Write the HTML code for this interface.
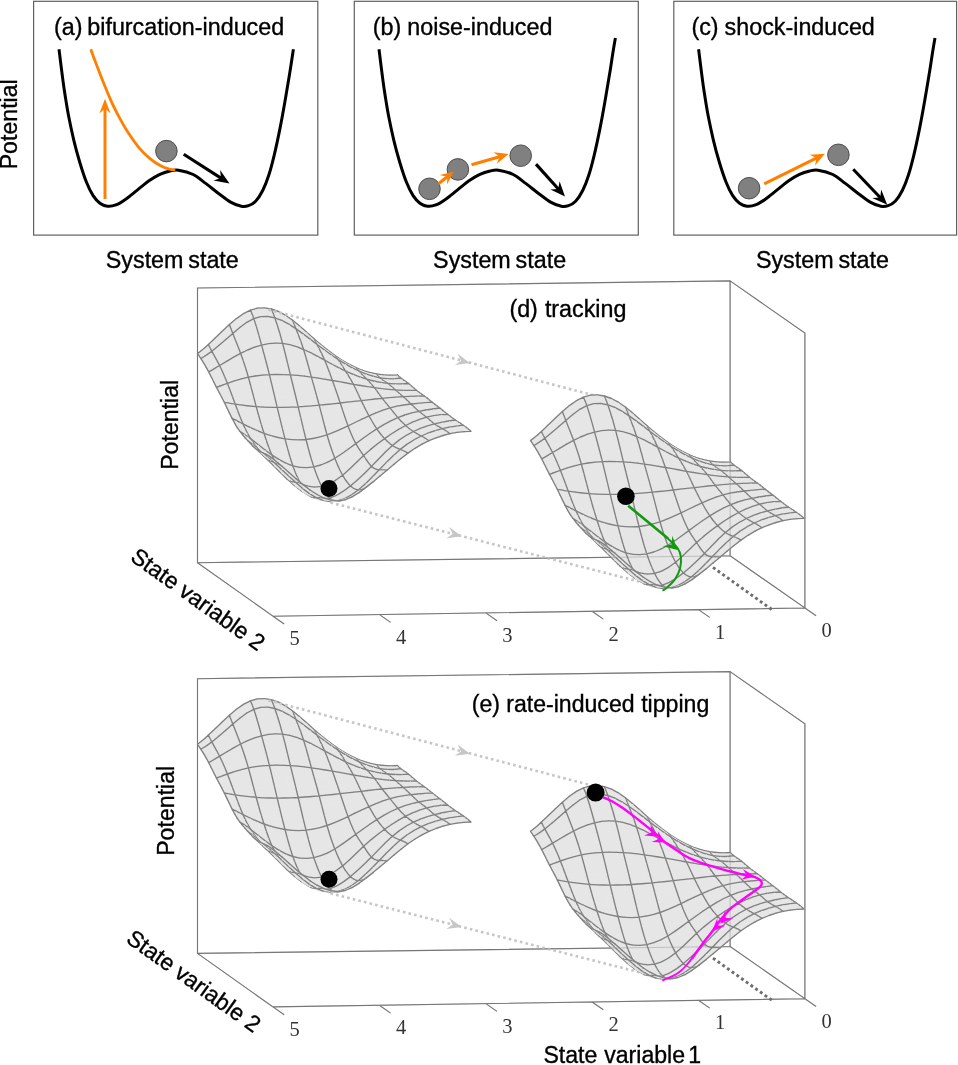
<!DOCTYPE html><html><head><meta charset="utf-8"><title>Tipping mechanisms</title>
<style>html,body{margin:0;padding:0;background:#fff}svg{display:block}text{font-family:"Liberation Sans", sans-serif;fill:#000;stroke:#000;stroke-width:.35}.s{font-family:"Liberation Serif", serif;fill:#333;stroke:none}g.sf path{fill:#e6e6e6;stroke:#e6e6e6;stroke-width:.6;stroke-linejoin:round}g.sf path.l{fill:none;stroke:#808080;stroke-width:1.35;stroke-linecap:round}</style></head><body>
<svg width="958" height="1065" viewBox="0 0 958 1065">
<rect width="958" height="1065" fill="#fff"/>
<rect x="33.6" y="1.3" width="284.2" height="233.8" fill="#fff" stroke="#606060" stroke-width="1.2"/>
<rect x="354.3" y="1.3" width="284" height="233.8" fill="#fff" stroke="#606060" stroke-width="1.2"/>
<rect x="673.8" y="1.3" width="282.8" height="233.8" fill="#fff" stroke="#606060" stroke-width="1.2"/>
<path d="M59 49.3C59.3 52 60.1 58.5 61 65.4C61.9 72.3 63.1 82.2 64.4 90.7C65.7 99.2 67.1 107.9 68.6 116.1C70.2 124.3 71.9 132.2 73.7 139.8C75.5 147.4 77.5 154.7 79.6 161.7C81.7 168.7 84.1 176.3 86.4 182C88.6 187.7 90.9 192.1 93.1 195.6C95.4 199.1 97.5 201.4 99.9 203.2C102.3 205 104.8 205.9 107.5 206.2C110.2 206.5 112.8 206.1 115.9 204.9C119 203.7 122.4 201.5 126.1 198.9C129.8 196.3 133.9 192.7 137.9 189.6C141.8 186.5 146.1 182.8 149.8 180.3C153.5 177.8 156.5 176 159.9 174.4C163.3 172.8 167 171.7 170.1 171C173.2 170.3 174.7 169.6 178.5 170.2C182.3 170.8 188.7 172.3 193.2 174.5C197.7 176.7 201.5 180.3 205.7 183.4C209.9 186.5 214.1 190.1 218.2 193.2C222.4 196.3 226.8 199.9 230.6 202.1C234.5 204.3 238.3 205.6 241.3 206.2C244.3 206.8 246.1 206.5 248.5 205.7C250.9 204.9 253.2 203.7 255.6 201.2C258 198.7 260.5 194.9 262.7 190.5C264.9 186.1 267.1 180.4 269 174.5C270.9 168.6 272.5 162.2 274.3 154.8C276.1 147.4 277.9 138.8 279.7 129.9C281.5 121 283.4 110.5 285 101.3C286.6 92.1 288.1 83.3 289.5 74.6C290.9 65.9 292.8 53.5 293.4 49.3" fill="none" stroke="#000" stroke-width="3.0" stroke-linejoin="round"/>
<path d="M90.8 49.2C91.8 52.1 94.8 60.4 97.1 66.3C99.3 72.2 101.9 78.8 104.3 84.7C106.7 90.6 109 96.3 111.5 101.8C114 107.3 116.6 112.3 119.4 117.6C122.2 122.8 125.3 128.3 128.6 133.3C131.9 138.3 135.6 143.6 139.1 147.8C142.6 152 146.2 155.4 149.7 158.3C153.2 161.2 156.9 163.7 160.2 165.5C163.5 167.3 166.9 168.4 169.4 169.1C171.9 169.8 174.3 169.8 175.3 169.9" fill="none" stroke="#ff8000" stroke-width="2.8"/>
<path d="M105 199L105 107.6" stroke="#ff8000" stroke-width="3.0" fill="none"/>
<polygon fill="#ff8000" points="105,98.8 110.6,113.4 105,108.6 99.4,113.4"/>
<circle cx="166.4" cy="151.1" r="10.8" fill="#808080" stroke="#454545" stroke-width="0.9"/>
<path d="M183.7 154.3L221.8 178.6" stroke="#000" stroke-width="3.1" fill="none"/>
<polygon fill="#000" points="229.5,183.4 213.5,180.6 221,178 220.1,170.1"/>
<text y="35" font-size="23.3"><tspan x="54.1">(a) </tspan><tspan x="87.3">bifurcation-induced</tspan></text>
<text transform="translate(17.1 169.3) rotate(-90)" font-size="23" textLength="90" lengthAdjust="spacingAndGlyphs">Potential</text>
<text y="267.7" font-size="23.3"><tspan x="105.8">System </tspan><tspan x="188.3">state</tspan></text>
<text y="267.7" font-size="23.3"><tspan x="433.1">System </tspan><tspan x="515.6">state</tspan></text>
<text y="267.7" font-size="23.3"><tspan x="755.9">System </tspan><tspan x="838.4">state</tspan></text>
<text y="35" font-size="23.3"><tspan x="372.7">(b) </tspan><tspan x="407.3">noise-induced</tspan></text>
<text y="35" font-size="23.3"><tspan x="691.4">(c) </tspan><tspan x="724.6">shock-induced</tspan></text>
<path d="M379 49.3C379.3 52 380.1 58.5 381 65.4C381.9 72.3 383.1 82.2 384.4 90.7C385.7 99.2 387.1 107.9 388.6 116.1C390.2 124.3 391.9 132.2 393.7 139.8C395.5 147.4 397.5 154.7 399.6 161.7C401.7 168.7 404.1 176.3 406.4 182C408.6 187.7 410.9 192.1 413.1 195.6C415.4 199.1 417.5 201.4 419.9 203.2C422.3 205 424.8 205.9 427.5 206.2C430.2 206.5 432.8 206.1 435.9 204.9C439 203.7 442.4 201.5 446.1 198.9C449.8 196.3 453.9 192.7 457.9 189.6C461.8 186.5 466.1 182.8 469.8 180.3C473.5 177.8 476.5 176 479.9 174.4C483.3 172.8 487 171.7 490.1 171C493.2 170.3 494.6 169.6 498.5 170.2C502.4 170.8 508.7 172.3 513.2 174.5C517.7 176.7 521.5 180.3 525.7 183.4C529.9 186.5 534.1 190.1 538.2 193.2C542.4 196.3 546.8 199.9 550.6 202.1C554.5 204.3 558.3 205.6 561.3 206.2C564.3 206.8 566.1 206.5 568.5 205.7C570.9 204.9 573.2 203.7 575.6 201.2C578 198.7 580.5 194.9 582.7 190.5C584.9 186.1 587.1 180.4 589 174.5C590.9 168.6 592.5 162.2 594.3 154.8C596.1 147.4 597.9 138.8 599.7 129.9C601.5 121 603.4 110.5 605 101.3C606.6 92.1 608.1 82.9 609.5 74.6C610.9 66.3 612.1 57.5 613.1 51.4C614.1 45.3 615 40.2 615.4 38" fill="none" stroke="#000" stroke-width="3.0" stroke-linejoin="round"/>
<circle cx="429.5" cy="188.8" r="10.8" fill="#808080" stroke="#454545" stroke-width="0.9"/>
<circle cx="457.9" cy="169.4" r="10.8" fill="#808080" stroke="#454545" stroke-width="0.9"/>
<circle cx="520.7" cy="155.7" r="10.8" fill="#808080" stroke="#454545" stroke-width="0.9"/>
<path d="M438.5 183.7L447.9 176.2" stroke="#ff8000" stroke-width="3.2" fill="none"/>
<polygon fill="#ff8000" points="453.5,171.7 447.1,184.5 447.2,176.7 439.6,175.1"/>
<path d="M471.5 164.8L500.5 156.4" stroke="#ff8000" stroke-width="3.1" fill="none"/>
<polygon fill="#ff8000" points="508.6,154.1 496.8,163.7 499.6,156.7 493.5,152.2"/>
<path d="M536 164.1L559 189.8" stroke="#000" stroke-width="3.1" fill="none"/>
<polygon fill="#000" points="565,196.5 550.4,189.5 558.3,189 559.6,181.2"/>
<path d="M698.6 49.3C698.9 52 699.7 58.5 700.6 65.4C701.5 72.3 702.7 82.2 704 90.7C705.3 99.2 706.7 107.9 708.2 116.1C709.8 124.3 711.5 132.2 713.3 139.8C715.1 147.4 717.1 154.7 719.2 161.7C721.3 168.7 723.8 176.3 726 182C728.2 187.7 730.5 192.1 732.7 195.6C735 199.1 737.1 201.4 739.5 203.2C741.9 205 744.4 205.9 747.1 206.2C749.8 206.5 752.4 206.1 755.5 204.9C758.6 203.7 762 201.5 765.7 198.9C769.4 196.3 773.5 192.7 777.5 189.6C781.5 186.5 785.7 182.8 789.4 180.3C793.1 177.8 796.1 176 799.5 174.4C802.9 172.8 806.6 171.7 809.7 171C812.8 170.3 814.2 169.6 818.1 170.2C822 170.8 828.3 172.3 832.8 174.5C837.3 176.7 841.1 180.3 845.3 183.4C849.5 186.5 853.7 190.1 857.8 193.2C862 196.3 866.4 199.9 870.2 202.1C874.1 204.3 877.9 205.6 880.9 206.2C883.9 206.8 885.7 206.5 888.1 205.7C890.5 204.9 892.8 203.7 895.2 201.2C897.6 198.7 900.1 194.9 902.3 190.5C904.5 186.1 906.7 180.4 908.6 174.5C910.5 168.6 912.1 162.2 913.9 154.8C915.7 147.4 917.5 138.8 919.3 129.9C921.1 121 923 110.5 924.6 101.3C926.2 92.1 927.8 82.9 929.1 74.6C930.5 66.3 931.7 57.5 932.7 51.4C933.7 45.3 934.6 40.2 935 38" fill="none" stroke="#000" stroke-width="3.0" stroke-linejoin="round"/>
<circle cx="749.1" cy="188.2" r="10.8" fill="#808080" stroke="#454545" stroke-width="0.9"/>
<circle cx="838.4" cy="154.8" r="10.8" fill="#808080" stroke="#454545" stroke-width="0.9"/>
<path d="M764.2 183.8L817.3 157.6" stroke="#ff8000" stroke-width="3.1" fill="none"/>
<polygon fill="#ff8000" points="824.9,153.8 815,165.4 816.5,158 809.7,154.7"/>
<path d="M853.2 169.3L880.9 198.2" stroke="#000" stroke-width="3.1" fill="none"/>
<polygon fill="#000" points="887.2,204.7 872.3,198.1 880.2,197.4 881.2,189.6"/>
<g transform="translate(0 0)">
<path d="M197.5 562.7L197.5 288L730.1 280.9L730.1 555.8ZM730.1 280.9L804.9 333.1L804.9 608L730.1 555.8M197.5 562.7L273 616.2L804.9 608M804.9 608l11.2 7.8M698.5 609.6l11.2 7.8M592.1 611.3l11.2 7.8M485.8 612.9l11.2 7.8M379.4 614.6l11.2 7.8M273 616.2l11.2 7.8" fill="none" stroke="#777" stroke-width="1.15"/>
<text class="s" x="826.5" y="637.2" font-size="20.5" text-anchor="middle">0</text>
<text class="s" x="720.1" y="638.8" font-size="20.5" text-anchor="middle">1</text>
<text class="s" x="613.7" y="640.5" font-size="20.5" text-anchor="middle">2</text>
<text class="s" x="507.4" y="642.1" font-size="20.5" text-anchor="middle">3</text>
<text class="s" x="401" y="643.8" font-size="20.5" text-anchor="middle">4</text>
<text class="s" x="294.6" y="645.4" font-size="20.5" text-anchor="middle">5</text>
<g class="sf"><path d="M390.4 375.1l7-.3 1.1 1.2-7 .6z"/>
<path class="l" d="M397.4 374.8l1.1 1.2M390.4 375.1l7-.3"/>
<path d="M383.4 374.8l7 .3 1.1 1.5-7-.2z"/>
<path class="l" d="M383.4 374.8l7 .3"/>
<path d="M376.4 373.9l7 .9 1.1 1.6-7-1z"/>
<path class="l" d="M376.4 373.9l7 .9"/>
<path d="M369.4 372.4l7 1.5 1.1 1.5-7-1.6z"/>
<path class="l" d="M376.4 373.9l1.1 1.5M369.4 372.4l7 1.5"/>
<path d="M362.4 370.3l7 2.1 1.1 1.4-7-2.2z"/>
<path class="l" d="M362.4 370.3l7 2.1"/>
<path d="M355.4 367.4l7 2.9 1.1 1.3-7-3z"/>
<path class="l" d="M355.4 367.4l7 2.9"/>
<path d="M348.4 363.9l7 3.5 1.1 1.2-7-3.5z"/>
<path class="l" d="M355.4 367.4l1.1 1.2M348.4 363.9l7 3.5"/>
<path d="M341.4 359.8l7 4.1 1.1 1.2-7-4.1z"/>
<path class="l" d="M341.4 359.8l7 4.1"/>
<path d="M391.5 376.6l7-.6 1.2 1.1-7 .7z"/>
<path class="l" d="M398.5 376l1.2 1.1"/>
<path d="M334.4 355.1l7 4.7 1.1 1.2-7-4.6z"/>
<path class="l" d="M334.4 355.1l7 4.7"/>
<path d="M384.5 376.4l7 .2 1.2 1.2-7-.1zM377.5 375.4l7 1 1.2 1.3-7-1zM327.4 349.9l7 5.2 1.1 1.3-7-5z"/>
<path class="l" d="M334.4 355.1l1.1 1.3M327.4 349.9l7 5.2"/>
<path d="M370.5 373.8l7 1.6 1.2 1.3-7-1.6z"/>
<path class="l" d="M377.5 375.4l1.2 1.3"/>
<path d="M320.4 344.3l7 5.6 1.1 1.5-7-5.4z"/>
<path class="l" d="M320.4 344.3l7 5.6"/>
<path d="M363.5 371.6l7 2.2 1.2 1.3-7-2.3zM313.4 338.3l7 6 1.1 1.7-7-5.8z"/>
<path class="l" d="M313.4 338.3l7 6"/>
<path d="M356.5 368.6l7 3 1.2 1.2-7-3zM306.4 331.9l7 6.4 1.1 1.9-7-5.9z"/>
<path class="l" d="M313.4 338.3l1.1 1.9M306.4 331.9l7 6.4"/>
<path d="M349.5 365.1l7 3.5 1.2 1.2-7-3.5z"/>
<path class="l" d="M356.5 368.6l1.2 1.2"/>
<path d="M342.5 361l7 4.1 1.2 1.2-7-4zM299.4 325.7l7 6.2 1.1 2.4-7-5.9z"/>
<path class="l" d="M299.4 325.7l7 6.2"/>
<path d="M392.7 377.8l7-.7 1.1 .9-7 .8z"/>
<path class="l" d="M399.7 377.1l1.1 .9"/>
<path d="M335.5 356.4l7 4.6 1.2 1.3-7-4.5zM292.4 320l7 5.7 1.1 2.7-7-5.5z"/>
<path class="l" d="M292.4 320l7 5.7"/>
<path d="M385.7 377.7l7 .1 1.1 1-7-.1zM378.7 376.7l7 1 1.1 1-7-.8zM328.5 351.4l7 5 1.2 1.4-7-4.9z"/>
<path class="l" d="M335.5 356.4l1.2 1.4"/>
<path d="M285.4 315.2l7 4.8 1.1 2.9-7-4.7z"/>
<path class="l" d="M292.4 320l1.1 2.9M285.4 315.2l7 4.8"/>
<path d="M371.7 375.1l7 1.6 1.1 1.2-7-1.7z"/>
<path class="l" d="M378.7 376.7l1.1 1.2"/>
<path d="M321.5 346l7 5.4 1.2 1.5-7-5.2zM278.4 311.5l7 3.7 1.1 3-7-3.8z"/>
<path class="l" d="M278.4 311.5l7 3.7"/>
<path d="M364.7 372.8l7 2.3 1.1 1.1-7-2.3zM314.5 340.2l7 5.8 1.2 1.7-7-5.5zM271.4 309l7 2.5 1.1 2.9-7-2.6z"/>
<path class="l" d="M271.4 309l7 2.5"/>
<path d="M357.7 369.8l7 3 1.1 1.1-7-2.9zM264.4 307.9l7 1.1 1.1 2.8-7-1.3z"/>
<path class="l" d="M271.4 309l1.1 2.8M264.4 307.9l7 1.1"/>
<path d="M307.5 334.3l7 5.9 1.2 2-7-5.6z"/>
<path class="l" d="M314.5 340.2l1.2 2"/>
<path d="M350.7 366.3l7 3.5 1.1 1.2-7-3.4z"/>
<path class="l" d="M357.7 369.8l1.1 1.2"/>
<path d="M257.4 308.2l7-.3 1.1 2.6-7 .2z"/>
<path class="l" d="M257.4 308.2l7-.3"/>
<path d="M250.4 310.1l7-1.9 1.1 2.5-7 1.9z"/>
<path class="l" d="M250.4 310.1l7-1.9"/>
<path d="M343.7 362.3l7 4 1.1 1.3-7-4zM300.5 328.4l7 5.9 1.2 2.3-7-5.6zM243.4 313.7l7-3.6 1.1 2.5-7 3.7z"/>
<path class="l" d="M250.4 310.1l1.1 2.5M243.4 313.7l7-3.6"/>
<path d="M236.4 318.6l7-4.9 1.1 2.6-7 5.2z"/>
<path class="l" d="M236.4 318.6l7-4.9"/>
<path d="M336.7 357.8l7 4.5 1.1 1.3-7-4.3zM229.4 324.5l7-5.9 1.1 2.9-7 6z"/>
<path class="l" d="M229.4 324.5l7-5.9"/>
<path d="M293.5 322.9l7 5.5 1.2 2.6-7-5.3zM222.4 331l7-6.5 1.1 3-7 6.5z"/>
<path class="l" d="M229.4 324.5l1.1 3M222.4 331l7-6.5"/>
<path d="M215.4 337.8l7-6.8 1.1 3-7 6.5z"/>
<path class="l" d="M215.4 337.8l7-6.8"/>
<path d="M208.4 344.4l7-6.6 1.1 2.7-7 6.3z"/>
<path class="l" d="M208.4 344.4l7-6.6"/>
<path d="M204.8 347.7l3.6-3.3 1.1 2.4-3.6 3z"/>
<path class="l" d="M208.4 344.4l1.1 2.4M204.8 347.7l3.6-3.3"/>
<path d="M201.1 350.8l3.7-3.1 1.1 2.1-3.6 2.8z"/>
<path class="l" d="M201.1 350.8l3.7-3.1"/>
<path d="M329.7 352.9l7 4.9 1.1 1.5-7-4.8z"/>
<path class="l" d="M336.7 357.8l1.1 1.5"/>
<path d="M197.5 353.6l3.6-2.8 1.2 1.8-3.7 2.6z"/>
<path class="l" d="M197.5 353.6l1.1 1.6M197.5 353.6l3.6-2.8"/>
<path d="M286.5 318.2l7 4.7 1.2 2.8-7-4.6z"/>
<path class="l" d="M293.5 322.9l1.2 2.8"/>
<path d="M322.7 347.7l7 5.2 1.1 1.6-7-5zM279.5 314.4l7 3.8 1.2 2.9-7-3.7zM272.5 311.8l7 2.6 1.2 3-7-2.7zM315.7 342.2l7 5.5 1.1 1.8-7-5.2zM393.8 378.8l7-.8 2.6 1.9-7 .8z"/>
<path class="l" d="M400.8 378l2.6 1.9M393.8 378.8l7-.8"/>
<path d="M265.5 310.5l7 1.3 1.2 2.9-7-1.3z"/>
<path class="l" d="M272.5 311.8l1.2 2.9"/>
<path d="M308.7 336.6l7 5.6 1.1 2.1-7-5.4z"/>
<path class="l" d="M315.7 342.2l1.1 2.1"/>
<path d="M386.8 378.7l7 .1 2.6 1.9-7 0z"/>
<path class="l" d="M386.8 378.7l7 .1"/>
<path d="M258.5 310.7l7-.2 1.2 2.9-7 .1zM379.8 377.9l7 .8 2.6 2-7-.8z"/>
<path class="l" d="M379.8 377.9l7 .8"/>
<path d="M251.5 312.6l7-1.9 1.2 2.8-7 1.9zM301.7 331l7 5.6 1.1 2.3-7-5.3zM244.5 316.3l7-3.7 1.2 2.8-7 3.8z"/>
<path class="l" d="M251.5 312.6l1.2 2.8"/>
<path d="M372.8 376.2l7 1.7 2.6 2-7-1.4z"/>
<path class="l" d="M379.8 377.9l2.6 2M372.8 376.2l7 1.7"/>
<path d="M237.5 321.5l7-5.2 1.2 2.9-7 5.2zM230.5 327.5l7-6 1.2 2.9-7 6.1zM294.7 325.7l7 5.3 1.1 2.6-7-5zM223.5 334l7-6.5 1.2 3-7 6.3z"/>
<path class="l" d="M230.5 327.5l1.2 3"/>
<path d="M365.8 373.9l7 2.3 2.6 2.3-7-2.1z"/>
<path class="l" d="M365.8 373.9l7 2.3"/>
<path d="M216.5 340.5l7-6.5 1.2 2.8-7 6.3zM209.5 346.8l7-6.3 1.2 2.6-7 5.9zM205.9 349.8l3.6-3 1.2 2.2-3.7 2.9z"/>
<path class="l" d="M209.5 346.8l1.2 2.2"/>
<path d="M202.3 352.6l3.6-2.8 1.1 2.1-3.6 2.6zM287.7 321.1l7 4.6 1.1 2.9-7-4.5z"/>
<path class="l" d="M294.7 325.7l1.1 2.9"/>
<path d="M198.6 355.2l3.7-2.6 1.1 1.9-3.6 2.4z"/>
<path class="l" d="M198.6 355.2l1.2 1.7"/>
<path d="M358.8 371l7 2.9 2.6 2.5-7-2.6z"/>
<path class="l" d="M358.8 371l7 2.9"/>
<path d="M280.7 317.4l7 3.7 1.1 3-7-3.7zM351.8 367.6l7 3.4 2.6 2.8-7-3.2z"/>
<path class="l" d="M358.8 371l2.6 2.8M351.8 367.6l7 3.4"/>
<path d="M273.7 314.7l7 2.7 1.1 3-7-2.6zM344.8 363.6l7 4 2.6 3-7-3.6z"/>
<path class="l" d="M344.8 363.6l7 4"/>
<path d="M266.7 313.4l7 1.3 1.1 3.1-7-1.3z"/>
<path class="l" d="M273.7 314.7l1.1 3.1"/>
<path d="M337.8 359.3l7 4.3 2.6 3.4-7-4z"/>
<path class="l" d="M337.8 359.3l7 4.3"/>
<path d="M259.7 313.5l7-.1 1.1 3.1-7 .2zM330.8 354.5l7 4.8 2.6 3.7-7-4.4z"/>
<path class="l" d="M337.8 359.3l2.6 3.7M330.8 354.5l7 4.8"/>
<path d="M252.7 315.4l7-1.9 1.1 3.2-7 1.9zM245.7 319.2l7-3.8 1.1 3.2-7 3.7z"/>
<path class="l" d="M252.7 315.4l1.1 3.2"/>
<path d="M238.7 324.4l7-5.2 1.1 3.1-7 5.2zM323.8 349.5l7 5 2.6 4.1-7-4.6z"/>
<path class="l" d="M323.8 349.5l7 5"/>
<path d="M231.7 330.5l7-6.1 1.1 3.1-7 5.9zM224.7 336.8l7-6.3 1.1 2.9-7 6.1z"/>
<path class="l" d="M231.7 330.5l1.1 2.9"/>
<path d="M217.7 343.1l7-6.3 1.1 2.7-7 6zM210.7 349l7-5.9 1.1 2.4-7 5.7zM316.8 344.3l7 5.2 2.6 4.5-7-4.9z"/>
<path class="l" d="M316.8 344.3l7 5.2"/>
<path d="M207 351.9l3.7-2.9 1.1 2.2-3.6 2.7z"/>
<path class="l" d="M210.7 349l1.1 2.2"/>
<path d="M203.4 354.5l3.6-2.6 1.2 2-3.6 2.4zM199.8 356.9l3.6-2.4 1.2 1.8-3.7 2.3z"/>
<path class="l" d="M199.8 356.9l1.1 1.7"/>
<path d="M309.8 338.9l7 5.4 2.6 4.8-7-4.9z"/>
<path class="l" d="M316.8 344.3l2.6 4.8M309.8 338.9l7 5.4"/>
<path d="M302.8 333.6l7 5.3 2.6 5.3-7-4.7z"/>
<path class="l" d="M302.8 333.6l7 5.3"/>
<path d="M295.8 328.6l7 5 2.6 5.9-7-4.5z"/>
<path class="l" d="M295.8 328.6l7 5"/>
<path d="M288.8 324.1l7 4.5 2.6 6.4-7-4z"/>
<path class="l" d="M295.8 328.6l2.6 6.4M288.8 324.1l7 4.5"/>
<path d="M396.4 380.7l7-.8 2.6 1.7-7 .6z"/>
<path class="l" d="M403.4 379.9l2.6 1.7"/>
<path d="M281.8 320.4l7 3.7 2.6 6.9-7-3.2z"/>
<path class="l" d="M281.8 320.4l7 3.7"/>
<path d="M389.4 380.7l7 0 2.6 1.5-7 0zM274.8 317.8l7 2.6 2.6 7.4-7-2.3z"/>
<path class="l" d="M274.8 317.8l7 2.6"/>
<path d="M382.4 379.9l7 .8 2.6 1.5-7-.6zM267.8 316.5l7 1.3 2.6 7.7-7-1z"/>
<path class="l" d="M274.8 317.8l2.6 7.7M267.8 316.5l7 1.3"/>
<path d="M375.4 378.5l7 1.4 2.6 1.7-7-1.2z"/>
<path class="l" d="M382.4 379.9l2.6 1.7"/>
<path d="M260.8 316.7l7-.2 2.6 8-7 .3z"/>
<path class="l" d="M260.8 316.7l7-.2"/>
<path d="M368.4 376.4l7 2.1 2.6 1.9-7-1.7zM253.8 318.6l7-1.9 2.6 8.1-7 1.8z"/>
<path class="l" d="M253.8 318.6l7-1.9"/>
<path d="M361.4 373.8l7 2.6 2.6 2.3-7-2.2zM246.8 322.3l7-3.7 2.6 8-7 3.5z"/>
<path class="l" d="M253.8 318.6l2.6 8M246.8 322.3l7-3.7"/>
<path d="M239.8 327.5l7-5.2 2.6 7.8-7 4.6z"/>
<path class="l" d="M239.8 327.5l7-5.2"/>
<path d="M232.8 333.4l7-5.9 2.6 7.2-7 5.2z"/>
<path class="l" d="M232.8 333.4l7-5.9"/>
<path d="M354.4 370.6l7 3.2 2.6 2.7-7-2.8z"/>
<path class="l" d="M361.4 373.8l2.6 2.7"/>
<path d="M225.8 339.5l7-6.1 2.6 6.5-7 5.5z"/>
<path class="l" d="M232.8 333.4l2.6 6.5M225.8 339.5l7-6.1"/>
<path d="M218.8 345.5l7-6 2.6 5.9-7 5.4z"/>
<path class="l" d="M218.8 345.5l7-6"/>
<path d="M211.8 351.2l7-5.7 2.6 5.3-7 5.1z"/>
<path class="l" d="M211.8 351.2l7-5.7"/>
<path d="M208.2 353.9l3.6-2.7 2.6 4.7-3.6 2.4z"/>
<path class="l" d="M211.8 351.2l2.6 4.7M208.2 353.9l3.6-2.7"/>
<path d="M347.4 367l7 3.6 2.6 3.1-7-3.1zM204.6 356.3l3.6-2.4 2.6 4.4-3.6 2.3z"/>
<path class="l" d="M204.6 356.3l3.6-2.4"/>
<path d="M200.9 358.6l3.7-2.3 2.6 4.3-3.7 2.1z"/>
<path class="l" d="M200.9 358.6l2.6 4.1M200.9 358.6l3.7-2.3"/>
<path d="M340.4 363l7 4 2.6 3.6-7-3.6zM333.4 358.6l7 4.4 2.6 4-7-4z"/>
<path class="l" d="M340.4 363l2.6 4"/>
<path d="M326.4 354l7 4.6 2.6 4.4-7-4.2zM319.4 349.1l7 4.9 2.6 4.8-7-4.4zM312.4 344.2l7 4.9 2.6 5.3-7-4.4z"/>
<path class="l" d="M319.4 349.1l2.6 5.3"/>
<path d="M305.4 339.5l7 4.7 2.6 5.8-7-4.3zM298.4 335l7 4.5 2.6 6.2-7-3.9zM291.4 331l7 4 2.6 6.8-7-3.4z"/>
<path class="l" d="M298.4 335l2.6 6.8"/>
<path d="M284.4 327.8l7 3.2 2.6 7.4-7-2.6zM399 382.2l7-.6 2.6 1.9-7 .4z"/>
<path class="l" d="M406 381.6l2.6 1.9"/>
<path d="M392 382.2l7 0 2.6 1.7-7-.1zM277.4 325.5l7 2.3 2.6 8-7-1.8zM385 381.6l7 .6 2.6 1.6-7-.5zM270.4 324.5l7 1 2.6 8.5-7-.6z"/>
<path class="l" d="M277.4 325.5l2.6 8.5"/>
<path d="M378 380.4l7 1.2 2.6 1.7-7-.9z"/>
<path class="l" d="M385 381.6l2.6 1.7"/>
<path d="M263.4 324.8l7-.3 2.6 8.9-7 .5zM256.4 326.6l7-1.8 2.6 9.1-7 1.7zM371 378.7l7 1.7 2.6 2-7-1.4zM249.4 330.1l7-3.5 2.6 9-7 2.9z"/>
<path class="l" d="M256.4 326.6l2.6 9"/>
<path d="M364 376.5l7 2.2 2.6 2.3-7-1.9zM242.4 334.7l7-4.6 2.6 8.4-7 3.7zM235.4 339.9l7-5.2 2.6 7.5-7 4.3zM228.4 345.4l7-5.5 2.6 6.6-7 4.6z"/>
<path class="l" d="M235.4 339.9l2.6 6.6"/>
<path d="M357 373.7l7 2.8 2.6 2.6-7-2.2z"/>
<path class="l" d="M364 376.5l2.6 2.6"/>
<path d="M221.4 350.8l7-5.4 2.6 5.7-7 4.8zM214.4 355.9l7-5.1 2.6 5.1-7 4.7zM210.8 358.3l3.6-2.4 2.6 4.7-3.6 2.3z"/>
<path class="l" d="M214.4 355.9l2.6 4.7"/>
<path d="M350 370.6l7 3.1 2.6 3.2-7-2.7zM207.2 360.6l3.6-2.3 2.6 4.6-3.6 2.2zM203.5 362.7l3.7-2.1 2.6 4.5-3.7 2z"/>
<path class="l" d="M203.5 362.7l2.6 4.4"/>
<path d="M343 367l7 3.6 2.6 3.6-7-3.1zM336 363l7 4 2.6 4.1-7-3.4z"/>
<path class="l" d="M343 367l2.6 4.1"/>
<path d="M329 358.8l7 4.2 2.6 4.7-7-3.7zM322 354.4l7 4.4 2.6 5.2-7-3.9zM315 350l7 4.4 2.6 5.7-7-3.8z"/>
<path class="l" d="M322 354.4l2.6 5.7"/>
<path d="M308 345.7l7 4.3 2.6 6.3-7-3.6zM301 341.8l7 3.9 2.6 7-7-3.2zM294 338.4l7 3.4 2.6 7.7-7-2.8z"/>
<path class="l" d="M301 341.8l2.6 7.7"/>
<path d="M287 335.8l7 2.6 2.6 8.3-7-2.1zM401.6 383.9l7-.4 2.6 2.2-7 .2z"/>
<path class="l" d="M408.6 383.5l2.6 2.2M401.6 383.9l7-.4"/>
<path d="M280 334l7 1.8 2.6 8.8-7-1.2zM394.6 383.8l7 .1 2.6 2-7-.1z"/>
<path class="l" d="M394.6 383.8l7 .1"/>
<path d="M273 333.4l7 .6 2.6 9.4-7-.3z"/>
<path class="l" d="M280 334l2.6 9.4"/>
<path d="M387.6 383.3l7 .5 2.6 2-7-.4z"/>
<path class="l" d="M387.6 383.3l7 .5"/>
<path d="M266 333.9l7-.5 2.6 9.7-7 .6zM380.6 382.4l7 .9 2.6 2.1-7-.9z"/>
<path class="l" d="M387.6 383.3l2.6 2.1M380.6 382.4l7 .9"/>
<path d="M259 335.6l7-1.7 2.6 9.8-7 1.4zM252 338.5l7-2.9 2.6 9.5-7 2.1z"/>
<path class="l" d="M259 335.6l2.6 9.5"/>
<path d="M373.6 381l7 1.4 2.6 2.1-7-1.2z"/>
<path class="l" d="M373.6 381l7 1.4"/>
<path d="M245 342.2l7-3.7 2.6 8.7-7 2.8zM366.6 379.1l7 1.9 2.6 2.3-7-1.5z"/>
<path class="l" d="M366.6 379.1l7 1.9"/>
<path d="M238 346.5l7-4.3 2.6 7.8-7 3.3zM231 351.1l7-4.6 2.6 6.8-7 3.8z"/>
<path class="l" d="M238 346.5l2.6 6.8"/>
<path d="M224 355.9l7-4.8 2.6 6-7 4.2zM359.6 376.9l7 2.2 2.6 2.7-7-1.9z"/>
<path class="l" d="M366.6 379.1l2.6 2.7M359.6 376.9l7 2.2"/>
<path d="M217 360.6l7-4.7 2.6 5.4-7 4.2zM213.4 362.9l3.6-2.3 2.6 4.9-3.6 2.2z"/>
<path class="l" d="M217 360.6l2.6 4.9"/>
<path d="M209.8 365.1l3.6-2.2 2.6 4.8-3.6 2.1zM352.6 374.2l7 2.7 2.6 3-7-2.1z"/>
<path class="l" d="M352.6 374.2l7 2.7"/>
<path d="M206.1 367.1l3.7-2 2.6 4.7-3.7 2.1z"/>
<path class="l" d="M206.1 367.1l2.6 4.8"/>
<path d="M345.6 371.1l7 3.1 2.6 3.6-7-2.5z"/>
<path class="l" d="M345.6 371.1l7 3.1"/>
<path d="M338.6 367.7l7 3.4 2.6 4.2-7-2.8z"/>
<path class="l" d="M345.6 371.1l2.6 4.2M338.6 367.7l7 3.4"/>
<path d="M331.6 364l7 3.7 2.6 4.8-7-3z"/>
<path class="l" d="M331.6 364l7 3.7"/>
<path d="M324.6 360.1l7 3.9 2.6 5.5-7-3z"/>
<path class="l" d="M324.6 360.1l7 3.9"/>
<path d="M317.6 356.3l7 3.8 2.6 6.4-7-3z"/>
<path class="l" d="M324.6 360.1l2.6 6.4M317.6 356.3l7 3.8"/>
<path d="M310.6 352.7l7 3.6 2.6 7.2-7-2.8z"/>
<path class="l" d="M310.6 352.7l7 3.6"/>
<path d="M303.6 349.5l7 3.2 2.6 8-7-2.5z"/>
<path class="l" d="M303.6 349.5l7 3.2"/>
<path d="M296.6 346.7l7 2.8 2.6 8.7-7-2.1z"/>
<path class="l" d="M303.6 349.5l2.6 8.7M296.6 346.7l7 2.8"/>
<path d="M289.6 344.6l7 2.1 2.6 9.4-7-1.6z"/>
<path class="l" d="M289.6 344.6l7 2.1"/>
<path d="M282.6 343.4l7 1.2 2.6 9.9-7-1z"/>
<path class="l" d="M282.6 343.4l7 1.2"/>
<path d="M404.2 385.9l7-.2 2.6 2.3-7 .2z"/>
<path class="l" d="M411.2 385.7l2.6 2.3"/>
<path d="M275.6 343.1l7 .3 2.6 10.1-7-.2z"/>
<path class="l" d="M282.6 343.4l2.6 10.1M275.6 343.1l7 .3"/>
<path d="M397.2 385.8l7 .1 2.6 2.3-7-.1zM268.6 343.7l7-.6 2.6 10.2-7 .4z"/>
<path class="l" d="M268.6 343.7l7-.6"/>
<path d="M390.2 385.4l7 .4 2.6 2.3-7-.5zM261.6 345.1l7-1.4 2.6 10-7 1z"/>
<path class="l" d="M261.6 345.1l7-1.4"/>
<path d="M383.2 384.5l7 .9 2.6 2.2-7-.7z"/>
<path class="l" d="M390.2 385.4l2.6 2.2"/>
<path d="M254.6 347.2l7-2.1 2.6 9.6-7 1.4z"/>
<path class="l" d="M261.6 345.1l2.6 9.6M254.6 347.2l7-2.1"/>
<path d="M247.6 350l7-2.8 2.6 8.9-7 2z"/>
<path class="l" d="M247.6 350l7-2.8"/>
<path d="M376.2 383.3l7 1.2 2.6 2.4-7-1zM240.6 353.3l7-3.3 2.6 8.1-7 2.5z"/>
<path class="l" d="M240.6 353.3l7-3.3"/>
<path d="M369.2 381.8l7 1.5 2.6 2.6-7-1.3zM233.6 357.1l7-3.8 2.6 7.3-7 3.1z"/>
<path class="l" d="M240.6 353.3l2.6 7.3M233.6 357.1l7-3.8"/>
<path d="M226.6 361.3l7-4.2 2.6 6.6-7 3.5z"/>
<path class="l" d="M226.6 361.3l7-4.2"/>
<path d="M362.2 379.9l7 1.9 2.6 2.8-7-1.5z"/>
<path class="l" d="M369.2 381.8l2.6 2.8"/>
<path d="M219.6 365.5l7-4.2 2.6 5.9-7 3.8z"/>
<path class="l" d="M219.6 365.5l7-4.2"/>
<path d="M216 367.7l3.6-2.2 2.6 5.5-3.6 2z"/>
<path class="l" d="M219.6 365.5l2.6 5.5M216 367.7l3.6-2.2"/>
<path d="M212.4 369.8l3.6-2.1 2.6 5.3-3.6 2z"/>
<path class="l" d="M212.4 369.8l3.6-2.1"/>
<path d="M355.2 377.8l7 2.1 2.6 3.2-7-1.7zM208.7 371.9l3.7-2.1 2.6 5.2-3.7 2z"/>
<path class="l" d="M208.7 371.9l2.6 5.1M208.7 371.9l3.7-2.1"/>
<path d="M348.2 375.3l7 2.5 2.6 3.6-7-1.8zM341.2 372.5l7 2.8 2.6 4.3-7-2.1z"/>
<path class="l" d="M348.2 375.3l2.6 4.3"/>
<path d="M334.2 369.5l7 3 2.6 5-7-2.1zM327.2 366.5l7 3 2.6 5.9-7-2.1zM320.2 363.5l7 3 2.6 6.8-7-2.1z"/>
<path class="l" d="M327.2 366.5l2.6 6.8"/>
<path d="M313.2 360.7l7 2.8 2.6 7.7-7-1.9zM306.2 358.2l7 2.5 2.6 8.6-7-1.8zM299.2 356.1l7 2.1 2.6 9.3-7-1.4z"/>
<path class="l" d="M306.2 358.2l2.6 9.3"/>
<path d="M292.2 354.5l7 1.6 2.6 10-7-1.2zM285.2 353.5l7 1 2.6 10.4-7-.7zM278.2 353.3l7 .2 2.6 10.7-7-.4z"/>
<path class="l" d="M285.2 353.5l2.6 10.7"/>
<path d="M406.8 388.2l7-.2 2.6 2.3-7 .1z"/>
<path class="l" d="M413.8 388l2.6 2.3"/>
<path d="M271.2 353.7l7-.4 2.6 10.5-7 .2zM399.8 388.1l7 .1 2.6 2.2-7-.1zM264.2 354.7l7-1 2.6 10.3-7 .5zM392.8 387.6l7 .5 2.6 2.2-7-.4zM257.2 356.1l7-1.4 2.6 9.8-7 .9z"/>
<path class="l" d="M264.2 354.7l2.6 9.8"/>
<path d="M385.8 386.9l7 .7 2.6 2.3-7-.5z"/>
<path class="l" d="M392.8 387.6l2.6 2.3"/>
<path d="M250.2 358.1l7-2 2.6 9.3-7 1.3zM378.8 385.9l7 1 2.6 2.5-7-.8zM243.2 360.6l7-2.5 2.6 8.6-7 1.8zM236.2 363.7l7-3.1 2.6 7.9-7 2.4z"/>
<path class="l" d="M243.2 360.6l2.6 7.9"/>
<path d="M371.8 384.6l7 1.3 2.6 2.7-7-.9zM229.2 367.2l7-3.5 2.6 7.2-7 2.8zM222.2 371l7-3.8 2.6 6.5-7 3.2zM364.8 383.1l7 1.5 2.6 3.1-7-1.1z"/>
<path class="l" d="M371.8 384.6l2.6 3.1"/>
<path d="M218.6 373l3.6-2 2.6 5.9-3.6 1.8z"/>
<path class="l" d="M222.2 371l2.6 5.9"/>
<path d="M215 375l3.6-2 2.6 5.7-3.6 1.7zM211.3 377l3.7-2 2.6 5.4-3.7 1.9z"/>
<path class="l" d="M211.3 377l2.6 5.3"/>
<path d="M357.8 381.4l7 1.7 2.6 3.5-7-1.1zM350.8 379.6l7 1.8 2.6 4.1-7-1.2zM343.8 377.5l7 2.1 2.6 4.7-7-1.3z"/>
<path class="l" d="M350.8 379.6l2.6 4.7"/>
<path d="M336.8 375.4l7 2.1 2.6 5.5-7-1.3zM329.8 373.3l7 2.1 2.6 6.3-7-1.2zM322.8 371.2l7 2.1 2.6 7.2-7-1.2z"/>
<path class="l" d="M329.8 373.3l2.6 7.2"/>
<path d="M315.8 369.3l7 1.9 2.6 8.1-7-1.2zM308.8 367.5l7 1.8 2.6 8.8-7-1zM301.8 366.1l7 1.4 2.6 9.6-7-.9z"/>
<path class="l" d="M308.8 367.5l2.6 9.6"/>
<path d="M294.8 364.9l7 1.2 2.6 10.1-7-.8zM287.8 364.2l7 .7 2.6 10.5-7-.5zM280.8 363.8l7 .4 2.6 10.7-7-.3z"/>
<path class="l" d="M287.8 364.2l2.6 10.7"/>
<path d="M273.8 364l7-.2 2.6 10.8-7-.1zM409.4 390.4l7-.1 2.6 2-7 .1z"/>
<path class="l" d="M416.4 390.3l2.6 2M409.4 390.4l7-.1"/>
<path d="M266.8 364.5l7-.5 2.6 10.5-7 .2zM402.4 390.3l7 .1 2.6 2-7-.1z"/>
<path class="l" d="M402.4 390.3l7 .1"/>
<path d="M259.8 365.4l7-.9 2.6 10.2-7 .4z"/>
<path class="l" d="M266.8 364.5l2.6 10.2"/>
<path d="M395.4 389.9l7 .4 2.6 2-7-.1z"/>
<path class="l" d="M395.4 389.9l7 .4"/>
<path d="M252.8 366.7l7-1.3 2.6 9.7-7 .9zM388.4 389.4l7 .5 2.6 2.3-7-.3z"/>
<path class="l" d="M395.4 389.9l2.6 2.3M388.4 389.4l7 .5"/>
<path d="M245.8 368.5l7-1.8 2.6 9.3-7 1.2zM381.4 388.6l7 .8 2.6 2.5-7-.3z"/>
<path class="l" d="M381.4 388.6l7 .8"/>
<path d="M238.8 370.9l7-2.4 2.6 8.7-7 1.7z"/>
<path class="l" d="M245.8 368.5l2.6 8.7"/>
<path d="M231.8 373.7l7-2.8 2.6 8-7 2zM374.4 387.7l7 .9 2.6 3-7-.5z"/>
<path class="l" d="M374.4 387.7l7 .9"/>
<path d="M224.8 376.9l7-3.2 2.6 7.2-7 2.4zM367.4 386.6l7 1.1 2.6 3.4-7-.5z"/>
<path class="l" d="M374.4 387.7l2.6 3.4M367.4 386.6l7 1.1"/>
<path d="M221.2 378.7l3.6-1.8 2.6 6.4-3.6 1.3z"/>
<path class="l" d="M224.8 376.9l2.6 6.4"/>
<path d="M217.6 380.4l3.6-1.7 2.6 5.9-3.6 1.4zM213.9 382.3l3.7-1.9 2.6 5.6-3.7 1.4z"/>
<path class="l" d="M213.9 382.3l2.6 5.1"/>
<path d="M360.4 385.5l7 1.1 2.6 4-7-.5z"/>
<path class="l" d="M360.4 385.5l7 1.1"/>
<path d="M353.4 384.3l7 1.2 2.6 4.6-7-.6z"/>
<path class="l" d="M353.4 384.3l7 1.2"/>
<path d="M346.4 383l7 1.3 2.6 5.2-7-.6z"/>
<path class="l" d="M353.4 384.3l2.6 5.2M346.4 383l7 1.3"/>
<path d="M339.4 381.7l7 1.3 2.6 5.9-7-.6z"/>
<path class="l" d="M339.4 381.7l7 1.3"/>
<path d="M332.4 380.5l7 1.2 2.6 6.6-7-.5z"/>
<path class="l" d="M332.4 380.5l7 1.2"/>
<path d="M325.4 379.3l7 1.2 2.6 7.3-7-.5z"/>
<path class="l" d="M332.4 380.5l2.6 7.3M325.4 379.3l7 1.2"/>
<path d="M318.4 378.1l7 1.2 2.6 8-7-.5z"/>
<path class="l" d="M318.4 378.1l7 1.2"/>
<path d="M311.4 377.1l7 1 2.6 8.7-7-.4z"/>
<path class="l" d="M311.4 377.1l7 1"/>
<path d="M304.4 376.2l7 .9 2.6 9.3-7-.4z"/>
<path class="l" d="M311.4 377.1l2.6 9.3M304.4 376.2l7 .9"/>
<path d="M297.4 375.4l7 .8 2.6 9.8-7-.3z"/>
<path class="l" d="M297.4 375.4l7 .8"/>
<path d="M290.4 374.9l7 .5 2.6 10.3-7-.2z"/>
<path class="l" d="M290.4 374.9l7 .5"/>
<path d="M283.4 374.6l7 .3 2.6 10.6-7-.2z"/>
<path class="l" d="M290.4 374.9l2.6 10.6M283.4 374.6l7 .3"/>
<path d="M276.4 374.5l7 .1 2.6 10.7-7 0z"/>
<path class="l" d="M276.4 374.5l7 .1"/>
<path d="M269.4 374.7l7-.2 2.6 10.8-7 .1z"/>
<path class="l" d="M269.4 374.7l7-.2"/>
<path d="M412 392.4l7-.1 2.6 1.8-7 .1z"/>
<path class="l" d="M419 392.3l2.6 1.8"/>
<path d="M262.4 375.1l7-.4 2.6 10.7-7 .2z"/>
<path class="l" d="M269.4 374.7l2.6 10.7M262.4 375.1l7-.4"/>
<path d="M405 392.3l7 .1 2.6 1.8-7 .1zM255.4 376l7-.9 2.6 10.5-7 .5z"/>
<path class="l" d="M255.4 376l7-.9"/>
<path d="M398 392.2l7 .1 2.6 2-7 .1zM248.4 377.2l7-1.2 2.6 10.1-7 .7z"/>
<path class="l" d="M248.4 377.2l7-1.2"/>
<path d="M391 391.9l7 .3 2.6 2.2-7 .1z"/>
<path class="l" d="M398 392.2l2.6 2.2"/>
<path d="M241.4 378.9l7-1.7 2.6 9.6-7 .9z"/>
<path class="l" d="M248.4 377.2l2.6 9.6M241.4 378.9l7-1.7"/>
<path d="M384 391.6l7 .3 2.6 2.6-7 .2zM234.4 380.9l7-2 2.6 8.8-7 1.1z"/>
<path class="l" d="M234.4 380.9l7-2"/>
<path d="M377 391.1l7 .5 2.6 3.1-7 .1zM227.4 383.3l7-2.4 2.6 7.9-7 1.3z"/>
<path class="l" d="M227.4 383.3l7-2.4"/>
<path d="M223.8 384.6l3.6-1.3 2.6 6.8-3.6 .7z"/>
<path class="l" d="M227.4 383.3l2.6 6.8M223.8 384.6l3.6-1.3"/>
<path d="M370 390.6l7 .5 2.6 3.7-7 .1z"/>
<path class="l" d="M377 391.1l2.6 3.7"/>
<path d="M220.2 386l3.6-1.4 2.6 6.2-3.6 .8z"/>
<path class="l" d="M220.2 386l3.6-1.4"/>
<path d="M216.5 387.4l3.7-1.4 2.6 5.6-3.7 .7z"/>
<path class="l" d="M216.5 387.4l2.6 4.9M216.5 387.4l3.7-1.4"/>
<path d="M363 390.1l7 .5 2.6 4.3-7 0zM356 389.5l7 .6 2.6 4.8-7 .1zM349 388.9l7 .6 2.6 5.5-7 .1z"/>
<path class="l" d="M356 389.5l2.6 5.5"/>
<path d="M342 388.3l7 .6 2.6 6.2-7 .1zM335 387.8l7 .5 2.6 6.9-7 .1zM328 387.3l7 .5 2.6 7.5-7 .1z"/>
<path class="l" d="M335 387.8l2.6 7.5"/>
<path d="M321 386.8l7 .5 2.6 8.1-7 .1zM314 386.4l7 .4 2.6 8.7-7 .1zM307 386l7 .4 2.6 9.2-7 .2z"/>
<path class="l" d="M314 386.4l2.6 9.2"/>
<path d="M300 385.7l7 .3 2.6 9.8-7 .1zM293 385.5l7 .2 2.6 10.2-7 .1zM286 385.3l7 .2 2.6 10.5-7 .2z"/>
<path class="l" d="M293 385.5l2.6 10.5"/>
<path d="M279 385.3l7 0 2.6 10.9-7 .1zM272 385.4l7-.1 2.6 11-7 .1zM265 385.6l7-.2 2.6 11-7 .1z"/>
<path class="l" d="M272 385.4l2.6 11"/>
<path d="M414.6 394.2l7-.1 2.6 1.9-7 .1z"/>
<path class="l" d="M421.6 394.1l2.6 1.9"/>
<path d="M258 386.1l7-.5 2.6 10.9-7 .1zM407.6 394.3l7-.1 2.6 1.9-7 .2zM251 386.8l7-.7 2.6 10.5-7 .1zM400.6 394.4l7-.1 2.6 2-7 .4zM244 387.7l7-.9 2.6 9.9-7 .2z"/>
<path class="l" d="M251 386.8l2.6 9.9"/>
<path d="M393.6 394.5l7-.1 2.6 2.3-7 .4z"/>
<path class="l" d="M400.6 394.4l2.6 2.3"/>
<path d="M237 388.8l7-1.1 2.6 9.2-7 .1zM386.6 394.7l7-.2 2.6 2.6-7 .6zM230 390.1l7-1.3 2.6 8.2-7 .1zM379.6 394.8l7-.1 2.6 3-7 .6zM226.4 390.8l3.6-.7 2.6 7-3.6 0z"/>
<path class="l" d="M230 390.1l2.6 7"/>
<path d="M372.6 394.9l7-.1 2.6 3.5-7 .7z"/>
<path class="l" d="M379.6 394.8l2.6 3.5"/>
<path d="M222.8 391.6l3.6-.8 2.6 6.3-3.6 .1zM219.1 392.3l3.7-.7 2.6 5.6-3.7 0z"/>
<path class="l" d="M219.1 392.3l2.6 4.9"/>
<path d="M365.6 394.9l7 0 2.6 4.1-7 .8zM358.6 395l7-.1 2.6 4.9-7 .8zM351.6 395.1l7-.1 2.6 5.6-7 .8z"/>
<path class="l" d="M358.6 395l2.6 5.6"/>
<path d="M344.6 395.2l7-.1 2.6 6.3-7 .8zM337.6 395.3l7-.1 2.6 7-7 .8zM330.6 395.4l7-.1 2.6 7.7-7 .8z"/>
<path class="l" d="M337.6 395.3l2.6 7.7"/>
<path d="M323.6 395.5l7-.1 2.6 8.4-7 .7zM316.6 395.6l7-.1 2.6 9-7 .7zM309.6 395.8l7-.2 2.6 9.6-7 .6z"/>
<path class="l" d="M316.6 395.6l2.6 9.6"/>
<path d="M302.6 395.9l7-.1 2.6 10-7 .5zM295.6 396l7-.1 2.6 10.4-7 .5zM288.6 396.2l7-.2 2.6 10.8-7 .3z"/>
<path class="l" d="M295.6 396l2.6 10.8"/>
<path d="M281.6 396.3l7-.1 2.6 10.9-7 .2zM274.6 396.4l7-.1 2.6 11-7 .1zM267.6 396.5l7-.1 2.6 11-7-.1z"/>
<path class="l" d="M274.6 396.4l2.6 11"/>
<path d="M260.6 396.6l7-.1 2.6 10.8-7-.2zM417.2 396.1l7-.1 2.6 1.9-7 .3z"/>
<path class="l" d="M424.2 396l2.6 1.9M417.2 396.1l7-.1"/>
<path d="M253.6 396.7l7-.1 2.6 10.5-7-.5zM410.2 396.3l7-.2 2.6 2.1-7 .3z"/>
<path class="l" d="M410.2 396.3l7-.2"/>
<path d="M403.2 396.7l7-.4 2.6 2.2-7 .5z"/>
<path class="l" d="M403.2 396.7l7-.4"/>
<path d="M246.6 396.9l7-.2 2.6 9.9-7-.6z"/>
<path class="l" d="M253.6 396.7l2.6 9.9"/>
<path d="M396.2 397.1l7-.4 2.6 2.3-7 .7z"/>
<path class="l" d="M403.2 396.7l2.6 2.3M396.2 397.1l7-.4"/>
<path d="M239.6 397l7-.1 2.6 9.1-7-.8zM389.2 397.7l7-.6 2.6 2.6-7 .9z"/>
<path class="l" d="M389.2 397.7l7-.6"/>
<path d="M232.6 397.1l7-.1 2.6 8.2-7-1.1zM382.2 398.3l7-.6 2.6 2.9-7 1z"/>
<path class="l" d="M382.2 398.3l7-.6"/>
<path d="M229 397.1l3.6 0 2.6 7-3.6-.5z"/>
<path class="l" d="M232.6 397.1l2.6 7"/>
<path d="M225.4 397.2l3.6-.1 2.6 6.5-3.6-.7zM375.2 399l7-.7 2.6 3.3-7 1.3z"/>
<path class="l" d="M382.2 398.3l2.6 3.3M375.2 399l7-.7"/>
<path d="M221.7 397.2l3.7 0 2.6 5.7-3.7-.6z"/>
<path class="l" d="M221.7 397.2l2.6 5.1"/>
<path d="M368.2 399.8l7-.8 2.6 3.9-7 1.5z"/>
<path class="l" d="M368.2 399.8l7-.8"/>
<path d="M361.2 400.6l7-.8 2.6 4.6-7 1.5z"/>
<path class="l" d="M361.2 400.6l7-.8"/>
<path d="M354.2 401.4l7-.8 2.6 5.3-7 1.6z"/>
<path class="l" d="M361.2 400.6l2.6 5.3M354.2 401.4l7-.8"/>
<path d="M347.2 402.2l7-.8 2.6 6.1-7 1.7z"/>
<path class="l" d="M347.2 402.2l7-.8"/>
<path d="M340.2 403l7-.8 2.6 7-7 1.6z"/>
<path class="l" d="M340.2 403l7-.8"/>
<path d="M333.2 403.8l7-.8 2.6 7.8-7 1.6z"/>
<path class="l" d="M340.2 403l2.6 7.8M333.2 403.8l7-.8"/>
<path d="M326.2 404.5l7-.7 2.6 8.6-7 1.4z"/>
<path class="l" d="M326.2 404.5l7-.7"/>
<path d="M319.2 405.2l7-.7 2.6 9.3-7 1.4z"/>
<path class="l" d="M319.2 405.2l7-.7"/>
<path d="M312.2 405.8l7-.6 2.6 10-7 1.1z"/>
<path class="l" d="M319.2 405.2l2.6 10M312.2 405.8l7-.6"/>
<path d="M305.2 406.3l7-.5 2.6 10.5-7 .9z"/>
<path class="l" d="M305.2 406.3l7-.5"/>
<path d="M298.2 406.8l7-.5 2.6 10.9-7 .6z"/>
<path class="l" d="M298.2 406.8l7-.5"/>
<path d="M291.2 407.1l7-.3 2.6 11-7 .4z"/>
<path class="l" d="M298.2 406.8l2.6 11M291.2 407.1l7-.3"/>
<path d="M284.2 407.3l7-.2 2.6 11.1-7 .1z"/>
<path class="l" d="M284.2 407.3l7-.2"/>
<path d="M277.2 407.4l7-.1 2.6 11-7-.1z"/>
<path class="l" d="M277.2 407.4l7-.1"/>
<path d="M270.2 407.3l7 .1 2.6 10.8-7-.4z"/>
<path class="l" d="M277.2 407.4l2.6 10.8M270.2 407.3l7 .1"/>
<path d="M263.2 407.1l7 .2 2.6 10.5-7-.7z"/>
<path class="l" d="M263.2 407.1l7 .2"/>
<path d="M419.8 398.2l7-.3 2.6 2.1-7 .4z"/>
<path class="l" d="M426.8 397.9l2.6 2.1"/>
<path d="M256.2 406.6l7 .5 2.6 10-7-1.1z"/>
<path class="l" d="M256.2 406.6l7 .5"/>
<path d="M412.8 398.5l7-.3 2.6 2.2-7 .5zM249.2 406l7 .6 2.6 9.4-7-1.3z"/>
<path class="l" d="M256.2 406.6l2.6 9.4M249.2 406l7 .6"/>
<path d="M405.8 399l7-.5 2.6 2.4-7 .6zM242.2 405.2l7 .8 2.6 8.7-7-1.7z"/>
<path class="l" d="M242.2 405.2l7 .8"/>
<path d="M398.8 399.7l7-.7 2.6 2.5-7 .8z"/>
<path class="l" d="M405.8 399l2.6 2.5"/>
<path d="M235.2 404.1l7 1.1 2.6 7.8-7-1.9z"/>
<path class="l" d="M235.2 404.1l7 1.1"/>
<path d="M391.8 400.6l7-.9 2.6 2.6-7 1.1zM231.6 403.6l3.6 .5 2.6 7-3.6-1.1z"/>
<path class="l" d="M235.2 404.1l2.6 7M231.6 403.6l3.6 .5"/>
<path d="M384.8 401.6l7-1 2.6 2.8-7 1.4zM228 402.9l3.6 .7 2.6 6.4-3.6-1.2z"/>
<path class="l" d="M228 402.9l3.6 .7"/>
<path d="M377.8 402.9l7-1.3 2.6 3.2-7 1.8z"/>
<path class="l" d="M384.8 401.6l2.6 3.2"/>
<path d="M224.3 402.3l3.7 .6 2.6 5.9-3.7-1.1z"/>
<path class="l" d="M224.3 402.3l2.6 5.4M224.3 402.3l3.7 .6"/>
<path d="M370.8 404.4l7-1.5 2.6 3.7-7 2.1zM363.8 405.9l7-1.5 2.6 4.3-7 2.3zM356.8 407.5l7-1.6 2.6 5.1-7 2.5z"/>
<path class="l" d="M363.8 405.9l2.6 5.1"/>
<path d="M349.8 409.2l7-1.7 2.6 6-7 2.5zM342.8 410.8l7-1.6 2.6 6.8-7 2.5zM335.8 412.4l7-1.6 2.6 7.7-7 2.5z"/>
<path class="l" d="M342.8 410.8l2.6 7.7"/>
<path d="M328.8 413.8l7-1.4 2.6 8.6-7 2.2zM321.8 415.2l7-1.4 2.6 9.4-7 2zM314.8 416.3l7-1.1 2.6 10-7 1.6z"/>
<path class="l" d="M321.8 415.2l2.6 10"/>
<path d="M307.8 417.2l7-.9 2.6 10.5-7 1.3zM300.8 417.8l7-.6 2.6 10.9-7 .8zM293.8 418.2l7-.4 2.6 11.1-7 .3z"/>
<path class="l" d="M300.8 417.8l2.6 11.1"/>
<path d="M286.8 418.3l7-.1 2.6 11-7-.1zM279.8 418.2l7 .1 2.6 10.8-7-.5zM272.8 417.8l7 .4 2.6 10.4-7-.8z"/>
<path class="l" d="M279.8 418.2l2.6 10.4"/>
<path d="M265.8 417.1l7 .7 2.6 10-7-1.3zM258.8 416l7 1.1 2.6 9.4-7-1.6zM422.4 400.4l7-.4 2.6 2.1-7 .6z"/>
<path class="l" d="M429.4 400l2.6 2.1"/>
<path d="M251.8 414.7l7 1.3 2.6 8.9-7-2.1z"/>
<path class="l" d="M258.8 416l2.6 8.9"/>
<path d="M415.4 400.9l7-.5 2.6 2.3-7 .6zM244.8 413l7 1.7 2.6 8.1-7-2.4zM408.4 401.5l7-.6 2.6 2.4-7 .7zM401.4 402.3l7-.8 2.6 2.5-7 1z"/>
<path class="l" d="M408.4 401.5l2.6 2.5"/>
<path d="M237.8 411.1l7 1.9 2.6 7.4-7-2.7zM394.4 403.4l7-1.1 2.6 2.7-7 1.2zM234.2 410l3.6 1.1 2.6 6.6-3.6-1.5z"/>
<path class="l" d="M237.8 411.1l2.6 6.6"/>
<path d="M387.4 404.8l7-1.4 2.6 2.8-7 1.7zM230.6 408.8l3.6 1.2 2.6 6.2-3.6-1.5zM226.9 407.7l3.7 1.1 2.6 5.9-3.7-1.6z"/>
<path class="l" d="M226.9 407.7l2.6 5.4"/>
<path d="M380.4 406.6l7-1.8 2.6 3.1-7 2.3z"/>
<path class="l" d="M387.4 404.8l2.6 3.1"/>
<path d="M373.4 408.7l7-2.1 2.6 3.6-7 2.7zM366.4 411l7-2.3 2.6 4.2-7 3zM359.4 413.5l7-2.5 2.6 4.9-7 3.2z"/>
<path class="l" d="M366.4 411l2.6 4.9"/>
<path d="M352.4 416l7-2.5 2.6 5.6-7 3.4zM345.4 418.5l7-2.5 2.6 6.5-7 3.4zM338.4 421l7-2.5 2.6 7.4-7 3.2z"/>
<path class="l" d="M345.4 418.5l2.6 7.4"/>
<path d="M331.4 423.2l7-2.2 2.6 8.1-7 3zM324.4 425.2l7-2 2.6 8.9-7 2.7zM317.4 426.8l7-1.6 2.6 9.6-7 2.1z"/>
<path class="l" d="M324.4 425.2l2.6 9.6"/>
<path d="M310.4 428.1l7-1.3 2.6 10.1-7 1.6zM303.4 428.9l7-.8 2.6 10.4-7 1zM296.4 429.2l7-.3 2.6 10.6-7 .4z"/>
<path class="l" d="M303.4 428.9l2.6 10.6"/>
<path d="M289.4 429.1l7 .1 2.6 10.7-7-.3zM282.4 428.6l7 .5 2.6 10.5-7-.8zM275.4 427.8l7 .8 2.6 10.2-7-1.3z"/>
<path class="l" d="M282.4 428.6l2.6 10.2"/>
<path d="M268.4 426.5l7 1.3 2.6 9.7-7-1.9zM261.4 424.9l7 1.6 2.6 9.1-7-2.3zM254.4 422.8l7 2.1 2.6 8.4-7-2.8z"/>
<path class="l" d="M261.4 424.9l2.6 8.4"/>
<path d="M425 402.7l7-.6 2.6 2-7 .8z"/>
<path class="l" d="M432 402.1l2.6 2M425 402.7l7-.6"/>
<path d="M418 403.3l7-.6 2.6 2.2-7 .8z"/>
<path class="l" d="M418 403.3l7-.6"/>
<path d="M247.4 420.4l7 2.4 2.6 7.7-7-3.2zM411 404l7-.7 2.6 2.4-7 .9z"/>
<path class="l" d="M411 404l7-.7"/>
<path d="M240.4 417.7l7 2.7 2.6 6.9-7-3.4zM404 405l7-1 2.6 2.6-7 1.1z"/>
<path class="l" d="M411 404l2.6 2.6M404 405l7-1"/>
<path d="M236.8 416.2l3.6 1.5 2.6 6.2-3.6-1.8z"/>
<path class="l" d="M240.4 417.7l2.6 6.2"/>
<path d="M397 406.2l7-1.2 2.6 2.7-7 1.5z"/>
<path class="l" d="M397 406.2l7-1.2"/>
<path d="M233.2 414.7l3.6 1.5 2.6 5.9-3.6-1.9zM390 407.9l7-1.7 2.6 3-7 2z"/>
<path class="l" d="M390 407.9l7-1.7"/>
<path d="M229.5 413.1l3.7 1.6 2.6 5.5-3.7-1.8z"/>
<path class="l" d="M229.5 413.1l2.6 5.3"/>
<path d="M383 410.2l7-2.3 2.6 3.3-7 2.6z"/>
<path class="l" d="M390 407.9l2.6 3.3M383 410.2l7-2.3"/>
<path d="M376 412.9l7-2.7 2.6 3.6-7 3.1z"/>
<path class="l" d="M376 412.9l7-2.7"/>
<path d="M369 415.9l7-3 2.6 4-7 3.6z"/>
<path class="l" d="M369 415.9l7-3"/>
<path d="M362 419.1l7-3.2 2.6 4.6-7 3.9z"/>
<path class="l" d="M369 415.9l2.6 4.6M362 419.1l7-3.2"/>
<path d="M355 422.5l7-3.4 2.6 5.3-7 4.1z"/>
<path class="l" d="M355 422.5l7-3.4"/>
<path d="M348 425.9l7-3.4 2.6 6-7 4z"/>
<path class="l" d="M348 425.9l7-3.4"/>
<path d="M341 429.1l7-3.2 2.6 6.6-7 4z"/>
<path class="l" d="M348 425.9l2.6 6.6M341 429.1l7-3.2"/>
<path d="M334 432.1l7-3 2.6 7.4-7 3.7z"/>
<path class="l" d="M334 432.1l7-3"/>
<path d="M327 434.8l7-2.7 2.6 8.1-7 3.3z"/>
<path class="l" d="M327 434.8l7-2.7"/>
<path d="M320 436.9l7-2.1 2.6 8.7-7 2.7z"/>
<path class="l" d="M327 434.8l2.6 8.7M320 436.9l7-2.1"/>
<path d="M313 438.5l7-1.6 2.6 9.3-7 2z"/>
<path class="l" d="M313 438.5l7-1.6"/>
<path d="M306 439.5l7-1 2.6 9.7-7 1.3z"/>
<path class="l" d="M306 439.5l7-1"/>
<path d="M299 439.9l7-.4 2.6 10-7 .5z"/>
<path class="l" d="M306 439.5l2.6 10M299 439.9l7-.4"/>
<path d="M292 439.6l7 .3 2.6 10.1-7-.3z"/>
<path class="l" d="M292 439.6l7 .3"/>
<path d="M285 438.8l7 .8 2.6 10.1-7-1.1z"/>
<path class="l" d="M285 438.8l7 .8"/>
<path d="M278 437.5l7 1.3 2.6 9.8-7-1.8z"/>
<path class="l" d="M285 438.8l2.6 9.8M278 437.5l7 1.3"/>
<path d="M271 435.6l7 1.9 2.6 9.3-7-2.5z"/>
<path class="l" d="M271 435.6l7 1.9"/>
<path d="M264 433.3l7 2.3 2.6 8.7-7-3z"/>
<path class="l" d="M264 433.3l7 2.3"/>
<path d="M257 430.5l7 2.8 2.6 8-7-3.7z"/>
<path class="l" d="M264 433.3l2.6 8M257 430.5l7 2.8"/>
<path d="M427.6 404.9l7-.8 2.6 2-7 .9z"/>
<path class="l" d="M434.6 404.1l2.6 2"/>
<path d="M250 427.3l7 3.2 2.6 7.1-7-4z"/>
<path class="l" d="M250 427.3l7 3.2"/>
<path d="M420.6 405.7l7-.8 2.6 2.1-7 1zM413.6 406.6l7-.9 2.6 2.3-7 1.1zM243 423.9l7 3.4 2.6 6.3-7-4.1z"/>
<path class="l" d="M243 423.9l7 3.4"/>
<path d="M406.6 407.7l7-1.1 2.6 2.5-7 1.3z"/>
<path class="l" d="M413.6 406.6l2.6 2.5"/>
<path d="M239.4 422.1l3.6 1.8 2.6 5.6-3.6-2.2z"/>
<path class="l" d="M243 423.9l2.6 5.6M239.4 422.1l3.6 1.8"/>
<path d="M399.6 409.2l7-1.5 2.6 2.7-7 1.7zM235.8 420.2l3.6 1.9 2.6 5.2-3.6-2z"/>
<path class="l" d="M235.8 420.2l3.6 1.9"/>
<path d="M392.6 411.2l7-2 2.6 2.9-7 2.3zM232.1 418.4l3.7 1.8 2.6 5.1-3.7-2z"/>
<path class="l" d="M232.1 418.4l2.6 4.9M232.1 418.4l3.7 1.8"/>
<path d="M385.6 413.8l7-2.6 2.6 3.2-7 3z"/>
<path class="l" d="M392.6 411.2l2.6 3.2"/>
<path d="M378.6 416.9l7-3.1 2.6 3.6-7 3.5zM371.6 420.5l7-3.6 2.6 4-7 4zM364.6 424.4l7-3.9 2.6 4.4-7 4.3z"/>
<path class="l" d="M371.6 420.5l2.6 4.4"/>
<path d="M357.6 428.5l7-4.1 2.6 4.8-7 4.6zM350.6 432.5l7-4 2.6 5.3-7 4.7zM343.6 436.5l7-4 2.6 6-7 4.5z"/>
<path class="l" d="M350.6 432.5l2.6 6"/>
<path d="M336.6 440.2l7-3.7 2.6 6.5-7 4.4zM329.6 443.5l7-3.3 2.6 7.2-7 3.9zM322.6 446.2l7-2.7 2.6 7.8-7 3.2z"/>
<path class="l" d="M329.6 443.5l2.6 7.8"/>
<path d="M315.6 448.2l7-2 2.6 8.3-7 2.5zM308.6 449.5l7-1.3 2.6 8.8-7 1.7zM301.6 450l7-.5 2.6 9.2-7 .6z"/>
<path class="l" d="M308.6 449.5l2.6 9.2"/>
<path d="M294.6 449.7l7 .3 2.6 9.3-7-.3zM287.6 448.6l7 1.1 2.6 9.3-7-1.3zM280.6 446.8l7 1.8 2.6 9.1-7-2.2z"/>
<path class="l" d="M287.6 448.6l2.6 9.1"/>
<path d="M273.6 444.3l7 2.5 2.6 8.7-7-3.1zM266.6 441.3l7 3 2.6 8.1-7-3.8zM259.6 437.6l7 3.7 2.6 7.3-7-4.5z"/>
<path class="l" d="M266.6 441.3l2.6 7.3"/>
<path d="M430.2 407l7-.9 2.6 1.9-7 1z"/>
<path class="l" d="M437.2 406.1l2.6 1.9"/>
<path d="M252.6 433.6l7 4 2.6 6.5-7-4.8zM423.2 408l7-1 2.6 2-7 1zM245.6 429.5l7 4.1 2.6 5.7-7-4.8zM416.2 409.1l7-1.1 2.6 2-7 1.3zM409.2 410.4l7-1.3 2.6 2.2-7 1.6z"/>
<path class="l" d="M416.2 409.1l2.6 2.2"/>
<path d="M242 427.3l3.6 2.2 2.6 5-3.6-2.4z"/>
<path class="l" d="M245.6 429.5l2.6 5"/>
<path d="M402.2 412.1l7-1.7 2.6 2.5-7 2.1zM238.4 425.3l3.6 2 2.6 4.8-3.6-2.4zM395.2 414.4l7-2.3 2.6 2.9-7 2.6zM234.7 423.3l3.7 2 2.6 4.4-3.7-2.1z"/>
<path class="l" d="M234.7 423.3l2.6 4.3"/>
<path d="M388.2 417.4l7-3 2.6 3.2-7 3.2z"/>
<path class="l" d="M395.2 414.4l2.6 3.2"/>
<path d="M381.2 420.9l7-3.5 2.6 3.4-7 3.8zM374.2 424.9l7-4 2.6 3.7-7 4.3zM367.2 429.2l7-4.3 2.6 4-7 4.6z"/>
<path class="l" d="M374.2 424.9l2.6 4"/>
<path d="M360.2 433.8l7-4.6 2.6 4.3-7 5zM353.2 438.5l7-4.7 2.6 4.7-7 5.1zM346.2 443l7-4.5 2.6 5.1-7 5.1z"/>
<path class="l" d="M353.2 438.5l2.6 5.1"/>
<path d="M339.2 447.4l7-4.4 2.6 5.7-7 5zM332.2 451.3l7-3.9 2.6 6.3-7 4.6zM325.2 454.5l7-3.2 2.6 7-7 3.8z"/>
<path class="l" d="M332.2 451.3l2.6 7"/>
<path d="M318.2 457l7-2.5 2.6 7.6-7 2.9zM311.2 458.7l7-1.7 2.6 8-7 1.9zM304.2 459.3l7-.6 2.6 8.2-7 .8z"/>
<path class="l" d="M311.2 458.7l2.6 8.2"/>
<path d="M297.2 459l7 .3 2.6 8.4-7-.3zM290.2 457.7l7 1.3 2.6 8.4-7-1.6zM283.2 455.5l7 2.2 2.6 8.1-7-2.7z"/>
<path class="l" d="M290.2 457.7l2.6 8.1"/>
<path d="M276.2 452.4l7 3.1 2.6 7.6-7-3.7zM269.2 448.6l7 3.8 2.6 7-7-4.5zM262.2 444.1l7 4.5 2.6 6.3-7-5.1z"/>
<path class="l" d="M269.2 448.6l2.6 6.3"/>
<path d="M255.2 439.3l7 4.8 2.6 5.7-7-5.5zM432.8 409l7-1 2.6 2.1-7 .7z"/>
<path class="l" d="M439.8 408l2.6 2.1M432.8 409l7-1"/>
<path d="M425.8 410l7-1 2.6 1.8-7 1.1z"/>
<path class="l" d="M425.8 410l7-1"/>
<path d="M248.2 434.5l7 4.8 2.6 5-7-5.4zM418.8 411.3l7-1.3 2.6 1.9-7 1.4z"/>
<path class="l" d="M418.8 411.3l7-1.3"/>
<path d="M244.6 432.1l3.6 2.4 2.6 4.4-3.6-2.7z"/>
<path class="l" d="M248.2 434.5l2.6 4.4"/>
<path d="M411.8 412.9l7-1.6 2.6 2-7 1.9z"/>
<path class="l" d="M418.8 411.3l2.6 2M411.8 412.9l7-1.6"/>
<path d="M241 429.7l3.6 2.4 2.6 4.1-3.6-2.5zM404.8 415l7-2.1 2.6 2.3-7 2.3z"/>
<path class="l" d="M404.8 415l7-2.1"/>
<path d="M237.3 427.6l3.7 2.1 2.6 4-3.7-2.3z"/>
<path class="l" d="M237.3 427.6l2.6 3.8"/>
<path d="M397.8 417.6l7-2.6 2.6 2.5-7 3z"/>
<path class="l" d="M397.8 417.6l7-2.6"/>
<path d="M390.8 420.8l7-3.2 2.6 2.9-7 3.5z"/>
<path class="l" d="M397.8 417.6l2.6 2.9M390.8 420.8l7-3.2"/>
<path d="M383.8 424.6l7-3.8 2.6 3.2-7 4z"/>
<path class="l" d="M383.8 424.6l7-3.8"/>
<path d="M376.8 428.9l7-4.3 2.6 3.4-7 4.5z"/>
<path class="l" d="M376.8 428.9l7-4.3"/>
<path d="M369.8 433.5l7-4.6 2.6 3.6-7 4.8z"/>
<path class="l" d="M376.8 428.9l2.6 3.6M369.8 433.5l7-4.6"/>
<path d="M362.8 438.5l7-5 2.6 3.8-7 5.1z"/>
<path class="l" d="M362.8 438.5l7-5"/>
<path d="M355.8 443.6l7-5.1 2.6 3.9-7 5.5z"/>
<path class="l" d="M355.8 443.6l7-5.1"/>
<path d="M348.8 448.7l7-5.1 2.6 4.3-7 5.8z"/>
<path class="l" d="M355.8 443.6l2.6 4.3M348.8 448.7l7-5.1"/>
<path d="M341.8 453.7l7-5 2.6 5-7 5.7z"/>
<path class="l" d="M341.8 453.7l7-5"/>
<path d="M334.8 458.3l7-4.6 2.6 5.7-7 5.2z"/>
<path class="l" d="M334.8 458.3l7-4.6"/>
<path d="M327.8 462.1l7-3.8 2.6 6.3-7 4.3z"/>
<path class="l" d="M334.8 458.3l2.6 6.3M327.8 462.1l7-3.8"/>
<path d="M320.8 465l7-2.9 2.6 6.8-7 3.3z"/>
<path class="l" d="M320.8 465l7-2.9"/>
<path d="M313.8 466.9l7-1.9 2.6 7.2-7 2.1z"/>
<path class="l" d="M313.8 466.9l7-1.9"/>
<path d="M306.8 467.7l7-.8 2.6 7.4-7 .8z"/>
<path class="l" d="M313.8 466.9l2.6 7.4M306.8 467.7l7-.8"/>
<path d="M299.8 467.4l7 .3 2.6 7.4-7-.6z"/>
<path class="l" d="M299.8 467.4l7 .3"/>
<path d="M292.8 465.8l7 1.6 2.6 7.1-7-1.8z"/>
<path class="l" d="M292.8 465.8l7 1.6"/>
<path d="M285.8 463.1l7 2.7 2.6 6.9-7-3.2z"/>
<path class="l" d="M292.8 465.8l2.6 6.9M285.8 463.1l7 2.7"/>
<path d="M278.8 459.4l7 3.7 2.6 6.4-7-4.2z"/>
<path class="l" d="M278.8 459.4l7 3.7"/>
<path d="M271.8 454.9l7 4.5 2.6 5.9-7-5.1z"/>
<path class="l" d="M271.8 454.9l7 4.5"/>
<path d="M264.8 449.8l7 5.1 2.6 5.3-7-5.6z"/>
<path class="l" d="M271.8 454.9l2.6 5.3M264.8 449.8l7 5.1"/>
<path d="M257.8 444.3l7 5.5 2.6 4.8-7-5.9z"/>
<path class="l" d="M257.8 444.3l7 5.5"/>
<path d="M435.4 410.8l7-.7 2.6 2.1-7 .5z"/>
<path class="l" d="M442.4 410.1l2.6 2.1"/>
<path d="M428.4 411.9l7-1.1 2.6 1.9-7 1zM250.8 438.9l7 5.4 2.6 4.4-7-5.9z"/>
<path class="l" d="M250.8 438.9l7 5.4"/>
<path d="M421.4 413.3l7-1.4 2.6 1.8-7 1.5zM247.2 436.2l3.6 2.7 2.6 3.9-3.6-2.9z"/>
<path class="l" d="M250.8 438.9l2.6 3.9M247.2 436.2l3.6 2.7"/>
<path d="M414.4 415.2l7-1.9 2.6 1.9-7 2.1z"/>
<path class="l" d="M421.4 413.3l2.6 1.9"/>
<path d="M243.6 433.7l3.6 2.5 2.6 3.7-3.6-2.7z"/>
<path class="l" d="M243.6 433.7l3.6 2.5"/>
<path d="M407.4 417.5l7-2.3 2.6 2.1-7 2.6zM239.9 431.4l3.7 2.3 2.6 3.5-3.7-2.5z"/>
<path class="l" d="M239.9 431.4l2.6 3.3M239.9 431.4l3.7 2.3"/>
<path d="M400.4 420.5l7-3 2.6 2.4-7 3.2zM393.4 424l7-3.5 2.6 2.6-7 3.8z"/>
<path class="l" d="M400.4 420.5l2.6 2.6"/>
<path d="M386.4 428l7-4 2.6 2.9-7 4.2zM379.4 432.5l7-4.5 2.6 3.1-7 4.6zM372.4 437.3l7-4.8 2.6 3.2-7 4.9z"/>
<path class="l" d="M379.4 432.5l2.6 3.2"/>
<path d="M365.4 442.4l7-5.1 2.6 3.3-7 5.3zM358.4 447.9l7-5.5 2.6 3.5-7 5.9zM351.4 453.7l7-5.8 2.6 3.9-7 6.3z"/>
<path class="l" d="M358.4 447.9l2.6 3.9"/>
<path d="M344.4 459.4l7-5.7 2.6 4.4-7 6.3zM337.4 464.6l7-5.2 2.6 5-7 5.8zM330.4 468.9l7-4.3 2.6 5.6-7 4.8z"/>
<path class="l" d="M337.4 464.6l2.6 5.6"/>
<path d="M323.4 472.2l7-3.3 2.6 6.1-7 3.6zM316.4 474.3l7-2.1 2.6 6.4-7 2.2zM309.4 475.1l7-.8 2.6 6.5-7 .7z"/>
<path class="l" d="M316.4 474.3l2.6 6.5"/>
<path d="M302.4 474.5l7 .6 2.6 6.4-7-.8zM295.4 472.7l7 1.8 2.6 6.2-7-2.2zM288.4 469.5l7 3.2 2.6 5.8-7-3.6z"/>
<path class="l" d="M295.4 472.7l2.6 5.8"/>
<path d="M281.4 465.3l7 4.2 2.6 5.4-7-4.7zM274.4 460.2l7 5.1 2.6 4.9-7-5.5zM267.4 454.6l7 5.6 2.6 4.5-7-6z"/>
<path class="l" d="M274.4 460.2l2.6 4.5"/>
<path d="M260.4 448.7l7 5.9 2.6 4.1-7-6.2zM438 412.7l7-.5 2.6 2.1-7 .3z"/>
<path class="l" d="M445 412.2l2.6 2.1"/>
<path d="M253.4 442.8l7 5.9 2.6 3.8-7-6.1zM431 413.7l7-1 2.6 1.9-7 1zM424 415.2l7-1.5 2.6 1.9-7 1.6zM249.8 439.9l3.6 2.9 2.6 3.6-3.6-3.1z"/>
<path class="l" d="M253.4 442.8l2.6 3.6"/>
<path d="M417 417.3l7-2.1 2.6 2-7 2.2z"/>
<path class="l" d="M424 415.2l2.6 2"/>
<path d="M246.2 437.2l3.6 2.7 2.6 3.4-3.6-2.9zM410 419.9l7-2.6 2.6 2.1-7 2.8zM242.5 434.7l3.7 2.5 2.6 3.2-3.7-2.7z"/>
<path class="l" d="M242.5 434.7l2.6 3"/>
<path d="M403 423.1l7-3.2 2.6 2.3-7 3.3zM396 426.9l7-3.8 2.6 2.4-7 3.9z"/>
<path class="l" d="M403 423.1l2.6 2.4"/>
<path d="M389 431.1l7-4.2 2.6 2.5-7 4.4zM382 435.7l7-4.6 2.6 2.7-7 4.8zM375 440.6l7-4.9 2.6 2.9-7 5.2z"/>
<path class="l" d="M382 435.7l2.6 2.9"/>
<path d="M368 445.9l7-5.3 2.6 3.2-7 5.6zM361 451.8l7-5.9 2.6 3.5-7 6.1zM354 458.1l7-6.3 2.6 3.7-7 6.7z"/>
<path class="l" d="M361 451.8l2.6 3.7"/>
<path d="M347 464.4l7-6.3 2.6 4.1-7 6.8zM340 470.2l7-5.8 2.6 4.6-7 6.2zM333 475l7-4.8 2.6 5-7 5.1z"/>
<path class="l" d="M340 470.2l2.6 5"/>
<path d="M326 478.6l7-3.6 2.6 5.3-7 3.8zM319 480.8l7-2.2 2.6 5.5-7 2.3zM312 481.5l7-.7 2.6 5.6-7 .7z"/>
<path class="l" d="M319 480.8l2.6 5.6"/>
<path d="M305 480.7l7 .8 2.6 5.6-7-1zM298 478.5l7 2.2 2.6 5.4-7-2.5zM291 474.9l7 3.6 2.6 5.1-7-3.9z"/>
<path class="l" d="M298 478.5l2.6 5.1"/>
<path d="M284 470.2l7 4.7 2.6 4.8-7-5zM277 464.7l7 5.5 2.6 4.5-7-5.8zM270 458.7l7 6 2.6 4.2-7-6.3z"/>
<path class="l" d="M277 464.7l2.6 4.2"/>
<path d="M263 452.5l7 6.2 2.6 3.9-7-6.5zM440.6 414.6l7-.3 2.6 2-7 .4z"/>
<path class="l" d="M447.6 414.3l2.6 2M440.6 414.6l7-.3"/>
<path d="M256 446.4l7 6.1 2.6 3.6-7-6.4zM433.6 415.6l7-1 2.6 2.1-7 1.1z"/>
<path class="l" d="M433.6 415.6l7-1"/>
<path d="M426.6 417.2l7-1.6 2.6 2.2-7 1.6z"/>
<path class="l" d="M426.6 417.2l7-1.6"/>
<path d="M252.4 443.3l3.6 3.1 2.6 3.3-3.6-3.2z"/>
<path class="l" d="M256 446.4l2.6 3.3"/>
<path d="M419.6 419.4l7-2.2 2.6 2.2-7 2.2z"/>
<path class="l" d="M426.6 417.2l2.6 2.2M419.6 419.4l7-2.2"/>
<path d="M248.8 440.4l3.6 2.9 2.6 3.2-3.6-3zM412.6 422.2l7-2.8 2.6 2.2-7 2.8z"/>
<path class="l" d="M412.6 422.2l7-2.8"/>
<path d="M245.1 437.7l3.7 2.7 2.6 3.1-3.7-2.9z"/>
<path class="l" d="M245.1 437.7l2.6 2.9"/>
<path d="M405.6 425.5l7-3.3 2.6 2.2-7 3.3z"/>
<path class="l" d="M405.6 425.5l7-3.3"/>
<path d="M398.6 429.4l7-3.9 2.6 2.2-7 4z"/>
<path class="l" d="M405.6 425.5l2.6 2.2M398.6 429.4l7-3.9"/>
<path d="M391.6 433.8l7-4.4 2.6 2.3-7 4.5z"/>
<path class="l" d="M391.6 433.8l7-4.4"/>
<path d="M384.6 438.6l7-4.8 2.6 2.4-7 5z"/>
<path class="l" d="M384.6 438.6l7-4.8"/>
<path d="M377.6 443.8l7-5.2 2.6 2.6-7 5.7z"/>
<path class="l" d="M384.6 438.6l2.6 2.6M377.6 443.8l7-5.2"/>
<path d="M370.6 449.4l7-5.6 2.6 3.1-7 6.1z"/>
<path class="l" d="M370.6 449.4l7-5.6"/>
<path d="M363.6 455.5l7-6.1 2.6 3.6-7 6.5z"/>
<path class="l" d="M363.6 455.5l7-6.1"/>
<path d="M356.6 462.2l7-6.7 2.6 4-7 6.9z"/>
<path class="l" d="M363.6 455.5l2.6 4M356.6 462.2l7-6.7"/>
<path d="M349.6 469l7-6.8 2.6 4.2-7 6.8z"/>
<path class="l" d="M349.6 469l7-6.8"/>
<path d="M342.6 475.2l7-6.2 2.6 4.2-7 6.3z"/>
<path class="l" d="M342.6 475.2l7-6.2"/>
<path d="M335.6 480.3l7-5.1 2.6 4.3-7 5.3z"/>
<path class="l" d="M342.6 475.2l2.6 4.3M335.6 480.3l7-5.1"/>
<path d="M328.6 484.1l7-3.8 2.6 4.5-7 4z"/>
<path class="l" d="M328.6 484.1l7-3.8"/>
<path d="M321.6 486.4l7-2.3 2.6 4.7-7 2.5z"/>
<path class="l" d="M321.6 486.4l7-2.3"/>
<path d="M314.6 487.1l7-.7 2.6 4.9-7 .7z"/>
<path class="l" d="M321.6 486.4l2.6 4.9M314.6 487.1l7-.7"/>
<path d="M307.6 486.1l7 1 2.6 4.9-7-1.1z"/>
<path class="l" d="M307.6 486.1l7 1"/>
<path d="M300.6 483.6l7 2.5 2.6 4.8-7-2.6z"/>
<path class="l" d="M300.6 483.6l7 2.5"/>
<path d="M293.6 479.7l7 3.9 2.6 4.7-7-4.1z"/>
<path class="l" d="M300.6 483.6l2.6 4.7M293.6 479.7l7 3.9"/>
<path d="M286.6 474.7l7 5 2.6 4.5-7-5.3z"/>
<path class="l" d="M286.6 474.7l7 5"/>
<path d="M279.6 468.9l7 5.8 2.6 4.2-7-6z"/>
<path class="l" d="M279.6 468.9l7 5.8"/>
<path d="M272.6 462.6l7 6.3 2.6 4-7-6.6z"/>
<path class="l" d="M279.6 468.9l2.6 4M272.6 462.6l7 6.3"/>
<path d="M265.6 456.1l7 6.5 2.6 3.7-7-6.7z"/>
<path class="l" d="M265.6 456.1l7 6.5"/>
<path d="M443.2 416.7l7-.4 2.6 1.9-7 .7z"/>
<path class="l" d="M450.2 416.3l2.6 1.9"/>
<path d="M258.6 449.7l7 6.4 2.6 3.5-7-6.6z"/>
<path class="l" d="M258.6 449.7l7 6.4"/>
<path d="M436.2 417.8l7-1.1 2.6 2.2-7 1.2zM429.2 419.4l7-1.6 2.6 2.3-7 1.6zM255 446.5l3.6 3.2 2.6 3.3-3.6-3.3z"/>
<path class="l" d="M258.6 449.7l2.6 3.3M255 446.5l3.6 3.2"/>
<path d="M422.2 421.6l7-2.2 2.6 2.3-7 2.1z"/>
<path class="l" d="M429.2 419.4l2.6 2.3"/>
<path d="M251.4 443.5l3.6 3 2.6 3.2-3.6-3.2z"/>
<path class="l" d="M251.4 443.5l3.6 3"/>
<path d="M415.2 424.4l7-2.8 2.6 2.2-7 2.7zM247.7 440.6l3.7 2.9 2.6 3-3.7-3.1z"/>
<path class="l" d="M247.7 440.6l2.6 2.8M247.7 440.6l3.7 2.9"/>
<path d="M408.2 427.7l7-3.3 2.6 2.1-7 3.2zM401.2 431.7l7-4 2.6 2-7 3.9z"/>
<path class="l" d="M408.2 427.7l2.6 2"/>
<path d="M394.2 436.2l7-4.5 2.6 1.9-7 4.6zM387.2 441.2l7-5 2.6 2-7 5.4zM380.2 446.9l7-5.7 2.6 2.4-7 6.1z"/>
<path class="l" d="M387.2 441.2l2.6 2.4"/>
<path d="M373.2 453l7-6.1 2.6 2.8-7 6.7zM366.2 459.5l7-6.5 2.6 3.4-7 6.9zM359.2 466.4l7-6.9 2.6 3.8-7 7z"/>
<path class="l" d="M366.2 459.5l2.6 3.8"/>
<path d="M352.2 473.2l7-6.8 2.6 3.9-7 6.6zM345.2 479.5l7-6.3 2.6 3.7-7 6.1zM338.2 484.8l7-5.3 2.6 3.5-7 5.4z"/>
<path class="l" d="M345.2 479.5l2.6 3.5"/>
<path d="M331.2 488.8l7-4 2.6 3.6-7 4.2zM324.2 491.3l7-2.5 2.6 3.8-7 2.6zM317.2 492l7-.7 2.6 3.9-7 .8z"/>
<path class="l" d="M324.2 491.3l2.6 3.9"/>
<path d="M310.2 490.9l7 1.1 2.6 4-7-1.1zM303.2 488.3l7 2.6 2.6 4-7-2.7zM296.2 484.2l7 4.1 2.6 3.9-7-4.2z"/>
<path class="l" d="M303.2 488.3l2.6 3.9"/>
<path d="M289.2 478.9l7 5.3 2.6 3.8-7-5.3zM282.2 472.9l7 6 2.6 3.8-7-6.2zM275.2 466.3l7 6.6 2.6 3.6-7-6.7z"/>
<path class="l" d="M282.2 472.9l2.6 3.6"/>
<path d="M268.2 459.6l7 6.7 2.6 3.5-7-7zM445.8 418.9l7-.7 2.6 1.8-7 1z"/>
<path class="l" d="M452.8 418.2l2.6 1.8"/>
<path d="M261.2 453l7 6.6 2.6 3.2-7-6.8zM438.8 420.1l7-1.2 2.6 2.1-7 1.3zM257.6 449.7l3.6 3.3 2.6 3-3.6-3.4z"/>
<path class="l" d="M261.2 453l2.6 3"/>
<path d="M431.8 421.7l7-1.6 2.6 2.2-7 1.6zM254 446.5l3.6 3.2 2.6 2.9-3.6-3.3zM424.8 423.8l7-2.1 2.6 2.2-7 2z"/>
<path class="l" d="M431.8 421.7l2.6 2.2"/>
<path d="M417.8 426.5l7-2.7 2.6 2.1-7 2.5zM250.3 443.4l3.7 3.1 2.6 2.8-3.7-3.1z"/>
<path class="l" d="M250.3 443.4l2.6 2.8"/>
<path d="M410.8 429.7l7-3.2 2.6 1.9-7 3.1zM403.8 433.6l7-3.9 2.6 1.8-7 3.8z"/>
<path class="l" d="M410.8 429.7l2.6 1.8"/>
<path d="M396.8 438.2l7-4.6 2.6 1.7-7 4.6zM389.8 443.6l7-5.4 2.6 1.7-7 5.6zM382.8 449.7l7-6.1 2.6 1.9-7 6.5z"/>
<path class="l" d="M389.8 443.6l2.6 1.9"/>
<path d="M375.8 456.4l7-6.7 2.6 2.3-7 7.2zM368.8 463.3l7-6.9 2.6 2.8-7 7.2zM361.8 470.3l7-7 2.6 3.1-7 7z"/>
<path class="l" d="M368.8 463.3l2.6 3.1"/>
<path d="M354.8 476.9l7-6.6 2.6 3.1-7 6.5zM347.8 483l7-6.1 2.6 3-7 6zM340.8 488.4l7-5.4 2.6 2.9-7 5.3z"/>
<path class="l" d="M347.8 483l2.6 2.9"/>
<path d="M333.8 492.6l7-4.2 2.6 2.8-7 4.2zM326.8 495.2l7-2.6 2.6 2.8-7 2.7zM319.8 496l7-.8 2.6 2.9-7 .8z"/>
<path class="l" d="M326.8 495.2l2.6 2.9"/>
<path d="M312.8 494.9l7 1.1 2.6 2.9-7-1zM305.8 492.2l7 2.7 2.6 3-7-2.8zM298.8 488l7 4.2 2.6 2.9-7-4.2z"/>
<path class="l" d="M305.8 492.2l2.6 2.9"/>
<path d="M291.8 482.7l7 5.3 2.6 2.9-7-5.4zM284.8 476.5l7 6.2 2.6 2.8-7-6.3zM277.8 469.8l7 6.7 2.6 2.7-7-6.8z"/>
<path class="l" d="M284.8 476.5l2.6 2.7"/>
<path d="M270.8 462.8l7 7 2.6 2.6-7-7zM448.4 421l7-1 2.6 1.7-7 1.1z"/>
<path class="l" d="M455.4 420l2.6 1.7M448.4 421l7-1"/>
<path d="M263.8 456l7 6.8 2.6 2.6-7-6.9zM441.4 422.3l7-1.3 2.6 1.8-7 1.3z"/>
<path class="l" d="M441.4 422.3l7-1.3"/>
<path d="M260.2 452.6l3.6 3.4 2.6 2.5-3.6-3.5z"/>
<path class="l" d="M263.8 456l2.6 2.5"/>
<path d="M434.4 423.9l7-1.6 2.6 1.8-7 1.6z"/>
<path class="l" d="M434.4 423.9l7-1.6"/>
<path d="M256.6 449.3l3.6 3.3 2.6 2.4-3.6-3.3zM427.4 425.9l7-2 2.6 1.8-7 1.9z"/>
<path class="l" d="M434.4 423.9l2.6 1.8M427.4 425.9l7-2"/>
<path d="M420.4 428.4l7-2.5 2.6 1.7-7 2.5z"/>
<path class="l" d="M420.4 428.4l7-2.5"/>
<path d="M252.9 446.2l3.7 3.1 2.6 2.4-3.7-3.2z"/>
<path class="l" d="M252.9 446.2l2.6 2.3"/>
<path d="M413.4 431.5l7-3.1 2.6 1.7-7 3z"/>
<path class="l" d="M413.4 431.5l7-3.1"/>
<path d="M406.4 435.3l7-3.8 2.6 1.6-7 3.8z"/>
<path class="l" d="M413.4 431.5l2.6 1.6M406.4 435.3l7-3.8"/>
<path d="M399.4 439.9l7-4.6 2.6 1.6-7 4.5z"/>
<path class="l" d="M399.4 439.9l7-4.6"/>
<path d="M392.4 445.5l7-5.6 2.6 1.5-7 5.7z"/>
<path class="l" d="M392.4 445.5l7-5.6"/>
<path d="M385.4 452l7-6.5 2.6 1.6-7 6.6z"/>
<path class="l" d="M392.4 445.5l2.6 1.6M385.4 452l7-6.5"/>
<path d="M378.4 459.2l7-7.2 2.6 1.7-7 7.3z"/>
<path class="l" d="M378.4 459.2l7-7.2"/>
<path d="M371.4 466.4l7-7.2 2.6 1.8-7 7.4z"/>
<path class="l" d="M371.4 466.4l7-7.2"/>
<path d="M364.4 473.4l7-7 2.6 2-7 7z"/>
<path class="l" d="M371.4 466.4l2.6 2M364.4 473.4l7-7"/>
<path d="M357.4 479.9l7-6.5 2.6 2-7 6.6z"/>
<path class="l" d="M357.4 479.9l7-6.5"/>
<path d="M350.4 485.9l7-6 2.6 2.1-7 6z"/>
<path class="l" d="M350.4 485.9l7-6"/>
<path d="M343.4 491.2l7-5.3 2.6 2.1-7 5.2z"/>
<path class="l" d="M350.4 485.9l2.6 2.1M343.4 491.2l7-5.3"/>
<path d="M336.4 495.4l7-4.2 2.6 2-7 4.2z"/>
<path class="l" d="M336.4 495.4l7-4.2"/>
<path d="M329.4 498.1l7-2.7 2.6 2-7 2.5z"/>
<path class="l" d="M329.4 498.1l7-2.7"/>
<path d="M322.4 498.9l7-.8 2.6 1.8-7 .8z"/>
<path class="l" d="M329.4 498.1l2.6 1.8M322.4 498.9l7-.8"/>
<path d="M315.4 497.9l7 1 2.6 1.8-7-1.1z"/>
<path class="l" d="M315.4 497.9l7 1"/>
<path d="M308.4 495.1l7 2.8 2.6 1.7-7-2.8z"/>
<path class="l" d="M308.4 495.1l7 2.8"/>
<path d="M301.4 490.9l7 4.2 2.6 1.7-7-4.2z"/>
<path class="l" d="M308.4 495.1l2.6 1.7M301.4 490.9l7 4.2"/>
<path d="M294.4 485.5l7 5.4 2.6 1.7-7-5.4z"/>
<path class="l" d="M294.4 485.5l7 5.4"/>
<path d="M287.4 479.2l7 6.3 2.6 1.7-7-6.3z"/>
<path class="l" d="M287.4 479.2l7 6.3"/>
<path d="M280.4 472.4l7 6.8 2.6 1.7-7-6.8z"/>
<path class="l" d="M287.4 479.2l2.6 1.7M280.4 472.4l7 6.8"/>
<path d="M273.4 465.4l7 7 2.6 1.7-7-7z"/>
<path class="l" d="M273.4 465.4l7 7"/>
<path d="M451 422.8l7-1.1 2.6 1.7-7 1.1z"/>
<path class="l" d="M458 421.7l2.6 1.7"/>
<path d="M266.4 458.5l7 6.9 2.6 1.7-7-6.9z"/>
<path class="l" d="M266.4 458.5l7 6.9"/>
<path d="M444 424.1l7-1.3 2.6 1.7-7 1.2zM262.8 455l3.6 3.5 2.6 1.7-3.6-3.4z"/>
<path class="l" d="M266.4 458.5l2.6 1.7M262.8 455l3.6 3.5"/>
<path d="M437 425.7l7-1.6 2.6 1.6-7 1.5zM259.2 451.7l3.6 3.3 2.6 1.8-3.6-3.3z"/>
<path class="l" d="M259.2 451.7l3.6 3.3"/>
<path d="M430 427.6l7-1.9 2.6 1.5-7 2z"/>
<path class="l" d="M437 425.7l2.6 1.5"/>
<path d="M255.5 448.5l3.7 3.2 2.6 1.8-3.7-3.2z"/>
<path class="l" d="M255.5 448.5l2.6 1.8M255.5 448.5l3.7 3.2"/>
<path d="M423 430.1l7-2.5 2.6 1.6-7 2.4zM416 433.1l7-3 2.6 1.5-7 3zM409 436.9l7-3.8 2.6 1.5-7 3.7z"/>
<path class="l" d="M416 433.1l2.6 1.5"/>
<path d="M402 441.4l7-4.5 2.6 1.4-7 4.5zM395 447.1l7-5.7 2.6 1.4-7 5.5zM388 453.7l7-6.6 2.6 1.2-7 6.5z"/>
<path class="l" d="M395 447.1l2.6 1.2"/>
<path d="M381 461l7-7.3 2.6 1.1-7 7.2zM374 468.4l7-7.4 2.6 1-7 7.4zM367 475.4l7-7 2.6 1-7 7.2z"/>
<path class="l" d="M374 468.4l2.6 1"/>
<path d="M360 482l7-6.6 2.6 1.2-7 6.7zM353 488l7-6 2.6 1.3-7 6.1zM346 493.2l7-5.2 2.6 1.4-7 5.1z"/>
<path class="l" d="M353 488l2.6 1.4"/>
<path d="M339 497.4l7-4.2 2.6 1.3-7 3.9zM332 499.9l7-2.5 2.6 1-7 2.4zM325 500.7l7-.8 2.6 .9-7 .6z"/>
<path class="l" d="M332 499.9l2.6 .9"/>
<path d="M318 499.6l7 1.1 2.6 .7-7-1.1zM311 496.8l7 2.8 2.6 .7-7-2.8zM304 492.6l7 4.2 2.6 .7-7-4.2z"/>
<path class="l" d="M311 496.8l2.6 .7"/>
<path d="M297 487.2l7 5.4 2.6 .7-7-5.4zM290 480.9l7 6.3 2.6 .7-7-6.2zM283 474.1l7 6.8 2.6 .8-7-6.7z"/>
<path class="l" d="M290 480.9l2.6 .8"/>
<path d="M276 467.1l7 7 2.6 .9-7-6.8zM453.6 424.5l7-1.1 2.6 1.8-7 .9z"/>
<path class="l" d="M460.6 423.4l2.6 1.8"/>
<path d="M269 460.2l7 6.9 2.6 1.1-7-6.8zM446.6 425.7l7-1.2 2.6 1.6-7 1.1zM265.4 456.8l3.6 3.4 2.6 1.2-3.6-3.3z"/>
<path class="l" d="M269 460.2l2.6 1.2"/>
<path d="M439.6 427.2l7-1.5 2.6 1.5-7 1.5zM261.8 453.5l3.6 3.3 2.6 1.3-3.6-3.3zM432.6 429.2l7-2 2.6 1.5-7 1.9z"/>
<path class="l" d="M439.6 427.2l2.6 1.5"/>
<path d="M258.1 450.3l3.7 3.2 2.6 1.3-3.7-3z"/>
<path class="l" d="M258.1 450.3l2.6 1.5"/>
<path d="M425.6 431.6l7-2.4 2.6 1.4-7 2.4zM418.6 434.6l7-3 2.6 1.4-7 3zM411.6 438.3l7-3.7 2.6 1.4-7 3.7z"/>
<path class="l" d="M418.6 434.6l2.6 1.4"/>
<path d="M404.6 442.8l7-4.5 2.6 1.4-7 4.4zM397.6 448.3l7-5.5 2.6 1.3-7 5.3zM390.6 454.8l7-6.5 2.6 1.1-7 6.3z"/>
<path class="l" d="M397.6 448.3l2.6 1.1"/>
<path d="M383.6 462l7-7.2 2.6 .9-7 6.9zM376.6 469.4l7-7.4 2.6 .6-7 7.2zM369.6 476.6l7-7.2 2.6 .4-7 7.2z"/>
<path class="l" d="M376.6 469.4l2.6 .4"/>
<path d="M362.6 483.3l7-6.7 2.6 .4-7 6.9zM355.6 489.4l7-6.1 2.6 .6-7 6.1zM348.6 494.5l7-5.1 2.6 .6-7 5.1z"/>
<path class="l" d="M355.6 489.4l2.6 .6"/>
<path d="M341.6 498.4l7-3.9 2.6 .6-7 3.7zM334.6 500.8l7-2.4 2.6 .4-7 2.2zM327.6 501.4l7-.6 2.6 .2-7 .5z"/>
<path class="l" d="M334.6 500.8l2.6 .2"/>
<path d="M320.6 500.3l7 1.1 2.6 .1-7-1.2zM313.6 497.5l7 2.8 2.6 0-7-2.7zM306.6 493.3l7 4.2 2.6 .1-7-4.2z"/>
<path class="l" d="M313.6 497.5l2.6 .1"/>
<path d="M299.6 487.9l7 5.4 2.6 .1-7-5.3zM292.6 481.7l7 6.2 2.6 .2-7-6.1zM285.6 475l7 6.7 2.6 .3-7-6.4z"/>
<path class="l" d="M292.6 481.7l2.6 .3"/>
<path d="M278.6 468.2l7 6.8 2.6 .6-7-6.7zM456.2 426.1l7-.9 2.6 1.8-7 .7z"/>
<path class="l" d="M463.2 425.2l2.6 1.8M456.2 426.1l7-.9"/>
<path d="M271.6 461.4l7 6.8 2.6 .7-7-6.5zM449.2 427.2l7-1.1 2.6 1.6-7 1z"/>
<path class="l" d="M449.2 427.2l7-1.1"/>
<path d="M268 458.1l3.6 3.3 2.6 1-3.6-3.3z"/>
<path class="l" d="M271.6 461.4l2.6 1"/>
<path d="M442.2 428.7l7-1.5 2.6 1.5-7 1.4z"/>
<path class="l" d="M442.2 428.7l7-1.5"/>
<path d="M264.4 454.8l3.6 3.3 2.6 1-3.6-3.1zM435.2 430.6l7-1.9 2.6 1.4-7 1.9z"/>
<path class="l" d="M442.2 428.7l2.6 1.4M435.2 430.6l7-1.9"/>
<path d="M260.7 451.8l3.7 3 2.6 1.2-3.7-3z"/>
<path class="l" d="M260.7 451.8l2.6 1.2"/>
<path d="M428.2 433l7-2.4 2.6 1.4-7 2.4z"/>
<path class="l" d="M428.2 433l7-2.4"/>
<path d="M421.2 436l7-3 2.6 1.4-7 3z"/>
<path class="l" d="M421.2 436l7-3"/>
<path d="M414.2 439.7l7-3.7 2.6 1.4-7 3.7z"/>
<path class="l" d="M421.2 436l2.6 1.4M414.2 439.7l7-3.7"/>
<path d="M407.2 444.1l7-4.4 2.6 1.4-7 4.3z"/>
<path class="l" d="M407.2 444.1l7-4.4"/>
<path d="M400.2 449.4l7-5.3 2.6 1.3-7 5.1z"/>
<path class="l" d="M400.2 449.4l7-5.3"/>
<path d="M393.2 455.7l7-6.3 2.6 1.1-7 5.9z"/>
<path class="l" d="M400.2 449.4l2.6 1.1M393.2 455.7l7-6.3"/>
<path d="M386.2 462.6l7-6.9 2.6 .7-7 6.5z"/>
<path class="l" d="M386.2 462.6l7-6.9"/>
<path d="M379.2 469.8l7-7.2 2.6 .3-7 6.9z"/>
<path class="l" d="M379.2 469.8l7-7.2"/>
<path d="M372.2 477l7-7.2 2.6 0-7 7.1z"/>
<path class="l" d="M379.2 469.8l2.6 0M372.2 477l7-7.2"/>
<path d="M365.2 483.9l7-6.9 2.6-.1-7 6.9z"/>
<path class="l" d="M365.2 483.9l7-6.9"/>
<path d="M358.2 490l7-6.1 2.6-.1-7 6.1z"/>
<path class="l" d="M358.2 490l7-6.1"/>
<path d="M351.2 495.1l7-5.1 2.6-.1-7 5z"/>
<path class="l" d="M358.2 490l2.6-.1M351.2 495.1l7-5.1"/>
<path d="M344.2 498.8l7-3.7 2.6-.2-7 3.7z"/>
<path class="l" d="M344.2 498.8l7-3.7"/>
<path d="M337.2 501l7-2.2 2.6-.2-7 2.2z"/>
<path class="l" d="M337.2 501l7-2.2"/>
<path d="M330.2 501.5l7-.5 2.6-.2-7 .4z"/>
<path class="l" d="M337.2 501l2.6-.2M330.2 501.5l7-.5"/>
<path d="M323.2 500.3l7 1.2 2.6-.3-7-1.1z"/>
<path class="l" d="M323.2 500.3l7 1.2"/>
<path d="M316.2 497.6l7 2.7 2.6-.2-7-2.6z"/>
<path class="l" d="M316.2 497.6l7 2.7"/>
<path d="M309.2 493.4l7 4.2 2.6-.1-7-4.1z"/>
<path class="l" d="M316.2 497.6l2.6-.1M309.2 493.4l7 4.2"/>
<path d="M302.2 488.1l7 5.3 2.6 0-7-5.1z"/>
<path class="l" d="M302.2 488.1l7 5.3"/>
<path d="M295.2 482l7 6.1 2.6 .2-7-5.9z"/>
<path class="l" d="M295.2 482l7 6.1"/>
<path d="M288.2 475.6l7 6.4 2.6 .4-7-6.3z"/>
<path class="l" d="M295.2 482l2.6 .4M288.2 475.6l7 6.4"/>
<path d="M281.2 468.9l7 6.7 2.6 .5-7-6.4z"/>
<path class="l" d="M281.2 468.9l7 6.7"/>
<path d="M458.8 427.7l7-.7 2.6 2.1-7 .4z"/>
<path class="l" d="M465.8 427l2.6 2.1"/>
<path d="M274.2 462.4l7 6.5 2.6 .8-7-6.4z"/>
<path class="l" d="M274.2 462.4l7 6.5"/>
<path d="M451.8 428.7l7-1 2.6 1.8-7 .9zM270.6 459.1l3.6 3.3 2.6 .9-3.6-3.2z"/>
<path class="l" d="M274.2 462.4l2.6 .9M270.6 459.1l3.6 3.3"/>
<path d="M444.8 430.1l7-1.4 2.6 1.7-7 1.4zM267 456l3.6 3.1 2.6 1-3.6-3z"/>
<path class="l" d="M267 456l3.6 3.1"/>
<path d="M437.8 432l7-1.9 2.6 1.7-7 1.8z"/>
<path class="l" d="M444.8 430.1l2.6 1.7"/>
<path d="M430.8 434.4l7-2.4 2.6 1.6-7 2.4zM263.3 453l3.7 3 2.6 1.1-3.7-2.9z"/>
<path class="l" d="M263.3 453l2.6 1.2M263.3 453l3.7 3"/>
<path d="M423.8 437.4l7-3 2.6 1.6-7 3zM416.8 441.1l7-3.7 2.6 1.6-7 3.6z"/>
<path class="l" d="M423.8 437.4l2.6 1.6"/>
<path d="M409.8 445.4l7-4.3 2.6 1.5-7 4.2zM402.8 450.5l7-5.1 2.6 1.4-7 4.9zM395.8 456.4l7-5.9 2.6 1.2-7 5.6z"/>
<path class="l" d="M402.8 450.5l2.6 1.2"/>
<path d="M388.8 462.9l7-6.5 2.6 .9-7 6.1zM381.8 469.8l7-6.9 2.6 .5-7 6.5zM374.8 476.9l7-7.1 2.6 .1-7 6.6z"/>
<path class="l" d="M381.8 469.8l2.6 .1"/>
<path d="M367.8 483.8l7-6.9 2.6-.4-7 6.6zM360.8 489.9l7-6.1 2.6-.7-7 5.9zM353.8 494.9l7-5 2.6-.9-7 5.1z"/>
<path class="l" d="M360.8 489.9l2.6-.9"/>
<path d="M346.8 498.6l7-3.7 2.6-.8-7 3.8zM339.8 500.8l7-2.2 2.6-.7-7 2.4zM332.8 501.2l7-.4 2.6-.5-7 .6z"/>
<path class="l" d="M339.8 500.8l2.6-.5"/>
<path d="M325.8 500.1l7 1.1 2.6-.3-7-1zM318.8 497.5l7 2.6 2.6-.2-7-2.4zM311.8 493.4l7 4.1 2.6 0-7-3.9z"/>
<path class="l" d="M318.8 497.5l2.6 0"/>
<path d="M304.8 488.3l7 5.1 2.6 .2-7-4.8zM297.8 482.4l7 5.9 2.6 .5-7-5.7zM290.8 476.1l7 6.3 2.6 .7-7-6.1z"/>
<path class="l" d="M297.8 482.4l2.6 .7"/>
<path d="M283.8 469.7l7 6.4 2.6 .9-7-6.3zM461.4 429.5l7-.4 2.6 2.2-7 .4z"/>
<path class="l" d="M468.4 429.1l2.6 2.2M464 431.7l7-.4"/>
<path d="M276.8 463.3l7 6.4 2.6 1-7-6.2zM454.4 430.4l7-.9 2.6 2.2-7 .7z"/>
<path class="l" d="M457 432.4l7-.7"/>
<path d="M273.2 460.1l3.6 3.2 2.6 1.2-3.6-3.1z"/>
<path class="l" d="M276.8 463.3l2.6 1.2"/>
<path d="M447.4 431.8l7-1.4 2.6 2-7 1.3z"/>
<path class="l" d="M450 433.7l7-1.3"/>
<path d="M269.6 457.1l3.6 3 2.6 1.3-3.6-3zM440.4 433.6l7-1.8 2.6 1.9-7 1.8z"/>
<path class="l" d="M447.4 431.8l2.6 1.9M443 435.5l7-1.8"/>
<path d="M433.4 436l7-2.4 2.6 1.9-7 2.3z"/>
<path class="l" d="M436 437.8l7-2.3"/>
<path d="M265.9 454.2l3.7 2.9 2.6 1.3-3.7-2.8z"/>
<path class="l" d="M265.9 454.2l2.6 1.4"/>
<path d="M426.4 439l7-3 2.6 1.8-7 2.9z"/>
<path class="l" d="M429 440.7l7-2.9"/>
<path d="M419.4 442.6l7-3.6 2.6 1.7-7 3.5z"/>
<path class="l" d="M426.4 439l2.6 1.7M422 444.2l7-3.5"/>
<path d="M412.4 446.8l7-4.2 2.6 1.6-7 4.1z"/>
<path class="l" d="M415 448.3l7-4.1"/>
<path d="M405.4 451.7l7-4.9 2.6 1.5-7 4.8z"/>
<path class="l" d="M408 453.1l7-4.8"/>
<path d="M398.4 457.3l7-5.6 2.6 1.4-7 5.4z"/>
<path class="l" d="M405.4 451.7l2.6 1.4M401 458.5l7-5.4"/>
<path d="M391.4 463.4l7-6.1 2.6 1.2-7 5.8z"/>
<path class="l" d="M394 464.3l7-5.8"/>
<path d="M384.4 469.9l7-6.5 2.6 .9-7 5.9z"/>
<path class="l" d="M387 470.2l7-5.9"/>
<path d="M377.4 476.5l7-6.6 2.6 .3-7 5.9z"/>
<path class="l" d="M384.4 469.9l2.6 .3M380 476.1l7-5.9"/>
<path d="M370.4 483.1l7-6.6 2.6-.4-7 5.8z"/>
<path class="l" d="M373 481.9l7-5.8"/>
<path d="M363.4 489l7-5.9 2.6-1.2-7 5.5z"/>
<path class="l" d="M366 487.4l7-5.5"/>
<path d="M356.4 494.1l7-5.1 2.6-1.6-7 5.2z"/>
<path class="l" d="M363.4 489l2.6-1.6M359 492.6l7-5.2"/>
<path d="M349.4 497.9l7-3.8 2.6-1.5-7 4.3z"/>
<path class="l" d="M352 496.9l7-4.3"/>
<path d="M342.4 500.3l7-2.4 2.6-1-7 2.9z"/>
<path class="l" d="M345 499.8l7-2.9"/>
<path d="M335.4 500.9l7-.6 2.6-.5-7 1.1z"/>
<path class="l" d="M342.4 500.3l2.6-.5M338 500.9l7-1.1"/>
<path d="M328.4 499.9l7 1 2.6 0-7-.7z"/>
<path class="l" d="M331 500.2l7 .7"/>
<path d="M321.4 497.5l7 2.4 2.6 .3-7-2.2z"/>
<path class="l" d="M324 498l7 2.2"/>
<path d="M314.4 493.6l7 3.9 2.6 .5-7-3.5z"/>
<path class="l" d="M321.4 497.5l2.6 .5M317 494.5l7 3.5"/>
<path d="M307.4 488.8l7 4.8 2.6 .9-7-4.5z"/>
<path class="l" d="M310 490l7 4.5"/>
<path d="M300.4 483.1l7 5.7 2.6 1.2-7-5.4z"/>
<path class="l" d="M303 484.6l7 5.4"/>
<path d="M293.4 477l7 6.1 2.6 1.5-7-5.9z"/>
<path class="l" d="M300.4 483.1l2.6 1.5M296 478.7l7 5.9"/>
<path d="M286.4 470.7l7 6.3 2.6 1.7-7-6.2z"/>
<path class="l" d="M289 472.5l7 6.2"/>
<path d="M279.4 464.5l7 6.2 2.6 1.8-7-6.2z"/>
<path class="l" d="M282 466.3l7 6.2"/>
<path d="M275.8 461.4l3.6 3.1 2.6 1.8-3.6-3.1z"/>
<path class="l" d="M279.4 464.5l2.6 1.8M278.4 463.2l3.6 3.1"/>
<path d="M272.2 458.4l3.6 3 2.6 1.8-3.6-3z"/>
<path class="l" d="M274.8 460.2l3.6 3"/>
<path d="M268.5 455.6l3.7 2.8 2.6 1.8-3.7-2.8z"/>
<path class="l" d="M268.5 455.6l2.6 1.8M271.1 457.4l3.7 2.8"/></g>
<path d="M268.5 309.7L601 397.2M330.5 502.6L663 587.6" stroke="#c6c6c6" stroke-width="2.6" stroke-dasharray="2.6 3.15" fill="none"/>
<polygon fill="#c6c6c6" points="469.8,363 454.8,365.1 461.1,360.7 457.7,353.8"/>
<polygon fill="#c6c6c6" points="461.6,536.2 446.3,538.3 452.7,533.9 449.2,527"/>
<g class="sf" transform="translate(333 87)"><path d="M390.4 375.1l7-.3 1.1 1.2-7 .6z"/>
<path class="l" d="M397.4 374.8l1.1 1.2M390.4 375.1l7-.3"/>
<path d="M383.4 374.8l7 .3 1.1 1.5-7-.2z"/>
<path class="l" d="M383.4 374.8l7 .3"/>
<path d="M376.4 373.9l7 .9 1.1 1.6-7-1z"/>
<path class="l" d="M376.4 373.9l7 .9"/>
<path d="M369.4 372.4l7 1.5 1.1 1.5-7-1.6z"/>
<path class="l" d="M376.4 373.9l1.1 1.5M369.4 372.4l7 1.5"/>
<path d="M362.4 370.3l7 2.1 1.1 1.4-7-2.2z"/>
<path class="l" d="M362.4 370.3l7 2.1"/>
<path d="M355.4 367.4l7 2.9 1.1 1.3-7-3z"/>
<path class="l" d="M355.4 367.4l7 2.9"/>
<path d="M348.4 363.9l7 3.5 1.1 1.2-7-3.5z"/>
<path class="l" d="M355.4 367.4l1.1 1.2M348.4 363.9l7 3.5"/>
<path d="M341.4 359.8l7 4.1 1.1 1.2-7-4.1z"/>
<path class="l" d="M341.4 359.8l7 4.1"/>
<path d="M391.5 376.6l7-.6 1.2 1.1-7 .7z"/>
<path class="l" d="M398.5 376l1.2 1.1"/>
<path d="M334.4 355.1l7 4.7 1.1 1.2-7-4.6z"/>
<path class="l" d="M334.4 355.1l7 4.7"/>
<path d="M384.5 376.4l7 .2 1.2 1.2-7-.1zM377.5 375.4l7 1 1.2 1.3-7-1zM327.4 349.9l7 5.2 1.1 1.3-7-5z"/>
<path class="l" d="M334.4 355.1l1.1 1.3M327.4 349.9l7 5.2"/>
<path d="M370.5 373.8l7 1.6 1.2 1.3-7-1.6z"/>
<path class="l" d="M377.5 375.4l1.2 1.3"/>
<path d="M320.4 344.3l7 5.6 1.1 1.5-7-5.4z"/>
<path class="l" d="M320.4 344.3l7 5.6"/>
<path d="M363.5 371.6l7 2.2 1.2 1.3-7-2.3zM313.4 338.3l7 6 1.1 1.7-7-5.8z"/>
<path class="l" d="M313.4 338.3l7 6"/>
<path d="M356.5 368.6l7 3 1.2 1.2-7-3zM306.4 331.9l7 6.4 1.1 1.9-7-5.9z"/>
<path class="l" d="M313.4 338.3l1.1 1.9M306.4 331.9l7 6.4"/>
<path d="M349.5 365.1l7 3.5 1.2 1.2-7-3.5z"/>
<path class="l" d="M356.5 368.6l1.2 1.2"/>
<path d="M342.5 361l7 4.1 1.2 1.2-7-4zM299.4 325.7l7 6.2 1.1 2.4-7-5.9z"/>
<path class="l" d="M299.4 325.7l7 6.2"/>
<path d="M392.7 377.8l7-.7 1.1 .9-7 .8z"/>
<path class="l" d="M399.7 377.1l1.1 .9"/>
<path d="M335.5 356.4l7 4.6 1.2 1.3-7-4.5zM292.4 320l7 5.7 1.1 2.7-7-5.5z"/>
<path class="l" d="M292.4 320l7 5.7"/>
<path d="M385.7 377.7l7 .1 1.1 1-7-.1zM378.7 376.7l7 1 1.1 1-7-.8zM328.5 351.4l7 5 1.2 1.4-7-4.9z"/>
<path class="l" d="M335.5 356.4l1.2 1.4"/>
<path d="M285.4 315.2l7 4.8 1.1 2.9-7-4.7z"/>
<path class="l" d="M292.4 320l1.1 2.9M285.4 315.2l7 4.8"/>
<path d="M371.7 375.1l7 1.6 1.1 1.2-7-1.7z"/>
<path class="l" d="M378.7 376.7l1.1 1.2"/>
<path d="M321.5 346l7 5.4 1.2 1.5-7-5.2zM278.4 311.5l7 3.7 1.1 3-7-3.8z"/>
<path class="l" d="M278.4 311.5l7 3.7"/>
<path d="M364.7 372.8l7 2.3 1.1 1.1-7-2.3zM314.5 340.2l7 5.8 1.2 1.7-7-5.5zM271.4 309l7 2.5 1.1 2.9-7-2.6z"/>
<path class="l" d="M271.4 309l7 2.5"/>
<path d="M357.7 369.8l7 3 1.1 1.1-7-2.9zM264.4 307.9l7 1.1 1.1 2.8-7-1.3z"/>
<path class="l" d="M271.4 309l1.1 2.8M264.4 307.9l7 1.1"/>
<path d="M307.5 334.3l7 5.9 1.2 2-7-5.6z"/>
<path class="l" d="M314.5 340.2l1.2 2"/>
<path d="M350.7 366.3l7 3.5 1.1 1.2-7-3.4z"/>
<path class="l" d="M357.7 369.8l1.1 1.2"/>
<path d="M257.4 308.2l7-.3 1.1 2.6-7 .2z"/>
<path class="l" d="M257.4 308.2l7-.3"/>
<path d="M250.4 310.1l7-1.9 1.1 2.5-7 1.9z"/>
<path class="l" d="M250.4 310.1l7-1.9"/>
<path d="M343.7 362.3l7 4 1.1 1.3-7-4zM300.5 328.4l7 5.9 1.2 2.3-7-5.6zM243.4 313.7l7-3.6 1.1 2.5-7 3.7z"/>
<path class="l" d="M250.4 310.1l1.1 2.5M243.4 313.7l7-3.6"/>
<path d="M236.4 318.6l7-4.9 1.1 2.6-7 5.2z"/>
<path class="l" d="M236.4 318.6l7-4.9"/>
<path d="M336.7 357.8l7 4.5 1.1 1.3-7-4.3zM229.4 324.5l7-5.9 1.1 2.9-7 6z"/>
<path class="l" d="M229.4 324.5l7-5.9"/>
<path d="M293.5 322.9l7 5.5 1.2 2.6-7-5.3zM222.4 331l7-6.5 1.1 3-7 6.5z"/>
<path class="l" d="M229.4 324.5l1.1 3M222.4 331l7-6.5"/>
<path d="M215.4 337.8l7-6.8 1.1 3-7 6.5z"/>
<path class="l" d="M215.4 337.8l7-6.8"/>
<path d="M208.4 344.4l7-6.6 1.1 2.7-7 6.3z"/>
<path class="l" d="M208.4 344.4l7-6.6"/>
<path d="M204.8 347.7l3.6-3.3 1.1 2.4-3.6 3z"/>
<path class="l" d="M208.4 344.4l1.1 2.4M204.8 347.7l3.6-3.3"/>
<path d="M201.1 350.8l3.7-3.1 1.1 2.1-3.6 2.8z"/>
<path class="l" d="M201.1 350.8l3.7-3.1"/>
<path d="M329.7 352.9l7 4.9 1.1 1.5-7-4.8z"/>
<path class="l" d="M336.7 357.8l1.1 1.5"/>
<path d="M197.5 353.6l3.6-2.8 1.2 1.8-3.7 2.6z"/>
<path class="l" d="M197.5 353.6l1.1 1.6M197.5 353.6l3.6-2.8"/>
<path d="M286.5 318.2l7 4.7 1.2 2.8-7-4.6z"/>
<path class="l" d="M293.5 322.9l1.2 2.8"/>
<path d="M322.7 347.7l7 5.2 1.1 1.6-7-5zM279.5 314.4l7 3.8 1.2 2.9-7-3.7zM272.5 311.8l7 2.6 1.2 3-7-2.7zM315.7 342.2l7 5.5 1.1 1.8-7-5.2zM393.8 378.8l7-.8 2.6 1.9-7 .8z"/>
<path class="l" d="M400.8 378l2.6 1.9M393.8 378.8l7-.8"/>
<path d="M265.5 310.5l7 1.3 1.2 2.9-7-1.3z"/>
<path class="l" d="M272.5 311.8l1.2 2.9"/>
<path d="M308.7 336.6l7 5.6 1.1 2.1-7-5.4z"/>
<path class="l" d="M315.7 342.2l1.1 2.1"/>
<path d="M386.8 378.7l7 .1 2.6 1.9-7 0z"/>
<path class="l" d="M386.8 378.7l7 .1"/>
<path d="M258.5 310.7l7-.2 1.2 2.9-7 .1zM379.8 377.9l7 .8 2.6 2-7-.8z"/>
<path class="l" d="M379.8 377.9l7 .8"/>
<path d="M251.5 312.6l7-1.9 1.2 2.8-7 1.9zM301.7 331l7 5.6 1.1 2.3-7-5.3zM244.5 316.3l7-3.7 1.2 2.8-7 3.8z"/>
<path class="l" d="M251.5 312.6l1.2 2.8"/>
<path d="M372.8 376.2l7 1.7 2.6 2-7-1.4z"/>
<path class="l" d="M379.8 377.9l2.6 2M372.8 376.2l7 1.7"/>
<path d="M237.5 321.5l7-5.2 1.2 2.9-7 5.2zM230.5 327.5l7-6 1.2 2.9-7 6.1zM294.7 325.7l7 5.3 1.1 2.6-7-5zM223.5 334l7-6.5 1.2 3-7 6.3z"/>
<path class="l" d="M230.5 327.5l1.2 3"/>
<path d="M365.8 373.9l7 2.3 2.6 2.3-7-2.1z"/>
<path class="l" d="M365.8 373.9l7 2.3"/>
<path d="M216.5 340.5l7-6.5 1.2 2.8-7 6.3zM209.5 346.8l7-6.3 1.2 2.6-7 5.9zM205.9 349.8l3.6-3 1.2 2.2-3.7 2.9z"/>
<path class="l" d="M209.5 346.8l1.2 2.2"/>
<path d="M202.3 352.6l3.6-2.8 1.1 2.1-3.6 2.6zM287.7 321.1l7 4.6 1.1 2.9-7-4.5z"/>
<path class="l" d="M294.7 325.7l1.1 2.9"/>
<path d="M198.6 355.2l3.7-2.6 1.1 1.9-3.6 2.4z"/>
<path class="l" d="M198.6 355.2l1.2 1.7"/>
<path d="M358.8 371l7 2.9 2.6 2.5-7-2.6z"/>
<path class="l" d="M358.8 371l7 2.9"/>
<path d="M280.7 317.4l7 3.7 1.1 3-7-3.7zM351.8 367.6l7 3.4 2.6 2.8-7-3.2z"/>
<path class="l" d="M358.8 371l2.6 2.8M351.8 367.6l7 3.4"/>
<path d="M273.7 314.7l7 2.7 1.1 3-7-2.6zM344.8 363.6l7 4 2.6 3-7-3.6z"/>
<path class="l" d="M344.8 363.6l7 4"/>
<path d="M266.7 313.4l7 1.3 1.1 3.1-7-1.3z"/>
<path class="l" d="M273.7 314.7l1.1 3.1"/>
<path d="M337.8 359.3l7 4.3 2.6 3.4-7-4z"/>
<path class="l" d="M337.8 359.3l7 4.3"/>
<path d="M259.7 313.5l7-.1 1.1 3.1-7 .2zM330.8 354.5l7 4.8 2.6 3.7-7-4.4z"/>
<path class="l" d="M337.8 359.3l2.6 3.7M330.8 354.5l7 4.8"/>
<path d="M252.7 315.4l7-1.9 1.1 3.2-7 1.9zM245.7 319.2l7-3.8 1.1 3.2-7 3.7z"/>
<path class="l" d="M252.7 315.4l1.1 3.2"/>
<path d="M238.7 324.4l7-5.2 1.1 3.1-7 5.2zM323.8 349.5l7 5 2.6 4.1-7-4.6z"/>
<path class="l" d="M323.8 349.5l7 5"/>
<path d="M231.7 330.5l7-6.1 1.1 3.1-7 5.9zM224.7 336.8l7-6.3 1.1 2.9-7 6.1z"/>
<path class="l" d="M231.7 330.5l1.1 2.9"/>
<path d="M217.7 343.1l7-6.3 1.1 2.7-7 6zM210.7 349l7-5.9 1.1 2.4-7 5.7zM316.8 344.3l7 5.2 2.6 4.5-7-4.9z"/>
<path class="l" d="M316.8 344.3l7 5.2"/>
<path d="M207 351.9l3.7-2.9 1.1 2.2-3.6 2.7z"/>
<path class="l" d="M210.7 349l1.1 2.2"/>
<path d="M203.4 354.5l3.6-2.6 1.2 2-3.6 2.4zM199.8 356.9l3.6-2.4 1.2 1.8-3.7 2.3z"/>
<path class="l" d="M199.8 356.9l1.1 1.7"/>
<path d="M309.8 338.9l7 5.4 2.6 4.8-7-4.9z"/>
<path class="l" d="M316.8 344.3l2.6 4.8M309.8 338.9l7 5.4"/>
<path d="M302.8 333.6l7 5.3 2.6 5.3-7-4.7z"/>
<path class="l" d="M302.8 333.6l7 5.3"/>
<path d="M295.8 328.6l7 5 2.6 5.9-7-4.5z"/>
<path class="l" d="M295.8 328.6l7 5"/>
<path d="M288.8 324.1l7 4.5 2.6 6.4-7-4z"/>
<path class="l" d="M295.8 328.6l2.6 6.4M288.8 324.1l7 4.5"/>
<path d="M396.4 380.7l7-.8 2.6 1.7-7 .6z"/>
<path class="l" d="M403.4 379.9l2.6 1.7"/>
<path d="M281.8 320.4l7 3.7 2.6 6.9-7-3.2z"/>
<path class="l" d="M281.8 320.4l7 3.7"/>
<path d="M389.4 380.7l7 0 2.6 1.5-7 0zM274.8 317.8l7 2.6 2.6 7.4-7-2.3z"/>
<path class="l" d="M274.8 317.8l7 2.6"/>
<path d="M382.4 379.9l7 .8 2.6 1.5-7-.6zM267.8 316.5l7 1.3 2.6 7.7-7-1z"/>
<path class="l" d="M274.8 317.8l2.6 7.7M267.8 316.5l7 1.3"/>
<path d="M375.4 378.5l7 1.4 2.6 1.7-7-1.2z"/>
<path class="l" d="M382.4 379.9l2.6 1.7"/>
<path d="M260.8 316.7l7-.2 2.6 8-7 .3z"/>
<path class="l" d="M260.8 316.7l7-.2"/>
<path d="M368.4 376.4l7 2.1 2.6 1.9-7-1.7zM253.8 318.6l7-1.9 2.6 8.1-7 1.8z"/>
<path class="l" d="M253.8 318.6l7-1.9"/>
<path d="M361.4 373.8l7 2.6 2.6 2.3-7-2.2zM246.8 322.3l7-3.7 2.6 8-7 3.5z"/>
<path class="l" d="M253.8 318.6l2.6 8M246.8 322.3l7-3.7"/>
<path d="M239.8 327.5l7-5.2 2.6 7.8-7 4.6z"/>
<path class="l" d="M239.8 327.5l7-5.2"/>
<path d="M232.8 333.4l7-5.9 2.6 7.2-7 5.2z"/>
<path class="l" d="M232.8 333.4l7-5.9"/>
<path d="M354.4 370.6l7 3.2 2.6 2.7-7-2.8z"/>
<path class="l" d="M361.4 373.8l2.6 2.7"/>
<path d="M225.8 339.5l7-6.1 2.6 6.5-7 5.5z"/>
<path class="l" d="M232.8 333.4l2.6 6.5M225.8 339.5l7-6.1"/>
<path d="M218.8 345.5l7-6 2.6 5.9-7 5.4z"/>
<path class="l" d="M218.8 345.5l7-6"/>
<path d="M211.8 351.2l7-5.7 2.6 5.3-7 5.1z"/>
<path class="l" d="M211.8 351.2l7-5.7"/>
<path d="M208.2 353.9l3.6-2.7 2.6 4.7-3.6 2.4z"/>
<path class="l" d="M211.8 351.2l2.6 4.7M208.2 353.9l3.6-2.7"/>
<path d="M347.4 367l7 3.6 2.6 3.1-7-3.1zM204.6 356.3l3.6-2.4 2.6 4.4-3.6 2.3z"/>
<path class="l" d="M204.6 356.3l3.6-2.4"/>
<path d="M200.9 358.6l3.7-2.3 2.6 4.3-3.7 2.1z"/>
<path class="l" d="M200.9 358.6l2.6 4.1M200.9 358.6l3.7-2.3"/>
<path d="M340.4 363l7 4 2.6 3.6-7-3.6zM333.4 358.6l7 4.4 2.6 4-7-4z"/>
<path class="l" d="M340.4 363l2.6 4"/>
<path d="M326.4 354l7 4.6 2.6 4.4-7-4.2zM319.4 349.1l7 4.9 2.6 4.8-7-4.4zM312.4 344.2l7 4.9 2.6 5.3-7-4.4z"/>
<path class="l" d="M319.4 349.1l2.6 5.3"/>
<path d="M305.4 339.5l7 4.7 2.6 5.8-7-4.3zM298.4 335l7 4.5 2.6 6.2-7-3.9zM291.4 331l7 4 2.6 6.8-7-3.4z"/>
<path class="l" d="M298.4 335l2.6 6.8"/>
<path d="M284.4 327.8l7 3.2 2.6 7.4-7-2.6zM399 382.2l7-.6 2.6 1.9-7 .4z"/>
<path class="l" d="M406 381.6l2.6 1.9"/>
<path d="M392 382.2l7 0 2.6 1.7-7-.1zM277.4 325.5l7 2.3 2.6 8-7-1.8zM385 381.6l7 .6 2.6 1.6-7-.5zM270.4 324.5l7 1 2.6 8.5-7-.6z"/>
<path class="l" d="M277.4 325.5l2.6 8.5"/>
<path d="M378 380.4l7 1.2 2.6 1.7-7-.9z"/>
<path class="l" d="M385 381.6l2.6 1.7"/>
<path d="M263.4 324.8l7-.3 2.6 8.9-7 .5zM256.4 326.6l7-1.8 2.6 9.1-7 1.7zM371 378.7l7 1.7 2.6 2-7-1.4zM249.4 330.1l7-3.5 2.6 9-7 2.9z"/>
<path class="l" d="M256.4 326.6l2.6 9"/>
<path d="M364 376.5l7 2.2 2.6 2.3-7-1.9zM242.4 334.7l7-4.6 2.6 8.4-7 3.7zM235.4 339.9l7-5.2 2.6 7.5-7 4.3zM228.4 345.4l7-5.5 2.6 6.6-7 4.6z"/>
<path class="l" d="M235.4 339.9l2.6 6.6"/>
<path d="M357 373.7l7 2.8 2.6 2.6-7-2.2z"/>
<path class="l" d="M364 376.5l2.6 2.6"/>
<path d="M221.4 350.8l7-5.4 2.6 5.7-7 4.8zM214.4 355.9l7-5.1 2.6 5.1-7 4.7zM210.8 358.3l3.6-2.4 2.6 4.7-3.6 2.3z"/>
<path class="l" d="M214.4 355.9l2.6 4.7"/>
<path d="M350 370.6l7 3.1 2.6 3.2-7-2.7zM207.2 360.6l3.6-2.3 2.6 4.6-3.6 2.2zM203.5 362.7l3.7-2.1 2.6 4.5-3.7 2z"/>
<path class="l" d="M203.5 362.7l2.6 4.4"/>
<path d="M343 367l7 3.6 2.6 3.6-7-3.1zM336 363l7 4 2.6 4.1-7-3.4z"/>
<path class="l" d="M343 367l2.6 4.1"/>
<path d="M329 358.8l7 4.2 2.6 4.7-7-3.7zM322 354.4l7 4.4 2.6 5.2-7-3.9zM315 350l7 4.4 2.6 5.7-7-3.8z"/>
<path class="l" d="M322 354.4l2.6 5.7"/>
<path d="M308 345.7l7 4.3 2.6 6.3-7-3.6zM301 341.8l7 3.9 2.6 7-7-3.2zM294 338.4l7 3.4 2.6 7.7-7-2.8z"/>
<path class="l" d="M301 341.8l2.6 7.7"/>
<path d="M287 335.8l7 2.6 2.6 8.3-7-2.1zM401.6 383.9l7-.4 2.6 2.2-7 .2z"/>
<path class="l" d="M408.6 383.5l2.6 2.2M401.6 383.9l7-.4"/>
<path d="M280 334l7 1.8 2.6 8.8-7-1.2zM394.6 383.8l7 .1 2.6 2-7-.1z"/>
<path class="l" d="M394.6 383.8l7 .1"/>
<path d="M273 333.4l7 .6 2.6 9.4-7-.3z"/>
<path class="l" d="M280 334l2.6 9.4"/>
<path d="M387.6 383.3l7 .5 2.6 2-7-.4z"/>
<path class="l" d="M387.6 383.3l7 .5"/>
<path d="M266 333.9l7-.5 2.6 9.7-7 .6zM380.6 382.4l7 .9 2.6 2.1-7-.9z"/>
<path class="l" d="M387.6 383.3l2.6 2.1M380.6 382.4l7 .9"/>
<path d="M259 335.6l7-1.7 2.6 9.8-7 1.4zM252 338.5l7-2.9 2.6 9.5-7 2.1z"/>
<path class="l" d="M259 335.6l2.6 9.5"/>
<path d="M373.6 381l7 1.4 2.6 2.1-7-1.2z"/>
<path class="l" d="M373.6 381l7 1.4"/>
<path d="M245 342.2l7-3.7 2.6 8.7-7 2.8zM366.6 379.1l7 1.9 2.6 2.3-7-1.5z"/>
<path class="l" d="M366.6 379.1l7 1.9"/>
<path d="M238 346.5l7-4.3 2.6 7.8-7 3.3zM231 351.1l7-4.6 2.6 6.8-7 3.8z"/>
<path class="l" d="M238 346.5l2.6 6.8"/>
<path d="M224 355.9l7-4.8 2.6 6-7 4.2zM359.6 376.9l7 2.2 2.6 2.7-7-1.9z"/>
<path class="l" d="M366.6 379.1l2.6 2.7M359.6 376.9l7 2.2"/>
<path d="M217 360.6l7-4.7 2.6 5.4-7 4.2zM213.4 362.9l3.6-2.3 2.6 4.9-3.6 2.2z"/>
<path class="l" d="M217 360.6l2.6 4.9"/>
<path d="M209.8 365.1l3.6-2.2 2.6 4.8-3.6 2.1zM352.6 374.2l7 2.7 2.6 3-7-2.1z"/>
<path class="l" d="M352.6 374.2l7 2.7"/>
<path d="M206.1 367.1l3.7-2 2.6 4.7-3.7 2.1z"/>
<path class="l" d="M206.1 367.1l2.6 4.8"/>
<path d="M345.6 371.1l7 3.1 2.6 3.6-7-2.5z"/>
<path class="l" d="M345.6 371.1l7 3.1"/>
<path d="M338.6 367.7l7 3.4 2.6 4.2-7-2.8z"/>
<path class="l" d="M345.6 371.1l2.6 4.2M338.6 367.7l7 3.4"/>
<path d="M331.6 364l7 3.7 2.6 4.8-7-3z"/>
<path class="l" d="M331.6 364l7 3.7"/>
<path d="M324.6 360.1l7 3.9 2.6 5.5-7-3z"/>
<path class="l" d="M324.6 360.1l7 3.9"/>
<path d="M317.6 356.3l7 3.8 2.6 6.4-7-3z"/>
<path class="l" d="M324.6 360.1l2.6 6.4M317.6 356.3l7 3.8"/>
<path d="M310.6 352.7l7 3.6 2.6 7.2-7-2.8z"/>
<path class="l" d="M310.6 352.7l7 3.6"/>
<path d="M303.6 349.5l7 3.2 2.6 8-7-2.5z"/>
<path class="l" d="M303.6 349.5l7 3.2"/>
<path d="M296.6 346.7l7 2.8 2.6 8.7-7-2.1z"/>
<path class="l" d="M303.6 349.5l2.6 8.7M296.6 346.7l7 2.8"/>
<path d="M289.6 344.6l7 2.1 2.6 9.4-7-1.6z"/>
<path class="l" d="M289.6 344.6l7 2.1"/>
<path d="M282.6 343.4l7 1.2 2.6 9.9-7-1z"/>
<path class="l" d="M282.6 343.4l7 1.2"/>
<path d="M404.2 385.9l7-.2 2.6 2.3-7 .2z"/>
<path class="l" d="M411.2 385.7l2.6 2.3"/>
<path d="M275.6 343.1l7 .3 2.6 10.1-7-.2z"/>
<path class="l" d="M282.6 343.4l2.6 10.1M275.6 343.1l7 .3"/>
<path d="M397.2 385.8l7 .1 2.6 2.3-7-.1zM268.6 343.7l7-.6 2.6 10.2-7 .4z"/>
<path class="l" d="M268.6 343.7l7-.6"/>
<path d="M390.2 385.4l7 .4 2.6 2.3-7-.5zM261.6 345.1l7-1.4 2.6 10-7 1z"/>
<path class="l" d="M261.6 345.1l7-1.4"/>
<path d="M383.2 384.5l7 .9 2.6 2.2-7-.7z"/>
<path class="l" d="M390.2 385.4l2.6 2.2"/>
<path d="M254.6 347.2l7-2.1 2.6 9.6-7 1.4z"/>
<path class="l" d="M261.6 345.1l2.6 9.6M254.6 347.2l7-2.1"/>
<path d="M247.6 350l7-2.8 2.6 8.9-7 2z"/>
<path class="l" d="M247.6 350l7-2.8"/>
<path d="M376.2 383.3l7 1.2 2.6 2.4-7-1zM240.6 353.3l7-3.3 2.6 8.1-7 2.5z"/>
<path class="l" d="M240.6 353.3l7-3.3"/>
<path d="M369.2 381.8l7 1.5 2.6 2.6-7-1.3zM233.6 357.1l7-3.8 2.6 7.3-7 3.1z"/>
<path class="l" d="M240.6 353.3l2.6 7.3M233.6 357.1l7-3.8"/>
<path d="M226.6 361.3l7-4.2 2.6 6.6-7 3.5z"/>
<path class="l" d="M226.6 361.3l7-4.2"/>
<path d="M362.2 379.9l7 1.9 2.6 2.8-7-1.5z"/>
<path class="l" d="M369.2 381.8l2.6 2.8"/>
<path d="M219.6 365.5l7-4.2 2.6 5.9-7 3.8z"/>
<path class="l" d="M219.6 365.5l7-4.2"/>
<path d="M216 367.7l3.6-2.2 2.6 5.5-3.6 2z"/>
<path class="l" d="M219.6 365.5l2.6 5.5M216 367.7l3.6-2.2"/>
<path d="M212.4 369.8l3.6-2.1 2.6 5.3-3.6 2z"/>
<path class="l" d="M212.4 369.8l3.6-2.1"/>
<path d="M355.2 377.8l7 2.1 2.6 3.2-7-1.7zM208.7 371.9l3.7-2.1 2.6 5.2-3.7 2z"/>
<path class="l" d="M208.7 371.9l2.6 5.1M208.7 371.9l3.7-2.1"/>
<path d="M348.2 375.3l7 2.5 2.6 3.6-7-1.8zM341.2 372.5l7 2.8 2.6 4.3-7-2.1z"/>
<path class="l" d="M348.2 375.3l2.6 4.3"/>
<path d="M334.2 369.5l7 3 2.6 5-7-2.1zM327.2 366.5l7 3 2.6 5.9-7-2.1zM320.2 363.5l7 3 2.6 6.8-7-2.1z"/>
<path class="l" d="M327.2 366.5l2.6 6.8"/>
<path d="M313.2 360.7l7 2.8 2.6 7.7-7-1.9zM306.2 358.2l7 2.5 2.6 8.6-7-1.8zM299.2 356.1l7 2.1 2.6 9.3-7-1.4z"/>
<path class="l" d="M306.2 358.2l2.6 9.3"/>
<path d="M292.2 354.5l7 1.6 2.6 10-7-1.2zM285.2 353.5l7 1 2.6 10.4-7-.7zM278.2 353.3l7 .2 2.6 10.7-7-.4z"/>
<path class="l" d="M285.2 353.5l2.6 10.7"/>
<path d="M406.8 388.2l7-.2 2.6 2.3-7 .1z"/>
<path class="l" d="M413.8 388l2.6 2.3"/>
<path d="M271.2 353.7l7-.4 2.6 10.5-7 .2zM399.8 388.1l7 .1 2.6 2.2-7-.1zM264.2 354.7l7-1 2.6 10.3-7 .5zM392.8 387.6l7 .5 2.6 2.2-7-.4zM257.2 356.1l7-1.4 2.6 9.8-7 .9z"/>
<path class="l" d="M264.2 354.7l2.6 9.8"/>
<path d="M385.8 386.9l7 .7 2.6 2.3-7-.5z"/>
<path class="l" d="M392.8 387.6l2.6 2.3"/>
<path d="M250.2 358.1l7-2 2.6 9.3-7 1.3zM378.8 385.9l7 1 2.6 2.5-7-.8zM243.2 360.6l7-2.5 2.6 8.6-7 1.8zM236.2 363.7l7-3.1 2.6 7.9-7 2.4z"/>
<path class="l" d="M243.2 360.6l2.6 7.9"/>
<path d="M371.8 384.6l7 1.3 2.6 2.7-7-.9zM229.2 367.2l7-3.5 2.6 7.2-7 2.8zM222.2 371l7-3.8 2.6 6.5-7 3.2zM364.8 383.1l7 1.5 2.6 3.1-7-1.1z"/>
<path class="l" d="M371.8 384.6l2.6 3.1"/>
<path d="M218.6 373l3.6-2 2.6 5.9-3.6 1.8z"/>
<path class="l" d="M222.2 371l2.6 5.9"/>
<path d="M215 375l3.6-2 2.6 5.7-3.6 1.7zM211.3 377l3.7-2 2.6 5.4-3.7 1.9z"/>
<path class="l" d="M211.3 377l2.6 5.3"/>
<path d="M357.8 381.4l7 1.7 2.6 3.5-7-1.1zM350.8 379.6l7 1.8 2.6 4.1-7-1.2zM343.8 377.5l7 2.1 2.6 4.7-7-1.3z"/>
<path class="l" d="M350.8 379.6l2.6 4.7"/>
<path d="M336.8 375.4l7 2.1 2.6 5.5-7-1.3zM329.8 373.3l7 2.1 2.6 6.3-7-1.2zM322.8 371.2l7 2.1 2.6 7.2-7-1.2z"/>
<path class="l" d="M329.8 373.3l2.6 7.2"/>
<path d="M315.8 369.3l7 1.9 2.6 8.1-7-1.2zM308.8 367.5l7 1.8 2.6 8.8-7-1zM301.8 366.1l7 1.4 2.6 9.6-7-.9z"/>
<path class="l" d="M308.8 367.5l2.6 9.6"/>
<path d="M294.8 364.9l7 1.2 2.6 10.1-7-.8zM287.8 364.2l7 .7 2.6 10.5-7-.5zM280.8 363.8l7 .4 2.6 10.7-7-.3z"/>
<path class="l" d="M287.8 364.2l2.6 10.7"/>
<path d="M273.8 364l7-.2 2.6 10.8-7-.1zM409.4 390.4l7-.1 2.6 2-7 .1z"/>
<path class="l" d="M416.4 390.3l2.6 2M409.4 390.4l7-.1"/>
<path d="M266.8 364.5l7-.5 2.6 10.5-7 .2zM402.4 390.3l7 .1 2.6 2-7-.1z"/>
<path class="l" d="M402.4 390.3l7 .1"/>
<path d="M259.8 365.4l7-.9 2.6 10.2-7 .4z"/>
<path class="l" d="M266.8 364.5l2.6 10.2"/>
<path d="M395.4 389.9l7 .4 2.6 2-7-.1z"/>
<path class="l" d="M395.4 389.9l7 .4"/>
<path d="M252.8 366.7l7-1.3 2.6 9.7-7 .9zM388.4 389.4l7 .5 2.6 2.3-7-.3z"/>
<path class="l" d="M395.4 389.9l2.6 2.3M388.4 389.4l7 .5"/>
<path d="M245.8 368.5l7-1.8 2.6 9.3-7 1.2zM381.4 388.6l7 .8 2.6 2.5-7-.3z"/>
<path class="l" d="M381.4 388.6l7 .8"/>
<path d="M238.8 370.9l7-2.4 2.6 8.7-7 1.7z"/>
<path class="l" d="M245.8 368.5l2.6 8.7"/>
<path d="M231.8 373.7l7-2.8 2.6 8-7 2zM374.4 387.7l7 .9 2.6 3-7-.5z"/>
<path class="l" d="M374.4 387.7l7 .9"/>
<path d="M224.8 376.9l7-3.2 2.6 7.2-7 2.4zM367.4 386.6l7 1.1 2.6 3.4-7-.5z"/>
<path class="l" d="M374.4 387.7l2.6 3.4M367.4 386.6l7 1.1"/>
<path d="M221.2 378.7l3.6-1.8 2.6 6.4-3.6 1.3z"/>
<path class="l" d="M224.8 376.9l2.6 6.4"/>
<path d="M217.6 380.4l3.6-1.7 2.6 5.9-3.6 1.4zM213.9 382.3l3.7-1.9 2.6 5.6-3.7 1.4z"/>
<path class="l" d="M213.9 382.3l2.6 5.1"/>
<path d="M360.4 385.5l7 1.1 2.6 4-7-.5z"/>
<path class="l" d="M360.4 385.5l7 1.1"/>
<path d="M353.4 384.3l7 1.2 2.6 4.6-7-.6z"/>
<path class="l" d="M353.4 384.3l7 1.2"/>
<path d="M346.4 383l7 1.3 2.6 5.2-7-.6z"/>
<path class="l" d="M353.4 384.3l2.6 5.2M346.4 383l7 1.3"/>
<path d="M339.4 381.7l7 1.3 2.6 5.9-7-.6z"/>
<path class="l" d="M339.4 381.7l7 1.3"/>
<path d="M332.4 380.5l7 1.2 2.6 6.6-7-.5z"/>
<path class="l" d="M332.4 380.5l7 1.2"/>
<path d="M325.4 379.3l7 1.2 2.6 7.3-7-.5z"/>
<path class="l" d="M332.4 380.5l2.6 7.3M325.4 379.3l7 1.2"/>
<path d="M318.4 378.1l7 1.2 2.6 8-7-.5z"/>
<path class="l" d="M318.4 378.1l7 1.2"/>
<path d="M311.4 377.1l7 1 2.6 8.7-7-.4z"/>
<path class="l" d="M311.4 377.1l7 1"/>
<path d="M304.4 376.2l7 .9 2.6 9.3-7-.4z"/>
<path class="l" d="M311.4 377.1l2.6 9.3M304.4 376.2l7 .9"/>
<path d="M297.4 375.4l7 .8 2.6 9.8-7-.3z"/>
<path class="l" d="M297.4 375.4l7 .8"/>
<path d="M290.4 374.9l7 .5 2.6 10.3-7-.2z"/>
<path class="l" d="M290.4 374.9l7 .5"/>
<path d="M283.4 374.6l7 .3 2.6 10.6-7-.2z"/>
<path class="l" d="M290.4 374.9l2.6 10.6M283.4 374.6l7 .3"/>
<path d="M276.4 374.5l7 .1 2.6 10.7-7 0z"/>
<path class="l" d="M276.4 374.5l7 .1"/>
<path d="M269.4 374.7l7-.2 2.6 10.8-7 .1z"/>
<path class="l" d="M269.4 374.7l7-.2"/>
<path d="M412 392.4l7-.1 2.6 1.8-7 .1z"/>
<path class="l" d="M419 392.3l2.6 1.8"/>
<path d="M262.4 375.1l7-.4 2.6 10.7-7 .2z"/>
<path class="l" d="M269.4 374.7l2.6 10.7M262.4 375.1l7-.4"/>
<path d="M405 392.3l7 .1 2.6 1.8-7 .1zM255.4 376l7-.9 2.6 10.5-7 .5z"/>
<path class="l" d="M255.4 376l7-.9"/>
<path d="M398 392.2l7 .1 2.6 2-7 .1zM248.4 377.2l7-1.2 2.6 10.1-7 .7z"/>
<path class="l" d="M248.4 377.2l7-1.2"/>
<path d="M391 391.9l7 .3 2.6 2.2-7 .1z"/>
<path class="l" d="M398 392.2l2.6 2.2"/>
<path d="M241.4 378.9l7-1.7 2.6 9.6-7 .9z"/>
<path class="l" d="M248.4 377.2l2.6 9.6M241.4 378.9l7-1.7"/>
<path d="M384 391.6l7 .3 2.6 2.6-7 .2zM234.4 380.9l7-2 2.6 8.8-7 1.1z"/>
<path class="l" d="M234.4 380.9l7-2"/>
<path d="M377 391.1l7 .5 2.6 3.1-7 .1zM227.4 383.3l7-2.4 2.6 7.9-7 1.3z"/>
<path class="l" d="M227.4 383.3l7-2.4"/>
<path d="M223.8 384.6l3.6-1.3 2.6 6.8-3.6 .7z"/>
<path class="l" d="M227.4 383.3l2.6 6.8M223.8 384.6l3.6-1.3"/>
<path d="M370 390.6l7 .5 2.6 3.7-7 .1z"/>
<path class="l" d="M377 391.1l2.6 3.7"/>
<path d="M220.2 386l3.6-1.4 2.6 6.2-3.6 .8z"/>
<path class="l" d="M220.2 386l3.6-1.4"/>
<path d="M216.5 387.4l3.7-1.4 2.6 5.6-3.7 .7z"/>
<path class="l" d="M216.5 387.4l2.6 4.9M216.5 387.4l3.7-1.4"/>
<path d="M363 390.1l7 .5 2.6 4.3-7 0zM356 389.5l7 .6 2.6 4.8-7 .1zM349 388.9l7 .6 2.6 5.5-7 .1z"/>
<path class="l" d="M356 389.5l2.6 5.5"/>
<path d="M342 388.3l7 .6 2.6 6.2-7 .1zM335 387.8l7 .5 2.6 6.9-7 .1zM328 387.3l7 .5 2.6 7.5-7 .1z"/>
<path class="l" d="M335 387.8l2.6 7.5"/>
<path d="M321 386.8l7 .5 2.6 8.1-7 .1zM314 386.4l7 .4 2.6 8.7-7 .1zM307 386l7 .4 2.6 9.2-7 .2z"/>
<path class="l" d="M314 386.4l2.6 9.2"/>
<path d="M300 385.7l7 .3 2.6 9.8-7 .1zM293 385.5l7 .2 2.6 10.2-7 .1zM286 385.3l7 .2 2.6 10.5-7 .2z"/>
<path class="l" d="M293 385.5l2.6 10.5"/>
<path d="M279 385.3l7 0 2.6 10.9-7 .1zM272 385.4l7-.1 2.6 11-7 .1zM265 385.6l7-.2 2.6 11-7 .1z"/>
<path class="l" d="M272 385.4l2.6 11"/>
<path d="M414.6 394.2l7-.1 2.6 1.9-7 .1z"/>
<path class="l" d="M421.6 394.1l2.6 1.9"/>
<path d="M258 386.1l7-.5 2.6 10.9-7 .1zM407.6 394.3l7-.1 2.6 1.9-7 .2zM251 386.8l7-.7 2.6 10.5-7 .1zM400.6 394.4l7-.1 2.6 2-7 .4zM244 387.7l7-.9 2.6 9.9-7 .2z"/>
<path class="l" d="M251 386.8l2.6 9.9"/>
<path d="M393.6 394.5l7-.1 2.6 2.3-7 .4z"/>
<path class="l" d="M400.6 394.4l2.6 2.3"/>
<path d="M237 388.8l7-1.1 2.6 9.2-7 .1zM386.6 394.7l7-.2 2.6 2.6-7 .6zM230 390.1l7-1.3 2.6 8.2-7 .1zM379.6 394.8l7-.1 2.6 3-7 .6zM226.4 390.8l3.6-.7 2.6 7-3.6 0z"/>
<path class="l" d="M230 390.1l2.6 7"/>
<path d="M372.6 394.9l7-.1 2.6 3.5-7 .7z"/>
<path class="l" d="M379.6 394.8l2.6 3.5"/>
<path d="M222.8 391.6l3.6-.8 2.6 6.3-3.6 .1zM219.1 392.3l3.7-.7 2.6 5.6-3.7 0z"/>
<path class="l" d="M219.1 392.3l2.6 4.9"/>
<path d="M365.6 394.9l7 0 2.6 4.1-7 .8zM358.6 395l7-.1 2.6 4.9-7 .8zM351.6 395.1l7-.1 2.6 5.6-7 .8z"/>
<path class="l" d="M358.6 395l2.6 5.6"/>
<path d="M344.6 395.2l7-.1 2.6 6.3-7 .8zM337.6 395.3l7-.1 2.6 7-7 .8zM330.6 395.4l7-.1 2.6 7.7-7 .8z"/>
<path class="l" d="M337.6 395.3l2.6 7.7"/>
<path d="M323.6 395.5l7-.1 2.6 8.4-7 .7zM316.6 395.6l7-.1 2.6 9-7 .7zM309.6 395.8l7-.2 2.6 9.6-7 .6z"/>
<path class="l" d="M316.6 395.6l2.6 9.6"/>
<path d="M302.6 395.9l7-.1 2.6 10-7 .5zM295.6 396l7-.1 2.6 10.4-7 .5zM288.6 396.2l7-.2 2.6 10.8-7 .3z"/>
<path class="l" d="M295.6 396l2.6 10.8"/>
<path d="M281.6 396.3l7-.1 2.6 10.9-7 .2zM274.6 396.4l7-.1 2.6 11-7 .1zM267.6 396.5l7-.1 2.6 11-7-.1z"/>
<path class="l" d="M274.6 396.4l2.6 11"/>
<path d="M260.6 396.6l7-.1 2.6 10.8-7-.2zM417.2 396.1l7-.1 2.6 1.9-7 .3z"/>
<path class="l" d="M424.2 396l2.6 1.9M417.2 396.1l7-.1"/>
<path d="M253.6 396.7l7-.1 2.6 10.5-7-.5zM410.2 396.3l7-.2 2.6 2.1-7 .3z"/>
<path class="l" d="M410.2 396.3l7-.2"/>
<path d="M403.2 396.7l7-.4 2.6 2.2-7 .5z"/>
<path class="l" d="M403.2 396.7l7-.4"/>
<path d="M246.6 396.9l7-.2 2.6 9.9-7-.6z"/>
<path class="l" d="M253.6 396.7l2.6 9.9"/>
<path d="M396.2 397.1l7-.4 2.6 2.3-7 .7z"/>
<path class="l" d="M403.2 396.7l2.6 2.3M396.2 397.1l7-.4"/>
<path d="M239.6 397l7-.1 2.6 9.1-7-.8zM389.2 397.7l7-.6 2.6 2.6-7 .9z"/>
<path class="l" d="M389.2 397.7l7-.6"/>
<path d="M232.6 397.1l7-.1 2.6 8.2-7-1.1zM382.2 398.3l7-.6 2.6 2.9-7 1z"/>
<path class="l" d="M382.2 398.3l7-.6"/>
<path d="M229 397.1l3.6 0 2.6 7-3.6-.5z"/>
<path class="l" d="M232.6 397.1l2.6 7"/>
<path d="M225.4 397.2l3.6-.1 2.6 6.5-3.6-.7zM375.2 399l7-.7 2.6 3.3-7 1.3z"/>
<path class="l" d="M382.2 398.3l2.6 3.3M375.2 399l7-.7"/>
<path d="M221.7 397.2l3.7 0 2.6 5.7-3.7-.6z"/>
<path class="l" d="M221.7 397.2l2.6 5.1"/>
<path d="M368.2 399.8l7-.8 2.6 3.9-7 1.5z"/>
<path class="l" d="M368.2 399.8l7-.8"/>
<path d="M361.2 400.6l7-.8 2.6 4.6-7 1.5z"/>
<path class="l" d="M361.2 400.6l7-.8"/>
<path d="M354.2 401.4l7-.8 2.6 5.3-7 1.6z"/>
<path class="l" d="M361.2 400.6l2.6 5.3M354.2 401.4l7-.8"/>
<path d="M347.2 402.2l7-.8 2.6 6.1-7 1.7z"/>
<path class="l" d="M347.2 402.2l7-.8"/>
<path d="M340.2 403l7-.8 2.6 7-7 1.6z"/>
<path class="l" d="M340.2 403l7-.8"/>
<path d="M333.2 403.8l7-.8 2.6 7.8-7 1.6z"/>
<path class="l" d="M340.2 403l2.6 7.8M333.2 403.8l7-.8"/>
<path d="M326.2 404.5l7-.7 2.6 8.6-7 1.4z"/>
<path class="l" d="M326.2 404.5l7-.7"/>
<path d="M319.2 405.2l7-.7 2.6 9.3-7 1.4z"/>
<path class="l" d="M319.2 405.2l7-.7"/>
<path d="M312.2 405.8l7-.6 2.6 10-7 1.1z"/>
<path class="l" d="M319.2 405.2l2.6 10M312.2 405.8l7-.6"/>
<path d="M305.2 406.3l7-.5 2.6 10.5-7 .9z"/>
<path class="l" d="M305.2 406.3l7-.5"/>
<path d="M298.2 406.8l7-.5 2.6 10.9-7 .6z"/>
<path class="l" d="M298.2 406.8l7-.5"/>
<path d="M291.2 407.1l7-.3 2.6 11-7 .4z"/>
<path class="l" d="M298.2 406.8l2.6 11M291.2 407.1l7-.3"/>
<path d="M284.2 407.3l7-.2 2.6 11.1-7 .1z"/>
<path class="l" d="M284.2 407.3l7-.2"/>
<path d="M277.2 407.4l7-.1 2.6 11-7-.1z"/>
<path class="l" d="M277.2 407.4l7-.1"/>
<path d="M270.2 407.3l7 .1 2.6 10.8-7-.4z"/>
<path class="l" d="M277.2 407.4l2.6 10.8M270.2 407.3l7 .1"/>
<path d="M263.2 407.1l7 .2 2.6 10.5-7-.7z"/>
<path class="l" d="M263.2 407.1l7 .2"/>
<path d="M419.8 398.2l7-.3 2.6 2.1-7 .4z"/>
<path class="l" d="M426.8 397.9l2.6 2.1"/>
<path d="M256.2 406.6l7 .5 2.6 10-7-1.1z"/>
<path class="l" d="M256.2 406.6l7 .5"/>
<path d="M412.8 398.5l7-.3 2.6 2.2-7 .5zM249.2 406l7 .6 2.6 9.4-7-1.3z"/>
<path class="l" d="M256.2 406.6l2.6 9.4M249.2 406l7 .6"/>
<path d="M405.8 399l7-.5 2.6 2.4-7 .6zM242.2 405.2l7 .8 2.6 8.7-7-1.7z"/>
<path class="l" d="M242.2 405.2l7 .8"/>
<path d="M398.8 399.7l7-.7 2.6 2.5-7 .8z"/>
<path class="l" d="M405.8 399l2.6 2.5"/>
<path d="M235.2 404.1l7 1.1 2.6 7.8-7-1.9z"/>
<path class="l" d="M235.2 404.1l7 1.1"/>
<path d="M391.8 400.6l7-.9 2.6 2.6-7 1.1zM231.6 403.6l3.6 .5 2.6 7-3.6-1.1z"/>
<path class="l" d="M235.2 404.1l2.6 7M231.6 403.6l3.6 .5"/>
<path d="M384.8 401.6l7-1 2.6 2.8-7 1.4zM228 402.9l3.6 .7 2.6 6.4-3.6-1.2z"/>
<path class="l" d="M228 402.9l3.6 .7"/>
<path d="M377.8 402.9l7-1.3 2.6 3.2-7 1.8z"/>
<path class="l" d="M384.8 401.6l2.6 3.2"/>
<path d="M224.3 402.3l3.7 .6 2.6 5.9-3.7-1.1z"/>
<path class="l" d="M224.3 402.3l2.6 5.4M224.3 402.3l3.7 .6"/>
<path d="M370.8 404.4l7-1.5 2.6 3.7-7 2.1zM363.8 405.9l7-1.5 2.6 4.3-7 2.3zM356.8 407.5l7-1.6 2.6 5.1-7 2.5z"/>
<path class="l" d="M363.8 405.9l2.6 5.1"/>
<path d="M349.8 409.2l7-1.7 2.6 6-7 2.5zM342.8 410.8l7-1.6 2.6 6.8-7 2.5zM335.8 412.4l7-1.6 2.6 7.7-7 2.5z"/>
<path class="l" d="M342.8 410.8l2.6 7.7"/>
<path d="M328.8 413.8l7-1.4 2.6 8.6-7 2.2zM321.8 415.2l7-1.4 2.6 9.4-7 2zM314.8 416.3l7-1.1 2.6 10-7 1.6z"/>
<path class="l" d="M321.8 415.2l2.6 10"/>
<path d="M307.8 417.2l7-.9 2.6 10.5-7 1.3zM300.8 417.8l7-.6 2.6 10.9-7 .8zM293.8 418.2l7-.4 2.6 11.1-7 .3z"/>
<path class="l" d="M300.8 417.8l2.6 11.1"/>
<path d="M286.8 418.3l7-.1 2.6 11-7-.1zM279.8 418.2l7 .1 2.6 10.8-7-.5zM272.8 417.8l7 .4 2.6 10.4-7-.8z"/>
<path class="l" d="M279.8 418.2l2.6 10.4"/>
<path d="M265.8 417.1l7 .7 2.6 10-7-1.3zM258.8 416l7 1.1 2.6 9.4-7-1.6zM422.4 400.4l7-.4 2.6 2.1-7 .6z"/>
<path class="l" d="M429.4 400l2.6 2.1"/>
<path d="M251.8 414.7l7 1.3 2.6 8.9-7-2.1z"/>
<path class="l" d="M258.8 416l2.6 8.9"/>
<path d="M415.4 400.9l7-.5 2.6 2.3-7 .6zM244.8 413l7 1.7 2.6 8.1-7-2.4zM408.4 401.5l7-.6 2.6 2.4-7 .7zM401.4 402.3l7-.8 2.6 2.5-7 1z"/>
<path class="l" d="M408.4 401.5l2.6 2.5"/>
<path d="M237.8 411.1l7 1.9 2.6 7.4-7-2.7zM394.4 403.4l7-1.1 2.6 2.7-7 1.2zM234.2 410l3.6 1.1 2.6 6.6-3.6-1.5z"/>
<path class="l" d="M237.8 411.1l2.6 6.6"/>
<path d="M387.4 404.8l7-1.4 2.6 2.8-7 1.7zM230.6 408.8l3.6 1.2 2.6 6.2-3.6-1.5zM226.9 407.7l3.7 1.1 2.6 5.9-3.7-1.6z"/>
<path class="l" d="M226.9 407.7l2.6 5.4"/>
<path d="M380.4 406.6l7-1.8 2.6 3.1-7 2.3z"/>
<path class="l" d="M387.4 404.8l2.6 3.1"/>
<path d="M373.4 408.7l7-2.1 2.6 3.6-7 2.7zM366.4 411l7-2.3 2.6 4.2-7 3zM359.4 413.5l7-2.5 2.6 4.9-7 3.2z"/>
<path class="l" d="M366.4 411l2.6 4.9"/>
<path d="M352.4 416l7-2.5 2.6 5.6-7 3.4zM345.4 418.5l7-2.5 2.6 6.5-7 3.4zM338.4 421l7-2.5 2.6 7.4-7 3.2z"/>
<path class="l" d="M345.4 418.5l2.6 7.4"/>
<path d="M331.4 423.2l7-2.2 2.6 8.1-7 3zM324.4 425.2l7-2 2.6 8.9-7 2.7zM317.4 426.8l7-1.6 2.6 9.6-7 2.1z"/>
<path class="l" d="M324.4 425.2l2.6 9.6"/>
<path d="M310.4 428.1l7-1.3 2.6 10.1-7 1.6zM303.4 428.9l7-.8 2.6 10.4-7 1zM296.4 429.2l7-.3 2.6 10.6-7 .4z"/>
<path class="l" d="M303.4 428.9l2.6 10.6"/>
<path d="M289.4 429.1l7 .1 2.6 10.7-7-.3zM282.4 428.6l7 .5 2.6 10.5-7-.8zM275.4 427.8l7 .8 2.6 10.2-7-1.3z"/>
<path class="l" d="M282.4 428.6l2.6 10.2"/>
<path d="M268.4 426.5l7 1.3 2.6 9.7-7-1.9zM261.4 424.9l7 1.6 2.6 9.1-7-2.3zM254.4 422.8l7 2.1 2.6 8.4-7-2.8z"/>
<path class="l" d="M261.4 424.9l2.6 8.4"/>
<path d="M425 402.7l7-.6 2.6 2-7 .8z"/>
<path class="l" d="M432 402.1l2.6 2M425 402.7l7-.6"/>
<path d="M418 403.3l7-.6 2.6 2.2-7 .8z"/>
<path class="l" d="M418 403.3l7-.6"/>
<path d="M247.4 420.4l7 2.4 2.6 7.7-7-3.2zM411 404l7-.7 2.6 2.4-7 .9z"/>
<path class="l" d="M411 404l7-.7"/>
<path d="M240.4 417.7l7 2.7 2.6 6.9-7-3.4zM404 405l7-1 2.6 2.6-7 1.1z"/>
<path class="l" d="M411 404l2.6 2.6M404 405l7-1"/>
<path d="M236.8 416.2l3.6 1.5 2.6 6.2-3.6-1.8z"/>
<path class="l" d="M240.4 417.7l2.6 6.2"/>
<path d="M397 406.2l7-1.2 2.6 2.7-7 1.5z"/>
<path class="l" d="M397 406.2l7-1.2"/>
<path d="M233.2 414.7l3.6 1.5 2.6 5.9-3.6-1.9zM390 407.9l7-1.7 2.6 3-7 2z"/>
<path class="l" d="M390 407.9l7-1.7"/>
<path d="M229.5 413.1l3.7 1.6 2.6 5.5-3.7-1.8z"/>
<path class="l" d="M229.5 413.1l2.6 5.3"/>
<path d="M383 410.2l7-2.3 2.6 3.3-7 2.6z"/>
<path class="l" d="M390 407.9l2.6 3.3M383 410.2l7-2.3"/>
<path d="M376 412.9l7-2.7 2.6 3.6-7 3.1z"/>
<path class="l" d="M376 412.9l7-2.7"/>
<path d="M369 415.9l7-3 2.6 4-7 3.6z"/>
<path class="l" d="M369 415.9l7-3"/>
<path d="M362 419.1l7-3.2 2.6 4.6-7 3.9z"/>
<path class="l" d="M369 415.9l2.6 4.6M362 419.1l7-3.2"/>
<path d="M355 422.5l7-3.4 2.6 5.3-7 4.1z"/>
<path class="l" d="M355 422.5l7-3.4"/>
<path d="M348 425.9l7-3.4 2.6 6-7 4z"/>
<path class="l" d="M348 425.9l7-3.4"/>
<path d="M341 429.1l7-3.2 2.6 6.6-7 4z"/>
<path class="l" d="M348 425.9l2.6 6.6M341 429.1l7-3.2"/>
<path d="M334 432.1l7-3 2.6 7.4-7 3.7z"/>
<path class="l" d="M334 432.1l7-3"/>
<path d="M327 434.8l7-2.7 2.6 8.1-7 3.3z"/>
<path class="l" d="M327 434.8l7-2.7"/>
<path d="M320 436.9l7-2.1 2.6 8.7-7 2.7z"/>
<path class="l" d="M327 434.8l2.6 8.7M320 436.9l7-2.1"/>
<path d="M313 438.5l7-1.6 2.6 9.3-7 2z"/>
<path class="l" d="M313 438.5l7-1.6"/>
<path d="M306 439.5l7-1 2.6 9.7-7 1.3z"/>
<path class="l" d="M306 439.5l7-1"/>
<path d="M299 439.9l7-.4 2.6 10-7 .5z"/>
<path class="l" d="M306 439.5l2.6 10M299 439.9l7-.4"/>
<path d="M292 439.6l7 .3 2.6 10.1-7-.3z"/>
<path class="l" d="M292 439.6l7 .3"/>
<path d="M285 438.8l7 .8 2.6 10.1-7-1.1z"/>
<path class="l" d="M285 438.8l7 .8"/>
<path d="M278 437.5l7 1.3 2.6 9.8-7-1.8z"/>
<path class="l" d="M285 438.8l2.6 9.8M278 437.5l7 1.3"/>
<path d="M271 435.6l7 1.9 2.6 9.3-7-2.5z"/>
<path class="l" d="M271 435.6l7 1.9"/>
<path d="M264 433.3l7 2.3 2.6 8.7-7-3z"/>
<path class="l" d="M264 433.3l7 2.3"/>
<path d="M257 430.5l7 2.8 2.6 8-7-3.7z"/>
<path class="l" d="M264 433.3l2.6 8M257 430.5l7 2.8"/>
<path d="M427.6 404.9l7-.8 2.6 2-7 .9z"/>
<path class="l" d="M434.6 404.1l2.6 2"/>
<path d="M250 427.3l7 3.2 2.6 7.1-7-4z"/>
<path class="l" d="M250 427.3l7 3.2"/>
<path d="M420.6 405.7l7-.8 2.6 2.1-7 1zM413.6 406.6l7-.9 2.6 2.3-7 1.1zM243 423.9l7 3.4 2.6 6.3-7-4.1z"/>
<path class="l" d="M243 423.9l7 3.4"/>
<path d="M406.6 407.7l7-1.1 2.6 2.5-7 1.3z"/>
<path class="l" d="M413.6 406.6l2.6 2.5"/>
<path d="M239.4 422.1l3.6 1.8 2.6 5.6-3.6-2.2z"/>
<path class="l" d="M243 423.9l2.6 5.6M239.4 422.1l3.6 1.8"/>
<path d="M399.6 409.2l7-1.5 2.6 2.7-7 1.7zM235.8 420.2l3.6 1.9 2.6 5.2-3.6-2z"/>
<path class="l" d="M235.8 420.2l3.6 1.9"/>
<path d="M392.6 411.2l7-2 2.6 2.9-7 2.3zM232.1 418.4l3.7 1.8 2.6 5.1-3.7-2z"/>
<path class="l" d="M232.1 418.4l2.6 4.9M232.1 418.4l3.7 1.8"/>
<path d="M385.6 413.8l7-2.6 2.6 3.2-7 3z"/>
<path class="l" d="M392.6 411.2l2.6 3.2"/>
<path d="M378.6 416.9l7-3.1 2.6 3.6-7 3.5zM371.6 420.5l7-3.6 2.6 4-7 4zM364.6 424.4l7-3.9 2.6 4.4-7 4.3z"/>
<path class="l" d="M371.6 420.5l2.6 4.4"/>
<path d="M357.6 428.5l7-4.1 2.6 4.8-7 4.6zM350.6 432.5l7-4 2.6 5.3-7 4.7zM343.6 436.5l7-4 2.6 6-7 4.5z"/>
<path class="l" d="M350.6 432.5l2.6 6"/>
<path d="M336.6 440.2l7-3.7 2.6 6.5-7 4.4zM329.6 443.5l7-3.3 2.6 7.2-7 3.9zM322.6 446.2l7-2.7 2.6 7.8-7 3.2z"/>
<path class="l" d="M329.6 443.5l2.6 7.8"/>
<path d="M315.6 448.2l7-2 2.6 8.3-7 2.5zM308.6 449.5l7-1.3 2.6 8.8-7 1.7zM301.6 450l7-.5 2.6 9.2-7 .6z"/>
<path class="l" d="M308.6 449.5l2.6 9.2"/>
<path d="M294.6 449.7l7 .3 2.6 9.3-7-.3zM287.6 448.6l7 1.1 2.6 9.3-7-1.3zM280.6 446.8l7 1.8 2.6 9.1-7-2.2z"/>
<path class="l" d="M287.6 448.6l2.6 9.1"/>
<path d="M273.6 444.3l7 2.5 2.6 8.7-7-3.1zM266.6 441.3l7 3 2.6 8.1-7-3.8zM259.6 437.6l7 3.7 2.6 7.3-7-4.5z"/>
<path class="l" d="M266.6 441.3l2.6 7.3"/>
<path d="M430.2 407l7-.9 2.6 1.9-7 1z"/>
<path class="l" d="M437.2 406.1l2.6 1.9"/>
<path d="M252.6 433.6l7 4 2.6 6.5-7-4.8zM423.2 408l7-1 2.6 2-7 1zM245.6 429.5l7 4.1 2.6 5.7-7-4.8zM416.2 409.1l7-1.1 2.6 2-7 1.3zM409.2 410.4l7-1.3 2.6 2.2-7 1.6z"/>
<path class="l" d="M416.2 409.1l2.6 2.2"/>
<path d="M242 427.3l3.6 2.2 2.6 5-3.6-2.4z"/>
<path class="l" d="M245.6 429.5l2.6 5"/>
<path d="M402.2 412.1l7-1.7 2.6 2.5-7 2.1zM238.4 425.3l3.6 2 2.6 4.8-3.6-2.4zM395.2 414.4l7-2.3 2.6 2.9-7 2.6zM234.7 423.3l3.7 2 2.6 4.4-3.7-2.1z"/>
<path class="l" d="M234.7 423.3l2.6 4.3"/>
<path d="M388.2 417.4l7-3 2.6 3.2-7 3.2z"/>
<path class="l" d="M395.2 414.4l2.6 3.2"/>
<path d="M381.2 420.9l7-3.5 2.6 3.4-7 3.8zM374.2 424.9l7-4 2.6 3.7-7 4.3zM367.2 429.2l7-4.3 2.6 4-7 4.6z"/>
<path class="l" d="M374.2 424.9l2.6 4"/>
<path d="M360.2 433.8l7-4.6 2.6 4.3-7 5zM353.2 438.5l7-4.7 2.6 4.7-7 5.1zM346.2 443l7-4.5 2.6 5.1-7 5.1z"/>
<path class="l" d="M353.2 438.5l2.6 5.1"/>
<path d="M339.2 447.4l7-4.4 2.6 5.7-7 5zM332.2 451.3l7-3.9 2.6 6.3-7 4.6zM325.2 454.5l7-3.2 2.6 7-7 3.8z"/>
<path class="l" d="M332.2 451.3l2.6 7"/>
<path d="M318.2 457l7-2.5 2.6 7.6-7 2.9zM311.2 458.7l7-1.7 2.6 8-7 1.9zM304.2 459.3l7-.6 2.6 8.2-7 .8z"/>
<path class="l" d="M311.2 458.7l2.6 8.2"/>
<path d="M297.2 459l7 .3 2.6 8.4-7-.3zM290.2 457.7l7 1.3 2.6 8.4-7-1.6zM283.2 455.5l7 2.2 2.6 8.1-7-2.7z"/>
<path class="l" d="M290.2 457.7l2.6 8.1"/>
<path d="M276.2 452.4l7 3.1 2.6 7.6-7-3.7zM269.2 448.6l7 3.8 2.6 7-7-4.5zM262.2 444.1l7 4.5 2.6 6.3-7-5.1z"/>
<path class="l" d="M269.2 448.6l2.6 6.3"/>
<path d="M255.2 439.3l7 4.8 2.6 5.7-7-5.5zM432.8 409l7-1 2.6 2.1-7 .7z"/>
<path class="l" d="M439.8 408l2.6 2.1M432.8 409l7-1"/>
<path d="M425.8 410l7-1 2.6 1.8-7 1.1z"/>
<path class="l" d="M425.8 410l7-1"/>
<path d="M248.2 434.5l7 4.8 2.6 5-7-5.4zM418.8 411.3l7-1.3 2.6 1.9-7 1.4z"/>
<path class="l" d="M418.8 411.3l7-1.3"/>
<path d="M244.6 432.1l3.6 2.4 2.6 4.4-3.6-2.7z"/>
<path class="l" d="M248.2 434.5l2.6 4.4"/>
<path d="M411.8 412.9l7-1.6 2.6 2-7 1.9z"/>
<path class="l" d="M418.8 411.3l2.6 2M411.8 412.9l7-1.6"/>
<path d="M241 429.7l3.6 2.4 2.6 4.1-3.6-2.5zM404.8 415l7-2.1 2.6 2.3-7 2.3z"/>
<path class="l" d="M404.8 415l7-2.1"/>
<path d="M237.3 427.6l3.7 2.1 2.6 4-3.7-2.3z"/>
<path class="l" d="M237.3 427.6l2.6 3.8"/>
<path d="M397.8 417.6l7-2.6 2.6 2.5-7 3z"/>
<path class="l" d="M397.8 417.6l7-2.6"/>
<path d="M390.8 420.8l7-3.2 2.6 2.9-7 3.5z"/>
<path class="l" d="M397.8 417.6l2.6 2.9M390.8 420.8l7-3.2"/>
<path d="M383.8 424.6l7-3.8 2.6 3.2-7 4z"/>
<path class="l" d="M383.8 424.6l7-3.8"/>
<path d="M376.8 428.9l7-4.3 2.6 3.4-7 4.5z"/>
<path class="l" d="M376.8 428.9l7-4.3"/>
<path d="M369.8 433.5l7-4.6 2.6 3.6-7 4.8z"/>
<path class="l" d="M376.8 428.9l2.6 3.6M369.8 433.5l7-4.6"/>
<path d="M362.8 438.5l7-5 2.6 3.8-7 5.1z"/>
<path class="l" d="M362.8 438.5l7-5"/>
<path d="M355.8 443.6l7-5.1 2.6 3.9-7 5.5z"/>
<path class="l" d="M355.8 443.6l7-5.1"/>
<path d="M348.8 448.7l7-5.1 2.6 4.3-7 5.8z"/>
<path class="l" d="M355.8 443.6l2.6 4.3M348.8 448.7l7-5.1"/>
<path d="M341.8 453.7l7-5 2.6 5-7 5.7z"/>
<path class="l" d="M341.8 453.7l7-5"/>
<path d="M334.8 458.3l7-4.6 2.6 5.7-7 5.2z"/>
<path class="l" d="M334.8 458.3l7-4.6"/>
<path d="M327.8 462.1l7-3.8 2.6 6.3-7 4.3z"/>
<path class="l" d="M334.8 458.3l2.6 6.3M327.8 462.1l7-3.8"/>
<path d="M320.8 465l7-2.9 2.6 6.8-7 3.3z"/>
<path class="l" d="M320.8 465l7-2.9"/>
<path d="M313.8 466.9l7-1.9 2.6 7.2-7 2.1z"/>
<path class="l" d="M313.8 466.9l7-1.9"/>
<path d="M306.8 467.7l7-.8 2.6 7.4-7 .8z"/>
<path class="l" d="M313.8 466.9l2.6 7.4M306.8 467.7l7-.8"/>
<path d="M299.8 467.4l7 .3 2.6 7.4-7-.6z"/>
<path class="l" d="M299.8 467.4l7 .3"/>
<path d="M292.8 465.8l7 1.6 2.6 7.1-7-1.8z"/>
<path class="l" d="M292.8 465.8l7 1.6"/>
<path d="M285.8 463.1l7 2.7 2.6 6.9-7-3.2z"/>
<path class="l" d="M292.8 465.8l2.6 6.9M285.8 463.1l7 2.7"/>
<path d="M278.8 459.4l7 3.7 2.6 6.4-7-4.2z"/>
<path class="l" d="M278.8 459.4l7 3.7"/>
<path d="M271.8 454.9l7 4.5 2.6 5.9-7-5.1z"/>
<path class="l" d="M271.8 454.9l7 4.5"/>
<path d="M264.8 449.8l7 5.1 2.6 5.3-7-5.6z"/>
<path class="l" d="M271.8 454.9l2.6 5.3M264.8 449.8l7 5.1"/>
<path d="M257.8 444.3l7 5.5 2.6 4.8-7-5.9z"/>
<path class="l" d="M257.8 444.3l7 5.5"/>
<path d="M435.4 410.8l7-.7 2.6 2.1-7 .5z"/>
<path class="l" d="M442.4 410.1l2.6 2.1"/>
<path d="M428.4 411.9l7-1.1 2.6 1.9-7 1zM250.8 438.9l7 5.4 2.6 4.4-7-5.9z"/>
<path class="l" d="M250.8 438.9l7 5.4"/>
<path d="M421.4 413.3l7-1.4 2.6 1.8-7 1.5zM247.2 436.2l3.6 2.7 2.6 3.9-3.6-2.9z"/>
<path class="l" d="M250.8 438.9l2.6 3.9M247.2 436.2l3.6 2.7"/>
<path d="M414.4 415.2l7-1.9 2.6 1.9-7 2.1z"/>
<path class="l" d="M421.4 413.3l2.6 1.9"/>
<path d="M243.6 433.7l3.6 2.5 2.6 3.7-3.6-2.7z"/>
<path class="l" d="M243.6 433.7l3.6 2.5"/>
<path d="M407.4 417.5l7-2.3 2.6 2.1-7 2.6zM239.9 431.4l3.7 2.3 2.6 3.5-3.7-2.5z"/>
<path class="l" d="M239.9 431.4l2.6 3.3M239.9 431.4l3.7 2.3"/>
<path d="M400.4 420.5l7-3 2.6 2.4-7 3.2zM393.4 424l7-3.5 2.6 2.6-7 3.8z"/>
<path class="l" d="M400.4 420.5l2.6 2.6"/>
<path d="M386.4 428l7-4 2.6 2.9-7 4.2zM379.4 432.5l7-4.5 2.6 3.1-7 4.6zM372.4 437.3l7-4.8 2.6 3.2-7 4.9z"/>
<path class="l" d="M379.4 432.5l2.6 3.2"/>
<path d="M365.4 442.4l7-5.1 2.6 3.3-7 5.3zM358.4 447.9l7-5.5 2.6 3.5-7 5.9zM351.4 453.7l7-5.8 2.6 3.9-7 6.3z"/>
<path class="l" d="M358.4 447.9l2.6 3.9"/>
<path d="M344.4 459.4l7-5.7 2.6 4.4-7 6.3zM337.4 464.6l7-5.2 2.6 5-7 5.8zM330.4 468.9l7-4.3 2.6 5.6-7 4.8z"/>
<path class="l" d="M337.4 464.6l2.6 5.6"/>
<path d="M323.4 472.2l7-3.3 2.6 6.1-7 3.6zM316.4 474.3l7-2.1 2.6 6.4-7 2.2zM309.4 475.1l7-.8 2.6 6.5-7 .7z"/>
<path class="l" d="M316.4 474.3l2.6 6.5"/>
<path d="M302.4 474.5l7 .6 2.6 6.4-7-.8zM295.4 472.7l7 1.8 2.6 6.2-7-2.2zM288.4 469.5l7 3.2 2.6 5.8-7-3.6z"/>
<path class="l" d="M295.4 472.7l2.6 5.8"/>
<path d="M281.4 465.3l7 4.2 2.6 5.4-7-4.7zM274.4 460.2l7 5.1 2.6 4.9-7-5.5zM267.4 454.6l7 5.6 2.6 4.5-7-6z"/>
<path class="l" d="M274.4 460.2l2.6 4.5"/>
<path d="M260.4 448.7l7 5.9 2.6 4.1-7-6.2zM438 412.7l7-.5 2.6 2.1-7 .3z"/>
<path class="l" d="M445 412.2l2.6 2.1"/>
<path d="M253.4 442.8l7 5.9 2.6 3.8-7-6.1zM431 413.7l7-1 2.6 1.9-7 1zM424 415.2l7-1.5 2.6 1.9-7 1.6zM249.8 439.9l3.6 2.9 2.6 3.6-3.6-3.1z"/>
<path class="l" d="M253.4 442.8l2.6 3.6"/>
<path d="M417 417.3l7-2.1 2.6 2-7 2.2z"/>
<path class="l" d="M424 415.2l2.6 2"/>
<path d="M246.2 437.2l3.6 2.7 2.6 3.4-3.6-2.9zM410 419.9l7-2.6 2.6 2.1-7 2.8zM242.5 434.7l3.7 2.5 2.6 3.2-3.7-2.7z"/>
<path class="l" d="M242.5 434.7l2.6 3"/>
<path d="M403 423.1l7-3.2 2.6 2.3-7 3.3zM396 426.9l7-3.8 2.6 2.4-7 3.9z"/>
<path class="l" d="M403 423.1l2.6 2.4"/>
<path d="M389 431.1l7-4.2 2.6 2.5-7 4.4zM382 435.7l7-4.6 2.6 2.7-7 4.8zM375 440.6l7-4.9 2.6 2.9-7 5.2z"/>
<path class="l" d="M382 435.7l2.6 2.9"/>
<path d="M368 445.9l7-5.3 2.6 3.2-7 5.6zM361 451.8l7-5.9 2.6 3.5-7 6.1zM354 458.1l7-6.3 2.6 3.7-7 6.7z"/>
<path class="l" d="M361 451.8l2.6 3.7"/>
<path d="M347 464.4l7-6.3 2.6 4.1-7 6.8zM340 470.2l7-5.8 2.6 4.6-7 6.2zM333 475l7-4.8 2.6 5-7 5.1z"/>
<path class="l" d="M340 470.2l2.6 5"/>
<path d="M326 478.6l7-3.6 2.6 5.3-7 3.8zM319 480.8l7-2.2 2.6 5.5-7 2.3zM312 481.5l7-.7 2.6 5.6-7 .7z"/>
<path class="l" d="M319 480.8l2.6 5.6"/>
<path d="M305 480.7l7 .8 2.6 5.6-7-1zM298 478.5l7 2.2 2.6 5.4-7-2.5zM291 474.9l7 3.6 2.6 5.1-7-3.9z"/>
<path class="l" d="M298 478.5l2.6 5.1"/>
<path d="M284 470.2l7 4.7 2.6 4.8-7-5zM277 464.7l7 5.5 2.6 4.5-7-5.8zM270 458.7l7 6 2.6 4.2-7-6.3z"/>
<path class="l" d="M277 464.7l2.6 4.2"/>
<path d="M263 452.5l7 6.2 2.6 3.9-7-6.5zM440.6 414.6l7-.3 2.6 2-7 .4z"/>
<path class="l" d="M447.6 414.3l2.6 2M440.6 414.6l7-.3"/>
<path d="M256 446.4l7 6.1 2.6 3.6-7-6.4zM433.6 415.6l7-1 2.6 2.1-7 1.1z"/>
<path class="l" d="M433.6 415.6l7-1"/>
<path d="M426.6 417.2l7-1.6 2.6 2.2-7 1.6z"/>
<path class="l" d="M426.6 417.2l7-1.6"/>
<path d="M252.4 443.3l3.6 3.1 2.6 3.3-3.6-3.2z"/>
<path class="l" d="M256 446.4l2.6 3.3"/>
<path d="M419.6 419.4l7-2.2 2.6 2.2-7 2.2z"/>
<path class="l" d="M426.6 417.2l2.6 2.2M419.6 419.4l7-2.2"/>
<path d="M248.8 440.4l3.6 2.9 2.6 3.2-3.6-3zM412.6 422.2l7-2.8 2.6 2.2-7 2.8z"/>
<path class="l" d="M412.6 422.2l7-2.8"/>
<path d="M245.1 437.7l3.7 2.7 2.6 3.1-3.7-2.9z"/>
<path class="l" d="M245.1 437.7l2.6 2.9"/>
<path d="M405.6 425.5l7-3.3 2.6 2.2-7 3.3z"/>
<path class="l" d="M405.6 425.5l7-3.3"/>
<path d="M398.6 429.4l7-3.9 2.6 2.2-7 4z"/>
<path class="l" d="M405.6 425.5l2.6 2.2M398.6 429.4l7-3.9"/>
<path d="M391.6 433.8l7-4.4 2.6 2.3-7 4.5z"/>
<path class="l" d="M391.6 433.8l7-4.4"/>
<path d="M384.6 438.6l7-4.8 2.6 2.4-7 5z"/>
<path class="l" d="M384.6 438.6l7-4.8"/>
<path d="M377.6 443.8l7-5.2 2.6 2.6-7 5.7z"/>
<path class="l" d="M384.6 438.6l2.6 2.6M377.6 443.8l7-5.2"/>
<path d="M370.6 449.4l7-5.6 2.6 3.1-7 6.1z"/>
<path class="l" d="M370.6 449.4l7-5.6"/>
<path d="M363.6 455.5l7-6.1 2.6 3.6-7 6.5z"/>
<path class="l" d="M363.6 455.5l7-6.1"/>
<path d="M356.6 462.2l7-6.7 2.6 4-7 6.9z"/>
<path class="l" d="M363.6 455.5l2.6 4M356.6 462.2l7-6.7"/>
<path d="M349.6 469l7-6.8 2.6 4.2-7 6.8z"/>
<path class="l" d="M349.6 469l7-6.8"/>
<path d="M342.6 475.2l7-6.2 2.6 4.2-7 6.3z"/>
<path class="l" d="M342.6 475.2l7-6.2"/>
<path d="M335.6 480.3l7-5.1 2.6 4.3-7 5.3z"/>
<path class="l" d="M342.6 475.2l2.6 4.3M335.6 480.3l7-5.1"/>
<path d="M328.6 484.1l7-3.8 2.6 4.5-7 4z"/>
<path class="l" d="M328.6 484.1l7-3.8"/>
<path d="M321.6 486.4l7-2.3 2.6 4.7-7 2.5z"/>
<path class="l" d="M321.6 486.4l7-2.3"/>
<path d="M314.6 487.1l7-.7 2.6 4.9-7 .7z"/>
<path class="l" d="M321.6 486.4l2.6 4.9M314.6 487.1l7-.7"/>
<path d="M307.6 486.1l7 1 2.6 4.9-7-1.1z"/>
<path class="l" d="M307.6 486.1l7 1"/>
<path d="M300.6 483.6l7 2.5 2.6 4.8-7-2.6z"/>
<path class="l" d="M300.6 483.6l7 2.5"/>
<path d="M293.6 479.7l7 3.9 2.6 4.7-7-4.1z"/>
<path class="l" d="M300.6 483.6l2.6 4.7M293.6 479.7l7 3.9"/>
<path d="M286.6 474.7l7 5 2.6 4.5-7-5.3z"/>
<path class="l" d="M286.6 474.7l7 5"/>
<path d="M279.6 468.9l7 5.8 2.6 4.2-7-6z"/>
<path class="l" d="M279.6 468.9l7 5.8"/>
<path d="M272.6 462.6l7 6.3 2.6 4-7-6.6z"/>
<path class="l" d="M279.6 468.9l2.6 4M272.6 462.6l7 6.3"/>
<path d="M265.6 456.1l7 6.5 2.6 3.7-7-6.7z"/>
<path class="l" d="M265.6 456.1l7 6.5"/>
<path d="M443.2 416.7l7-.4 2.6 1.9-7 .7z"/>
<path class="l" d="M450.2 416.3l2.6 1.9"/>
<path d="M258.6 449.7l7 6.4 2.6 3.5-7-6.6z"/>
<path class="l" d="M258.6 449.7l7 6.4"/>
<path d="M436.2 417.8l7-1.1 2.6 2.2-7 1.2zM429.2 419.4l7-1.6 2.6 2.3-7 1.6zM255 446.5l3.6 3.2 2.6 3.3-3.6-3.3z"/>
<path class="l" d="M258.6 449.7l2.6 3.3M255 446.5l3.6 3.2"/>
<path d="M422.2 421.6l7-2.2 2.6 2.3-7 2.1z"/>
<path class="l" d="M429.2 419.4l2.6 2.3"/>
<path d="M251.4 443.5l3.6 3 2.6 3.2-3.6-3.2z"/>
<path class="l" d="M251.4 443.5l3.6 3"/>
<path d="M415.2 424.4l7-2.8 2.6 2.2-7 2.7zM247.7 440.6l3.7 2.9 2.6 3-3.7-3.1z"/>
<path class="l" d="M247.7 440.6l2.6 2.8M247.7 440.6l3.7 2.9"/>
<path d="M408.2 427.7l7-3.3 2.6 2.1-7 3.2zM401.2 431.7l7-4 2.6 2-7 3.9z"/>
<path class="l" d="M408.2 427.7l2.6 2"/>
<path d="M394.2 436.2l7-4.5 2.6 1.9-7 4.6zM387.2 441.2l7-5 2.6 2-7 5.4zM380.2 446.9l7-5.7 2.6 2.4-7 6.1z"/>
<path class="l" d="M387.2 441.2l2.6 2.4"/>
<path d="M373.2 453l7-6.1 2.6 2.8-7 6.7zM366.2 459.5l7-6.5 2.6 3.4-7 6.9zM359.2 466.4l7-6.9 2.6 3.8-7 7z"/>
<path class="l" d="M366.2 459.5l2.6 3.8"/>
<path d="M352.2 473.2l7-6.8 2.6 3.9-7 6.6zM345.2 479.5l7-6.3 2.6 3.7-7 6.1zM338.2 484.8l7-5.3 2.6 3.5-7 5.4z"/>
<path class="l" d="M345.2 479.5l2.6 3.5"/>
<path d="M331.2 488.8l7-4 2.6 3.6-7 4.2zM324.2 491.3l7-2.5 2.6 3.8-7 2.6zM317.2 492l7-.7 2.6 3.9-7 .8z"/>
<path class="l" d="M324.2 491.3l2.6 3.9"/>
<path d="M310.2 490.9l7 1.1 2.6 4-7-1.1zM303.2 488.3l7 2.6 2.6 4-7-2.7zM296.2 484.2l7 4.1 2.6 3.9-7-4.2z"/>
<path class="l" d="M303.2 488.3l2.6 3.9"/>
<path d="M289.2 478.9l7 5.3 2.6 3.8-7-5.3zM282.2 472.9l7 6 2.6 3.8-7-6.2zM275.2 466.3l7 6.6 2.6 3.6-7-6.7z"/>
<path class="l" d="M282.2 472.9l2.6 3.6"/>
<path d="M268.2 459.6l7 6.7 2.6 3.5-7-7zM445.8 418.9l7-.7 2.6 1.8-7 1z"/>
<path class="l" d="M452.8 418.2l2.6 1.8"/>
<path d="M261.2 453l7 6.6 2.6 3.2-7-6.8zM438.8 420.1l7-1.2 2.6 2.1-7 1.3zM257.6 449.7l3.6 3.3 2.6 3-3.6-3.4z"/>
<path class="l" d="M261.2 453l2.6 3"/>
<path d="M431.8 421.7l7-1.6 2.6 2.2-7 1.6zM254 446.5l3.6 3.2 2.6 2.9-3.6-3.3zM424.8 423.8l7-2.1 2.6 2.2-7 2z"/>
<path class="l" d="M431.8 421.7l2.6 2.2"/>
<path d="M417.8 426.5l7-2.7 2.6 2.1-7 2.5zM250.3 443.4l3.7 3.1 2.6 2.8-3.7-3.1z"/>
<path class="l" d="M250.3 443.4l2.6 2.8"/>
<path d="M410.8 429.7l7-3.2 2.6 1.9-7 3.1zM403.8 433.6l7-3.9 2.6 1.8-7 3.8z"/>
<path class="l" d="M410.8 429.7l2.6 1.8"/>
<path d="M396.8 438.2l7-4.6 2.6 1.7-7 4.6zM389.8 443.6l7-5.4 2.6 1.7-7 5.6zM382.8 449.7l7-6.1 2.6 1.9-7 6.5z"/>
<path class="l" d="M389.8 443.6l2.6 1.9"/>
<path d="M375.8 456.4l7-6.7 2.6 2.3-7 7.2zM368.8 463.3l7-6.9 2.6 2.8-7 7.2zM361.8 470.3l7-7 2.6 3.1-7 7z"/>
<path class="l" d="M368.8 463.3l2.6 3.1"/>
<path d="M354.8 476.9l7-6.6 2.6 3.1-7 6.5zM347.8 483l7-6.1 2.6 3-7 6zM340.8 488.4l7-5.4 2.6 2.9-7 5.3z"/>
<path class="l" d="M347.8 483l2.6 2.9"/>
<path d="M333.8 492.6l7-4.2 2.6 2.8-7 4.2zM326.8 495.2l7-2.6 2.6 2.8-7 2.7zM319.8 496l7-.8 2.6 2.9-7 .8z"/>
<path class="l" d="M326.8 495.2l2.6 2.9"/>
<path d="M312.8 494.9l7 1.1 2.6 2.9-7-1zM305.8 492.2l7 2.7 2.6 3-7-2.8zM298.8 488l7 4.2 2.6 2.9-7-4.2z"/>
<path class="l" d="M305.8 492.2l2.6 2.9"/>
<path d="M291.8 482.7l7 5.3 2.6 2.9-7-5.4zM284.8 476.5l7 6.2 2.6 2.8-7-6.3zM277.8 469.8l7 6.7 2.6 2.7-7-6.8z"/>
<path class="l" d="M284.8 476.5l2.6 2.7"/>
<path d="M270.8 462.8l7 7 2.6 2.6-7-7zM448.4 421l7-1 2.6 1.7-7 1.1z"/>
<path class="l" d="M455.4 420l2.6 1.7M448.4 421l7-1"/>
<path d="M263.8 456l7 6.8 2.6 2.6-7-6.9zM441.4 422.3l7-1.3 2.6 1.8-7 1.3z"/>
<path class="l" d="M441.4 422.3l7-1.3"/>
<path d="M260.2 452.6l3.6 3.4 2.6 2.5-3.6-3.5z"/>
<path class="l" d="M263.8 456l2.6 2.5"/>
<path d="M434.4 423.9l7-1.6 2.6 1.8-7 1.6z"/>
<path class="l" d="M434.4 423.9l7-1.6"/>
<path d="M256.6 449.3l3.6 3.3 2.6 2.4-3.6-3.3zM427.4 425.9l7-2 2.6 1.8-7 1.9z"/>
<path class="l" d="M434.4 423.9l2.6 1.8M427.4 425.9l7-2"/>
<path d="M420.4 428.4l7-2.5 2.6 1.7-7 2.5z"/>
<path class="l" d="M420.4 428.4l7-2.5"/>
<path d="M252.9 446.2l3.7 3.1 2.6 2.4-3.7-3.2z"/>
<path class="l" d="M252.9 446.2l2.6 2.3"/>
<path d="M413.4 431.5l7-3.1 2.6 1.7-7 3z"/>
<path class="l" d="M413.4 431.5l7-3.1"/>
<path d="M406.4 435.3l7-3.8 2.6 1.6-7 3.8z"/>
<path class="l" d="M413.4 431.5l2.6 1.6M406.4 435.3l7-3.8"/>
<path d="M399.4 439.9l7-4.6 2.6 1.6-7 4.5z"/>
<path class="l" d="M399.4 439.9l7-4.6"/>
<path d="M392.4 445.5l7-5.6 2.6 1.5-7 5.7z"/>
<path class="l" d="M392.4 445.5l7-5.6"/>
<path d="M385.4 452l7-6.5 2.6 1.6-7 6.6z"/>
<path class="l" d="M392.4 445.5l2.6 1.6M385.4 452l7-6.5"/>
<path d="M378.4 459.2l7-7.2 2.6 1.7-7 7.3z"/>
<path class="l" d="M378.4 459.2l7-7.2"/>
<path d="M371.4 466.4l7-7.2 2.6 1.8-7 7.4z"/>
<path class="l" d="M371.4 466.4l7-7.2"/>
<path d="M364.4 473.4l7-7 2.6 2-7 7z"/>
<path class="l" d="M371.4 466.4l2.6 2M364.4 473.4l7-7"/>
<path d="M357.4 479.9l7-6.5 2.6 2-7 6.6z"/>
<path class="l" d="M357.4 479.9l7-6.5"/>
<path d="M350.4 485.9l7-6 2.6 2.1-7 6z"/>
<path class="l" d="M350.4 485.9l7-6"/>
<path d="M343.4 491.2l7-5.3 2.6 2.1-7 5.2z"/>
<path class="l" d="M350.4 485.9l2.6 2.1M343.4 491.2l7-5.3"/>
<path d="M336.4 495.4l7-4.2 2.6 2-7 4.2z"/>
<path class="l" d="M336.4 495.4l7-4.2"/>
<path d="M329.4 498.1l7-2.7 2.6 2-7 2.5z"/>
<path class="l" d="M329.4 498.1l7-2.7"/>
<path d="M322.4 498.9l7-.8 2.6 1.8-7 .8z"/>
<path class="l" d="M329.4 498.1l2.6 1.8M322.4 498.9l7-.8"/>
<path d="M315.4 497.9l7 1 2.6 1.8-7-1.1z"/>
<path class="l" d="M315.4 497.9l7 1"/>
<path d="M308.4 495.1l7 2.8 2.6 1.7-7-2.8z"/>
<path class="l" d="M308.4 495.1l7 2.8"/>
<path d="M301.4 490.9l7 4.2 2.6 1.7-7-4.2z"/>
<path class="l" d="M308.4 495.1l2.6 1.7M301.4 490.9l7 4.2"/>
<path d="M294.4 485.5l7 5.4 2.6 1.7-7-5.4z"/>
<path class="l" d="M294.4 485.5l7 5.4"/>
<path d="M287.4 479.2l7 6.3 2.6 1.7-7-6.3z"/>
<path class="l" d="M287.4 479.2l7 6.3"/>
<path d="M280.4 472.4l7 6.8 2.6 1.7-7-6.8z"/>
<path class="l" d="M287.4 479.2l2.6 1.7M280.4 472.4l7 6.8"/>
<path d="M273.4 465.4l7 7 2.6 1.7-7-7z"/>
<path class="l" d="M273.4 465.4l7 7"/>
<path d="M451 422.8l7-1.1 2.6 1.7-7 1.1z"/>
<path class="l" d="M458 421.7l2.6 1.7"/>
<path d="M266.4 458.5l7 6.9 2.6 1.7-7-6.9z"/>
<path class="l" d="M266.4 458.5l7 6.9"/>
<path d="M444 424.1l7-1.3 2.6 1.7-7 1.2zM262.8 455l3.6 3.5 2.6 1.7-3.6-3.4z"/>
<path class="l" d="M266.4 458.5l2.6 1.7M262.8 455l3.6 3.5"/>
<path d="M437 425.7l7-1.6 2.6 1.6-7 1.5zM259.2 451.7l3.6 3.3 2.6 1.8-3.6-3.3z"/>
<path class="l" d="M259.2 451.7l3.6 3.3"/>
<path d="M430 427.6l7-1.9 2.6 1.5-7 2z"/>
<path class="l" d="M437 425.7l2.6 1.5"/>
<path d="M255.5 448.5l3.7 3.2 2.6 1.8-3.7-3.2z"/>
<path class="l" d="M255.5 448.5l2.6 1.8M255.5 448.5l3.7 3.2"/>
<path d="M423 430.1l7-2.5 2.6 1.6-7 2.4zM416 433.1l7-3 2.6 1.5-7 3zM409 436.9l7-3.8 2.6 1.5-7 3.7z"/>
<path class="l" d="M416 433.1l2.6 1.5"/>
<path d="M402 441.4l7-4.5 2.6 1.4-7 4.5zM395 447.1l7-5.7 2.6 1.4-7 5.5zM388 453.7l7-6.6 2.6 1.2-7 6.5z"/>
<path class="l" d="M395 447.1l2.6 1.2"/>
<path d="M381 461l7-7.3 2.6 1.1-7 7.2zM374 468.4l7-7.4 2.6 1-7 7.4zM367 475.4l7-7 2.6 1-7 7.2z"/>
<path class="l" d="M374 468.4l2.6 1"/>
<path d="M360 482l7-6.6 2.6 1.2-7 6.7zM353 488l7-6 2.6 1.3-7 6.1zM346 493.2l7-5.2 2.6 1.4-7 5.1z"/>
<path class="l" d="M353 488l2.6 1.4"/>
<path d="M339 497.4l7-4.2 2.6 1.3-7 3.9zM332 499.9l7-2.5 2.6 1-7 2.4zM325 500.7l7-.8 2.6 .9-7 .6z"/>
<path class="l" d="M332 499.9l2.6 .9"/>
<path d="M318 499.6l7 1.1 2.6 .7-7-1.1zM311 496.8l7 2.8 2.6 .7-7-2.8zM304 492.6l7 4.2 2.6 .7-7-4.2z"/>
<path class="l" d="M311 496.8l2.6 .7"/>
<path d="M297 487.2l7 5.4 2.6 .7-7-5.4zM290 480.9l7 6.3 2.6 .7-7-6.2zM283 474.1l7 6.8 2.6 .8-7-6.7z"/>
<path class="l" d="M290 480.9l2.6 .8"/>
<path d="M276 467.1l7 7 2.6 .9-7-6.8zM453.6 424.5l7-1.1 2.6 1.8-7 .9z"/>
<path class="l" d="M460.6 423.4l2.6 1.8"/>
<path d="M269 460.2l7 6.9 2.6 1.1-7-6.8zM446.6 425.7l7-1.2 2.6 1.6-7 1.1zM265.4 456.8l3.6 3.4 2.6 1.2-3.6-3.3z"/>
<path class="l" d="M269 460.2l2.6 1.2"/>
<path d="M439.6 427.2l7-1.5 2.6 1.5-7 1.5zM261.8 453.5l3.6 3.3 2.6 1.3-3.6-3.3zM432.6 429.2l7-2 2.6 1.5-7 1.9z"/>
<path class="l" d="M439.6 427.2l2.6 1.5"/>
<path d="M258.1 450.3l3.7 3.2 2.6 1.3-3.7-3z"/>
<path class="l" d="M258.1 450.3l2.6 1.5"/>
<path d="M425.6 431.6l7-2.4 2.6 1.4-7 2.4zM418.6 434.6l7-3 2.6 1.4-7 3zM411.6 438.3l7-3.7 2.6 1.4-7 3.7z"/>
<path class="l" d="M418.6 434.6l2.6 1.4"/>
<path d="M404.6 442.8l7-4.5 2.6 1.4-7 4.4zM397.6 448.3l7-5.5 2.6 1.3-7 5.3zM390.6 454.8l7-6.5 2.6 1.1-7 6.3z"/>
<path class="l" d="M397.6 448.3l2.6 1.1"/>
<path d="M383.6 462l7-7.2 2.6 .9-7 6.9zM376.6 469.4l7-7.4 2.6 .6-7 7.2zM369.6 476.6l7-7.2 2.6 .4-7 7.2z"/>
<path class="l" d="M376.6 469.4l2.6 .4"/>
<path d="M362.6 483.3l7-6.7 2.6 .4-7 6.9zM355.6 489.4l7-6.1 2.6 .6-7 6.1zM348.6 494.5l7-5.1 2.6 .6-7 5.1z"/>
<path class="l" d="M355.6 489.4l2.6 .6"/>
<path d="M341.6 498.4l7-3.9 2.6 .6-7 3.7zM334.6 500.8l7-2.4 2.6 .4-7 2.2zM327.6 501.4l7-.6 2.6 .2-7 .5z"/>
<path class="l" d="M334.6 500.8l2.6 .2"/>
<path d="M320.6 500.3l7 1.1 2.6 .1-7-1.2zM313.6 497.5l7 2.8 2.6 0-7-2.7zM306.6 493.3l7 4.2 2.6 .1-7-4.2z"/>
<path class="l" d="M313.6 497.5l2.6 .1"/>
<path d="M299.6 487.9l7 5.4 2.6 .1-7-5.3zM292.6 481.7l7 6.2 2.6 .2-7-6.1zM285.6 475l7 6.7 2.6 .3-7-6.4z"/>
<path class="l" d="M292.6 481.7l2.6 .3"/>
<path d="M278.6 468.2l7 6.8 2.6 .6-7-6.7zM456.2 426.1l7-.9 2.6 1.8-7 .7z"/>
<path class="l" d="M463.2 425.2l2.6 1.8M456.2 426.1l7-.9"/>
<path d="M271.6 461.4l7 6.8 2.6 .7-7-6.5zM449.2 427.2l7-1.1 2.6 1.6-7 1z"/>
<path class="l" d="M449.2 427.2l7-1.1"/>
<path d="M268 458.1l3.6 3.3 2.6 1-3.6-3.3z"/>
<path class="l" d="M271.6 461.4l2.6 1"/>
<path d="M442.2 428.7l7-1.5 2.6 1.5-7 1.4z"/>
<path class="l" d="M442.2 428.7l7-1.5"/>
<path d="M264.4 454.8l3.6 3.3 2.6 1-3.6-3.1zM435.2 430.6l7-1.9 2.6 1.4-7 1.9z"/>
<path class="l" d="M442.2 428.7l2.6 1.4M435.2 430.6l7-1.9"/>
<path d="M260.7 451.8l3.7 3 2.6 1.2-3.7-3z"/>
<path class="l" d="M260.7 451.8l2.6 1.2"/>
<path d="M428.2 433l7-2.4 2.6 1.4-7 2.4z"/>
<path class="l" d="M428.2 433l7-2.4"/>
<path d="M421.2 436l7-3 2.6 1.4-7 3z"/>
<path class="l" d="M421.2 436l7-3"/>
<path d="M414.2 439.7l7-3.7 2.6 1.4-7 3.7z"/>
<path class="l" d="M421.2 436l2.6 1.4M414.2 439.7l7-3.7"/>
<path d="M407.2 444.1l7-4.4 2.6 1.4-7 4.3z"/>
<path class="l" d="M407.2 444.1l7-4.4"/>
<path d="M400.2 449.4l7-5.3 2.6 1.3-7 5.1z"/>
<path class="l" d="M400.2 449.4l7-5.3"/>
<path d="M393.2 455.7l7-6.3 2.6 1.1-7 5.9z"/>
<path class="l" d="M400.2 449.4l2.6 1.1M393.2 455.7l7-6.3"/>
<path d="M386.2 462.6l7-6.9 2.6 .7-7 6.5z"/>
<path class="l" d="M386.2 462.6l7-6.9"/>
<path d="M379.2 469.8l7-7.2 2.6 .3-7 6.9z"/>
<path class="l" d="M379.2 469.8l7-7.2"/>
<path d="M372.2 477l7-7.2 2.6 0-7 7.1z"/>
<path class="l" d="M379.2 469.8l2.6 0M372.2 477l7-7.2"/>
<path d="M365.2 483.9l7-6.9 2.6-.1-7 6.9z"/>
<path class="l" d="M365.2 483.9l7-6.9"/>
<path d="M358.2 490l7-6.1 2.6-.1-7 6.1z"/>
<path class="l" d="M358.2 490l7-6.1"/>
<path d="M351.2 495.1l7-5.1 2.6-.1-7 5z"/>
<path class="l" d="M358.2 490l2.6-.1M351.2 495.1l7-5.1"/>
<path d="M344.2 498.8l7-3.7 2.6-.2-7 3.7z"/>
<path class="l" d="M344.2 498.8l7-3.7"/>
<path d="M337.2 501l7-2.2 2.6-.2-7 2.2z"/>
<path class="l" d="M337.2 501l7-2.2"/>
<path d="M330.2 501.5l7-.5 2.6-.2-7 .4z"/>
<path class="l" d="M337.2 501l2.6-.2M330.2 501.5l7-.5"/>
<path d="M323.2 500.3l7 1.2 2.6-.3-7-1.1z"/>
<path class="l" d="M323.2 500.3l7 1.2"/>
<path d="M316.2 497.6l7 2.7 2.6-.2-7-2.6z"/>
<path class="l" d="M316.2 497.6l7 2.7"/>
<path d="M309.2 493.4l7 4.2 2.6-.1-7-4.1z"/>
<path class="l" d="M316.2 497.6l2.6-.1M309.2 493.4l7 4.2"/>
<path d="M302.2 488.1l7 5.3 2.6 0-7-5.1z"/>
<path class="l" d="M302.2 488.1l7 5.3"/>
<path d="M295.2 482l7 6.1 2.6 .2-7-5.9z"/>
<path class="l" d="M295.2 482l7 6.1"/>
<path d="M288.2 475.6l7 6.4 2.6 .4-7-6.3z"/>
<path class="l" d="M295.2 482l2.6 .4M288.2 475.6l7 6.4"/>
<path d="M281.2 468.9l7 6.7 2.6 .5-7-6.4z"/>
<path class="l" d="M281.2 468.9l7 6.7"/>
<path d="M458.8 427.7l7-.7 2.6 2.1-7 .4z"/>
<path class="l" d="M465.8 427l2.6 2.1"/>
<path d="M274.2 462.4l7 6.5 2.6 .8-7-6.4z"/>
<path class="l" d="M274.2 462.4l7 6.5"/>
<path d="M451.8 428.7l7-1 2.6 1.8-7 .9zM270.6 459.1l3.6 3.3 2.6 .9-3.6-3.2z"/>
<path class="l" d="M274.2 462.4l2.6 .9M270.6 459.1l3.6 3.3"/>
<path d="M444.8 430.1l7-1.4 2.6 1.7-7 1.4zM267 456l3.6 3.1 2.6 1-3.6-3z"/>
<path class="l" d="M267 456l3.6 3.1"/>
<path d="M437.8 432l7-1.9 2.6 1.7-7 1.8z"/>
<path class="l" d="M444.8 430.1l2.6 1.7"/>
<path d="M430.8 434.4l7-2.4 2.6 1.6-7 2.4zM263.3 453l3.7 3 2.6 1.1-3.7-2.9z"/>
<path class="l" d="M263.3 453l2.6 1.2M263.3 453l3.7 3"/>
<path d="M423.8 437.4l7-3 2.6 1.6-7 3zM416.8 441.1l7-3.7 2.6 1.6-7 3.6z"/>
<path class="l" d="M423.8 437.4l2.6 1.6"/>
<path d="M409.8 445.4l7-4.3 2.6 1.5-7 4.2zM402.8 450.5l7-5.1 2.6 1.4-7 4.9zM395.8 456.4l7-5.9 2.6 1.2-7 5.6z"/>
<path class="l" d="M402.8 450.5l2.6 1.2"/>
<path d="M388.8 462.9l7-6.5 2.6 .9-7 6.1zM381.8 469.8l7-6.9 2.6 .5-7 6.5zM374.8 476.9l7-7.1 2.6 .1-7 6.6z"/>
<path class="l" d="M381.8 469.8l2.6 .1"/>
<path d="M367.8 483.8l7-6.9 2.6-.4-7 6.6zM360.8 489.9l7-6.1 2.6-.7-7 5.9zM353.8 494.9l7-5 2.6-.9-7 5.1z"/>
<path class="l" d="M360.8 489.9l2.6-.9"/>
<path d="M346.8 498.6l7-3.7 2.6-.8-7 3.8zM339.8 500.8l7-2.2 2.6-.7-7 2.4zM332.8 501.2l7-.4 2.6-.5-7 .6z"/>
<path class="l" d="M339.8 500.8l2.6-.5"/>
<path d="M325.8 500.1l7 1.1 2.6-.3-7-1zM318.8 497.5l7 2.6 2.6-.2-7-2.4zM311.8 493.4l7 4.1 2.6 0-7-3.9z"/>
<path class="l" d="M318.8 497.5l2.6 0"/>
<path d="M304.8 488.3l7 5.1 2.6 .2-7-4.8zM297.8 482.4l7 5.9 2.6 .5-7-5.7zM290.8 476.1l7 6.3 2.6 .7-7-6.1z"/>
<path class="l" d="M297.8 482.4l2.6 .7"/>
<path d="M283.8 469.7l7 6.4 2.6 .9-7-6.3zM461.4 429.5l7-.4 2.6 2.2-7 .4z"/>
<path class="l" d="M468.4 429.1l2.6 2.2M464 431.7l7-.4"/>
<path d="M276.8 463.3l7 6.4 2.6 1-7-6.2zM454.4 430.4l7-.9 2.6 2.2-7 .7z"/>
<path class="l" d="M457 432.4l7-.7"/>
<path d="M273.2 460.1l3.6 3.2 2.6 1.2-3.6-3.1z"/>
<path class="l" d="M276.8 463.3l2.6 1.2"/>
<path d="M447.4 431.8l7-1.4 2.6 2-7 1.3z"/>
<path class="l" d="M450 433.7l7-1.3"/>
<path d="M269.6 457.1l3.6 3 2.6 1.3-3.6-3zM440.4 433.6l7-1.8 2.6 1.9-7 1.8z"/>
<path class="l" d="M447.4 431.8l2.6 1.9M443 435.5l7-1.8"/>
<path d="M433.4 436l7-2.4 2.6 1.9-7 2.3z"/>
<path class="l" d="M436 437.8l7-2.3"/>
<path d="M265.9 454.2l3.7 2.9 2.6 1.3-3.7-2.8z"/>
<path class="l" d="M265.9 454.2l2.6 1.4"/>
<path d="M426.4 439l7-3 2.6 1.8-7 2.9z"/>
<path class="l" d="M429 440.7l7-2.9"/>
<path d="M419.4 442.6l7-3.6 2.6 1.7-7 3.5z"/>
<path class="l" d="M426.4 439l2.6 1.7M422 444.2l7-3.5"/>
<path d="M412.4 446.8l7-4.2 2.6 1.6-7 4.1z"/>
<path class="l" d="M415 448.3l7-4.1"/>
<path d="M405.4 451.7l7-4.9 2.6 1.5-7 4.8z"/>
<path class="l" d="M408 453.1l7-4.8"/>
<path d="M398.4 457.3l7-5.6 2.6 1.4-7 5.4z"/>
<path class="l" d="M405.4 451.7l2.6 1.4M401 458.5l7-5.4"/>
<path d="M391.4 463.4l7-6.1 2.6 1.2-7 5.8z"/>
<path class="l" d="M394 464.3l7-5.8"/>
<path d="M384.4 469.9l7-6.5 2.6 .9-7 5.9z"/>
<path class="l" d="M387 470.2l7-5.9"/>
<path d="M377.4 476.5l7-6.6 2.6 .3-7 5.9z"/>
<path class="l" d="M384.4 469.9l2.6 .3M380 476.1l7-5.9"/>
<path d="M370.4 483.1l7-6.6 2.6-.4-7 5.8z"/>
<path class="l" d="M373 481.9l7-5.8"/>
<path d="M363.4 489l7-5.9 2.6-1.2-7 5.5z"/>
<path class="l" d="M366 487.4l7-5.5"/>
<path d="M356.4 494.1l7-5.1 2.6-1.6-7 5.2z"/>
<path class="l" d="M363.4 489l2.6-1.6M359 492.6l7-5.2"/>
<path d="M349.4 497.9l7-3.8 2.6-1.5-7 4.3z"/>
<path class="l" d="M352 496.9l7-4.3"/>
<path d="M342.4 500.3l7-2.4 2.6-1-7 2.9z"/>
<path class="l" d="M345 499.8l7-2.9"/>
<path d="M335.4 500.9l7-.6 2.6-.5-7 1.1z"/>
<path class="l" d="M342.4 500.3l2.6-.5M338 500.9l7-1.1"/>
<path d="M328.4 499.9l7 1 2.6 0-7-.7z"/>
<path class="l" d="M331 500.2l7 .7"/>
<path d="M321.4 497.5l7 2.4 2.6 .3-7-2.2z"/>
<path class="l" d="M324 498l7 2.2"/>
<path d="M314.4 493.6l7 3.9 2.6 .5-7-3.5z"/>
<path class="l" d="M321.4 497.5l2.6 .5M317 494.5l7 3.5"/>
<path d="M307.4 488.8l7 4.8 2.6 .9-7-4.5z"/>
<path class="l" d="M310 490l7 4.5"/>
<path d="M300.4 483.1l7 5.7 2.6 1.2-7-5.4z"/>
<path class="l" d="M303 484.6l7 5.4"/>
<path d="M293.4 477l7 6.1 2.6 1.5-7-5.9z"/>
<path class="l" d="M300.4 483.1l2.6 1.5M296 478.7l7 5.9"/>
<path d="M286.4 470.7l7 6.3 2.6 1.7-7-6.2z"/>
<path class="l" d="M289 472.5l7 6.2"/>
<path d="M279.4 464.5l7 6.2 2.6 1.8-7-6.2z"/>
<path class="l" d="M282 466.3l7 6.2"/>
<path d="M275.8 461.4l3.6 3.1 2.6 1.8-3.6-3.1z"/>
<path class="l" d="M279.4 464.5l2.6 1.8M278.4 463.2l3.6 3.1"/>
<path d="M272.2 458.4l3.6 3 2.6 1.8-3.6-3z"/>
<path class="l" d="M274.8 460.2l3.6 3"/>
<path d="M268.5 455.6l3.7 2.8 2.6 1.8-3.7-2.8z"/>
<path class="l" d="M268.5 455.6l2.6 1.8M271.1 457.4l3.7 2.8"/></g>
<path d="M197.5 562.7L197.5 288L730.1 280.9L730.1 555.8ZM730.1 280.9L804.9 333.1L804.9 608L730.1 555.8M197.5 562.7L273 616.2L804.9 608M804.9 608l11.2 7.8M698.5 609.6l11.2 7.8M592.1 611.3l11.2 7.8M485.8 612.9l11.2 7.8M379.4 614.6l11.2 7.8M273 616.2l11.2 7.8" fill="none" stroke="#777" stroke-width="1" opacity="0.35"/>
<path d="M713 567.4L772.2 609.8" stroke="#6e6e6e" stroke-width="2.9" stroke-dasharray="2.9 2.88" fill="none"/>
<circle cx="329" cy="488.5" r="8.5" fill="#000"/>
<circle cx="625.9" cy="496.3" r="8.8" fill="#000"/>
<path d="M628.2 505.7L668 538.6" stroke="#0f9a0f" stroke-width="2.6" fill="none"/>
<path d="M668 538.6C669.6 540.2 675.6 545.3 677.7 548.3C679.8 551.3 680.4 553.2 680.8 556.4C681.2 559.6 681.1 563.9 680.2 567.7C679.3 571.5 677.3 575.8 675.2 579C673.1 582.2 669.6 585.2 667.6 587.1C665.6 589 664 589.8 663.3 590.3" stroke="#0f9a0f" stroke-width="2" fill="none" stroke-linecap="round"/>
<polygon fill="#0f9a0f" points="677.6,550 662.9,546.2 671.6,544.6 672.3,535.8"/>
<text y="316.7" font-size="23.3"><tspan x="509.4">(d) </tspan><tspan x="544.9">tracking</tspan></text>
<text transform="translate(178.4 469.8) rotate(-90)" font-size="23" textLength="90" lengthAdjust="spacingAndGlyphs">Potential</text>
<text transform="translate(129.2 559.8) rotate(35.5)" font-size="23" textLength="158" lengthAdjust="spacingAndGlyphs">State variable 2</text>
</g>
<g transform="translate(0 390.7)">
<path d="M197.5 562.7L197.5 288L730.1 280.9L730.1 555.8ZM730.1 280.9L804.9 333.1L804.9 608L730.1 555.8M197.5 562.7L273 616.2L804.9 608M804.9 608l11.2 7.8M698.5 609.6l11.2 7.8M592.1 611.3l11.2 7.8M485.8 612.9l11.2 7.8M379.4 614.6l11.2 7.8M273 616.2l11.2 7.8" fill="none" stroke="#777" stroke-width="1.15"/>
<text class="s" x="826.5" y="637.2" font-size="20.5" text-anchor="middle">0</text>
<text class="s" x="720.1" y="638.8" font-size="20.5" text-anchor="middle">1</text>
<text class="s" x="613.7" y="640.5" font-size="20.5" text-anchor="middle">2</text>
<text class="s" x="507.4" y="642.1" font-size="20.5" text-anchor="middle">3</text>
<text class="s" x="401" y="643.8" font-size="20.5" text-anchor="middle">4</text>
<text class="s" x="294.6" y="645.4" font-size="20.5" text-anchor="middle">5</text>
<g class="sf"><path d="M390.4 375.1l7-.3 1.1 1.2-7 .6z"/>
<path class="l" d="M397.4 374.8l1.1 1.2M390.4 375.1l7-.3"/>
<path d="M383.4 374.8l7 .3 1.1 1.5-7-.2z"/>
<path class="l" d="M383.4 374.8l7 .3"/>
<path d="M376.4 373.9l7 .9 1.1 1.6-7-1z"/>
<path class="l" d="M376.4 373.9l7 .9"/>
<path d="M369.4 372.4l7 1.5 1.1 1.5-7-1.6z"/>
<path class="l" d="M376.4 373.9l1.1 1.5M369.4 372.4l7 1.5"/>
<path d="M362.4 370.3l7 2.1 1.1 1.4-7-2.2z"/>
<path class="l" d="M362.4 370.3l7 2.1"/>
<path d="M355.4 367.4l7 2.9 1.1 1.3-7-3z"/>
<path class="l" d="M355.4 367.4l7 2.9"/>
<path d="M348.4 363.9l7 3.5 1.1 1.2-7-3.5z"/>
<path class="l" d="M355.4 367.4l1.1 1.2M348.4 363.9l7 3.5"/>
<path d="M341.4 359.8l7 4.1 1.1 1.2-7-4.1z"/>
<path class="l" d="M341.4 359.8l7 4.1"/>
<path d="M391.5 376.6l7-.6 1.2 1.1-7 .7z"/>
<path class="l" d="M398.5 376l1.2 1.1"/>
<path d="M334.4 355.1l7 4.7 1.1 1.2-7-4.6z"/>
<path class="l" d="M334.4 355.1l7 4.7"/>
<path d="M384.5 376.4l7 .2 1.2 1.2-7-.1zM377.5 375.4l7 1 1.2 1.3-7-1zM327.4 349.9l7 5.2 1.1 1.3-7-5z"/>
<path class="l" d="M334.4 355.1l1.1 1.3M327.4 349.9l7 5.2"/>
<path d="M370.5 373.8l7 1.6 1.2 1.3-7-1.6z"/>
<path class="l" d="M377.5 375.4l1.2 1.3"/>
<path d="M320.4 344.3l7 5.6 1.1 1.5-7-5.4z"/>
<path class="l" d="M320.4 344.3l7 5.6"/>
<path d="M363.5 371.6l7 2.2 1.2 1.3-7-2.3zM313.4 338.3l7 6 1.1 1.7-7-5.8z"/>
<path class="l" d="M313.4 338.3l7 6"/>
<path d="M356.5 368.6l7 3 1.2 1.2-7-3zM306.4 331.9l7 6.4 1.1 1.9-7-5.9z"/>
<path class="l" d="M313.4 338.3l1.1 1.9M306.4 331.9l7 6.4"/>
<path d="M349.5 365.1l7 3.5 1.2 1.2-7-3.5z"/>
<path class="l" d="M356.5 368.6l1.2 1.2"/>
<path d="M342.5 361l7 4.1 1.2 1.2-7-4zM299.4 325.7l7 6.2 1.1 2.4-7-5.9z"/>
<path class="l" d="M299.4 325.7l7 6.2"/>
<path d="M392.7 377.8l7-.7 1.1 .9-7 .8z"/>
<path class="l" d="M399.7 377.1l1.1 .9"/>
<path d="M335.5 356.4l7 4.6 1.2 1.3-7-4.5zM292.4 320l7 5.7 1.1 2.7-7-5.5z"/>
<path class="l" d="M292.4 320l7 5.7"/>
<path d="M385.7 377.7l7 .1 1.1 1-7-.1zM378.7 376.7l7 1 1.1 1-7-.8zM328.5 351.4l7 5 1.2 1.4-7-4.9z"/>
<path class="l" d="M335.5 356.4l1.2 1.4"/>
<path d="M285.4 315.2l7 4.8 1.1 2.9-7-4.7z"/>
<path class="l" d="M292.4 320l1.1 2.9M285.4 315.2l7 4.8"/>
<path d="M371.7 375.1l7 1.6 1.1 1.2-7-1.7z"/>
<path class="l" d="M378.7 376.7l1.1 1.2"/>
<path d="M321.5 346l7 5.4 1.2 1.5-7-5.2zM278.4 311.5l7 3.7 1.1 3-7-3.8z"/>
<path class="l" d="M278.4 311.5l7 3.7"/>
<path d="M364.7 372.8l7 2.3 1.1 1.1-7-2.3zM314.5 340.2l7 5.8 1.2 1.7-7-5.5zM271.4 309l7 2.5 1.1 2.9-7-2.6z"/>
<path class="l" d="M271.4 309l7 2.5"/>
<path d="M357.7 369.8l7 3 1.1 1.1-7-2.9zM264.4 307.9l7 1.1 1.1 2.8-7-1.3z"/>
<path class="l" d="M271.4 309l1.1 2.8M264.4 307.9l7 1.1"/>
<path d="M307.5 334.3l7 5.9 1.2 2-7-5.6z"/>
<path class="l" d="M314.5 340.2l1.2 2"/>
<path d="M350.7 366.3l7 3.5 1.1 1.2-7-3.4z"/>
<path class="l" d="M357.7 369.8l1.1 1.2"/>
<path d="M257.4 308.2l7-.3 1.1 2.6-7 .2z"/>
<path class="l" d="M257.4 308.2l7-.3"/>
<path d="M250.4 310.1l7-1.9 1.1 2.5-7 1.9z"/>
<path class="l" d="M250.4 310.1l7-1.9"/>
<path d="M343.7 362.3l7 4 1.1 1.3-7-4zM300.5 328.4l7 5.9 1.2 2.3-7-5.6zM243.4 313.7l7-3.6 1.1 2.5-7 3.7z"/>
<path class="l" d="M250.4 310.1l1.1 2.5M243.4 313.7l7-3.6"/>
<path d="M236.4 318.6l7-4.9 1.1 2.6-7 5.2z"/>
<path class="l" d="M236.4 318.6l7-4.9"/>
<path d="M336.7 357.8l7 4.5 1.1 1.3-7-4.3zM229.4 324.5l7-5.9 1.1 2.9-7 6z"/>
<path class="l" d="M229.4 324.5l7-5.9"/>
<path d="M293.5 322.9l7 5.5 1.2 2.6-7-5.3zM222.4 331l7-6.5 1.1 3-7 6.5z"/>
<path class="l" d="M229.4 324.5l1.1 3M222.4 331l7-6.5"/>
<path d="M215.4 337.8l7-6.8 1.1 3-7 6.5z"/>
<path class="l" d="M215.4 337.8l7-6.8"/>
<path d="M208.4 344.4l7-6.6 1.1 2.7-7 6.3z"/>
<path class="l" d="M208.4 344.4l7-6.6"/>
<path d="M204.8 347.7l3.6-3.3 1.1 2.4-3.6 3z"/>
<path class="l" d="M208.4 344.4l1.1 2.4M204.8 347.7l3.6-3.3"/>
<path d="M201.1 350.8l3.7-3.1 1.1 2.1-3.6 2.8z"/>
<path class="l" d="M201.1 350.8l3.7-3.1"/>
<path d="M329.7 352.9l7 4.9 1.1 1.5-7-4.8z"/>
<path class="l" d="M336.7 357.8l1.1 1.5"/>
<path d="M197.5 353.6l3.6-2.8 1.2 1.8-3.7 2.6z"/>
<path class="l" d="M197.5 353.6l1.1 1.6M197.5 353.6l3.6-2.8"/>
<path d="M286.5 318.2l7 4.7 1.2 2.8-7-4.6z"/>
<path class="l" d="M293.5 322.9l1.2 2.8"/>
<path d="M322.7 347.7l7 5.2 1.1 1.6-7-5zM279.5 314.4l7 3.8 1.2 2.9-7-3.7zM272.5 311.8l7 2.6 1.2 3-7-2.7zM315.7 342.2l7 5.5 1.1 1.8-7-5.2zM393.8 378.8l7-.8 2.6 1.9-7 .8z"/>
<path class="l" d="M400.8 378l2.6 1.9M393.8 378.8l7-.8"/>
<path d="M265.5 310.5l7 1.3 1.2 2.9-7-1.3z"/>
<path class="l" d="M272.5 311.8l1.2 2.9"/>
<path d="M308.7 336.6l7 5.6 1.1 2.1-7-5.4z"/>
<path class="l" d="M315.7 342.2l1.1 2.1"/>
<path d="M386.8 378.7l7 .1 2.6 1.9-7 0z"/>
<path class="l" d="M386.8 378.7l7 .1"/>
<path d="M258.5 310.7l7-.2 1.2 2.9-7 .1zM379.8 377.9l7 .8 2.6 2-7-.8z"/>
<path class="l" d="M379.8 377.9l7 .8"/>
<path d="M251.5 312.6l7-1.9 1.2 2.8-7 1.9zM301.7 331l7 5.6 1.1 2.3-7-5.3zM244.5 316.3l7-3.7 1.2 2.8-7 3.8z"/>
<path class="l" d="M251.5 312.6l1.2 2.8"/>
<path d="M372.8 376.2l7 1.7 2.6 2-7-1.4z"/>
<path class="l" d="M379.8 377.9l2.6 2M372.8 376.2l7 1.7"/>
<path d="M237.5 321.5l7-5.2 1.2 2.9-7 5.2zM230.5 327.5l7-6 1.2 2.9-7 6.1zM294.7 325.7l7 5.3 1.1 2.6-7-5zM223.5 334l7-6.5 1.2 3-7 6.3z"/>
<path class="l" d="M230.5 327.5l1.2 3"/>
<path d="M365.8 373.9l7 2.3 2.6 2.3-7-2.1z"/>
<path class="l" d="M365.8 373.9l7 2.3"/>
<path d="M216.5 340.5l7-6.5 1.2 2.8-7 6.3zM209.5 346.8l7-6.3 1.2 2.6-7 5.9zM205.9 349.8l3.6-3 1.2 2.2-3.7 2.9z"/>
<path class="l" d="M209.5 346.8l1.2 2.2"/>
<path d="M202.3 352.6l3.6-2.8 1.1 2.1-3.6 2.6zM287.7 321.1l7 4.6 1.1 2.9-7-4.5z"/>
<path class="l" d="M294.7 325.7l1.1 2.9"/>
<path d="M198.6 355.2l3.7-2.6 1.1 1.9-3.6 2.4z"/>
<path class="l" d="M198.6 355.2l1.2 1.7"/>
<path d="M358.8 371l7 2.9 2.6 2.5-7-2.6z"/>
<path class="l" d="M358.8 371l7 2.9"/>
<path d="M280.7 317.4l7 3.7 1.1 3-7-3.7zM351.8 367.6l7 3.4 2.6 2.8-7-3.2z"/>
<path class="l" d="M358.8 371l2.6 2.8M351.8 367.6l7 3.4"/>
<path d="M273.7 314.7l7 2.7 1.1 3-7-2.6zM344.8 363.6l7 4 2.6 3-7-3.6z"/>
<path class="l" d="M344.8 363.6l7 4"/>
<path d="M266.7 313.4l7 1.3 1.1 3.1-7-1.3z"/>
<path class="l" d="M273.7 314.7l1.1 3.1"/>
<path d="M337.8 359.3l7 4.3 2.6 3.4-7-4z"/>
<path class="l" d="M337.8 359.3l7 4.3"/>
<path d="M259.7 313.5l7-.1 1.1 3.1-7 .2zM330.8 354.5l7 4.8 2.6 3.7-7-4.4z"/>
<path class="l" d="M337.8 359.3l2.6 3.7M330.8 354.5l7 4.8"/>
<path d="M252.7 315.4l7-1.9 1.1 3.2-7 1.9zM245.7 319.2l7-3.8 1.1 3.2-7 3.7z"/>
<path class="l" d="M252.7 315.4l1.1 3.2"/>
<path d="M238.7 324.4l7-5.2 1.1 3.1-7 5.2zM323.8 349.5l7 5 2.6 4.1-7-4.6z"/>
<path class="l" d="M323.8 349.5l7 5"/>
<path d="M231.7 330.5l7-6.1 1.1 3.1-7 5.9zM224.7 336.8l7-6.3 1.1 2.9-7 6.1z"/>
<path class="l" d="M231.7 330.5l1.1 2.9"/>
<path d="M217.7 343.1l7-6.3 1.1 2.7-7 6zM210.7 349l7-5.9 1.1 2.4-7 5.7zM316.8 344.3l7 5.2 2.6 4.5-7-4.9z"/>
<path class="l" d="M316.8 344.3l7 5.2"/>
<path d="M207 351.9l3.7-2.9 1.1 2.2-3.6 2.7z"/>
<path class="l" d="M210.7 349l1.1 2.2"/>
<path d="M203.4 354.5l3.6-2.6 1.2 2-3.6 2.4zM199.8 356.9l3.6-2.4 1.2 1.8-3.7 2.3z"/>
<path class="l" d="M199.8 356.9l1.1 1.7"/>
<path d="M309.8 338.9l7 5.4 2.6 4.8-7-4.9z"/>
<path class="l" d="M316.8 344.3l2.6 4.8M309.8 338.9l7 5.4"/>
<path d="M302.8 333.6l7 5.3 2.6 5.3-7-4.7z"/>
<path class="l" d="M302.8 333.6l7 5.3"/>
<path d="M295.8 328.6l7 5 2.6 5.9-7-4.5z"/>
<path class="l" d="M295.8 328.6l7 5"/>
<path d="M288.8 324.1l7 4.5 2.6 6.4-7-4z"/>
<path class="l" d="M295.8 328.6l2.6 6.4M288.8 324.1l7 4.5"/>
<path d="M396.4 380.7l7-.8 2.6 1.7-7 .6z"/>
<path class="l" d="M403.4 379.9l2.6 1.7"/>
<path d="M281.8 320.4l7 3.7 2.6 6.9-7-3.2z"/>
<path class="l" d="M281.8 320.4l7 3.7"/>
<path d="M389.4 380.7l7 0 2.6 1.5-7 0zM274.8 317.8l7 2.6 2.6 7.4-7-2.3z"/>
<path class="l" d="M274.8 317.8l7 2.6"/>
<path d="M382.4 379.9l7 .8 2.6 1.5-7-.6zM267.8 316.5l7 1.3 2.6 7.7-7-1z"/>
<path class="l" d="M274.8 317.8l2.6 7.7M267.8 316.5l7 1.3"/>
<path d="M375.4 378.5l7 1.4 2.6 1.7-7-1.2z"/>
<path class="l" d="M382.4 379.9l2.6 1.7"/>
<path d="M260.8 316.7l7-.2 2.6 8-7 .3z"/>
<path class="l" d="M260.8 316.7l7-.2"/>
<path d="M368.4 376.4l7 2.1 2.6 1.9-7-1.7zM253.8 318.6l7-1.9 2.6 8.1-7 1.8z"/>
<path class="l" d="M253.8 318.6l7-1.9"/>
<path d="M361.4 373.8l7 2.6 2.6 2.3-7-2.2zM246.8 322.3l7-3.7 2.6 8-7 3.5z"/>
<path class="l" d="M253.8 318.6l2.6 8M246.8 322.3l7-3.7"/>
<path d="M239.8 327.5l7-5.2 2.6 7.8-7 4.6z"/>
<path class="l" d="M239.8 327.5l7-5.2"/>
<path d="M232.8 333.4l7-5.9 2.6 7.2-7 5.2z"/>
<path class="l" d="M232.8 333.4l7-5.9"/>
<path d="M354.4 370.6l7 3.2 2.6 2.7-7-2.8z"/>
<path class="l" d="M361.4 373.8l2.6 2.7"/>
<path d="M225.8 339.5l7-6.1 2.6 6.5-7 5.5z"/>
<path class="l" d="M232.8 333.4l2.6 6.5M225.8 339.5l7-6.1"/>
<path d="M218.8 345.5l7-6 2.6 5.9-7 5.4z"/>
<path class="l" d="M218.8 345.5l7-6"/>
<path d="M211.8 351.2l7-5.7 2.6 5.3-7 5.1z"/>
<path class="l" d="M211.8 351.2l7-5.7"/>
<path d="M208.2 353.9l3.6-2.7 2.6 4.7-3.6 2.4z"/>
<path class="l" d="M211.8 351.2l2.6 4.7M208.2 353.9l3.6-2.7"/>
<path d="M347.4 367l7 3.6 2.6 3.1-7-3.1zM204.6 356.3l3.6-2.4 2.6 4.4-3.6 2.3z"/>
<path class="l" d="M204.6 356.3l3.6-2.4"/>
<path d="M200.9 358.6l3.7-2.3 2.6 4.3-3.7 2.1z"/>
<path class="l" d="M200.9 358.6l2.6 4.1M200.9 358.6l3.7-2.3"/>
<path d="M340.4 363l7 4 2.6 3.6-7-3.6zM333.4 358.6l7 4.4 2.6 4-7-4z"/>
<path class="l" d="M340.4 363l2.6 4"/>
<path d="M326.4 354l7 4.6 2.6 4.4-7-4.2zM319.4 349.1l7 4.9 2.6 4.8-7-4.4zM312.4 344.2l7 4.9 2.6 5.3-7-4.4z"/>
<path class="l" d="M319.4 349.1l2.6 5.3"/>
<path d="M305.4 339.5l7 4.7 2.6 5.8-7-4.3zM298.4 335l7 4.5 2.6 6.2-7-3.9zM291.4 331l7 4 2.6 6.8-7-3.4z"/>
<path class="l" d="M298.4 335l2.6 6.8"/>
<path d="M284.4 327.8l7 3.2 2.6 7.4-7-2.6zM399 382.2l7-.6 2.6 1.9-7 .4z"/>
<path class="l" d="M406 381.6l2.6 1.9"/>
<path d="M392 382.2l7 0 2.6 1.7-7-.1zM277.4 325.5l7 2.3 2.6 8-7-1.8zM385 381.6l7 .6 2.6 1.6-7-.5zM270.4 324.5l7 1 2.6 8.5-7-.6z"/>
<path class="l" d="M277.4 325.5l2.6 8.5"/>
<path d="M378 380.4l7 1.2 2.6 1.7-7-.9z"/>
<path class="l" d="M385 381.6l2.6 1.7"/>
<path d="M263.4 324.8l7-.3 2.6 8.9-7 .5zM256.4 326.6l7-1.8 2.6 9.1-7 1.7zM371 378.7l7 1.7 2.6 2-7-1.4zM249.4 330.1l7-3.5 2.6 9-7 2.9z"/>
<path class="l" d="M256.4 326.6l2.6 9"/>
<path d="M364 376.5l7 2.2 2.6 2.3-7-1.9zM242.4 334.7l7-4.6 2.6 8.4-7 3.7zM235.4 339.9l7-5.2 2.6 7.5-7 4.3zM228.4 345.4l7-5.5 2.6 6.6-7 4.6z"/>
<path class="l" d="M235.4 339.9l2.6 6.6"/>
<path d="M357 373.7l7 2.8 2.6 2.6-7-2.2z"/>
<path class="l" d="M364 376.5l2.6 2.6"/>
<path d="M221.4 350.8l7-5.4 2.6 5.7-7 4.8zM214.4 355.9l7-5.1 2.6 5.1-7 4.7zM210.8 358.3l3.6-2.4 2.6 4.7-3.6 2.3z"/>
<path class="l" d="M214.4 355.9l2.6 4.7"/>
<path d="M350 370.6l7 3.1 2.6 3.2-7-2.7zM207.2 360.6l3.6-2.3 2.6 4.6-3.6 2.2zM203.5 362.7l3.7-2.1 2.6 4.5-3.7 2z"/>
<path class="l" d="M203.5 362.7l2.6 4.4"/>
<path d="M343 367l7 3.6 2.6 3.6-7-3.1zM336 363l7 4 2.6 4.1-7-3.4z"/>
<path class="l" d="M343 367l2.6 4.1"/>
<path d="M329 358.8l7 4.2 2.6 4.7-7-3.7zM322 354.4l7 4.4 2.6 5.2-7-3.9zM315 350l7 4.4 2.6 5.7-7-3.8z"/>
<path class="l" d="M322 354.4l2.6 5.7"/>
<path d="M308 345.7l7 4.3 2.6 6.3-7-3.6zM301 341.8l7 3.9 2.6 7-7-3.2zM294 338.4l7 3.4 2.6 7.7-7-2.8z"/>
<path class="l" d="M301 341.8l2.6 7.7"/>
<path d="M287 335.8l7 2.6 2.6 8.3-7-2.1zM401.6 383.9l7-.4 2.6 2.2-7 .2z"/>
<path class="l" d="M408.6 383.5l2.6 2.2M401.6 383.9l7-.4"/>
<path d="M280 334l7 1.8 2.6 8.8-7-1.2zM394.6 383.8l7 .1 2.6 2-7-.1z"/>
<path class="l" d="M394.6 383.8l7 .1"/>
<path d="M273 333.4l7 .6 2.6 9.4-7-.3z"/>
<path class="l" d="M280 334l2.6 9.4"/>
<path d="M387.6 383.3l7 .5 2.6 2-7-.4z"/>
<path class="l" d="M387.6 383.3l7 .5"/>
<path d="M266 333.9l7-.5 2.6 9.7-7 .6zM380.6 382.4l7 .9 2.6 2.1-7-.9z"/>
<path class="l" d="M387.6 383.3l2.6 2.1M380.6 382.4l7 .9"/>
<path d="M259 335.6l7-1.7 2.6 9.8-7 1.4zM252 338.5l7-2.9 2.6 9.5-7 2.1z"/>
<path class="l" d="M259 335.6l2.6 9.5"/>
<path d="M373.6 381l7 1.4 2.6 2.1-7-1.2z"/>
<path class="l" d="M373.6 381l7 1.4"/>
<path d="M245 342.2l7-3.7 2.6 8.7-7 2.8zM366.6 379.1l7 1.9 2.6 2.3-7-1.5z"/>
<path class="l" d="M366.6 379.1l7 1.9"/>
<path d="M238 346.5l7-4.3 2.6 7.8-7 3.3zM231 351.1l7-4.6 2.6 6.8-7 3.8z"/>
<path class="l" d="M238 346.5l2.6 6.8"/>
<path d="M224 355.9l7-4.8 2.6 6-7 4.2zM359.6 376.9l7 2.2 2.6 2.7-7-1.9z"/>
<path class="l" d="M366.6 379.1l2.6 2.7M359.6 376.9l7 2.2"/>
<path d="M217 360.6l7-4.7 2.6 5.4-7 4.2zM213.4 362.9l3.6-2.3 2.6 4.9-3.6 2.2z"/>
<path class="l" d="M217 360.6l2.6 4.9"/>
<path d="M209.8 365.1l3.6-2.2 2.6 4.8-3.6 2.1zM352.6 374.2l7 2.7 2.6 3-7-2.1z"/>
<path class="l" d="M352.6 374.2l7 2.7"/>
<path d="M206.1 367.1l3.7-2 2.6 4.7-3.7 2.1z"/>
<path class="l" d="M206.1 367.1l2.6 4.8"/>
<path d="M345.6 371.1l7 3.1 2.6 3.6-7-2.5z"/>
<path class="l" d="M345.6 371.1l7 3.1"/>
<path d="M338.6 367.7l7 3.4 2.6 4.2-7-2.8z"/>
<path class="l" d="M345.6 371.1l2.6 4.2M338.6 367.7l7 3.4"/>
<path d="M331.6 364l7 3.7 2.6 4.8-7-3z"/>
<path class="l" d="M331.6 364l7 3.7"/>
<path d="M324.6 360.1l7 3.9 2.6 5.5-7-3z"/>
<path class="l" d="M324.6 360.1l7 3.9"/>
<path d="M317.6 356.3l7 3.8 2.6 6.4-7-3z"/>
<path class="l" d="M324.6 360.1l2.6 6.4M317.6 356.3l7 3.8"/>
<path d="M310.6 352.7l7 3.6 2.6 7.2-7-2.8z"/>
<path class="l" d="M310.6 352.7l7 3.6"/>
<path d="M303.6 349.5l7 3.2 2.6 8-7-2.5z"/>
<path class="l" d="M303.6 349.5l7 3.2"/>
<path d="M296.6 346.7l7 2.8 2.6 8.7-7-2.1z"/>
<path class="l" d="M303.6 349.5l2.6 8.7M296.6 346.7l7 2.8"/>
<path d="M289.6 344.6l7 2.1 2.6 9.4-7-1.6z"/>
<path class="l" d="M289.6 344.6l7 2.1"/>
<path d="M282.6 343.4l7 1.2 2.6 9.9-7-1z"/>
<path class="l" d="M282.6 343.4l7 1.2"/>
<path d="M404.2 385.9l7-.2 2.6 2.3-7 .2z"/>
<path class="l" d="M411.2 385.7l2.6 2.3"/>
<path d="M275.6 343.1l7 .3 2.6 10.1-7-.2z"/>
<path class="l" d="M282.6 343.4l2.6 10.1M275.6 343.1l7 .3"/>
<path d="M397.2 385.8l7 .1 2.6 2.3-7-.1zM268.6 343.7l7-.6 2.6 10.2-7 .4z"/>
<path class="l" d="M268.6 343.7l7-.6"/>
<path d="M390.2 385.4l7 .4 2.6 2.3-7-.5zM261.6 345.1l7-1.4 2.6 10-7 1z"/>
<path class="l" d="M261.6 345.1l7-1.4"/>
<path d="M383.2 384.5l7 .9 2.6 2.2-7-.7z"/>
<path class="l" d="M390.2 385.4l2.6 2.2"/>
<path d="M254.6 347.2l7-2.1 2.6 9.6-7 1.4z"/>
<path class="l" d="M261.6 345.1l2.6 9.6M254.6 347.2l7-2.1"/>
<path d="M247.6 350l7-2.8 2.6 8.9-7 2z"/>
<path class="l" d="M247.6 350l7-2.8"/>
<path d="M376.2 383.3l7 1.2 2.6 2.4-7-1zM240.6 353.3l7-3.3 2.6 8.1-7 2.5z"/>
<path class="l" d="M240.6 353.3l7-3.3"/>
<path d="M369.2 381.8l7 1.5 2.6 2.6-7-1.3zM233.6 357.1l7-3.8 2.6 7.3-7 3.1z"/>
<path class="l" d="M240.6 353.3l2.6 7.3M233.6 357.1l7-3.8"/>
<path d="M226.6 361.3l7-4.2 2.6 6.6-7 3.5z"/>
<path class="l" d="M226.6 361.3l7-4.2"/>
<path d="M362.2 379.9l7 1.9 2.6 2.8-7-1.5z"/>
<path class="l" d="M369.2 381.8l2.6 2.8"/>
<path d="M219.6 365.5l7-4.2 2.6 5.9-7 3.8z"/>
<path class="l" d="M219.6 365.5l7-4.2"/>
<path d="M216 367.7l3.6-2.2 2.6 5.5-3.6 2z"/>
<path class="l" d="M219.6 365.5l2.6 5.5M216 367.7l3.6-2.2"/>
<path d="M212.4 369.8l3.6-2.1 2.6 5.3-3.6 2z"/>
<path class="l" d="M212.4 369.8l3.6-2.1"/>
<path d="M355.2 377.8l7 2.1 2.6 3.2-7-1.7zM208.7 371.9l3.7-2.1 2.6 5.2-3.7 2z"/>
<path class="l" d="M208.7 371.9l2.6 5.1M208.7 371.9l3.7-2.1"/>
<path d="M348.2 375.3l7 2.5 2.6 3.6-7-1.8zM341.2 372.5l7 2.8 2.6 4.3-7-2.1z"/>
<path class="l" d="M348.2 375.3l2.6 4.3"/>
<path d="M334.2 369.5l7 3 2.6 5-7-2.1zM327.2 366.5l7 3 2.6 5.9-7-2.1zM320.2 363.5l7 3 2.6 6.8-7-2.1z"/>
<path class="l" d="M327.2 366.5l2.6 6.8"/>
<path d="M313.2 360.7l7 2.8 2.6 7.7-7-1.9zM306.2 358.2l7 2.5 2.6 8.6-7-1.8zM299.2 356.1l7 2.1 2.6 9.3-7-1.4z"/>
<path class="l" d="M306.2 358.2l2.6 9.3"/>
<path d="M292.2 354.5l7 1.6 2.6 10-7-1.2zM285.2 353.5l7 1 2.6 10.4-7-.7zM278.2 353.3l7 .2 2.6 10.7-7-.4z"/>
<path class="l" d="M285.2 353.5l2.6 10.7"/>
<path d="M406.8 388.2l7-.2 2.6 2.3-7 .1z"/>
<path class="l" d="M413.8 388l2.6 2.3"/>
<path d="M271.2 353.7l7-.4 2.6 10.5-7 .2zM399.8 388.1l7 .1 2.6 2.2-7-.1zM264.2 354.7l7-1 2.6 10.3-7 .5zM392.8 387.6l7 .5 2.6 2.2-7-.4zM257.2 356.1l7-1.4 2.6 9.8-7 .9z"/>
<path class="l" d="M264.2 354.7l2.6 9.8"/>
<path d="M385.8 386.9l7 .7 2.6 2.3-7-.5z"/>
<path class="l" d="M392.8 387.6l2.6 2.3"/>
<path d="M250.2 358.1l7-2 2.6 9.3-7 1.3zM378.8 385.9l7 1 2.6 2.5-7-.8zM243.2 360.6l7-2.5 2.6 8.6-7 1.8zM236.2 363.7l7-3.1 2.6 7.9-7 2.4z"/>
<path class="l" d="M243.2 360.6l2.6 7.9"/>
<path d="M371.8 384.6l7 1.3 2.6 2.7-7-.9zM229.2 367.2l7-3.5 2.6 7.2-7 2.8zM222.2 371l7-3.8 2.6 6.5-7 3.2zM364.8 383.1l7 1.5 2.6 3.1-7-1.1z"/>
<path class="l" d="M371.8 384.6l2.6 3.1"/>
<path d="M218.6 373l3.6-2 2.6 5.9-3.6 1.8z"/>
<path class="l" d="M222.2 371l2.6 5.9"/>
<path d="M215 375l3.6-2 2.6 5.7-3.6 1.7zM211.3 377l3.7-2 2.6 5.4-3.7 1.9z"/>
<path class="l" d="M211.3 377l2.6 5.3"/>
<path d="M357.8 381.4l7 1.7 2.6 3.5-7-1.1zM350.8 379.6l7 1.8 2.6 4.1-7-1.2zM343.8 377.5l7 2.1 2.6 4.7-7-1.3z"/>
<path class="l" d="M350.8 379.6l2.6 4.7"/>
<path d="M336.8 375.4l7 2.1 2.6 5.5-7-1.3zM329.8 373.3l7 2.1 2.6 6.3-7-1.2zM322.8 371.2l7 2.1 2.6 7.2-7-1.2z"/>
<path class="l" d="M329.8 373.3l2.6 7.2"/>
<path d="M315.8 369.3l7 1.9 2.6 8.1-7-1.2zM308.8 367.5l7 1.8 2.6 8.8-7-1zM301.8 366.1l7 1.4 2.6 9.6-7-.9z"/>
<path class="l" d="M308.8 367.5l2.6 9.6"/>
<path d="M294.8 364.9l7 1.2 2.6 10.1-7-.8zM287.8 364.2l7 .7 2.6 10.5-7-.5zM280.8 363.8l7 .4 2.6 10.7-7-.3z"/>
<path class="l" d="M287.8 364.2l2.6 10.7"/>
<path d="M273.8 364l7-.2 2.6 10.8-7-.1zM409.4 390.4l7-.1 2.6 2-7 .1z"/>
<path class="l" d="M416.4 390.3l2.6 2M409.4 390.4l7-.1"/>
<path d="M266.8 364.5l7-.5 2.6 10.5-7 .2zM402.4 390.3l7 .1 2.6 2-7-.1z"/>
<path class="l" d="M402.4 390.3l7 .1"/>
<path d="M259.8 365.4l7-.9 2.6 10.2-7 .4z"/>
<path class="l" d="M266.8 364.5l2.6 10.2"/>
<path d="M395.4 389.9l7 .4 2.6 2-7-.1z"/>
<path class="l" d="M395.4 389.9l7 .4"/>
<path d="M252.8 366.7l7-1.3 2.6 9.7-7 .9zM388.4 389.4l7 .5 2.6 2.3-7-.3z"/>
<path class="l" d="M395.4 389.9l2.6 2.3M388.4 389.4l7 .5"/>
<path d="M245.8 368.5l7-1.8 2.6 9.3-7 1.2zM381.4 388.6l7 .8 2.6 2.5-7-.3z"/>
<path class="l" d="M381.4 388.6l7 .8"/>
<path d="M238.8 370.9l7-2.4 2.6 8.7-7 1.7z"/>
<path class="l" d="M245.8 368.5l2.6 8.7"/>
<path d="M231.8 373.7l7-2.8 2.6 8-7 2zM374.4 387.7l7 .9 2.6 3-7-.5z"/>
<path class="l" d="M374.4 387.7l7 .9"/>
<path d="M224.8 376.9l7-3.2 2.6 7.2-7 2.4zM367.4 386.6l7 1.1 2.6 3.4-7-.5z"/>
<path class="l" d="M374.4 387.7l2.6 3.4M367.4 386.6l7 1.1"/>
<path d="M221.2 378.7l3.6-1.8 2.6 6.4-3.6 1.3z"/>
<path class="l" d="M224.8 376.9l2.6 6.4"/>
<path d="M217.6 380.4l3.6-1.7 2.6 5.9-3.6 1.4zM213.9 382.3l3.7-1.9 2.6 5.6-3.7 1.4z"/>
<path class="l" d="M213.9 382.3l2.6 5.1"/>
<path d="M360.4 385.5l7 1.1 2.6 4-7-.5z"/>
<path class="l" d="M360.4 385.5l7 1.1"/>
<path d="M353.4 384.3l7 1.2 2.6 4.6-7-.6z"/>
<path class="l" d="M353.4 384.3l7 1.2"/>
<path d="M346.4 383l7 1.3 2.6 5.2-7-.6z"/>
<path class="l" d="M353.4 384.3l2.6 5.2M346.4 383l7 1.3"/>
<path d="M339.4 381.7l7 1.3 2.6 5.9-7-.6z"/>
<path class="l" d="M339.4 381.7l7 1.3"/>
<path d="M332.4 380.5l7 1.2 2.6 6.6-7-.5z"/>
<path class="l" d="M332.4 380.5l7 1.2"/>
<path d="M325.4 379.3l7 1.2 2.6 7.3-7-.5z"/>
<path class="l" d="M332.4 380.5l2.6 7.3M325.4 379.3l7 1.2"/>
<path d="M318.4 378.1l7 1.2 2.6 8-7-.5z"/>
<path class="l" d="M318.4 378.1l7 1.2"/>
<path d="M311.4 377.1l7 1 2.6 8.7-7-.4z"/>
<path class="l" d="M311.4 377.1l7 1"/>
<path d="M304.4 376.2l7 .9 2.6 9.3-7-.4z"/>
<path class="l" d="M311.4 377.1l2.6 9.3M304.4 376.2l7 .9"/>
<path d="M297.4 375.4l7 .8 2.6 9.8-7-.3z"/>
<path class="l" d="M297.4 375.4l7 .8"/>
<path d="M290.4 374.9l7 .5 2.6 10.3-7-.2z"/>
<path class="l" d="M290.4 374.9l7 .5"/>
<path d="M283.4 374.6l7 .3 2.6 10.6-7-.2z"/>
<path class="l" d="M290.4 374.9l2.6 10.6M283.4 374.6l7 .3"/>
<path d="M276.4 374.5l7 .1 2.6 10.7-7 0z"/>
<path class="l" d="M276.4 374.5l7 .1"/>
<path d="M269.4 374.7l7-.2 2.6 10.8-7 .1z"/>
<path class="l" d="M269.4 374.7l7-.2"/>
<path d="M412 392.4l7-.1 2.6 1.8-7 .1z"/>
<path class="l" d="M419 392.3l2.6 1.8"/>
<path d="M262.4 375.1l7-.4 2.6 10.7-7 .2z"/>
<path class="l" d="M269.4 374.7l2.6 10.7M262.4 375.1l7-.4"/>
<path d="M405 392.3l7 .1 2.6 1.8-7 .1zM255.4 376l7-.9 2.6 10.5-7 .5z"/>
<path class="l" d="M255.4 376l7-.9"/>
<path d="M398 392.2l7 .1 2.6 2-7 .1zM248.4 377.2l7-1.2 2.6 10.1-7 .7z"/>
<path class="l" d="M248.4 377.2l7-1.2"/>
<path d="M391 391.9l7 .3 2.6 2.2-7 .1z"/>
<path class="l" d="M398 392.2l2.6 2.2"/>
<path d="M241.4 378.9l7-1.7 2.6 9.6-7 .9z"/>
<path class="l" d="M248.4 377.2l2.6 9.6M241.4 378.9l7-1.7"/>
<path d="M384 391.6l7 .3 2.6 2.6-7 .2zM234.4 380.9l7-2 2.6 8.8-7 1.1z"/>
<path class="l" d="M234.4 380.9l7-2"/>
<path d="M377 391.1l7 .5 2.6 3.1-7 .1zM227.4 383.3l7-2.4 2.6 7.9-7 1.3z"/>
<path class="l" d="M227.4 383.3l7-2.4"/>
<path d="M223.8 384.6l3.6-1.3 2.6 6.8-3.6 .7z"/>
<path class="l" d="M227.4 383.3l2.6 6.8M223.8 384.6l3.6-1.3"/>
<path d="M370 390.6l7 .5 2.6 3.7-7 .1z"/>
<path class="l" d="M377 391.1l2.6 3.7"/>
<path d="M220.2 386l3.6-1.4 2.6 6.2-3.6 .8z"/>
<path class="l" d="M220.2 386l3.6-1.4"/>
<path d="M216.5 387.4l3.7-1.4 2.6 5.6-3.7 .7z"/>
<path class="l" d="M216.5 387.4l2.6 4.9M216.5 387.4l3.7-1.4"/>
<path d="M363 390.1l7 .5 2.6 4.3-7 0zM356 389.5l7 .6 2.6 4.8-7 .1zM349 388.9l7 .6 2.6 5.5-7 .1z"/>
<path class="l" d="M356 389.5l2.6 5.5"/>
<path d="M342 388.3l7 .6 2.6 6.2-7 .1zM335 387.8l7 .5 2.6 6.9-7 .1zM328 387.3l7 .5 2.6 7.5-7 .1z"/>
<path class="l" d="M335 387.8l2.6 7.5"/>
<path d="M321 386.8l7 .5 2.6 8.1-7 .1zM314 386.4l7 .4 2.6 8.7-7 .1zM307 386l7 .4 2.6 9.2-7 .2z"/>
<path class="l" d="M314 386.4l2.6 9.2"/>
<path d="M300 385.7l7 .3 2.6 9.8-7 .1zM293 385.5l7 .2 2.6 10.2-7 .1zM286 385.3l7 .2 2.6 10.5-7 .2z"/>
<path class="l" d="M293 385.5l2.6 10.5"/>
<path d="M279 385.3l7 0 2.6 10.9-7 .1zM272 385.4l7-.1 2.6 11-7 .1zM265 385.6l7-.2 2.6 11-7 .1z"/>
<path class="l" d="M272 385.4l2.6 11"/>
<path d="M414.6 394.2l7-.1 2.6 1.9-7 .1z"/>
<path class="l" d="M421.6 394.1l2.6 1.9"/>
<path d="M258 386.1l7-.5 2.6 10.9-7 .1zM407.6 394.3l7-.1 2.6 1.9-7 .2zM251 386.8l7-.7 2.6 10.5-7 .1zM400.6 394.4l7-.1 2.6 2-7 .4zM244 387.7l7-.9 2.6 9.9-7 .2z"/>
<path class="l" d="M251 386.8l2.6 9.9"/>
<path d="M393.6 394.5l7-.1 2.6 2.3-7 .4z"/>
<path class="l" d="M400.6 394.4l2.6 2.3"/>
<path d="M237 388.8l7-1.1 2.6 9.2-7 .1zM386.6 394.7l7-.2 2.6 2.6-7 .6zM230 390.1l7-1.3 2.6 8.2-7 .1zM379.6 394.8l7-.1 2.6 3-7 .6zM226.4 390.8l3.6-.7 2.6 7-3.6 0z"/>
<path class="l" d="M230 390.1l2.6 7"/>
<path d="M372.6 394.9l7-.1 2.6 3.5-7 .7z"/>
<path class="l" d="M379.6 394.8l2.6 3.5"/>
<path d="M222.8 391.6l3.6-.8 2.6 6.3-3.6 .1zM219.1 392.3l3.7-.7 2.6 5.6-3.7 0z"/>
<path class="l" d="M219.1 392.3l2.6 4.9"/>
<path d="M365.6 394.9l7 0 2.6 4.1-7 .8zM358.6 395l7-.1 2.6 4.9-7 .8zM351.6 395.1l7-.1 2.6 5.6-7 .8z"/>
<path class="l" d="M358.6 395l2.6 5.6"/>
<path d="M344.6 395.2l7-.1 2.6 6.3-7 .8zM337.6 395.3l7-.1 2.6 7-7 .8zM330.6 395.4l7-.1 2.6 7.7-7 .8z"/>
<path class="l" d="M337.6 395.3l2.6 7.7"/>
<path d="M323.6 395.5l7-.1 2.6 8.4-7 .7zM316.6 395.6l7-.1 2.6 9-7 .7zM309.6 395.8l7-.2 2.6 9.6-7 .6z"/>
<path class="l" d="M316.6 395.6l2.6 9.6"/>
<path d="M302.6 395.9l7-.1 2.6 10-7 .5zM295.6 396l7-.1 2.6 10.4-7 .5zM288.6 396.2l7-.2 2.6 10.8-7 .3z"/>
<path class="l" d="M295.6 396l2.6 10.8"/>
<path d="M281.6 396.3l7-.1 2.6 10.9-7 .2zM274.6 396.4l7-.1 2.6 11-7 .1zM267.6 396.5l7-.1 2.6 11-7-.1z"/>
<path class="l" d="M274.6 396.4l2.6 11"/>
<path d="M260.6 396.6l7-.1 2.6 10.8-7-.2zM417.2 396.1l7-.1 2.6 1.9-7 .3z"/>
<path class="l" d="M424.2 396l2.6 1.9M417.2 396.1l7-.1"/>
<path d="M253.6 396.7l7-.1 2.6 10.5-7-.5zM410.2 396.3l7-.2 2.6 2.1-7 .3z"/>
<path class="l" d="M410.2 396.3l7-.2"/>
<path d="M403.2 396.7l7-.4 2.6 2.2-7 .5z"/>
<path class="l" d="M403.2 396.7l7-.4"/>
<path d="M246.6 396.9l7-.2 2.6 9.9-7-.6z"/>
<path class="l" d="M253.6 396.7l2.6 9.9"/>
<path d="M396.2 397.1l7-.4 2.6 2.3-7 .7z"/>
<path class="l" d="M403.2 396.7l2.6 2.3M396.2 397.1l7-.4"/>
<path d="M239.6 397l7-.1 2.6 9.1-7-.8zM389.2 397.7l7-.6 2.6 2.6-7 .9z"/>
<path class="l" d="M389.2 397.7l7-.6"/>
<path d="M232.6 397.1l7-.1 2.6 8.2-7-1.1zM382.2 398.3l7-.6 2.6 2.9-7 1z"/>
<path class="l" d="M382.2 398.3l7-.6"/>
<path d="M229 397.1l3.6 0 2.6 7-3.6-.5z"/>
<path class="l" d="M232.6 397.1l2.6 7"/>
<path d="M225.4 397.2l3.6-.1 2.6 6.5-3.6-.7zM375.2 399l7-.7 2.6 3.3-7 1.3z"/>
<path class="l" d="M382.2 398.3l2.6 3.3M375.2 399l7-.7"/>
<path d="M221.7 397.2l3.7 0 2.6 5.7-3.7-.6z"/>
<path class="l" d="M221.7 397.2l2.6 5.1"/>
<path d="M368.2 399.8l7-.8 2.6 3.9-7 1.5z"/>
<path class="l" d="M368.2 399.8l7-.8"/>
<path d="M361.2 400.6l7-.8 2.6 4.6-7 1.5z"/>
<path class="l" d="M361.2 400.6l7-.8"/>
<path d="M354.2 401.4l7-.8 2.6 5.3-7 1.6z"/>
<path class="l" d="M361.2 400.6l2.6 5.3M354.2 401.4l7-.8"/>
<path d="M347.2 402.2l7-.8 2.6 6.1-7 1.7z"/>
<path class="l" d="M347.2 402.2l7-.8"/>
<path d="M340.2 403l7-.8 2.6 7-7 1.6z"/>
<path class="l" d="M340.2 403l7-.8"/>
<path d="M333.2 403.8l7-.8 2.6 7.8-7 1.6z"/>
<path class="l" d="M340.2 403l2.6 7.8M333.2 403.8l7-.8"/>
<path d="M326.2 404.5l7-.7 2.6 8.6-7 1.4z"/>
<path class="l" d="M326.2 404.5l7-.7"/>
<path d="M319.2 405.2l7-.7 2.6 9.3-7 1.4z"/>
<path class="l" d="M319.2 405.2l7-.7"/>
<path d="M312.2 405.8l7-.6 2.6 10-7 1.1z"/>
<path class="l" d="M319.2 405.2l2.6 10M312.2 405.8l7-.6"/>
<path d="M305.2 406.3l7-.5 2.6 10.5-7 .9z"/>
<path class="l" d="M305.2 406.3l7-.5"/>
<path d="M298.2 406.8l7-.5 2.6 10.9-7 .6z"/>
<path class="l" d="M298.2 406.8l7-.5"/>
<path d="M291.2 407.1l7-.3 2.6 11-7 .4z"/>
<path class="l" d="M298.2 406.8l2.6 11M291.2 407.1l7-.3"/>
<path d="M284.2 407.3l7-.2 2.6 11.1-7 .1z"/>
<path class="l" d="M284.2 407.3l7-.2"/>
<path d="M277.2 407.4l7-.1 2.6 11-7-.1z"/>
<path class="l" d="M277.2 407.4l7-.1"/>
<path d="M270.2 407.3l7 .1 2.6 10.8-7-.4z"/>
<path class="l" d="M277.2 407.4l2.6 10.8M270.2 407.3l7 .1"/>
<path d="M263.2 407.1l7 .2 2.6 10.5-7-.7z"/>
<path class="l" d="M263.2 407.1l7 .2"/>
<path d="M419.8 398.2l7-.3 2.6 2.1-7 .4z"/>
<path class="l" d="M426.8 397.9l2.6 2.1"/>
<path d="M256.2 406.6l7 .5 2.6 10-7-1.1z"/>
<path class="l" d="M256.2 406.6l7 .5"/>
<path d="M412.8 398.5l7-.3 2.6 2.2-7 .5zM249.2 406l7 .6 2.6 9.4-7-1.3z"/>
<path class="l" d="M256.2 406.6l2.6 9.4M249.2 406l7 .6"/>
<path d="M405.8 399l7-.5 2.6 2.4-7 .6zM242.2 405.2l7 .8 2.6 8.7-7-1.7z"/>
<path class="l" d="M242.2 405.2l7 .8"/>
<path d="M398.8 399.7l7-.7 2.6 2.5-7 .8z"/>
<path class="l" d="M405.8 399l2.6 2.5"/>
<path d="M235.2 404.1l7 1.1 2.6 7.8-7-1.9z"/>
<path class="l" d="M235.2 404.1l7 1.1"/>
<path d="M391.8 400.6l7-.9 2.6 2.6-7 1.1zM231.6 403.6l3.6 .5 2.6 7-3.6-1.1z"/>
<path class="l" d="M235.2 404.1l2.6 7M231.6 403.6l3.6 .5"/>
<path d="M384.8 401.6l7-1 2.6 2.8-7 1.4zM228 402.9l3.6 .7 2.6 6.4-3.6-1.2z"/>
<path class="l" d="M228 402.9l3.6 .7"/>
<path d="M377.8 402.9l7-1.3 2.6 3.2-7 1.8z"/>
<path class="l" d="M384.8 401.6l2.6 3.2"/>
<path d="M224.3 402.3l3.7 .6 2.6 5.9-3.7-1.1z"/>
<path class="l" d="M224.3 402.3l2.6 5.4M224.3 402.3l3.7 .6"/>
<path d="M370.8 404.4l7-1.5 2.6 3.7-7 2.1zM363.8 405.9l7-1.5 2.6 4.3-7 2.3zM356.8 407.5l7-1.6 2.6 5.1-7 2.5z"/>
<path class="l" d="M363.8 405.9l2.6 5.1"/>
<path d="M349.8 409.2l7-1.7 2.6 6-7 2.5zM342.8 410.8l7-1.6 2.6 6.8-7 2.5zM335.8 412.4l7-1.6 2.6 7.7-7 2.5z"/>
<path class="l" d="M342.8 410.8l2.6 7.7"/>
<path d="M328.8 413.8l7-1.4 2.6 8.6-7 2.2zM321.8 415.2l7-1.4 2.6 9.4-7 2zM314.8 416.3l7-1.1 2.6 10-7 1.6z"/>
<path class="l" d="M321.8 415.2l2.6 10"/>
<path d="M307.8 417.2l7-.9 2.6 10.5-7 1.3zM300.8 417.8l7-.6 2.6 10.9-7 .8zM293.8 418.2l7-.4 2.6 11.1-7 .3z"/>
<path class="l" d="M300.8 417.8l2.6 11.1"/>
<path d="M286.8 418.3l7-.1 2.6 11-7-.1zM279.8 418.2l7 .1 2.6 10.8-7-.5zM272.8 417.8l7 .4 2.6 10.4-7-.8z"/>
<path class="l" d="M279.8 418.2l2.6 10.4"/>
<path d="M265.8 417.1l7 .7 2.6 10-7-1.3zM258.8 416l7 1.1 2.6 9.4-7-1.6zM422.4 400.4l7-.4 2.6 2.1-7 .6z"/>
<path class="l" d="M429.4 400l2.6 2.1"/>
<path d="M251.8 414.7l7 1.3 2.6 8.9-7-2.1z"/>
<path class="l" d="M258.8 416l2.6 8.9"/>
<path d="M415.4 400.9l7-.5 2.6 2.3-7 .6zM244.8 413l7 1.7 2.6 8.1-7-2.4zM408.4 401.5l7-.6 2.6 2.4-7 .7zM401.4 402.3l7-.8 2.6 2.5-7 1z"/>
<path class="l" d="M408.4 401.5l2.6 2.5"/>
<path d="M237.8 411.1l7 1.9 2.6 7.4-7-2.7zM394.4 403.4l7-1.1 2.6 2.7-7 1.2zM234.2 410l3.6 1.1 2.6 6.6-3.6-1.5z"/>
<path class="l" d="M237.8 411.1l2.6 6.6"/>
<path d="M387.4 404.8l7-1.4 2.6 2.8-7 1.7zM230.6 408.8l3.6 1.2 2.6 6.2-3.6-1.5zM226.9 407.7l3.7 1.1 2.6 5.9-3.7-1.6z"/>
<path class="l" d="M226.9 407.7l2.6 5.4"/>
<path d="M380.4 406.6l7-1.8 2.6 3.1-7 2.3z"/>
<path class="l" d="M387.4 404.8l2.6 3.1"/>
<path d="M373.4 408.7l7-2.1 2.6 3.6-7 2.7zM366.4 411l7-2.3 2.6 4.2-7 3zM359.4 413.5l7-2.5 2.6 4.9-7 3.2z"/>
<path class="l" d="M366.4 411l2.6 4.9"/>
<path d="M352.4 416l7-2.5 2.6 5.6-7 3.4zM345.4 418.5l7-2.5 2.6 6.5-7 3.4zM338.4 421l7-2.5 2.6 7.4-7 3.2z"/>
<path class="l" d="M345.4 418.5l2.6 7.4"/>
<path d="M331.4 423.2l7-2.2 2.6 8.1-7 3zM324.4 425.2l7-2 2.6 8.9-7 2.7zM317.4 426.8l7-1.6 2.6 9.6-7 2.1z"/>
<path class="l" d="M324.4 425.2l2.6 9.6"/>
<path d="M310.4 428.1l7-1.3 2.6 10.1-7 1.6zM303.4 428.9l7-.8 2.6 10.4-7 1zM296.4 429.2l7-.3 2.6 10.6-7 .4z"/>
<path class="l" d="M303.4 428.9l2.6 10.6"/>
<path d="M289.4 429.1l7 .1 2.6 10.7-7-.3zM282.4 428.6l7 .5 2.6 10.5-7-.8zM275.4 427.8l7 .8 2.6 10.2-7-1.3z"/>
<path class="l" d="M282.4 428.6l2.6 10.2"/>
<path d="M268.4 426.5l7 1.3 2.6 9.7-7-1.9zM261.4 424.9l7 1.6 2.6 9.1-7-2.3zM254.4 422.8l7 2.1 2.6 8.4-7-2.8z"/>
<path class="l" d="M261.4 424.9l2.6 8.4"/>
<path d="M425 402.7l7-.6 2.6 2-7 .8z"/>
<path class="l" d="M432 402.1l2.6 2M425 402.7l7-.6"/>
<path d="M418 403.3l7-.6 2.6 2.2-7 .8z"/>
<path class="l" d="M418 403.3l7-.6"/>
<path d="M247.4 420.4l7 2.4 2.6 7.7-7-3.2zM411 404l7-.7 2.6 2.4-7 .9z"/>
<path class="l" d="M411 404l7-.7"/>
<path d="M240.4 417.7l7 2.7 2.6 6.9-7-3.4zM404 405l7-1 2.6 2.6-7 1.1z"/>
<path class="l" d="M411 404l2.6 2.6M404 405l7-1"/>
<path d="M236.8 416.2l3.6 1.5 2.6 6.2-3.6-1.8z"/>
<path class="l" d="M240.4 417.7l2.6 6.2"/>
<path d="M397 406.2l7-1.2 2.6 2.7-7 1.5z"/>
<path class="l" d="M397 406.2l7-1.2"/>
<path d="M233.2 414.7l3.6 1.5 2.6 5.9-3.6-1.9zM390 407.9l7-1.7 2.6 3-7 2z"/>
<path class="l" d="M390 407.9l7-1.7"/>
<path d="M229.5 413.1l3.7 1.6 2.6 5.5-3.7-1.8z"/>
<path class="l" d="M229.5 413.1l2.6 5.3"/>
<path d="M383 410.2l7-2.3 2.6 3.3-7 2.6z"/>
<path class="l" d="M390 407.9l2.6 3.3M383 410.2l7-2.3"/>
<path d="M376 412.9l7-2.7 2.6 3.6-7 3.1z"/>
<path class="l" d="M376 412.9l7-2.7"/>
<path d="M369 415.9l7-3 2.6 4-7 3.6z"/>
<path class="l" d="M369 415.9l7-3"/>
<path d="M362 419.1l7-3.2 2.6 4.6-7 3.9z"/>
<path class="l" d="M369 415.9l2.6 4.6M362 419.1l7-3.2"/>
<path d="M355 422.5l7-3.4 2.6 5.3-7 4.1z"/>
<path class="l" d="M355 422.5l7-3.4"/>
<path d="M348 425.9l7-3.4 2.6 6-7 4z"/>
<path class="l" d="M348 425.9l7-3.4"/>
<path d="M341 429.1l7-3.2 2.6 6.6-7 4z"/>
<path class="l" d="M348 425.9l2.6 6.6M341 429.1l7-3.2"/>
<path d="M334 432.1l7-3 2.6 7.4-7 3.7z"/>
<path class="l" d="M334 432.1l7-3"/>
<path d="M327 434.8l7-2.7 2.6 8.1-7 3.3z"/>
<path class="l" d="M327 434.8l7-2.7"/>
<path d="M320 436.9l7-2.1 2.6 8.7-7 2.7z"/>
<path class="l" d="M327 434.8l2.6 8.7M320 436.9l7-2.1"/>
<path d="M313 438.5l7-1.6 2.6 9.3-7 2z"/>
<path class="l" d="M313 438.5l7-1.6"/>
<path d="M306 439.5l7-1 2.6 9.7-7 1.3z"/>
<path class="l" d="M306 439.5l7-1"/>
<path d="M299 439.9l7-.4 2.6 10-7 .5z"/>
<path class="l" d="M306 439.5l2.6 10M299 439.9l7-.4"/>
<path d="M292 439.6l7 .3 2.6 10.1-7-.3z"/>
<path class="l" d="M292 439.6l7 .3"/>
<path d="M285 438.8l7 .8 2.6 10.1-7-1.1z"/>
<path class="l" d="M285 438.8l7 .8"/>
<path d="M278 437.5l7 1.3 2.6 9.8-7-1.8z"/>
<path class="l" d="M285 438.8l2.6 9.8M278 437.5l7 1.3"/>
<path d="M271 435.6l7 1.9 2.6 9.3-7-2.5z"/>
<path class="l" d="M271 435.6l7 1.9"/>
<path d="M264 433.3l7 2.3 2.6 8.7-7-3z"/>
<path class="l" d="M264 433.3l7 2.3"/>
<path d="M257 430.5l7 2.8 2.6 8-7-3.7z"/>
<path class="l" d="M264 433.3l2.6 8M257 430.5l7 2.8"/>
<path d="M427.6 404.9l7-.8 2.6 2-7 .9z"/>
<path class="l" d="M434.6 404.1l2.6 2"/>
<path d="M250 427.3l7 3.2 2.6 7.1-7-4z"/>
<path class="l" d="M250 427.3l7 3.2"/>
<path d="M420.6 405.7l7-.8 2.6 2.1-7 1zM413.6 406.6l7-.9 2.6 2.3-7 1.1zM243 423.9l7 3.4 2.6 6.3-7-4.1z"/>
<path class="l" d="M243 423.9l7 3.4"/>
<path d="M406.6 407.7l7-1.1 2.6 2.5-7 1.3z"/>
<path class="l" d="M413.6 406.6l2.6 2.5"/>
<path d="M239.4 422.1l3.6 1.8 2.6 5.6-3.6-2.2z"/>
<path class="l" d="M243 423.9l2.6 5.6M239.4 422.1l3.6 1.8"/>
<path d="M399.6 409.2l7-1.5 2.6 2.7-7 1.7zM235.8 420.2l3.6 1.9 2.6 5.2-3.6-2z"/>
<path class="l" d="M235.8 420.2l3.6 1.9"/>
<path d="M392.6 411.2l7-2 2.6 2.9-7 2.3zM232.1 418.4l3.7 1.8 2.6 5.1-3.7-2z"/>
<path class="l" d="M232.1 418.4l2.6 4.9M232.1 418.4l3.7 1.8"/>
<path d="M385.6 413.8l7-2.6 2.6 3.2-7 3z"/>
<path class="l" d="M392.6 411.2l2.6 3.2"/>
<path d="M378.6 416.9l7-3.1 2.6 3.6-7 3.5zM371.6 420.5l7-3.6 2.6 4-7 4zM364.6 424.4l7-3.9 2.6 4.4-7 4.3z"/>
<path class="l" d="M371.6 420.5l2.6 4.4"/>
<path d="M357.6 428.5l7-4.1 2.6 4.8-7 4.6zM350.6 432.5l7-4 2.6 5.3-7 4.7zM343.6 436.5l7-4 2.6 6-7 4.5z"/>
<path class="l" d="M350.6 432.5l2.6 6"/>
<path d="M336.6 440.2l7-3.7 2.6 6.5-7 4.4zM329.6 443.5l7-3.3 2.6 7.2-7 3.9zM322.6 446.2l7-2.7 2.6 7.8-7 3.2z"/>
<path class="l" d="M329.6 443.5l2.6 7.8"/>
<path d="M315.6 448.2l7-2 2.6 8.3-7 2.5zM308.6 449.5l7-1.3 2.6 8.8-7 1.7zM301.6 450l7-.5 2.6 9.2-7 .6z"/>
<path class="l" d="M308.6 449.5l2.6 9.2"/>
<path d="M294.6 449.7l7 .3 2.6 9.3-7-.3zM287.6 448.6l7 1.1 2.6 9.3-7-1.3zM280.6 446.8l7 1.8 2.6 9.1-7-2.2z"/>
<path class="l" d="M287.6 448.6l2.6 9.1"/>
<path d="M273.6 444.3l7 2.5 2.6 8.7-7-3.1zM266.6 441.3l7 3 2.6 8.1-7-3.8zM259.6 437.6l7 3.7 2.6 7.3-7-4.5z"/>
<path class="l" d="M266.6 441.3l2.6 7.3"/>
<path d="M430.2 407l7-.9 2.6 1.9-7 1z"/>
<path class="l" d="M437.2 406.1l2.6 1.9"/>
<path d="M252.6 433.6l7 4 2.6 6.5-7-4.8zM423.2 408l7-1 2.6 2-7 1zM245.6 429.5l7 4.1 2.6 5.7-7-4.8zM416.2 409.1l7-1.1 2.6 2-7 1.3zM409.2 410.4l7-1.3 2.6 2.2-7 1.6z"/>
<path class="l" d="M416.2 409.1l2.6 2.2"/>
<path d="M242 427.3l3.6 2.2 2.6 5-3.6-2.4z"/>
<path class="l" d="M245.6 429.5l2.6 5"/>
<path d="M402.2 412.1l7-1.7 2.6 2.5-7 2.1zM238.4 425.3l3.6 2 2.6 4.8-3.6-2.4zM395.2 414.4l7-2.3 2.6 2.9-7 2.6zM234.7 423.3l3.7 2 2.6 4.4-3.7-2.1z"/>
<path class="l" d="M234.7 423.3l2.6 4.3"/>
<path d="M388.2 417.4l7-3 2.6 3.2-7 3.2z"/>
<path class="l" d="M395.2 414.4l2.6 3.2"/>
<path d="M381.2 420.9l7-3.5 2.6 3.4-7 3.8zM374.2 424.9l7-4 2.6 3.7-7 4.3zM367.2 429.2l7-4.3 2.6 4-7 4.6z"/>
<path class="l" d="M374.2 424.9l2.6 4"/>
<path d="M360.2 433.8l7-4.6 2.6 4.3-7 5zM353.2 438.5l7-4.7 2.6 4.7-7 5.1zM346.2 443l7-4.5 2.6 5.1-7 5.1z"/>
<path class="l" d="M353.2 438.5l2.6 5.1"/>
<path d="M339.2 447.4l7-4.4 2.6 5.7-7 5zM332.2 451.3l7-3.9 2.6 6.3-7 4.6zM325.2 454.5l7-3.2 2.6 7-7 3.8z"/>
<path class="l" d="M332.2 451.3l2.6 7"/>
<path d="M318.2 457l7-2.5 2.6 7.6-7 2.9zM311.2 458.7l7-1.7 2.6 8-7 1.9zM304.2 459.3l7-.6 2.6 8.2-7 .8z"/>
<path class="l" d="M311.2 458.7l2.6 8.2"/>
<path d="M297.2 459l7 .3 2.6 8.4-7-.3zM290.2 457.7l7 1.3 2.6 8.4-7-1.6zM283.2 455.5l7 2.2 2.6 8.1-7-2.7z"/>
<path class="l" d="M290.2 457.7l2.6 8.1"/>
<path d="M276.2 452.4l7 3.1 2.6 7.6-7-3.7zM269.2 448.6l7 3.8 2.6 7-7-4.5zM262.2 444.1l7 4.5 2.6 6.3-7-5.1z"/>
<path class="l" d="M269.2 448.6l2.6 6.3"/>
<path d="M255.2 439.3l7 4.8 2.6 5.7-7-5.5zM432.8 409l7-1 2.6 2.1-7 .7z"/>
<path class="l" d="M439.8 408l2.6 2.1M432.8 409l7-1"/>
<path d="M425.8 410l7-1 2.6 1.8-7 1.1z"/>
<path class="l" d="M425.8 410l7-1"/>
<path d="M248.2 434.5l7 4.8 2.6 5-7-5.4zM418.8 411.3l7-1.3 2.6 1.9-7 1.4z"/>
<path class="l" d="M418.8 411.3l7-1.3"/>
<path d="M244.6 432.1l3.6 2.4 2.6 4.4-3.6-2.7z"/>
<path class="l" d="M248.2 434.5l2.6 4.4"/>
<path d="M411.8 412.9l7-1.6 2.6 2-7 1.9z"/>
<path class="l" d="M418.8 411.3l2.6 2M411.8 412.9l7-1.6"/>
<path d="M241 429.7l3.6 2.4 2.6 4.1-3.6-2.5zM404.8 415l7-2.1 2.6 2.3-7 2.3z"/>
<path class="l" d="M404.8 415l7-2.1"/>
<path d="M237.3 427.6l3.7 2.1 2.6 4-3.7-2.3z"/>
<path class="l" d="M237.3 427.6l2.6 3.8"/>
<path d="M397.8 417.6l7-2.6 2.6 2.5-7 3z"/>
<path class="l" d="M397.8 417.6l7-2.6"/>
<path d="M390.8 420.8l7-3.2 2.6 2.9-7 3.5z"/>
<path class="l" d="M397.8 417.6l2.6 2.9M390.8 420.8l7-3.2"/>
<path d="M383.8 424.6l7-3.8 2.6 3.2-7 4z"/>
<path class="l" d="M383.8 424.6l7-3.8"/>
<path d="M376.8 428.9l7-4.3 2.6 3.4-7 4.5z"/>
<path class="l" d="M376.8 428.9l7-4.3"/>
<path d="M369.8 433.5l7-4.6 2.6 3.6-7 4.8z"/>
<path class="l" d="M376.8 428.9l2.6 3.6M369.8 433.5l7-4.6"/>
<path d="M362.8 438.5l7-5 2.6 3.8-7 5.1z"/>
<path class="l" d="M362.8 438.5l7-5"/>
<path d="M355.8 443.6l7-5.1 2.6 3.9-7 5.5z"/>
<path class="l" d="M355.8 443.6l7-5.1"/>
<path d="M348.8 448.7l7-5.1 2.6 4.3-7 5.8z"/>
<path class="l" d="M355.8 443.6l2.6 4.3M348.8 448.7l7-5.1"/>
<path d="M341.8 453.7l7-5 2.6 5-7 5.7z"/>
<path class="l" d="M341.8 453.7l7-5"/>
<path d="M334.8 458.3l7-4.6 2.6 5.7-7 5.2z"/>
<path class="l" d="M334.8 458.3l7-4.6"/>
<path d="M327.8 462.1l7-3.8 2.6 6.3-7 4.3z"/>
<path class="l" d="M334.8 458.3l2.6 6.3M327.8 462.1l7-3.8"/>
<path d="M320.8 465l7-2.9 2.6 6.8-7 3.3z"/>
<path class="l" d="M320.8 465l7-2.9"/>
<path d="M313.8 466.9l7-1.9 2.6 7.2-7 2.1z"/>
<path class="l" d="M313.8 466.9l7-1.9"/>
<path d="M306.8 467.7l7-.8 2.6 7.4-7 .8z"/>
<path class="l" d="M313.8 466.9l2.6 7.4M306.8 467.7l7-.8"/>
<path d="M299.8 467.4l7 .3 2.6 7.4-7-.6z"/>
<path class="l" d="M299.8 467.4l7 .3"/>
<path d="M292.8 465.8l7 1.6 2.6 7.1-7-1.8z"/>
<path class="l" d="M292.8 465.8l7 1.6"/>
<path d="M285.8 463.1l7 2.7 2.6 6.9-7-3.2z"/>
<path class="l" d="M292.8 465.8l2.6 6.9M285.8 463.1l7 2.7"/>
<path d="M278.8 459.4l7 3.7 2.6 6.4-7-4.2z"/>
<path class="l" d="M278.8 459.4l7 3.7"/>
<path d="M271.8 454.9l7 4.5 2.6 5.9-7-5.1z"/>
<path class="l" d="M271.8 454.9l7 4.5"/>
<path d="M264.8 449.8l7 5.1 2.6 5.3-7-5.6z"/>
<path class="l" d="M271.8 454.9l2.6 5.3M264.8 449.8l7 5.1"/>
<path d="M257.8 444.3l7 5.5 2.6 4.8-7-5.9z"/>
<path class="l" d="M257.8 444.3l7 5.5"/>
<path d="M435.4 410.8l7-.7 2.6 2.1-7 .5z"/>
<path class="l" d="M442.4 410.1l2.6 2.1"/>
<path d="M428.4 411.9l7-1.1 2.6 1.9-7 1zM250.8 438.9l7 5.4 2.6 4.4-7-5.9z"/>
<path class="l" d="M250.8 438.9l7 5.4"/>
<path d="M421.4 413.3l7-1.4 2.6 1.8-7 1.5zM247.2 436.2l3.6 2.7 2.6 3.9-3.6-2.9z"/>
<path class="l" d="M250.8 438.9l2.6 3.9M247.2 436.2l3.6 2.7"/>
<path d="M414.4 415.2l7-1.9 2.6 1.9-7 2.1z"/>
<path class="l" d="M421.4 413.3l2.6 1.9"/>
<path d="M243.6 433.7l3.6 2.5 2.6 3.7-3.6-2.7z"/>
<path class="l" d="M243.6 433.7l3.6 2.5"/>
<path d="M407.4 417.5l7-2.3 2.6 2.1-7 2.6zM239.9 431.4l3.7 2.3 2.6 3.5-3.7-2.5z"/>
<path class="l" d="M239.9 431.4l2.6 3.3M239.9 431.4l3.7 2.3"/>
<path d="M400.4 420.5l7-3 2.6 2.4-7 3.2zM393.4 424l7-3.5 2.6 2.6-7 3.8z"/>
<path class="l" d="M400.4 420.5l2.6 2.6"/>
<path d="M386.4 428l7-4 2.6 2.9-7 4.2zM379.4 432.5l7-4.5 2.6 3.1-7 4.6zM372.4 437.3l7-4.8 2.6 3.2-7 4.9z"/>
<path class="l" d="M379.4 432.5l2.6 3.2"/>
<path d="M365.4 442.4l7-5.1 2.6 3.3-7 5.3zM358.4 447.9l7-5.5 2.6 3.5-7 5.9zM351.4 453.7l7-5.8 2.6 3.9-7 6.3z"/>
<path class="l" d="M358.4 447.9l2.6 3.9"/>
<path d="M344.4 459.4l7-5.7 2.6 4.4-7 6.3zM337.4 464.6l7-5.2 2.6 5-7 5.8zM330.4 468.9l7-4.3 2.6 5.6-7 4.8z"/>
<path class="l" d="M337.4 464.6l2.6 5.6"/>
<path d="M323.4 472.2l7-3.3 2.6 6.1-7 3.6zM316.4 474.3l7-2.1 2.6 6.4-7 2.2zM309.4 475.1l7-.8 2.6 6.5-7 .7z"/>
<path class="l" d="M316.4 474.3l2.6 6.5"/>
<path d="M302.4 474.5l7 .6 2.6 6.4-7-.8zM295.4 472.7l7 1.8 2.6 6.2-7-2.2zM288.4 469.5l7 3.2 2.6 5.8-7-3.6z"/>
<path class="l" d="M295.4 472.7l2.6 5.8"/>
<path d="M281.4 465.3l7 4.2 2.6 5.4-7-4.7zM274.4 460.2l7 5.1 2.6 4.9-7-5.5zM267.4 454.6l7 5.6 2.6 4.5-7-6z"/>
<path class="l" d="M274.4 460.2l2.6 4.5"/>
<path d="M260.4 448.7l7 5.9 2.6 4.1-7-6.2zM438 412.7l7-.5 2.6 2.1-7 .3z"/>
<path class="l" d="M445 412.2l2.6 2.1"/>
<path d="M253.4 442.8l7 5.9 2.6 3.8-7-6.1zM431 413.7l7-1 2.6 1.9-7 1zM424 415.2l7-1.5 2.6 1.9-7 1.6zM249.8 439.9l3.6 2.9 2.6 3.6-3.6-3.1z"/>
<path class="l" d="M253.4 442.8l2.6 3.6"/>
<path d="M417 417.3l7-2.1 2.6 2-7 2.2z"/>
<path class="l" d="M424 415.2l2.6 2"/>
<path d="M246.2 437.2l3.6 2.7 2.6 3.4-3.6-2.9zM410 419.9l7-2.6 2.6 2.1-7 2.8zM242.5 434.7l3.7 2.5 2.6 3.2-3.7-2.7z"/>
<path class="l" d="M242.5 434.7l2.6 3"/>
<path d="M403 423.1l7-3.2 2.6 2.3-7 3.3zM396 426.9l7-3.8 2.6 2.4-7 3.9z"/>
<path class="l" d="M403 423.1l2.6 2.4"/>
<path d="M389 431.1l7-4.2 2.6 2.5-7 4.4zM382 435.7l7-4.6 2.6 2.7-7 4.8zM375 440.6l7-4.9 2.6 2.9-7 5.2z"/>
<path class="l" d="M382 435.7l2.6 2.9"/>
<path d="M368 445.9l7-5.3 2.6 3.2-7 5.6zM361 451.8l7-5.9 2.6 3.5-7 6.1zM354 458.1l7-6.3 2.6 3.7-7 6.7z"/>
<path class="l" d="M361 451.8l2.6 3.7"/>
<path d="M347 464.4l7-6.3 2.6 4.1-7 6.8zM340 470.2l7-5.8 2.6 4.6-7 6.2zM333 475l7-4.8 2.6 5-7 5.1z"/>
<path class="l" d="M340 470.2l2.6 5"/>
<path d="M326 478.6l7-3.6 2.6 5.3-7 3.8zM319 480.8l7-2.2 2.6 5.5-7 2.3zM312 481.5l7-.7 2.6 5.6-7 .7z"/>
<path class="l" d="M319 480.8l2.6 5.6"/>
<path d="M305 480.7l7 .8 2.6 5.6-7-1zM298 478.5l7 2.2 2.6 5.4-7-2.5zM291 474.9l7 3.6 2.6 5.1-7-3.9z"/>
<path class="l" d="M298 478.5l2.6 5.1"/>
<path d="M284 470.2l7 4.7 2.6 4.8-7-5zM277 464.7l7 5.5 2.6 4.5-7-5.8zM270 458.7l7 6 2.6 4.2-7-6.3z"/>
<path class="l" d="M277 464.7l2.6 4.2"/>
<path d="M263 452.5l7 6.2 2.6 3.9-7-6.5zM440.6 414.6l7-.3 2.6 2-7 .4z"/>
<path class="l" d="M447.6 414.3l2.6 2M440.6 414.6l7-.3"/>
<path d="M256 446.4l7 6.1 2.6 3.6-7-6.4zM433.6 415.6l7-1 2.6 2.1-7 1.1z"/>
<path class="l" d="M433.6 415.6l7-1"/>
<path d="M426.6 417.2l7-1.6 2.6 2.2-7 1.6z"/>
<path class="l" d="M426.6 417.2l7-1.6"/>
<path d="M252.4 443.3l3.6 3.1 2.6 3.3-3.6-3.2z"/>
<path class="l" d="M256 446.4l2.6 3.3"/>
<path d="M419.6 419.4l7-2.2 2.6 2.2-7 2.2z"/>
<path class="l" d="M426.6 417.2l2.6 2.2M419.6 419.4l7-2.2"/>
<path d="M248.8 440.4l3.6 2.9 2.6 3.2-3.6-3zM412.6 422.2l7-2.8 2.6 2.2-7 2.8z"/>
<path class="l" d="M412.6 422.2l7-2.8"/>
<path d="M245.1 437.7l3.7 2.7 2.6 3.1-3.7-2.9z"/>
<path class="l" d="M245.1 437.7l2.6 2.9"/>
<path d="M405.6 425.5l7-3.3 2.6 2.2-7 3.3z"/>
<path class="l" d="M405.6 425.5l7-3.3"/>
<path d="M398.6 429.4l7-3.9 2.6 2.2-7 4z"/>
<path class="l" d="M405.6 425.5l2.6 2.2M398.6 429.4l7-3.9"/>
<path d="M391.6 433.8l7-4.4 2.6 2.3-7 4.5z"/>
<path class="l" d="M391.6 433.8l7-4.4"/>
<path d="M384.6 438.6l7-4.8 2.6 2.4-7 5z"/>
<path class="l" d="M384.6 438.6l7-4.8"/>
<path d="M377.6 443.8l7-5.2 2.6 2.6-7 5.7z"/>
<path class="l" d="M384.6 438.6l2.6 2.6M377.6 443.8l7-5.2"/>
<path d="M370.6 449.4l7-5.6 2.6 3.1-7 6.1z"/>
<path class="l" d="M370.6 449.4l7-5.6"/>
<path d="M363.6 455.5l7-6.1 2.6 3.6-7 6.5z"/>
<path class="l" d="M363.6 455.5l7-6.1"/>
<path d="M356.6 462.2l7-6.7 2.6 4-7 6.9z"/>
<path class="l" d="M363.6 455.5l2.6 4M356.6 462.2l7-6.7"/>
<path d="M349.6 469l7-6.8 2.6 4.2-7 6.8z"/>
<path class="l" d="M349.6 469l7-6.8"/>
<path d="M342.6 475.2l7-6.2 2.6 4.2-7 6.3z"/>
<path class="l" d="M342.6 475.2l7-6.2"/>
<path d="M335.6 480.3l7-5.1 2.6 4.3-7 5.3z"/>
<path class="l" d="M342.6 475.2l2.6 4.3M335.6 480.3l7-5.1"/>
<path d="M328.6 484.1l7-3.8 2.6 4.5-7 4z"/>
<path class="l" d="M328.6 484.1l7-3.8"/>
<path d="M321.6 486.4l7-2.3 2.6 4.7-7 2.5z"/>
<path class="l" d="M321.6 486.4l7-2.3"/>
<path d="M314.6 487.1l7-.7 2.6 4.9-7 .7z"/>
<path class="l" d="M321.6 486.4l2.6 4.9M314.6 487.1l7-.7"/>
<path d="M307.6 486.1l7 1 2.6 4.9-7-1.1z"/>
<path class="l" d="M307.6 486.1l7 1"/>
<path d="M300.6 483.6l7 2.5 2.6 4.8-7-2.6z"/>
<path class="l" d="M300.6 483.6l7 2.5"/>
<path d="M293.6 479.7l7 3.9 2.6 4.7-7-4.1z"/>
<path class="l" d="M300.6 483.6l2.6 4.7M293.6 479.7l7 3.9"/>
<path d="M286.6 474.7l7 5 2.6 4.5-7-5.3z"/>
<path class="l" d="M286.6 474.7l7 5"/>
<path d="M279.6 468.9l7 5.8 2.6 4.2-7-6z"/>
<path class="l" d="M279.6 468.9l7 5.8"/>
<path d="M272.6 462.6l7 6.3 2.6 4-7-6.6z"/>
<path class="l" d="M279.6 468.9l2.6 4M272.6 462.6l7 6.3"/>
<path d="M265.6 456.1l7 6.5 2.6 3.7-7-6.7z"/>
<path class="l" d="M265.6 456.1l7 6.5"/>
<path d="M443.2 416.7l7-.4 2.6 1.9-7 .7z"/>
<path class="l" d="M450.2 416.3l2.6 1.9"/>
<path d="M258.6 449.7l7 6.4 2.6 3.5-7-6.6z"/>
<path class="l" d="M258.6 449.7l7 6.4"/>
<path d="M436.2 417.8l7-1.1 2.6 2.2-7 1.2zM429.2 419.4l7-1.6 2.6 2.3-7 1.6zM255 446.5l3.6 3.2 2.6 3.3-3.6-3.3z"/>
<path class="l" d="M258.6 449.7l2.6 3.3M255 446.5l3.6 3.2"/>
<path d="M422.2 421.6l7-2.2 2.6 2.3-7 2.1z"/>
<path class="l" d="M429.2 419.4l2.6 2.3"/>
<path d="M251.4 443.5l3.6 3 2.6 3.2-3.6-3.2z"/>
<path class="l" d="M251.4 443.5l3.6 3"/>
<path d="M415.2 424.4l7-2.8 2.6 2.2-7 2.7zM247.7 440.6l3.7 2.9 2.6 3-3.7-3.1z"/>
<path class="l" d="M247.7 440.6l2.6 2.8M247.7 440.6l3.7 2.9"/>
<path d="M408.2 427.7l7-3.3 2.6 2.1-7 3.2zM401.2 431.7l7-4 2.6 2-7 3.9z"/>
<path class="l" d="M408.2 427.7l2.6 2"/>
<path d="M394.2 436.2l7-4.5 2.6 1.9-7 4.6zM387.2 441.2l7-5 2.6 2-7 5.4zM380.2 446.9l7-5.7 2.6 2.4-7 6.1z"/>
<path class="l" d="M387.2 441.2l2.6 2.4"/>
<path d="M373.2 453l7-6.1 2.6 2.8-7 6.7zM366.2 459.5l7-6.5 2.6 3.4-7 6.9zM359.2 466.4l7-6.9 2.6 3.8-7 7z"/>
<path class="l" d="M366.2 459.5l2.6 3.8"/>
<path d="M352.2 473.2l7-6.8 2.6 3.9-7 6.6zM345.2 479.5l7-6.3 2.6 3.7-7 6.1zM338.2 484.8l7-5.3 2.6 3.5-7 5.4z"/>
<path class="l" d="M345.2 479.5l2.6 3.5"/>
<path d="M331.2 488.8l7-4 2.6 3.6-7 4.2zM324.2 491.3l7-2.5 2.6 3.8-7 2.6zM317.2 492l7-.7 2.6 3.9-7 .8z"/>
<path class="l" d="M324.2 491.3l2.6 3.9"/>
<path d="M310.2 490.9l7 1.1 2.6 4-7-1.1zM303.2 488.3l7 2.6 2.6 4-7-2.7zM296.2 484.2l7 4.1 2.6 3.9-7-4.2z"/>
<path class="l" d="M303.2 488.3l2.6 3.9"/>
<path d="M289.2 478.9l7 5.3 2.6 3.8-7-5.3zM282.2 472.9l7 6 2.6 3.8-7-6.2zM275.2 466.3l7 6.6 2.6 3.6-7-6.7z"/>
<path class="l" d="M282.2 472.9l2.6 3.6"/>
<path d="M268.2 459.6l7 6.7 2.6 3.5-7-7zM445.8 418.9l7-.7 2.6 1.8-7 1z"/>
<path class="l" d="M452.8 418.2l2.6 1.8"/>
<path d="M261.2 453l7 6.6 2.6 3.2-7-6.8zM438.8 420.1l7-1.2 2.6 2.1-7 1.3zM257.6 449.7l3.6 3.3 2.6 3-3.6-3.4z"/>
<path class="l" d="M261.2 453l2.6 3"/>
<path d="M431.8 421.7l7-1.6 2.6 2.2-7 1.6zM254 446.5l3.6 3.2 2.6 2.9-3.6-3.3zM424.8 423.8l7-2.1 2.6 2.2-7 2z"/>
<path class="l" d="M431.8 421.7l2.6 2.2"/>
<path d="M417.8 426.5l7-2.7 2.6 2.1-7 2.5zM250.3 443.4l3.7 3.1 2.6 2.8-3.7-3.1z"/>
<path class="l" d="M250.3 443.4l2.6 2.8"/>
<path d="M410.8 429.7l7-3.2 2.6 1.9-7 3.1zM403.8 433.6l7-3.9 2.6 1.8-7 3.8z"/>
<path class="l" d="M410.8 429.7l2.6 1.8"/>
<path d="M396.8 438.2l7-4.6 2.6 1.7-7 4.6zM389.8 443.6l7-5.4 2.6 1.7-7 5.6zM382.8 449.7l7-6.1 2.6 1.9-7 6.5z"/>
<path class="l" d="M389.8 443.6l2.6 1.9"/>
<path d="M375.8 456.4l7-6.7 2.6 2.3-7 7.2zM368.8 463.3l7-6.9 2.6 2.8-7 7.2zM361.8 470.3l7-7 2.6 3.1-7 7z"/>
<path class="l" d="M368.8 463.3l2.6 3.1"/>
<path d="M354.8 476.9l7-6.6 2.6 3.1-7 6.5zM347.8 483l7-6.1 2.6 3-7 6zM340.8 488.4l7-5.4 2.6 2.9-7 5.3z"/>
<path class="l" d="M347.8 483l2.6 2.9"/>
<path d="M333.8 492.6l7-4.2 2.6 2.8-7 4.2zM326.8 495.2l7-2.6 2.6 2.8-7 2.7zM319.8 496l7-.8 2.6 2.9-7 .8z"/>
<path class="l" d="M326.8 495.2l2.6 2.9"/>
<path d="M312.8 494.9l7 1.1 2.6 2.9-7-1zM305.8 492.2l7 2.7 2.6 3-7-2.8zM298.8 488l7 4.2 2.6 2.9-7-4.2z"/>
<path class="l" d="M305.8 492.2l2.6 2.9"/>
<path d="M291.8 482.7l7 5.3 2.6 2.9-7-5.4zM284.8 476.5l7 6.2 2.6 2.8-7-6.3zM277.8 469.8l7 6.7 2.6 2.7-7-6.8z"/>
<path class="l" d="M284.8 476.5l2.6 2.7"/>
<path d="M270.8 462.8l7 7 2.6 2.6-7-7zM448.4 421l7-1 2.6 1.7-7 1.1z"/>
<path class="l" d="M455.4 420l2.6 1.7M448.4 421l7-1"/>
<path d="M263.8 456l7 6.8 2.6 2.6-7-6.9zM441.4 422.3l7-1.3 2.6 1.8-7 1.3z"/>
<path class="l" d="M441.4 422.3l7-1.3"/>
<path d="M260.2 452.6l3.6 3.4 2.6 2.5-3.6-3.5z"/>
<path class="l" d="M263.8 456l2.6 2.5"/>
<path d="M434.4 423.9l7-1.6 2.6 1.8-7 1.6z"/>
<path class="l" d="M434.4 423.9l7-1.6"/>
<path d="M256.6 449.3l3.6 3.3 2.6 2.4-3.6-3.3zM427.4 425.9l7-2 2.6 1.8-7 1.9z"/>
<path class="l" d="M434.4 423.9l2.6 1.8M427.4 425.9l7-2"/>
<path d="M420.4 428.4l7-2.5 2.6 1.7-7 2.5z"/>
<path class="l" d="M420.4 428.4l7-2.5"/>
<path d="M252.9 446.2l3.7 3.1 2.6 2.4-3.7-3.2z"/>
<path class="l" d="M252.9 446.2l2.6 2.3"/>
<path d="M413.4 431.5l7-3.1 2.6 1.7-7 3z"/>
<path class="l" d="M413.4 431.5l7-3.1"/>
<path d="M406.4 435.3l7-3.8 2.6 1.6-7 3.8z"/>
<path class="l" d="M413.4 431.5l2.6 1.6M406.4 435.3l7-3.8"/>
<path d="M399.4 439.9l7-4.6 2.6 1.6-7 4.5z"/>
<path class="l" d="M399.4 439.9l7-4.6"/>
<path d="M392.4 445.5l7-5.6 2.6 1.5-7 5.7z"/>
<path class="l" d="M392.4 445.5l7-5.6"/>
<path d="M385.4 452l7-6.5 2.6 1.6-7 6.6z"/>
<path class="l" d="M392.4 445.5l2.6 1.6M385.4 452l7-6.5"/>
<path d="M378.4 459.2l7-7.2 2.6 1.7-7 7.3z"/>
<path class="l" d="M378.4 459.2l7-7.2"/>
<path d="M371.4 466.4l7-7.2 2.6 1.8-7 7.4z"/>
<path class="l" d="M371.4 466.4l7-7.2"/>
<path d="M364.4 473.4l7-7 2.6 2-7 7z"/>
<path class="l" d="M371.4 466.4l2.6 2M364.4 473.4l7-7"/>
<path d="M357.4 479.9l7-6.5 2.6 2-7 6.6z"/>
<path class="l" d="M357.4 479.9l7-6.5"/>
<path d="M350.4 485.9l7-6 2.6 2.1-7 6z"/>
<path class="l" d="M350.4 485.9l7-6"/>
<path d="M343.4 491.2l7-5.3 2.6 2.1-7 5.2z"/>
<path class="l" d="M350.4 485.9l2.6 2.1M343.4 491.2l7-5.3"/>
<path d="M336.4 495.4l7-4.2 2.6 2-7 4.2z"/>
<path class="l" d="M336.4 495.4l7-4.2"/>
<path d="M329.4 498.1l7-2.7 2.6 2-7 2.5z"/>
<path class="l" d="M329.4 498.1l7-2.7"/>
<path d="M322.4 498.9l7-.8 2.6 1.8-7 .8z"/>
<path class="l" d="M329.4 498.1l2.6 1.8M322.4 498.9l7-.8"/>
<path d="M315.4 497.9l7 1 2.6 1.8-7-1.1z"/>
<path class="l" d="M315.4 497.9l7 1"/>
<path d="M308.4 495.1l7 2.8 2.6 1.7-7-2.8z"/>
<path class="l" d="M308.4 495.1l7 2.8"/>
<path d="M301.4 490.9l7 4.2 2.6 1.7-7-4.2z"/>
<path class="l" d="M308.4 495.1l2.6 1.7M301.4 490.9l7 4.2"/>
<path d="M294.4 485.5l7 5.4 2.6 1.7-7-5.4z"/>
<path class="l" d="M294.4 485.5l7 5.4"/>
<path d="M287.4 479.2l7 6.3 2.6 1.7-7-6.3z"/>
<path class="l" d="M287.4 479.2l7 6.3"/>
<path d="M280.4 472.4l7 6.8 2.6 1.7-7-6.8z"/>
<path class="l" d="M287.4 479.2l2.6 1.7M280.4 472.4l7 6.8"/>
<path d="M273.4 465.4l7 7 2.6 1.7-7-7z"/>
<path class="l" d="M273.4 465.4l7 7"/>
<path d="M451 422.8l7-1.1 2.6 1.7-7 1.1z"/>
<path class="l" d="M458 421.7l2.6 1.7"/>
<path d="M266.4 458.5l7 6.9 2.6 1.7-7-6.9z"/>
<path class="l" d="M266.4 458.5l7 6.9"/>
<path d="M444 424.1l7-1.3 2.6 1.7-7 1.2zM262.8 455l3.6 3.5 2.6 1.7-3.6-3.4z"/>
<path class="l" d="M266.4 458.5l2.6 1.7M262.8 455l3.6 3.5"/>
<path d="M437 425.7l7-1.6 2.6 1.6-7 1.5zM259.2 451.7l3.6 3.3 2.6 1.8-3.6-3.3z"/>
<path class="l" d="M259.2 451.7l3.6 3.3"/>
<path d="M430 427.6l7-1.9 2.6 1.5-7 2z"/>
<path class="l" d="M437 425.7l2.6 1.5"/>
<path d="M255.5 448.5l3.7 3.2 2.6 1.8-3.7-3.2z"/>
<path class="l" d="M255.5 448.5l2.6 1.8M255.5 448.5l3.7 3.2"/>
<path d="M423 430.1l7-2.5 2.6 1.6-7 2.4zM416 433.1l7-3 2.6 1.5-7 3zM409 436.9l7-3.8 2.6 1.5-7 3.7z"/>
<path class="l" d="M416 433.1l2.6 1.5"/>
<path d="M402 441.4l7-4.5 2.6 1.4-7 4.5zM395 447.1l7-5.7 2.6 1.4-7 5.5zM388 453.7l7-6.6 2.6 1.2-7 6.5z"/>
<path class="l" d="M395 447.1l2.6 1.2"/>
<path d="M381 461l7-7.3 2.6 1.1-7 7.2zM374 468.4l7-7.4 2.6 1-7 7.4zM367 475.4l7-7 2.6 1-7 7.2z"/>
<path class="l" d="M374 468.4l2.6 1"/>
<path d="M360 482l7-6.6 2.6 1.2-7 6.7zM353 488l7-6 2.6 1.3-7 6.1zM346 493.2l7-5.2 2.6 1.4-7 5.1z"/>
<path class="l" d="M353 488l2.6 1.4"/>
<path d="M339 497.4l7-4.2 2.6 1.3-7 3.9zM332 499.9l7-2.5 2.6 1-7 2.4zM325 500.7l7-.8 2.6 .9-7 .6z"/>
<path class="l" d="M332 499.9l2.6 .9"/>
<path d="M318 499.6l7 1.1 2.6 .7-7-1.1zM311 496.8l7 2.8 2.6 .7-7-2.8zM304 492.6l7 4.2 2.6 .7-7-4.2z"/>
<path class="l" d="M311 496.8l2.6 .7"/>
<path d="M297 487.2l7 5.4 2.6 .7-7-5.4zM290 480.9l7 6.3 2.6 .7-7-6.2zM283 474.1l7 6.8 2.6 .8-7-6.7z"/>
<path class="l" d="M290 480.9l2.6 .8"/>
<path d="M276 467.1l7 7 2.6 .9-7-6.8zM453.6 424.5l7-1.1 2.6 1.8-7 .9z"/>
<path class="l" d="M460.6 423.4l2.6 1.8"/>
<path d="M269 460.2l7 6.9 2.6 1.1-7-6.8zM446.6 425.7l7-1.2 2.6 1.6-7 1.1zM265.4 456.8l3.6 3.4 2.6 1.2-3.6-3.3z"/>
<path class="l" d="M269 460.2l2.6 1.2"/>
<path d="M439.6 427.2l7-1.5 2.6 1.5-7 1.5zM261.8 453.5l3.6 3.3 2.6 1.3-3.6-3.3zM432.6 429.2l7-2 2.6 1.5-7 1.9z"/>
<path class="l" d="M439.6 427.2l2.6 1.5"/>
<path d="M258.1 450.3l3.7 3.2 2.6 1.3-3.7-3z"/>
<path class="l" d="M258.1 450.3l2.6 1.5"/>
<path d="M425.6 431.6l7-2.4 2.6 1.4-7 2.4zM418.6 434.6l7-3 2.6 1.4-7 3zM411.6 438.3l7-3.7 2.6 1.4-7 3.7z"/>
<path class="l" d="M418.6 434.6l2.6 1.4"/>
<path d="M404.6 442.8l7-4.5 2.6 1.4-7 4.4zM397.6 448.3l7-5.5 2.6 1.3-7 5.3zM390.6 454.8l7-6.5 2.6 1.1-7 6.3z"/>
<path class="l" d="M397.6 448.3l2.6 1.1"/>
<path d="M383.6 462l7-7.2 2.6 .9-7 6.9zM376.6 469.4l7-7.4 2.6 .6-7 7.2zM369.6 476.6l7-7.2 2.6 .4-7 7.2z"/>
<path class="l" d="M376.6 469.4l2.6 .4"/>
<path d="M362.6 483.3l7-6.7 2.6 .4-7 6.9zM355.6 489.4l7-6.1 2.6 .6-7 6.1zM348.6 494.5l7-5.1 2.6 .6-7 5.1z"/>
<path class="l" d="M355.6 489.4l2.6 .6"/>
<path d="M341.6 498.4l7-3.9 2.6 .6-7 3.7zM334.6 500.8l7-2.4 2.6 .4-7 2.2zM327.6 501.4l7-.6 2.6 .2-7 .5z"/>
<path class="l" d="M334.6 500.8l2.6 .2"/>
<path d="M320.6 500.3l7 1.1 2.6 .1-7-1.2zM313.6 497.5l7 2.8 2.6 0-7-2.7zM306.6 493.3l7 4.2 2.6 .1-7-4.2z"/>
<path class="l" d="M313.6 497.5l2.6 .1"/>
<path d="M299.6 487.9l7 5.4 2.6 .1-7-5.3zM292.6 481.7l7 6.2 2.6 .2-7-6.1zM285.6 475l7 6.7 2.6 .3-7-6.4z"/>
<path class="l" d="M292.6 481.7l2.6 .3"/>
<path d="M278.6 468.2l7 6.8 2.6 .6-7-6.7zM456.2 426.1l7-.9 2.6 1.8-7 .7z"/>
<path class="l" d="M463.2 425.2l2.6 1.8M456.2 426.1l7-.9"/>
<path d="M271.6 461.4l7 6.8 2.6 .7-7-6.5zM449.2 427.2l7-1.1 2.6 1.6-7 1z"/>
<path class="l" d="M449.2 427.2l7-1.1"/>
<path d="M268 458.1l3.6 3.3 2.6 1-3.6-3.3z"/>
<path class="l" d="M271.6 461.4l2.6 1"/>
<path d="M442.2 428.7l7-1.5 2.6 1.5-7 1.4z"/>
<path class="l" d="M442.2 428.7l7-1.5"/>
<path d="M264.4 454.8l3.6 3.3 2.6 1-3.6-3.1zM435.2 430.6l7-1.9 2.6 1.4-7 1.9z"/>
<path class="l" d="M442.2 428.7l2.6 1.4M435.2 430.6l7-1.9"/>
<path d="M260.7 451.8l3.7 3 2.6 1.2-3.7-3z"/>
<path class="l" d="M260.7 451.8l2.6 1.2"/>
<path d="M428.2 433l7-2.4 2.6 1.4-7 2.4z"/>
<path class="l" d="M428.2 433l7-2.4"/>
<path d="M421.2 436l7-3 2.6 1.4-7 3z"/>
<path class="l" d="M421.2 436l7-3"/>
<path d="M414.2 439.7l7-3.7 2.6 1.4-7 3.7z"/>
<path class="l" d="M421.2 436l2.6 1.4M414.2 439.7l7-3.7"/>
<path d="M407.2 444.1l7-4.4 2.6 1.4-7 4.3z"/>
<path class="l" d="M407.2 444.1l7-4.4"/>
<path d="M400.2 449.4l7-5.3 2.6 1.3-7 5.1z"/>
<path class="l" d="M400.2 449.4l7-5.3"/>
<path d="M393.2 455.7l7-6.3 2.6 1.1-7 5.9z"/>
<path class="l" d="M400.2 449.4l2.6 1.1M393.2 455.7l7-6.3"/>
<path d="M386.2 462.6l7-6.9 2.6 .7-7 6.5z"/>
<path class="l" d="M386.2 462.6l7-6.9"/>
<path d="M379.2 469.8l7-7.2 2.6 .3-7 6.9z"/>
<path class="l" d="M379.2 469.8l7-7.2"/>
<path d="M372.2 477l7-7.2 2.6 0-7 7.1z"/>
<path class="l" d="M379.2 469.8l2.6 0M372.2 477l7-7.2"/>
<path d="M365.2 483.9l7-6.9 2.6-.1-7 6.9z"/>
<path class="l" d="M365.2 483.9l7-6.9"/>
<path d="M358.2 490l7-6.1 2.6-.1-7 6.1z"/>
<path class="l" d="M358.2 490l7-6.1"/>
<path d="M351.2 495.1l7-5.1 2.6-.1-7 5z"/>
<path class="l" d="M358.2 490l2.6-.1M351.2 495.1l7-5.1"/>
<path d="M344.2 498.8l7-3.7 2.6-.2-7 3.7z"/>
<path class="l" d="M344.2 498.8l7-3.7"/>
<path d="M337.2 501l7-2.2 2.6-.2-7 2.2z"/>
<path class="l" d="M337.2 501l7-2.2"/>
<path d="M330.2 501.5l7-.5 2.6-.2-7 .4z"/>
<path class="l" d="M337.2 501l2.6-.2M330.2 501.5l7-.5"/>
<path d="M323.2 500.3l7 1.2 2.6-.3-7-1.1z"/>
<path class="l" d="M323.2 500.3l7 1.2"/>
<path d="M316.2 497.6l7 2.7 2.6-.2-7-2.6z"/>
<path class="l" d="M316.2 497.6l7 2.7"/>
<path d="M309.2 493.4l7 4.2 2.6-.1-7-4.1z"/>
<path class="l" d="M316.2 497.6l2.6-.1M309.2 493.4l7 4.2"/>
<path d="M302.2 488.1l7 5.3 2.6 0-7-5.1z"/>
<path class="l" d="M302.2 488.1l7 5.3"/>
<path d="M295.2 482l7 6.1 2.6 .2-7-5.9z"/>
<path class="l" d="M295.2 482l7 6.1"/>
<path d="M288.2 475.6l7 6.4 2.6 .4-7-6.3z"/>
<path class="l" d="M295.2 482l2.6 .4M288.2 475.6l7 6.4"/>
<path d="M281.2 468.9l7 6.7 2.6 .5-7-6.4z"/>
<path class="l" d="M281.2 468.9l7 6.7"/>
<path d="M458.8 427.7l7-.7 2.6 2.1-7 .4z"/>
<path class="l" d="M465.8 427l2.6 2.1"/>
<path d="M274.2 462.4l7 6.5 2.6 .8-7-6.4z"/>
<path class="l" d="M274.2 462.4l7 6.5"/>
<path d="M451.8 428.7l7-1 2.6 1.8-7 .9zM270.6 459.1l3.6 3.3 2.6 .9-3.6-3.2z"/>
<path class="l" d="M274.2 462.4l2.6 .9M270.6 459.1l3.6 3.3"/>
<path d="M444.8 430.1l7-1.4 2.6 1.7-7 1.4zM267 456l3.6 3.1 2.6 1-3.6-3z"/>
<path class="l" d="M267 456l3.6 3.1"/>
<path d="M437.8 432l7-1.9 2.6 1.7-7 1.8z"/>
<path class="l" d="M444.8 430.1l2.6 1.7"/>
<path d="M430.8 434.4l7-2.4 2.6 1.6-7 2.4zM263.3 453l3.7 3 2.6 1.1-3.7-2.9z"/>
<path class="l" d="M263.3 453l2.6 1.2M263.3 453l3.7 3"/>
<path d="M423.8 437.4l7-3 2.6 1.6-7 3zM416.8 441.1l7-3.7 2.6 1.6-7 3.6z"/>
<path class="l" d="M423.8 437.4l2.6 1.6"/>
<path d="M409.8 445.4l7-4.3 2.6 1.5-7 4.2zM402.8 450.5l7-5.1 2.6 1.4-7 4.9zM395.8 456.4l7-5.9 2.6 1.2-7 5.6z"/>
<path class="l" d="M402.8 450.5l2.6 1.2"/>
<path d="M388.8 462.9l7-6.5 2.6 .9-7 6.1zM381.8 469.8l7-6.9 2.6 .5-7 6.5zM374.8 476.9l7-7.1 2.6 .1-7 6.6z"/>
<path class="l" d="M381.8 469.8l2.6 .1"/>
<path d="M367.8 483.8l7-6.9 2.6-.4-7 6.6zM360.8 489.9l7-6.1 2.6-.7-7 5.9zM353.8 494.9l7-5 2.6-.9-7 5.1z"/>
<path class="l" d="M360.8 489.9l2.6-.9"/>
<path d="M346.8 498.6l7-3.7 2.6-.8-7 3.8zM339.8 500.8l7-2.2 2.6-.7-7 2.4zM332.8 501.2l7-.4 2.6-.5-7 .6z"/>
<path class="l" d="M339.8 500.8l2.6-.5"/>
<path d="M325.8 500.1l7 1.1 2.6-.3-7-1zM318.8 497.5l7 2.6 2.6-.2-7-2.4zM311.8 493.4l7 4.1 2.6 0-7-3.9z"/>
<path class="l" d="M318.8 497.5l2.6 0"/>
<path d="M304.8 488.3l7 5.1 2.6 .2-7-4.8zM297.8 482.4l7 5.9 2.6 .5-7-5.7zM290.8 476.1l7 6.3 2.6 .7-7-6.1z"/>
<path class="l" d="M297.8 482.4l2.6 .7"/>
<path d="M283.8 469.7l7 6.4 2.6 .9-7-6.3zM461.4 429.5l7-.4 2.6 2.2-7 .4z"/>
<path class="l" d="M468.4 429.1l2.6 2.2M464 431.7l7-.4"/>
<path d="M276.8 463.3l7 6.4 2.6 1-7-6.2zM454.4 430.4l7-.9 2.6 2.2-7 .7z"/>
<path class="l" d="M457 432.4l7-.7"/>
<path d="M273.2 460.1l3.6 3.2 2.6 1.2-3.6-3.1z"/>
<path class="l" d="M276.8 463.3l2.6 1.2"/>
<path d="M447.4 431.8l7-1.4 2.6 2-7 1.3z"/>
<path class="l" d="M450 433.7l7-1.3"/>
<path d="M269.6 457.1l3.6 3 2.6 1.3-3.6-3zM440.4 433.6l7-1.8 2.6 1.9-7 1.8z"/>
<path class="l" d="M447.4 431.8l2.6 1.9M443 435.5l7-1.8"/>
<path d="M433.4 436l7-2.4 2.6 1.9-7 2.3z"/>
<path class="l" d="M436 437.8l7-2.3"/>
<path d="M265.9 454.2l3.7 2.9 2.6 1.3-3.7-2.8z"/>
<path class="l" d="M265.9 454.2l2.6 1.4"/>
<path d="M426.4 439l7-3 2.6 1.8-7 2.9z"/>
<path class="l" d="M429 440.7l7-2.9"/>
<path d="M419.4 442.6l7-3.6 2.6 1.7-7 3.5z"/>
<path class="l" d="M426.4 439l2.6 1.7M422 444.2l7-3.5"/>
<path d="M412.4 446.8l7-4.2 2.6 1.6-7 4.1z"/>
<path class="l" d="M415 448.3l7-4.1"/>
<path d="M405.4 451.7l7-4.9 2.6 1.5-7 4.8z"/>
<path class="l" d="M408 453.1l7-4.8"/>
<path d="M398.4 457.3l7-5.6 2.6 1.4-7 5.4z"/>
<path class="l" d="M405.4 451.7l2.6 1.4M401 458.5l7-5.4"/>
<path d="M391.4 463.4l7-6.1 2.6 1.2-7 5.8z"/>
<path class="l" d="M394 464.3l7-5.8"/>
<path d="M384.4 469.9l7-6.5 2.6 .9-7 5.9z"/>
<path class="l" d="M387 470.2l7-5.9"/>
<path d="M377.4 476.5l7-6.6 2.6 .3-7 5.9z"/>
<path class="l" d="M384.4 469.9l2.6 .3M380 476.1l7-5.9"/>
<path d="M370.4 483.1l7-6.6 2.6-.4-7 5.8z"/>
<path class="l" d="M373 481.9l7-5.8"/>
<path d="M363.4 489l7-5.9 2.6-1.2-7 5.5z"/>
<path class="l" d="M366 487.4l7-5.5"/>
<path d="M356.4 494.1l7-5.1 2.6-1.6-7 5.2z"/>
<path class="l" d="M363.4 489l2.6-1.6M359 492.6l7-5.2"/>
<path d="M349.4 497.9l7-3.8 2.6-1.5-7 4.3z"/>
<path class="l" d="M352 496.9l7-4.3"/>
<path d="M342.4 500.3l7-2.4 2.6-1-7 2.9z"/>
<path class="l" d="M345 499.8l7-2.9"/>
<path d="M335.4 500.9l7-.6 2.6-.5-7 1.1z"/>
<path class="l" d="M342.4 500.3l2.6-.5M338 500.9l7-1.1"/>
<path d="M328.4 499.9l7 1 2.6 0-7-.7z"/>
<path class="l" d="M331 500.2l7 .7"/>
<path d="M321.4 497.5l7 2.4 2.6 .3-7-2.2z"/>
<path class="l" d="M324 498l7 2.2"/>
<path d="M314.4 493.6l7 3.9 2.6 .5-7-3.5z"/>
<path class="l" d="M321.4 497.5l2.6 .5M317 494.5l7 3.5"/>
<path d="M307.4 488.8l7 4.8 2.6 .9-7-4.5z"/>
<path class="l" d="M310 490l7 4.5"/>
<path d="M300.4 483.1l7 5.7 2.6 1.2-7-5.4z"/>
<path class="l" d="M303 484.6l7 5.4"/>
<path d="M293.4 477l7 6.1 2.6 1.5-7-5.9z"/>
<path class="l" d="M300.4 483.1l2.6 1.5M296 478.7l7 5.9"/>
<path d="M286.4 470.7l7 6.3 2.6 1.7-7-6.2z"/>
<path class="l" d="M289 472.5l7 6.2"/>
<path d="M279.4 464.5l7 6.2 2.6 1.8-7-6.2z"/>
<path class="l" d="M282 466.3l7 6.2"/>
<path d="M275.8 461.4l3.6 3.1 2.6 1.8-3.6-3.1z"/>
<path class="l" d="M279.4 464.5l2.6 1.8M278.4 463.2l3.6 3.1"/>
<path d="M272.2 458.4l3.6 3 2.6 1.8-3.6-3z"/>
<path class="l" d="M274.8 460.2l3.6 3"/>
<path d="M268.5 455.6l3.7 2.8 2.6 1.8-3.7-2.8z"/>
<path class="l" d="M268.5 455.6l2.6 1.8M271.1 457.4l3.7 2.8"/></g>
<path d="M268.5 309.7L601 397.2M330.5 502.6L663 587.6" stroke="#c6c6c6" stroke-width="2.6" stroke-dasharray="2.6 3.15" fill="none"/>
<polygon fill="#c6c6c6" points="469.8,363 454.8,365.1 461.1,360.7 457.7,353.8"/>
<polygon fill="#c6c6c6" points="461.6,536.2 446.3,538.3 452.7,533.9 449.2,527"/>
<g class="sf" transform="translate(333 87)"><path d="M390.4 375.1l7-.3 1.1 1.2-7 .6z"/>
<path class="l" d="M397.4 374.8l1.1 1.2M390.4 375.1l7-.3"/>
<path d="M383.4 374.8l7 .3 1.1 1.5-7-.2z"/>
<path class="l" d="M383.4 374.8l7 .3"/>
<path d="M376.4 373.9l7 .9 1.1 1.6-7-1z"/>
<path class="l" d="M376.4 373.9l7 .9"/>
<path d="M369.4 372.4l7 1.5 1.1 1.5-7-1.6z"/>
<path class="l" d="M376.4 373.9l1.1 1.5M369.4 372.4l7 1.5"/>
<path d="M362.4 370.3l7 2.1 1.1 1.4-7-2.2z"/>
<path class="l" d="M362.4 370.3l7 2.1"/>
<path d="M355.4 367.4l7 2.9 1.1 1.3-7-3z"/>
<path class="l" d="M355.4 367.4l7 2.9"/>
<path d="M348.4 363.9l7 3.5 1.1 1.2-7-3.5z"/>
<path class="l" d="M355.4 367.4l1.1 1.2M348.4 363.9l7 3.5"/>
<path d="M341.4 359.8l7 4.1 1.1 1.2-7-4.1z"/>
<path class="l" d="M341.4 359.8l7 4.1"/>
<path d="M391.5 376.6l7-.6 1.2 1.1-7 .7z"/>
<path class="l" d="M398.5 376l1.2 1.1"/>
<path d="M334.4 355.1l7 4.7 1.1 1.2-7-4.6z"/>
<path class="l" d="M334.4 355.1l7 4.7"/>
<path d="M384.5 376.4l7 .2 1.2 1.2-7-.1zM377.5 375.4l7 1 1.2 1.3-7-1zM327.4 349.9l7 5.2 1.1 1.3-7-5z"/>
<path class="l" d="M334.4 355.1l1.1 1.3M327.4 349.9l7 5.2"/>
<path d="M370.5 373.8l7 1.6 1.2 1.3-7-1.6z"/>
<path class="l" d="M377.5 375.4l1.2 1.3"/>
<path d="M320.4 344.3l7 5.6 1.1 1.5-7-5.4z"/>
<path class="l" d="M320.4 344.3l7 5.6"/>
<path d="M363.5 371.6l7 2.2 1.2 1.3-7-2.3zM313.4 338.3l7 6 1.1 1.7-7-5.8z"/>
<path class="l" d="M313.4 338.3l7 6"/>
<path d="M356.5 368.6l7 3 1.2 1.2-7-3zM306.4 331.9l7 6.4 1.1 1.9-7-5.9z"/>
<path class="l" d="M313.4 338.3l1.1 1.9M306.4 331.9l7 6.4"/>
<path d="M349.5 365.1l7 3.5 1.2 1.2-7-3.5z"/>
<path class="l" d="M356.5 368.6l1.2 1.2"/>
<path d="M342.5 361l7 4.1 1.2 1.2-7-4zM299.4 325.7l7 6.2 1.1 2.4-7-5.9z"/>
<path class="l" d="M299.4 325.7l7 6.2"/>
<path d="M392.7 377.8l7-.7 1.1 .9-7 .8z"/>
<path class="l" d="M399.7 377.1l1.1 .9"/>
<path d="M335.5 356.4l7 4.6 1.2 1.3-7-4.5zM292.4 320l7 5.7 1.1 2.7-7-5.5z"/>
<path class="l" d="M292.4 320l7 5.7"/>
<path d="M385.7 377.7l7 .1 1.1 1-7-.1zM378.7 376.7l7 1 1.1 1-7-.8zM328.5 351.4l7 5 1.2 1.4-7-4.9z"/>
<path class="l" d="M335.5 356.4l1.2 1.4"/>
<path d="M285.4 315.2l7 4.8 1.1 2.9-7-4.7z"/>
<path class="l" d="M292.4 320l1.1 2.9M285.4 315.2l7 4.8"/>
<path d="M371.7 375.1l7 1.6 1.1 1.2-7-1.7z"/>
<path class="l" d="M378.7 376.7l1.1 1.2"/>
<path d="M321.5 346l7 5.4 1.2 1.5-7-5.2zM278.4 311.5l7 3.7 1.1 3-7-3.8z"/>
<path class="l" d="M278.4 311.5l7 3.7"/>
<path d="M364.7 372.8l7 2.3 1.1 1.1-7-2.3zM314.5 340.2l7 5.8 1.2 1.7-7-5.5zM271.4 309l7 2.5 1.1 2.9-7-2.6z"/>
<path class="l" d="M271.4 309l7 2.5"/>
<path d="M357.7 369.8l7 3 1.1 1.1-7-2.9zM264.4 307.9l7 1.1 1.1 2.8-7-1.3z"/>
<path class="l" d="M271.4 309l1.1 2.8M264.4 307.9l7 1.1"/>
<path d="M307.5 334.3l7 5.9 1.2 2-7-5.6z"/>
<path class="l" d="M314.5 340.2l1.2 2"/>
<path d="M350.7 366.3l7 3.5 1.1 1.2-7-3.4z"/>
<path class="l" d="M357.7 369.8l1.1 1.2"/>
<path d="M257.4 308.2l7-.3 1.1 2.6-7 .2z"/>
<path class="l" d="M257.4 308.2l7-.3"/>
<path d="M250.4 310.1l7-1.9 1.1 2.5-7 1.9z"/>
<path class="l" d="M250.4 310.1l7-1.9"/>
<path d="M343.7 362.3l7 4 1.1 1.3-7-4zM300.5 328.4l7 5.9 1.2 2.3-7-5.6zM243.4 313.7l7-3.6 1.1 2.5-7 3.7z"/>
<path class="l" d="M250.4 310.1l1.1 2.5M243.4 313.7l7-3.6"/>
<path d="M236.4 318.6l7-4.9 1.1 2.6-7 5.2z"/>
<path class="l" d="M236.4 318.6l7-4.9"/>
<path d="M336.7 357.8l7 4.5 1.1 1.3-7-4.3zM229.4 324.5l7-5.9 1.1 2.9-7 6z"/>
<path class="l" d="M229.4 324.5l7-5.9"/>
<path d="M293.5 322.9l7 5.5 1.2 2.6-7-5.3zM222.4 331l7-6.5 1.1 3-7 6.5z"/>
<path class="l" d="M229.4 324.5l1.1 3M222.4 331l7-6.5"/>
<path d="M215.4 337.8l7-6.8 1.1 3-7 6.5z"/>
<path class="l" d="M215.4 337.8l7-6.8"/>
<path d="M208.4 344.4l7-6.6 1.1 2.7-7 6.3z"/>
<path class="l" d="M208.4 344.4l7-6.6"/>
<path d="M204.8 347.7l3.6-3.3 1.1 2.4-3.6 3z"/>
<path class="l" d="M208.4 344.4l1.1 2.4M204.8 347.7l3.6-3.3"/>
<path d="M201.1 350.8l3.7-3.1 1.1 2.1-3.6 2.8z"/>
<path class="l" d="M201.1 350.8l3.7-3.1"/>
<path d="M329.7 352.9l7 4.9 1.1 1.5-7-4.8z"/>
<path class="l" d="M336.7 357.8l1.1 1.5"/>
<path d="M197.5 353.6l3.6-2.8 1.2 1.8-3.7 2.6z"/>
<path class="l" d="M197.5 353.6l1.1 1.6M197.5 353.6l3.6-2.8"/>
<path d="M286.5 318.2l7 4.7 1.2 2.8-7-4.6z"/>
<path class="l" d="M293.5 322.9l1.2 2.8"/>
<path d="M322.7 347.7l7 5.2 1.1 1.6-7-5zM279.5 314.4l7 3.8 1.2 2.9-7-3.7zM272.5 311.8l7 2.6 1.2 3-7-2.7zM315.7 342.2l7 5.5 1.1 1.8-7-5.2zM393.8 378.8l7-.8 2.6 1.9-7 .8z"/>
<path class="l" d="M400.8 378l2.6 1.9M393.8 378.8l7-.8"/>
<path d="M265.5 310.5l7 1.3 1.2 2.9-7-1.3z"/>
<path class="l" d="M272.5 311.8l1.2 2.9"/>
<path d="M308.7 336.6l7 5.6 1.1 2.1-7-5.4z"/>
<path class="l" d="M315.7 342.2l1.1 2.1"/>
<path d="M386.8 378.7l7 .1 2.6 1.9-7 0z"/>
<path class="l" d="M386.8 378.7l7 .1"/>
<path d="M258.5 310.7l7-.2 1.2 2.9-7 .1zM379.8 377.9l7 .8 2.6 2-7-.8z"/>
<path class="l" d="M379.8 377.9l7 .8"/>
<path d="M251.5 312.6l7-1.9 1.2 2.8-7 1.9zM301.7 331l7 5.6 1.1 2.3-7-5.3zM244.5 316.3l7-3.7 1.2 2.8-7 3.8z"/>
<path class="l" d="M251.5 312.6l1.2 2.8"/>
<path d="M372.8 376.2l7 1.7 2.6 2-7-1.4z"/>
<path class="l" d="M379.8 377.9l2.6 2M372.8 376.2l7 1.7"/>
<path d="M237.5 321.5l7-5.2 1.2 2.9-7 5.2zM230.5 327.5l7-6 1.2 2.9-7 6.1zM294.7 325.7l7 5.3 1.1 2.6-7-5zM223.5 334l7-6.5 1.2 3-7 6.3z"/>
<path class="l" d="M230.5 327.5l1.2 3"/>
<path d="M365.8 373.9l7 2.3 2.6 2.3-7-2.1z"/>
<path class="l" d="M365.8 373.9l7 2.3"/>
<path d="M216.5 340.5l7-6.5 1.2 2.8-7 6.3zM209.5 346.8l7-6.3 1.2 2.6-7 5.9zM205.9 349.8l3.6-3 1.2 2.2-3.7 2.9z"/>
<path class="l" d="M209.5 346.8l1.2 2.2"/>
<path d="M202.3 352.6l3.6-2.8 1.1 2.1-3.6 2.6zM287.7 321.1l7 4.6 1.1 2.9-7-4.5z"/>
<path class="l" d="M294.7 325.7l1.1 2.9"/>
<path d="M198.6 355.2l3.7-2.6 1.1 1.9-3.6 2.4z"/>
<path class="l" d="M198.6 355.2l1.2 1.7"/>
<path d="M358.8 371l7 2.9 2.6 2.5-7-2.6z"/>
<path class="l" d="M358.8 371l7 2.9"/>
<path d="M280.7 317.4l7 3.7 1.1 3-7-3.7zM351.8 367.6l7 3.4 2.6 2.8-7-3.2z"/>
<path class="l" d="M358.8 371l2.6 2.8M351.8 367.6l7 3.4"/>
<path d="M273.7 314.7l7 2.7 1.1 3-7-2.6zM344.8 363.6l7 4 2.6 3-7-3.6z"/>
<path class="l" d="M344.8 363.6l7 4"/>
<path d="M266.7 313.4l7 1.3 1.1 3.1-7-1.3z"/>
<path class="l" d="M273.7 314.7l1.1 3.1"/>
<path d="M337.8 359.3l7 4.3 2.6 3.4-7-4z"/>
<path class="l" d="M337.8 359.3l7 4.3"/>
<path d="M259.7 313.5l7-.1 1.1 3.1-7 .2zM330.8 354.5l7 4.8 2.6 3.7-7-4.4z"/>
<path class="l" d="M337.8 359.3l2.6 3.7M330.8 354.5l7 4.8"/>
<path d="M252.7 315.4l7-1.9 1.1 3.2-7 1.9zM245.7 319.2l7-3.8 1.1 3.2-7 3.7z"/>
<path class="l" d="M252.7 315.4l1.1 3.2"/>
<path d="M238.7 324.4l7-5.2 1.1 3.1-7 5.2zM323.8 349.5l7 5 2.6 4.1-7-4.6z"/>
<path class="l" d="M323.8 349.5l7 5"/>
<path d="M231.7 330.5l7-6.1 1.1 3.1-7 5.9zM224.7 336.8l7-6.3 1.1 2.9-7 6.1z"/>
<path class="l" d="M231.7 330.5l1.1 2.9"/>
<path d="M217.7 343.1l7-6.3 1.1 2.7-7 6zM210.7 349l7-5.9 1.1 2.4-7 5.7zM316.8 344.3l7 5.2 2.6 4.5-7-4.9z"/>
<path class="l" d="M316.8 344.3l7 5.2"/>
<path d="M207 351.9l3.7-2.9 1.1 2.2-3.6 2.7z"/>
<path class="l" d="M210.7 349l1.1 2.2"/>
<path d="M203.4 354.5l3.6-2.6 1.2 2-3.6 2.4zM199.8 356.9l3.6-2.4 1.2 1.8-3.7 2.3z"/>
<path class="l" d="M199.8 356.9l1.1 1.7"/>
<path d="M309.8 338.9l7 5.4 2.6 4.8-7-4.9z"/>
<path class="l" d="M316.8 344.3l2.6 4.8M309.8 338.9l7 5.4"/>
<path d="M302.8 333.6l7 5.3 2.6 5.3-7-4.7z"/>
<path class="l" d="M302.8 333.6l7 5.3"/>
<path d="M295.8 328.6l7 5 2.6 5.9-7-4.5z"/>
<path class="l" d="M295.8 328.6l7 5"/>
<path d="M288.8 324.1l7 4.5 2.6 6.4-7-4z"/>
<path class="l" d="M295.8 328.6l2.6 6.4M288.8 324.1l7 4.5"/>
<path d="M396.4 380.7l7-.8 2.6 1.7-7 .6z"/>
<path class="l" d="M403.4 379.9l2.6 1.7"/>
<path d="M281.8 320.4l7 3.7 2.6 6.9-7-3.2z"/>
<path class="l" d="M281.8 320.4l7 3.7"/>
<path d="M389.4 380.7l7 0 2.6 1.5-7 0zM274.8 317.8l7 2.6 2.6 7.4-7-2.3z"/>
<path class="l" d="M274.8 317.8l7 2.6"/>
<path d="M382.4 379.9l7 .8 2.6 1.5-7-.6zM267.8 316.5l7 1.3 2.6 7.7-7-1z"/>
<path class="l" d="M274.8 317.8l2.6 7.7M267.8 316.5l7 1.3"/>
<path d="M375.4 378.5l7 1.4 2.6 1.7-7-1.2z"/>
<path class="l" d="M382.4 379.9l2.6 1.7"/>
<path d="M260.8 316.7l7-.2 2.6 8-7 .3z"/>
<path class="l" d="M260.8 316.7l7-.2"/>
<path d="M368.4 376.4l7 2.1 2.6 1.9-7-1.7zM253.8 318.6l7-1.9 2.6 8.1-7 1.8z"/>
<path class="l" d="M253.8 318.6l7-1.9"/>
<path d="M361.4 373.8l7 2.6 2.6 2.3-7-2.2zM246.8 322.3l7-3.7 2.6 8-7 3.5z"/>
<path class="l" d="M253.8 318.6l2.6 8M246.8 322.3l7-3.7"/>
<path d="M239.8 327.5l7-5.2 2.6 7.8-7 4.6z"/>
<path class="l" d="M239.8 327.5l7-5.2"/>
<path d="M232.8 333.4l7-5.9 2.6 7.2-7 5.2z"/>
<path class="l" d="M232.8 333.4l7-5.9"/>
<path d="M354.4 370.6l7 3.2 2.6 2.7-7-2.8z"/>
<path class="l" d="M361.4 373.8l2.6 2.7"/>
<path d="M225.8 339.5l7-6.1 2.6 6.5-7 5.5z"/>
<path class="l" d="M232.8 333.4l2.6 6.5M225.8 339.5l7-6.1"/>
<path d="M218.8 345.5l7-6 2.6 5.9-7 5.4z"/>
<path class="l" d="M218.8 345.5l7-6"/>
<path d="M211.8 351.2l7-5.7 2.6 5.3-7 5.1z"/>
<path class="l" d="M211.8 351.2l7-5.7"/>
<path d="M208.2 353.9l3.6-2.7 2.6 4.7-3.6 2.4z"/>
<path class="l" d="M211.8 351.2l2.6 4.7M208.2 353.9l3.6-2.7"/>
<path d="M347.4 367l7 3.6 2.6 3.1-7-3.1zM204.6 356.3l3.6-2.4 2.6 4.4-3.6 2.3z"/>
<path class="l" d="M204.6 356.3l3.6-2.4"/>
<path d="M200.9 358.6l3.7-2.3 2.6 4.3-3.7 2.1z"/>
<path class="l" d="M200.9 358.6l2.6 4.1M200.9 358.6l3.7-2.3"/>
<path d="M340.4 363l7 4 2.6 3.6-7-3.6zM333.4 358.6l7 4.4 2.6 4-7-4z"/>
<path class="l" d="M340.4 363l2.6 4"/>
<path d="M326.4 354l7 4.6 2.6 4.4-7-4.2zM319.4 349.1l7 4.9 2.6 4.8-7-4.4zM312.4 344.2l7 4.9 2.6 5.3-7-4.4z"/>
<path class="l" d="M319.4 349.1l2.6 5.3"/>
<path d="M305.4 339.5l7 4.7 2.6 5.8-7-4.3zM298.4 335l7 4.5 2.6 6.2-7-3.9zM291.4 331l7 4 2.6 6.8-7-3.4z"/>
<path class="l" d="M298.4 335l2.6 6.8"/>
<path d="M284.4 327.8l7 3.2 2.6 7.4-7-2.6zM399 382.2l7-.6 2.6 1.9-7 .4z"/>
<path class="l" d="M406 381.6l2.6 1.9"/>
<path d="M392 382.2l7 0 2.6 1.7-7-.1zM277.4 325.5l7 2.3 2.6 8-7-1.8zM385 381.6l7 .6 2.6 1.6-7-.5zM270.4 324.5l7 1 2.6 8.5-7-.6z"/>
<path class="l" d="M277.4 325.5l2.6 8.5"/>
<path d="M378 380.4l7 1.2 2.6 1.7-7-.9z"/>
<path class="l" d="M385 381.6l2.6 1.7"/>
<path d="M263.4 324.8l7-.3 2.6 8.9-7 .5zM256.4 326.6l7-1.8 2.6 9.1-7 1.7zM371 378.7l7 1.7 2.6 2-7-1.4zM249.4 330.1l7-3.5 2.6 9-7 2.9z"/>
<path class="l" d="M256.4 326.6l2.6 9"/>
<path d="M364 376.5l7 2.2 2.6 2.3-7-1.9zM242.4 334.7l7-4.6 2.6 8.4-7 3.7zM235.4 339.9l7-5.2 2.6 7.5-7 4.3zM228.4 345.4l7-5.5 2.6 6.6-7 4.6z"/>
<path class="l" d="M235.4 339.9l2.6 6.6"/>
<path d="M357 373.7l7 2.8 2.6 2.6-7-2.2z"/>
<path class="l" d="M364 376.5l2.6 2.6"/>
<path d="M221.4 350.8l7-5.4 2.6 5.7-7 4.8zM214.4 355.9l7-5.1 2.6 5.1-7 4.7zM210.8 358.3l3.6-2.4 2.6 4.7-3.6 2.3z"/>
<path class="l" d="M214.4 355.9l2.6 4.7"/>
<path d="M350 370.6l7 3.1 2.6 3.2-7-2.7zM207.2 360.6l3.6-2.3 2.6 4.6-3.6 2.2zM203.5 362.7l3.7-2.1 2.6 4.5-3.7 2z"/>
<path class="l" d="M203.5 362.7l2.6 4.4"/>
<path d="M343 367l7 3.6 2.6 3.6-7-3.1zM336 363l7 4 2.6 4.1-7-3.4z"/>
<path class="l" d="M343 367l2.6 4.1"/>
<path d="M329 358.8l7 4.2 2.6 4.7-7-3.7zM322 354.4l7 4.4 2.6 5.2-7-3.9zM315 350l7 4.4 2.6 5.7-7-3.8z"/>
<path class="l" d="M322 354.4l2.6 5.7"/>
<path d="M308 345.7l7 4.3 2.6 6.3-7-3.6zM301 341.8l7 3.9 2.6 7-7-3.2zM294 338.4l7 3.4 2.6 7.7-7-2.8z"/>
<path class="l" d="M301 341.8l2.6 7.7"/>
<path d="M287 335.8l7 2.6 2.6 8.3-7-2.1zM401.6 383.9l7-.4 2.6 2.2-7 .2z"/>
<path class="l" d="M408.6 383.5l2.6 2.2M401.6 383.9l7-.4"/>
<path d="M280 334l7 1.8 2.6 8.8-7-1.2zM394.6 383.8l7 .1 2.6 2-7-.1z"/>
<path class="l" d="M394.6 383.8l7 .1"/>
<path d="M273 333.4l7 .6 2.6 9.4-7-.3z"/>
<path class="l" d="M280 334l2.6 9.4"/>
<path d="M387.6 383.3l7 .5 2.6 2-7-.4z"/>
<path class="l" d="M387.6 383.3l7 .5"/>
<path d="M266 333.9l7-.5 2.6 9.7-7 .6zM380.6 382.4l7 .9 2.6 2.1-7-.9z"/>
<path class="l" d="M387.6 383.3l2.6 2.1M380.6 382.4l7 .9"/>
<path d="M259 335.6l7-1.7 2.6 9.8-7 1.4zM252 338.5l7-2.9 2.6 9.5-7 2.1z"/>
<path class="l" d="M259 335.6l2.6 9.5"/>
<path d="M373.6 381l7 1.4 2.6 2.1-7-1.2z"/>
<path class="l" d="M373.6 381l7 1.4"/>
<path d="M245 342.2l7-3.7 2.6 8.7-7 2.8zM366.6 379.1l7 1.9 2.6 2.3-7-1.5z"/>
<path class="l" d="M366.6 379.1l7 1.9"/>
<path d="M238 346.5l7-4.3 2.6 7.8-7 3.3zM231 351.1l7-4.6 2.6 6.8-7 3.8z"/>
<path class="l" d="M238 346.5l2.6 6.8"/>
<path d="M224 355.9l7-4.8 2.6 6-7 4.2zM359.6 376.9l7 2.2 2.6 2.7-7-1.9z"/>
<path class="l" d="M366.6 379.1l2.6 2.7M359.6 376.9l7 2.2"/>
<path d="M217 360.6l7-4.7 2.6 5.4-7 4.2zM213.4 362.9l3.6-2.3 2.6 4.9-3.6 2.2z"/>
<path class="l" d="M217 360.6l2.6 4.9"/>
<path d="M209.8 365.1l3.6-2.2 2.6 4.8-3.6 2.1zM352.6 374.2l7 2.7 2.6 3-7-2.1z"/>
<path class="l" d="M352.6 374.2l7 2.7"/>
<path d="M206.1 367.1l3.7-2 2.6 4.7-3.7 2.1z"/>
<path class="l" d="M206.1 367.1l2.6 4.8"/>
<path d="M345.6 371.1l7 3.1 2.6 3.6-7-2.5z"/>
<path class="l" d="M345.6 371.1l7 3.1"/>
<path d="M338.6 367.7l7 3.4 2.6 4.2-7-2.8z"/>
<path class="l" d="M345.6 371.1l2.6 4.2M338.6 367.7l7 3.4"/>
<path d="M331.6 364l7 3.7 2.6 4.8-7-3z"/>
<path class="l" d="M331.6 364l7 3.7"/>
<path d="M324.6 360.1l7 3.9 2.6 5.5-7-3z"/>
<path class="l" d="M324.6 360.1l7 3.9"/>
<path d="M317.6 356.3l7 3.8 2.6 6.4-7-3z"/>
<path class="l" d="M324.6 360.1l2.6 6.4M317.6 356.3l7 3.8"/>
<path d="M310.6 352.7l7 3.6 2.6 7.2-7-2.8z"/>
<path class="l" d="M310.6 352.7l7 3.6"/>
<path d="M303.6 349.5l7 3.2 2.6 8-7-2.5z"/>
<path class="l" d="M303.6 349.5l7 3.2"/>
<path d="M296.6 346.7l7 2.8 2.6 8.7-7-2.1z"/>
<path class="l" d="M303.6 349.5l2.6 8.7M296.6 346.7l7 2.8"/>
<path d="M289.6 344.6l7 2.1 2.6 9.4-7-1.6z"/>
<path class="l" d="M289.6 344.6l7 2.1"/>
<path d="M282.6 343.4l7 1.2 2.6 9.9-7-1z"/>
<path class="l" d="M282.6 343.4l7 1.2"/>
<path d="M404.2 385.9l7-.2 2.6 2.3-7 .2z"/>
<path class="l" d="M411.2 385.7l2.6 2.3"/>
<path d="M275.6 343.1l7 .3 2.6 10.1-7-.2z"/>
<path class="l" d="M282.6 343.4l2.6 10.1M275.6 343.1l7 .3"/>
<path d="M397.2 385.8l7 .1 2.6 2.3-7-.1zM268.6 343.7l7-.6 2.6 10.2-7 .4z"/>
<path class="l" d="M268.6 343.7l7-.6"/>
<path d="M390.2 385.4l7 .4 2.6 2.3-7-.5zM261.6 345.1l7-1.4 2.6 10-7 1z"/>
<path class="l" d="M261.6 345.1l7-1.4"/>
<path d="M383.2 384.5l7 .9 2.6 2.2-7-.7z"/>
<path class="l" d="M390.2 385.4l2.6 2.2"/>
<path d="M254.6 347.2l7-2.1 2.6 9.6-7 1.4z"/>
<path class="l" d="M261.6 345.1l2.6 9.6M254.6 347.2l7-2.1"/>
<path d="M247.6 350l7-2.8 2.6 8.9-7 2z"/>
<path class="l" d="M247.6 350l7-2.8"/>
<path d="M376.2 383.3l7 1.2 2.6 2.4-7-1zM240.6 353.3l7-3.3 2.6 8.1-7 2.5z"/>
<path class="l" d="M240.6 353.3l7-3.3"/>
<path d="M369.2 381.8l7 1.5 2.6 2.6-7-1.3zM233.6 357.1l7-3.8 2.6 7.3-7 3.1z"/>
<path class="l" d="M240.6 353.3l2.6 7.3M233.6 357.1l7-3.8"/>
<path d="M226.6 361.3l7-4.2 2.6 6.6-7 3.5z"/>
<path class="l" d="M226.6 361.3l7-4.2"/>
<path d="M362.2 379.9l7 1.9 2.6 2.8-7-1.5z"/>
<path class="l" d="M369.2 381.8l2.6 2.8"/>
<path d="M219.6 365.5l7-4.2 2.6 5.9-7 3.8z"/>
<path class="l" d="M219.6 365.5l7-4.2"/>
<path d="M216 367.7l3.6-2.2 2.6 5.5-3.6 2z"/>
<path class="l" d="M219.6 365.5l2.6 5.5M216 367.7l3.6-2.2"/>
<path d="M212.4 369.8l3.6-2.1 2.6 5.3-3.6 2z"/>
<path class="l" d="M212.4 369.8l3.6-2.1"/>
<path d="M355.2 377.8l7 2.1 2.6 3.2-7-1.7zM208.7 371.9l3.7-2.1 2.6 5.2-3.7 2z"/>
<path class="l" d="M208.7 371.9l2.6 5.1M208.7 371.9l3.7-2.1"/>
<path d="M348.2 375.3l7 2.5 2.6 3.6-7-1.8zM341.2 372.5l7 2.8 2.6 4.3-7-2.1z"/>
<path class="l" d="M348.2 375.3l2.6 4.3"/>
<path d="M334.2 369.5l7 3 2.6 5-7-2.1zM327.2 366.5l7 3 2.6 5.9-7-2.1zM320.2 363.5l7 3 2.6 6.8-7-2.1z"/>
<path class="l" d="M327.2 366.5l2.6 6.8"/>
<path d="M313.2 360.7l7 2.8 2.6 7.7-7-1.9zM306.2 358.2l7 2.5 2.6 8.6-7-1.8zM299.2 356.1l7 2.1 2.6 9.3-7-1.4z"/>
<path class="l" d="M306.2 358.2l2.6 9.3"/>
<path d="M292.2 354.5l7 1.6 2.6 10-7-1.2zM285.2 353.5l7 1 2.6 10.4-7-.7zM278.2 353.3l7 .2 2.6 10.7-7-.4z"/>
<path class="l" d="M285.2 353.5l2.6 10.7"/>
<path d="M406.8 388.2l7-.2 2.6 2.3-7 .1z"/>
<path class="l" d="M413.8 388l2.6 2.3"/>
<path d="M271.2 353.7l7-.4 2.6 10.5-7 .2zM399.8 388.1l7 .1 2.6 2.2-7-.1zM264.2 354.7l7-1 2.6 10.3-7 .5zM392.8 387.6l7 .5 2.6 2.2-7-.4zM257.2 356.1l7-1.4 2.6 9.8-7 .9z"/>
<path class="l" d="M264.2 354.7l2.6 9.8"/>
<path d="M385.8 386.9l7 .7 2.6 2.3-7-.5z"/>
<path class="l" d="M392.8 387.6l2.6 2.3"/>
<path d="M250.2 358.1l7-2 2.6 9.3-7 1.3zM378.8 385.9l7 1 2.6 2.5-7-.8zM243.2 360.6l7-2.5 2.6 8.6-7 1.8zM236.2 363.7l7-3.1 2.6 7.9-7 2.4z"/>
<path class="l" d="M243.2 360.6l2.6 7.9"/>
<path d="M371.8 384.6l7 1.3 2.6 2.7-7-.9zM229.2 367.2l7-3.5 2.6 7.2-7 2.8zM222.2 371l7-3.8 2.6 6.5-7 3.2zM364.8 383.1l7 1.5 2.6 3.1-7-1.1z"/>
<path class="l" d="M371.8 384.6l2.6 3.1"/>
<path d="M218.6 373l3.6-2 2.6 5.9-3.6 1.8z"/>
<path class="l" d="M222.2 371l2.6 5.9"/>
<path d="M215 375l3.6-2 2.6 5.7-3.6 1.7zM211.3 377l3.7-2 2.6 5.4-3.7 1.9z"/>
<path class="l" d="M211.3 377l2.6 5.3"/>
<path d="M357.8 381.4l7 1.7 2.6 3.5-7-1.1zM350.8 379.6l7 1.8 2.6 4.1-7-1.2zM343.8 377.5l7 2.1 2.6 4.7-7-1.3z"/>
<path class="l" d="M350.8 379.6l2.6 4.7"/>
<path d="M336.8 375.4l7 2.1 2.6 5.5-7-1.3zM329.8 373.3l7 2.1 2.6 6.3-7-1.2zM322.8 371.2l7 2.1 2.6 7.2-7-1.2z"/>
<path class="l" d="M329.8 373.3l2.6 7.2"/>
<path d="M315.8 369.3l7 1.9 2.6 8.1-7-1.2zM308.8 367.5l7 1.8 2.6 8.8-7-1zM301.8 366.1l7 1.4 2.6 9.6-7-.9z"/>
<path class="l" d="M308.8 367.5l2.6 9.6"/>
<path d="M294.8 364.9l7 1.2 2.6 10.1-7-.8zM287.8 364.2l7 .7 2.6 10.5-7-.5zM280.8 363.8l7 .4 2.6 10.7-7-.3z"/>
<path class="l" d="M287.8 364.2l2.6 10.7"/>
<path d="M273.8 364l7-.2 2.6 10.8-7-.1zM409.4 390.4l7-.1 2.6 2-7 .1z"/>
<path class="l" d="M416.4 390.3l2.6 2M409.4 390.4l7-.1"/>
<path d="M266.8 364.5l7-.5 2.6 10.5-7 .2zM402.4 390.3l7 .1 2.6 2-7-.1z"/>
<path class="l" d="M402.4 390.3l7 .1"/>
<path d="M259.8 365.4l7-.9 2.6 10.2-7 .4z"/>
<path class="l" d="M266.8 364.5l2.6 10.2"/>
<path d="M395.4 389.9l7 .4 2.6 2-7-.1z"/>
<path class="l" d="M395.4 389.9l7 .4"/>
<path d="M252.8 366.7l7-1.3 2.6 9.7-7 .9zM388.4 389.4l7 .5 2.6 2.3-7-.3z"/>
<path class="l" d="M395.4 389.9l2.6 2.3M388.4 389.4l7 .5"/>
<path d="M245.8 368.5l7-1.8 2.6 9.3-7 1.2zM381.4 388.6l7 .8 2.6 2.5-7-.3z"/>
<path class="l" d="M381.4 388.6l7 .8"/>
<path d="M238.8 370.9l7-2.4 2.6 8.7-7 1.7z"/>
<path class="l" d="M245.8 368.5l2.6 8.7"/>
<path d="M231.8 373.7l7-2.8 2.6 8-7 2zM374.4 387.7l7 .9 2.6 3-7-.5z"/>
<path class="l" d="M374.4 387.7l7 .9"/>
<path d="M224.8 376.9l7-3.2 2.6 7.2-7 2.4zM367.4 386.6l7 1.1 2.6 3.4-7-.5z"/>
<path class="l" d="M374.4 387.7l2.6 3.4M367.4 386.6l7 1.1"/>
<path d="M221.2 378.7l3.6-1.8 2.6 6.4-3.6 1.3z"/>
<path class="l" d="M224.8 376.9l2.6 6.4"/>
<path d="M217.6 380.4l3.6-1.7 2.6 5.9-3.6 1.4zM213.9 382.3l3.7-1.9 2.6 5.6-3.7 1.4z"/>
<path class="l" d="M213.9 382.3l2.6 5.1"/>
<path d="M360.4 385.5l7 1.1 2.6 4-7-.5z"/>
<path class="l" d="M360.4 385.5l7 1.1"/>
<path d="M353.4 384.3l7 1.2 2.6 4.6-7-.6z"/>
<path class="l" d="M353.4 384.3l7 1.2"/>
<path d="M346.4 383l7 1.3 2.6 5.2-7-.6z"/>
<path class="l" d="M353.4 384.3l2.6 5.2M346.4 383l7 1.3"/>
<path d="M339.4 381.7l7 1.3 2.6 5.9-7-.6z"/>
<path class="l" d="M339.4 381.7l7 1.3"/>
<path d="M332.4 380.5l7 1.2 2.6 6.6-7-.5z"/>
<path class="l" d="M332.4 380.5l7 1.2"/>
<path d="M325.4 379.3l7 1.2 2.6 7.3-7-.5z"/>
<path class="l" d="M332.4 380.5l2.6 7.3M325.4 379.3l7 1.2"/>
<path d="M318.4 378.1l7 1.2 2.6 8-7-.5z"/>
<path class="l" d="M318.4 378.1l7 1.2"/>
<path d="M311.4 377.1l7 1 2.6 8.7-7-.4z"/>
<path class="l" d="M311.4 377.1l7 1"/>
<path d="M304.4 376.2l7 .9 2.6 9.3-7-.4z"/>
<path class="l" d="M311.4 377.1l2.6 9.3M304.4 376.2l7 .9"/>
<path d="M297.4 375.4l7 .8 2.6 9.8-7-.3z"/>
<path class="l" d="M297.4 375.4l7 .8"/>
<path d="M290.4 374.9l7 .5 2.6 10.3-7-.2z"/>
<path class="l" d="M290.4 374.9l7 .5"/>
<path d="M283.4 374.6l7 .3 2.6 10.6-7-.2z"/>
<path class="l" d="M290.4 374.9l2.6 10.6M283.4 374.6l7 .3"/>
<path d="M276.4 374.5l7 .1 2.6 10.7-7 0z"/>
<path class="l" d="M276.4 374.5l7 .1"/>
<path d="M269.4 374.7l7-.2 2.6 10.8-7 .1z"/>
<path class="l" d="M269.4 374.7l7-.2"/>
<path d="M412 392.4l7-.1 2.6 1.8-7 .1z"/>
<path class="l" d="M419 392.3l2.6 1.8"/>
<path d="M262.4 375.1l7-.4 2.6 10.7-7 .2z"/>
<path class="l" d="M269.4 374.7l2.6 10.7M262.4 375.1l7-.4"/>
<path d="M405 392.3l7 .1 2.6 1.8-7 .1zM255.4 376l7-.9 2.6 10.5-7 .5z"/>
<path class="l" d="M255.4 376l7-.9"/>
<path d="M398 392.2l7 .1 2.6 2-7 .1zM248.4 377.2l7-1.2 2.6 10.1-7 .7z"/>
<path class="l" d="M248.4 377.2l7-1.2"/>
<path d="M391 391.9l7 .3 2.6 2.2-7 .1z"/>
<path class="l" d="M398 392.2l2.6 2.2"/>
<path d="M241.4 378.9l7-1.7 2.6 9.6-7 .9z"/>
<path class="l" d="M248.4 377.2l2.6 9.6M241.4 378.9l7-1.7"/>
<path d="M384 391.6l7 .3 2.6 2.6-7 .2zM234.4 380.9l7-2 2.6 8.8-7 1.1z"/>
<path class="l" d="M234.4 380.9l7-2"/>
<path d="M377 391.1l7 .5 2.6 3.1-7 .1zM227.4 383.3l7-2.4 2.6 7.9-7 1.3z"/>
<path class="l" d="M227.4 383.3l7-2.4"/>
<path d="M223.8 384.6l3.6-1.3 2.6 6.8-3.6 .7z"/>
<path class="l" d="M227.4 383.3l2.6 6.8M223.8 384.6l3.6-1.3"/>
<path d="M370 390.6l7 .5 2.6 3.7-7 .1z"/>
<path class="l" d="M377 391.1l2.6 3.7"/>
<path d="M220.2 386l3.6-1.4 2.6 6.2-3.6 .8z"/>
<path class="l" d="M220.2 386l3.6-1.4"/>
<path d="M216.5 387.4l3.7-1.4 2.6 5.6-3.7 .7z"/>
<path class="l" d="M216.5 387.4l2.6 4.9M216.5 387.4l3.7-1.4"/>
<path d="M363 390.1l7 .5 2.6 4.3-7 0zM356 389.5l7 .6 2.6 4.8-7 .1zM349 388.9l7 .6 2.6 5.5-7 .1z"/>
<path class="l" d="M356 389.5l2.6 5.5"/>
<path d="M342 388.3l7 .6 2.6 6.2-7 .1zM335 387.8l7 .5 2.6 6.9-7 .1zM328 387.3l7 .5 2.6 7.5-7 .1z"/>
<path class="l" d="M335 387.8l2.6 7.5"/>
<path d="M321 386.8l7 .5 2.6 8.1-7 .1zM314 386.4l7 .4 2.6 8.7-7 .1zM307 386l7 .4 2.6 9.2-7 .2z"/>
<path class="l" d="M314 386.4l2.6 9.2"/>
<path d="M300 385.7l7 .3 2.6 9.8-7 .1zM293 385.5l7 .2 2.6 10.2-7 .1zM286 385.3l7 .2 2.6 10.5-7 .2z"/>
<path class="l" d="M293 385.5l2.6 10.5"/>
<path d="M279 385.3l7 0 2.6 10.9-7 .1zM272 385.4l7-.1 2.6 11-7 .1zM265 385.6l7-.2 2.6 11-7 .1z"/>
<path class="l" d="M272 385.4l2.6 11"/>
<path d="M414.6 394.2l7-.1 2.6 1.9-7 .1z"/>
<path class="l" d="M421.6 394.1l2.6 1.9"/>
<path d="M258 386.1l7-.5 2.6 10.9-7 .1zM407.6 394.3l7-.1 2.6 1.9-7 .2zM251 386.8l7-.7 2.6 10.5-7 .1zM400.6 394.4l7-.1 2.6 2-7 .4zM244 387.7l7-.9 2.6 9.9-7 .2z"/>
<path class="l" d="M251 386.8l2.6 9.9"/>
<path d="M393.6 394.5l7-.1 2.6 2.3-7 .4z"/>
<path class="l" d="M400.6 394.4l2.6 2.3"/>
<path d="M237 388.8l7-1.1 2.6 9.2-7 .1zM386.6 394.7l7-.2 2.6 2.6-7 .6zM230 390.1l7-1.3 2.6 8.2-7 .1zM379.6 394.8l7-.1 2.6 3-7 .6zM226.4 390.8l3.6-.7 2.6 7-3.6 0z"/>
<path class="l" d="M230 390.1l2.6 7"/>
<path d="M372.6 394.9l7-.1 2.6 3.5-7 .7z"/>
<path class="l" d="M379.6 394.8l2.6 3.5"/>
<path d="M222.8 391.6l3.6-.8 2.6 6.3-3.6 .1zM219.1 392.3l3.7-.7 2.6 5.6-3.7 0z"/>
<path class="l" d="M219.1 392.3l2.6 4.9"/>
<path d="M365.6 394.9l7 0 2.6 4.1-7 .8zM358.6 395l7-.1 2.6 4.9-7 .8zM351.6 395.1l7-.1 2.6 5.6-7 .8z"/>
<path class="l" d="M358.6 395l2.6 5.6"/>
<path d="M344.6 395.2l7-.1 2.6 6.3-7 .8zM337.6 395.3l7-.1 2.6 7-7 .8zM330.6 395.4l7-.1 2.6 7.7-7 .8z"/>
<path class="l" d="M337.6 395.3l2.6 7.7"/>
<path d="M323.6 395.5l7-.1 2.6 8.4-7 .7zM316.6 395.6l7-.1 2.6 9-7 .7zM309.6 395.8l7-.2 2.6 9.6-7 .6z"/>
<path class="l" d="M316.6 395.6l2.6 9.6"/>
<path d="M302.6 395.9l7-.1 2.6 10-7 .5zM295.6 396l7-.1 2.6 10.4-7 .5zM288.6 396.2l7-.2 2.6 10.8-7 .3z"/>
<path class="l" d="M295.6 396l2.6 10.8"/>
<path d="M281.6 396.3l7-.1 2.6 10.9-7 .2zM274.6 396.4l7-.1 2.6 11-7 .1zM267.6 396.5l7-.1 2.6 11-7-.1z"/>
<path class="l" d="M274.6 396.4l2.6 11"/>
<path d="M260.6 396.6l7-.1 2.6 10.8-7-.2zM417.2 396.1l7-.1 2.6 1.9-7 .3z"/>
<path class="l" d="M424.2 396l2.6 1.9M417.2 396.1l7-.1"/>
<path d="M253.6 396.7l7-.1 2.6 10.5-7-.5zM410.2 396.3l7-.2 2.6 2.1-7 .3z"/>
<path class="l" d="M410.2 396.3l7-.2"/>
<path d="M403.2 396.7l7-.4 2.6 2.2-7 .5z"/>
<path class="l" d="M403.2 396.7l7-.4"/>
<path d="M246.6 396.9l7-.2 2.6 9.9-7-.6z"/>
<path class="l" d="M253.6 396.7l2.6 9.9"/>
<path d="M396.2 397.1l7-.4 2.6 2.3-7 .7z"/>
<path class="l" d="M403.2 396.7l2.6 2.3M396.2 397.1l7-.4"/>
<path d="M239.6 397l7-.1 2.6 9.1-7-.8zM389.2 397.7l7-.6 2.6 2.6-7 .9z"/>
<path class="l" d="M389.2 397.7l7-.6"/>
<path d="M232.6 397.1l7-.1 2.6 8.2-7-1.1zM382.2 398.3l7-.6 2.6 2.9-7 1z"/>
<path class="l" d="M382.2 398.3l7-.6"/>
<path d="M229 397.1l3.6 0 2.6 7-3.6-.5z"/>
<path class="l" d="M232.6 397.1l2.6 7"/>
<path d="M225.4 397.2l3.6-.1 2.6 6.5-3.6-.7zM375.2 399l7-.7 2.6 3.3-7 1.3z"/>
<path class="l" d="M382.2 398.3l2.6 3.3M375.2 399l7-.7"/>
<path d="M221.7 397.2l3.7 0 2.6 5.7-3.7-.6z"/>
<path class="l" d="M221.7 397.2l2.6 5.1"/>
<path d="M368.2 399.8l7-.8 2.6 3.9-7 1.5z"/>
<path class="l" d="M368.2 399.8l7-.8"/>
<path d="M361.2 400.6l7-.8 2.6 4.6-7 1.5z"/>
<path class="l" d="M361.2 400.6l7-.8"/>
<path d="M354.2 401.4l7-.8 2.6 5.3-7 1.6z"/>
<path class="l" d="M361.2 400.6l2.6 5.3M354.2 401.4l7-.8"/>
<path d="M347.2 402.2l7-.8 2.6 6.1-7 1.7z"/>
<path class="l" d="M347.2 402.2l7-.8"/>
<path d="M340.2 403l7-.8 2.6 7-7 1.6z"/>
<path class="l" d="M340.2 403l7-.8"/>
<path d="M333.2 403.8l7-.8 2.6 7.8-7 1.6z"/>
<path class="l" d="M340.2 403l2.6 7.8M333.2 403.8l7-.8"/>
<path d="M326.2 404.5l7-.7 2.6 8.6-7 1.4z"/>
<path class="l" d="M326.2 404.5l7-.7"/>
<path d="M319.2 405.2l7-.7 2.6 9.3-7 1.4z"/>
<path class="l" d="M319.2 405.2l7-.7"/>
<path d="M312.2 405.8l7-.6 2.6 10-7 1.1z"/>
<path class="l" d="M319.2 405.2l2.6 10M312.2 405.8l7-.6"/>
<path d="M305.2 406.3l7-.5 2.6 10.5-7 .9z"/>
<path class="l" d="M305.2 406.3l7-.5"/>
<path d="M298.2 406.8l7-.5 2.6 10.9-7 .6z"/>
<path class="l" d="M298.2 406.8l7-.5"/>
<path d="M291.2 407.1l7-.3 2.6 11-7 .4z"/>
<path class="l" d="M298.2 406.8l2.6 11M291.2 407.1l7-.3"/>
<path d="M284.2 407.3l7-.2 2.6 11.1-7 .1z"/>
<path class="l" d="M284.2 407.3l7-.2"/>
<path d="M277.2 407.4l7-.1 2.6 11-7-.1z"/>
<path class="l" d="M277.2 407.4l7-.1"/>
<path d="M270.2 407.3l7 .1 2.6 10.8-7-.4z"/>
<path class="l" d="M277.2 407.4l2.6 10.8M270.2 407.3l7 .1"/>
<path d="M263.2 407.1l7 .2 2.6 10.5-7-.7z"/>
<path class="l" d="M263.2 407.1l7 .2"/>
<path d="M419.8 398.2l7-.3 2.6 2.1-7 .4z"/>
<path class="l" d="M426.8 397.9l2.6 2.1"/>
<path d="M256.2 406.6l7 .5 2.6 10-7-1.1z"/>
<path class="l" d="M256.2 406.6l7 .5"/>
<path d="M412.8 398.5l7-.3 2.6 2.2-7 .5zM249.2 406l7 .6 2.6 9.4-7-1.3z"/>
<path class="l" d="M256.2 406.6l2.6 9.4M249.2 406l7 .6"/>
<path d="M405.8 399l7-.5 2.6 2.4-7 .6zM242.2 405.2l7 .8 2.6 8.7-7-1.7z"/>
<path class="l" d="M242.2 405.2l7 .8"/>
<path d="M398.8 399.7l7-.7 2.6 2.5-7 .8z"/>
<path class="l" d="M405.8 399l2.6 2.5"/>
<path d="M235.2 404.1l7 1.1 2.6 7.8-7-1.9z"/>
<path class="l" d="M235.2 404.1l7 1.1"/>
<path d="M391.8 400.6l7-.9 2.6 2.6-7 1.1zM231.6 403.6l3.6 .5 2.6 7-3.6-1.1z"/>
<path class="l" d="M235.2 404.1l2.6 7M231.6 403.6l3.6 .5"/>
<path d="M384.8 401.6l7-1 2.6 2.8-7 1.4zM228 402.9l3.6 .7 2.6 6.4-3.6-1.2z"/>
<path class="l" d="M228 402.9l3.6 .7"/>
<path d="M377.8 402.9l7-1.3 2.6 3.2-7 1.8z"/>
<path class="l" d="M384.8 401.6l2.6 3.2"/>
<path d="M224.3 402.3l3.7 .6 2.6 5.9-3.7-1.1z"/>
<path class="l" d="M224.3 402.3l2.6 5.4M224.3 402.3l3.7 .6"/>
<path d="M370.8 404.4l7-1.5 2.6 3.7-7 2.1zM363.8 405.9l7-1.5 2.6 4.3-7 2.3zM356.8 407.5l7-1.6 2.6 5.1-7 2.5z"/>
<path class="l" d="M363.8 405.9l2.6 5.1"/>
<path d="M349.8 409.2l7-1.7 2.6 6-7 2.5zM342.8 410.8l7-1.6 2.6 6.8-7 2.5zM335.8 412.4l7-1.6 2.6 7.7-7 2.5z"/>
<path class="l" d="M342.8 410.8l2.6 7.7"/>
<path d="M328.8 413.8l7-1.4 2.6 8.6-7 2.2zM321.8 415.2l7-1.4 2.6 9.4-7 2zM314.8 416.3l7-1.1 2.6 10-7 1.6z"/>
<path class="l" d="M321.8 415.2l2.6 10"/>
<path d="M307.8 417.2l7-.9 2.6 10.5-7 1.3zM300.8 417.8l7-.6 2.6 10.9-7 .8zM293.8 418.2l7-.4 2.6 11.1-7 .3z"/>
<path class="l" d="M300.8 417.8l2.6 11.1"/>
<path d="M286.8 418.3l7-.1 2.6 11-7-.1zM279.8 418.2l7 .1 2.6 10.8-7-.5zM272.8 417.8l7 .4 2.6 10.4-7-.8z"/>
<path class="l" d="M279.8 418.2l2.6 10.4"/>
<path d="M265.8 417.1l7 .7 2.6 10-7-1.3zM258.8 416l7 1.1 2.6 9.4-7-1.6zM422.4 400.4l7-.4 2.6 2.1-7 .6z"/>
<path class="l" d="M429.4 400l2.6 2.1"/>
<path d="M251.8 414.7l7 1.3 2.6 8.9-7-2.1z"/>
<path class="l" d="M258.8 416l2.6 8.9"/>
<path d="M415.4 400.9l7-.5 2.6 2.3-7 .6zM244.8 413l7 1.7 2.6 8.1-7-2.4zM408.4 401.5l7-.6 2.6 2.4-7 .7zM401.4 402.3l7-.8 2.6 2.5-7 1z"/>
<path class="l" d="M408.4 401.5l2.6 2.5"/>
<path d="M237.8 411.1l7 1.9 2.6 7.4-7-2.7zM394.4 403.4l7-1.1 2.6 2.7-7 1.2zM234.2 410l3.6 1.1 2.6 6.6-3.6-1.5z"/>
<path class="l" d="M237.8 411.1l2.6 6.6"/>
<path d="M387.4 404.8l7-1.4 2.6 2.8-7 1.7zM230.6 408.8l3.6 1.2 2.6 6.2-3.6-1.5zM226.9 407.7l3.7 1.1 2.6 5.9-3.7-1.6z"/>
<path class="l" d="M226.9 407.7l2.6 5.4"/>
<path d="M380.4 406.6l7-1.8 2.6 3.1-7 2.3z"/>
<path class="l" d="M387.4 404.8l2.6 3.1"/>
<path d="M373.4 408.7l7-2.1 2.6 3.6-7 2.7zM366.4 411l7-2.3 2.6 4.2-7 3zM359.4 413.5l7-2.5 2.6 4.9-7 3.2z"/>
<path class="l" d="M366.4 411l2.6 4.9"/>
<path d="M352.4 416l7-2.5 2.6 5.6-7 3.4zM345.4 418.5l7-2.5 2.6 6.5-7 3.4zM338.4 421l7-2.5 2.6 7.4-7 3.2z"/>
<path class="l" d="M345.4 418.5l2.6 7.4"/>
<path d="M331.4 423.2l7-2.2 2.6 8.1-7 3zM324.4 425.2l7-2 2.6 8.9-7 2.7zM317.4 426.8l7-1.6 2.6 9.6-7 2.1z"/>
<path class="l" d="M324.4 425.2l2.6 9.6"/>
<path d="M310.4 428.1l7-1.3 2.6 10.1-7 1.6zM303.4 428.9l7-.8 2.6 10.4-7 1zM296.4 429.2l7-.3 2.6 10.6-7 .4z"/>
<path class="l" d="M303.4 428.9l2.6 10.6"/>
<path d="M289.4 429.1l7 .1 2.6 10.7-7-.3zM282.4 428.6l7 .5 2.6 10.5-7-.8zM275.4 427.8l7 .8 2.6 10.2-7-1.3z"/>
<path class="l" d="M282.4 428.6l2.6 10.2"/>
<path d="M268.4 426.5l7 1.3 2.6 9.7-7-1.9zM261.4 424.9l7 1.6 2.6 9.1-7-2.3zM254.4 422.8l7 2.1 2.6 8.4-7-2.8z"/>
<path class="l" d="M261.4 424.9l2.6 8.4"/>
<path d="M425 402.7l7-.6 2.6 2-7 .8z"/>
<path class="l" d="M432 402.1l2.6 2M425 402.7l7-.6"/>
<path d="M418 403.3l7-.6 2.6 2.2-7 .8z"/>
<path class="l" d="M418 403.3l7-.6"/>
<path d="M247.4 420.4l7 2.4 2.6 7.7-7-3.2zM411 404l7-.7 2.6 2.4-7 .9z"/>
<path class="l" d="M411 404l7-.7"/>
<path d="M240.4 417.7l7 2.7 2.6 6.9-7-3.4zM404 405l7-1 2.6 2.6-7 1.1z"/>
<path class="l" d="M411 404l2.6 2.6M404 405l7-1"/>
<path d="M236.8 416.2l3.6 1.5 2.6 6.2-3.6-1.8z"/>
<path class="l" d="M240.4 417.7l2.6 6.2"/>
<path d="M397 406.2l7-1.2 2.6 2.7-7 1.5z"/>
<path class="l" d="M397 406.2l7-1.2"/>
<path d="M233.2 414.7l3.6 1.5 2.6 5.9-3.6-1.9zM390 407.9l7-1.7 2.6 3-7 2z"/>
<path class="l" d="M390 407.9l7-1.7"/>
<path d="M229.5 413.1l3.7 1.6 2.6 5.5-3.7-1.8z"/>
<path class="l" d="M229.5 413.1l2.6 5.3"/>
<path d="M383 410.2l7-2.3 2.6 3.3-7 2.6z"/>
<path class="l" d="M390 407.9l2.6 3.3M383 410.2l7-2.3"/>
<path d="M376 412.9l7-2.7 2.6 3.6-7 3.1z"/>
<path class="l" d="M376 412.9l7-2.7"/>
<path d="M369 415.9l7-3 2.6 4-7 3.6z"/>
<path class="l" d="M369 415.9l7-3"/>
<path d="M362 419.1l7-3.2 2.6 4.6-7 3.9z"/>
<path class="l" d="M369 415.9l2.6 4.6M362 419.1l7-3.2"/>
<path d="M355 422.5l7-3.4 2.6 5.3-7 4.1z"/>
<path class="l" d="M355 422.5l7-3.4"/>
<path d="M348 425.9l7-3.4 2.6 6-7 4z"/>
<path class="l" d="M348 425.9l7-3.4"/>
<path d="M341 429.1l7-3.2 2.6 6.6-7 4z"/>
<path class="l" d="M348 425.9l2.6 6.6M341 429.1l7-3.2"/>
<path d="M334 432.1l7-3 2.6 7.4-7 3.7z"/>
<path class="l" d="M334 432.1l7-3"/>
<path d="M327 434.8l7-2.7 2.6 8.1-7 3.3z"/>
<path class="l" d="M327 434.8l7-2.7"/>
<path d="M320 436.9l7-2.1 2.6 8.7-7 2.7z"/>
<path class="l" d="M327 434.8l2.6 8.7M320 436.9l7-2.1"/>
<path d="M313 438.5l7-1.6 2.6 9.3-7 2z"/>
<path class="l" d="M313 438.5l7-1.6"/>
<path d="M306 439.5l7-1 2.6 9.7-7 1.3z"/>
<path class="l" d="M306 439.5l7-1"/>
<path d="M299 439.9l7-.4 2.6 10-7 .5z"/>
<path class="l" d="M306 439.5l2.6 10M299 439.9l7-.4"/>
<path d="M292 439.6l7 .3 2.6 10.1-7-.3z"/>
<path class="l" d="M292 439.6l7 .3"/>
<path d="M285 438.8l7 .8 2.6 10.1-7-1.1z"/>
<path class="l" d="M285 438.8l7 .8"/>
<path d="M278 437.5l7 1.3 2.6 9.8-7-1.8z"/>
<path class="l" d="M285 438.8l2.6 9.8M278 437.5l7 1.3"/>
<path d="M271 435.6l7 1.9 2.6 9.3-7-2.5z"/>
<path class="l" d="M271 435.6l7 1.9"/>
<path d="M264 433.3l7 2.3 2.6 8.7-7-3z"/>
<path class="l" d="M264 433.3l7 2.3"/>
<path d="M257 430.5l7 2.8 2.6 8-7-3.7z"/>
<path class="l" d="M264 433.3l2.6 8M257 430.5l7 2.8"/>
<path d="M427.6 404.9l7-.8 2.6 2-7 .9z"/>
<path class="l" d="M434.6 404.1l2.6 2"/>
<path d="M250 427.3l7 3.2 2.6 7.1-7-4z"/>
<path class="l" d="M250 427.3l7 3.2"/>
<path d="M420.6 405.7l7-.8 2.6 2.1-7 1zM413.6 406.6l7-.9 2.6 2.3-7 1.1zM243 423.9l7 3.4 2.6 6.3-7-4.1z"/>
<path class="l" d="M243 423.9l7 3.4"/>
<path d="M406.6 407.7l7-1.1 2.6 2.5-7 1.3z"/>
<path class="l" d="M413.6 406.6l2.6 2.5"/>
<path d="M239.4 422.1l3.6 1.8 2.6 5.6-3.6-2.2z"/>
<path class="l" d="M243 423.9l2.6 5.6M239.4 422.1l3.6 1.8"/>
<path d="M399.6 409.2l7-1.5 2.6 2.7-7 1.7zM235.8 420.2l3.6 1.9 2.6 5.2-3.6-2z"/>
<path class="l" d="M235.8 420.2l3.6 1.9"/>
<path d="M392.6 411.2l7-2 2.6 2.9-7 2.3zM232.1 418.4l3.7 1.8 2.6 5.1-3.7-2z"/>
<path class="l" d="M232.1 418.4l2.6 4.9M232.1 418.4l3.7 1.8"/>
<path d="M385.6 413.8l7-2.6 2.6 3.2-7 3z"/>
<path class="l" d="M392.6 411.2l2.6 3.2"/>
<path d="M378.6 416.9l7-3.1 2.6 3.6-7 3.5zM371.6 420.5l7-3.6 2.6 4-7 4zM364.6 424.4l7-3.9 2.6 4.4-7 4.3z"/>
<path class="l" d="M371.6 420.5l2.6 4.4"/>
<path d="M357.6 428.5l7-4.1 2.6 4.8-7 4.6zM350.6 432.5l7-4 2.6 5.3-7 4.7zM343.6 436.5l7-4 2.6 6-7 4.5z"/>
<path class="l" d="M350.6 432.5l2.6 6"/>
<path d="M336.6 440.2l7-3.7 2.6 6.5-7 4.4zM329.6 443.5l7-3.3 2.6 7.2-7 3.9zM322.6 446.2l7-2.7 2.6 7.8-7 3.2z"/>
<path class="l" d="M329.6 443.5l2.6 7.8"/>
<path d="M315.6 448.2l7-2 2.6 8.3-7 2.5zM308.6 449.5l7-1.3 2.6 8.8-7 1.7zM301.6 450l7-.5 2.6 9.2-7 .6z"/>
<path class="l" d="M308.6 449.5l2.6 9.2"/>
<path d="M294.6 449.7l7 .3 2.6 9.3-7-.3zM287.6 448.6l7 1.1 2.6 9.3-7-1.3zM280.6 446.8l7 1.8 2.6 9.1-7-2.2z"/>
<path class="l" d="M287.6 448.6l2.6 9.1"/>
<path d="M273.6 444.3l7 2.5 2.6 8.7-7-3.1zM266.6 441.3l7 3 2.6 8.1-7-3.8zM259.6 437.6l7 3.7 2.6 7.3-7-4.5z"/>
<path class="l" d="M266.6 441.3l2.6 7.3"/>
<path d="M430.2 407l7-.9 2.6 1.9-7 1z"/>
<path class="l" d="M437.2 406.1l2.6 1.9"/>
<path d="M252.6 433.6l7 4 2.6 6.5-7-4.8zM423.2 408l7-1 2.6 2-7 1zM245.6 429.5l7 4.1 2.6 5.7-7-4.8zM416.2 409.1l7-1.1 2.6 2-7 1.3zM409.2 410.4l7-1.3 2.6 2.2-7 1.6z"/>
<path class="l" d="M416.2 409.1l2.6 2.2"/>
<path d="M242 427.3l3.6 2.2 2.6 5-3.6-2.4z"/>
<path class="l" d="M245.6 429.5l2.6 5"/>
<path d="M402.2 412.1l7-1.7 2.6 2.5-7 2.1zM238.4 425.3l3.6 2 2.6 4.8-3.6-2.4zM395.2 414.4l7-2.3 2.6 2.9-7 2.6zM234.7 423.3l3.7 2 2.6 4.4-3.7-2.1z"/>
<path class="l" d="M234.7 423.3l2.6 4.3"/>
<path d="M388.2 417.4l7-3 2.6 3.2-7 3.2z"/>
<path class="l" d="M395.2 414.4l2.6 3.2"/>
<path d="M381.2 420.9l7-3.5 2.6 3.4-7 3.8zM374.2 424.9l7-4 2.6 3.7-7 4.3zM367.2 429.2l7-4.3 2.6 4-7 4.6z"/>
<path class="l" d="M374.2 424.9l2.6 4"/>
<path d="M360.2 433.8l7-4.6 2.6 4.3-7 5zM353.2 438.5l7-4.7 2.6 4.7-7 5.1zM346.2 443l7-4.5 2.6 5.1-7 5.1z"/>
<path class="l" d="M353.2 438.5l2.6 5.1"/>
<path d="M339.2 447.4l7-4.4 2.6 5.7-7 5zM332.2 451.3l7-3.9 2.6 6.3-7 4.6zM325.2 454.5l7-3.2 2.6 7-7 3.8z"/>
<path class="l" d="M332.2 451.3l2.6 7"/>
<path d="M318.2 457l7-2.5 2.6 7.6-7 2.9zM311.2 458.7l7-1.7 2.6 8-7 1.9zM304.2 459.3l7-.6 2.6 8.2-7 .8z"/>
<path class="l" d="M311.2 458.7l2.6 8.2"/>
<path d="M297.2 459l7 .3 2.6 8.4-7-.3zM290.2 457.7l7 1.3 2.6 8.4-7-1.6zM283.2 455.5l7 2.2 2.6 8.1-7-2.7z"/>
<path class="l" d="M290.2 457.7l2.6 8.1"/>
<path d="M276.2 452.4l7 3.1 2.6 7.6-7-3.7zM269.2 448.6l7 3.8 2.6 7-7-4.5zM262.2 444.1l7 4.5 2.6 6.3-7-5.1z"/>
<path class="l" d="M269.2 448.6l2.6 6.3"/>
<path d="M255.2 439.3l7 4.8 2.6 5.7-7-5.5zM432.8 409l7-1 2.6 2.1-7 .7z"/>
<path class="l" d="M439.8 408l2.6 2.1M432.8 409l7-1"/>
<path d="M425.8 410l7-1 2.6 1.8-7 1.1z"/>
<path class="l" d="M425.8 410l7-1"/>
<path d="M248.2 434.5l7 4.8 2.6 5-7-5.4zM418.8 411.3l7-1.3 2.6 1.9-7 1.4z"/>
<path class="l" d="M418.8 411.3l7-1.3"/>
<path d="M244.6 432.1l3.6 2.4 2.6 4.4-3.6-2.7z"/>
<path class="l" d="M248.2 434.5l2.6 4.4"/>
<path d="M411.8 412.9l7-1.6 2.6 2-7 1.9z"/>
<path class="l" d="M418.8 411.3l2.6 2M411.8 412.9l7-1.6"/>
<path d="M241 429.7l3.6 2.4 2.6 4.1-3.6-2.5zM404.8 415l7-2.1 2.6 2.3-7 2.3z"/>
<path class="l" d="M404.8 415l7-2.1"/>
<path d="M237.3 427.6l3.7 2.1 2.6 4-3.7-2.3z"/>
<path class="l" d="M237.3 427.6l2.6 3.8"/>
<path d="M397.8 417.6l7-2.6 2.6 2.5-7 3z"/>
<path class="l" d="M397.8 417.6l7-2.6"/>
<path d="M390.8 420.8l7-3.2 2.6 2.9-7 3.5z"/>
<path class="l" d="M397.8 417.6l2.6 2.9M390.8 420.8l7-3.2"/>
<path d="M383.8 424.6l7-3.8 2.6 3.2-7 4z"/>
<path class="l" d="M383.8 424.6l7-3.8"/>
<path d="M376.8 428.9l7-4.3 2.6 3.4-7 4.5z"/>
<path class="l" d="M376.8 428.9l7-4.3"/>
<path d="M369.8 433.5l7-4.6 2.6 3.6-7 4.8z"/>
<path class="l" d="M376.8 428.9l2.6 3.6M369.8 433.5l7-4.6"/>
<path d="M362.8 438.5l7-5 2.6 3.8-7 5.1z"/>
<path class="l" d="M362.8 438.5l7-5"/>
<path d="M355.8 443.6l7-5.1 2.6 3.9-7 5.5z"/>
<path class="l" d="M355.8 443.6l7-5.1"/>
<path d="M348.8 448.7l7-5.1 2.6 4.3-7 5.8z"/>
<path class="l" d="M355.8 443.6l2.6 4.3M348.8 448.7l7-5.1"/>
<path d="M341.8 453.7l7-5 2.6 5-7 5.7z"/>
<path class="l" d="M341.8 453.7l7-5"/>
<path d="M334.8 458.3l7-4.6 2.6 5.7-7 5.2z"/>
<path class="l" d="M334.8 458.3l7-4.6"/>
<path d="M327.8 462.1l7-3.8 2.6 6.3-7 4.3z"/>
<path class="l" d="M334.8 458.3l2.6 6.3M327.8 462.1l7-3.8"/>
<path d="M320.8 465l7-2.9 2.6 6.8-7 3.3z"/>
<path class="l" d="M320.8 465l7-2.9"/>
<path d="M313.8 466.9l7-1.9 2.6 7.2-7 2.1z"/>
<path class="l" d="M313.8 466.9l7-1.9"/>
<path d="M306.8 467.7l7-.8 2.6 7.4-7 .8z"/>
<path class="l" d="M313.8 466.9l2.6 7.4M306.8 467.7l7-.8"/>
<path d="M299.8 467.4l7 .3 2.6 7.4-7-.6z"/>
<path class="l" d="M299.8 467.4l7 .3"/>
<path d="M292.8 465.8l7 1.6 2.6 7.1-7-1.8z"/>
<path class="l" d="M292.8 465.8l7 1.6"/>
<path d="M285.8 463.1l7 2.7 2.6 6.9-7-3.2z"/>
<path class="l" d="M292.8 465.8l2.6 6.9M285.8 463.1l7 2.7"/>
<path d="M278.8 459.4l7 3.7 2.6 6.4-7-4.2z"/>
<path class="l" d="M278.8 459.4l7 3.7"/>
<path d="M271.8 454.9l7 4.5 2.6 5.9-7-5.1z"/>
<path class="l" d="M271.8 454.9l7 4.5"/>
<path d="M264.8 449.8l7 5.1 2.6 5.3-7-5.6z"/>
<path class="l" d="M271.8 454.9l2.6 5.3M264.8 449.8l7 5.1"/>
<path d="M257.8 444.3l7 5.5 2.6 4.8-7-5.9z"/>
<path class="l" d="M257.8 444.3l7 5.5"/>
<path d="M435.4 410.8l7-.7 2.6 2.1-7 .5z"/>
<path class="l" d="M442.4 410.1l2.6 2.1"/>
<path d="M428.4 411.9l7-1.1 2.6 1.9-7 1zM250.8 438.9l7 5.4 2.6 4.4-7-5.9z"/>
<path class="l" d="M250.8 438.9l7 5.4"/>
<path d="M421.4 413.3l7-1.4 2.6 1.8-7 1.5zM247.2 436.2l3.6 2.7 2.6 3.9-3.6-2.9z"/>
<path class="l" d="M250.8 438.9l2.6 3.9M247.2 436.2l3.6 2.7"/>
<path d="M414.4 415.2l7-1.9 2.6 1.9-7 2.1z"/>
<path class="l" d="M421.4 413.3l2.6 1.9"/>
<path d="M243.6 433.7l3.6 2.5 2.6 3.7-3.6-2.7z"/>
<path class="l" d="M243.6 433.7l3.6 2.5"/>
<path d="M407.4 417.5l7-2.3 2.6 2.1-7 2.6zM239.9 431.4l3.7 2.3 2.6 3.5-3.7-2.5z"/>
<path class="l" d="M239.9 431.4l2.6 3.3M239.9 431.4l3.7 2.3"/>
<path d="M400.4 420.5l7-3 2.6 2.4-7 3.2zM393.4 424l7-3.5 2.6 2.6-7 3.8z"/>
<path class="l" d="M400.4 420.5l2.6 2.6"/>
<path d="M386.4 428l7-4 2.6 2.9-7 4.2zM379.4 432.5l7-4.5 2.6 3.1-7 4.6zM372.4 437.3l7-4.8 2.6 3.2-7 4.9z"/>
<path class="l" d="M379.4 432.5l2.6 3.2"/>
<path d="M365.4 442.4l7-5.1 2.6 3.3-7 5.3zM358.4 447.9l7-5.5 2.6 3.5-7 5.9zM351.4 453.7l7-5.8 2.6 3.9-7 6.3z"/>
<path class="l" d="M358.4 447.9l2.6 3.9"/>
<path d="M344.4 459.4l7-5.7 2.6 4.4-7 6.3zM337.4 464.6l7-5.2 2.6 5-7 5.8zM330.4 468.9l7-4.3 2.6 5.6-7 4.8z"/>
<path class="l" d="M337.4 464.6l2.6 5.6"/>
<path d="M323.4 472.2l7-3.3 2.6 6.1-7 3.6zM316.4 474.3l7-2.1 2.6 6.4-7 2.2zM309.4 475.1l7-.8 2.6 6.5-7 .7z"/>
<path class="l" d="M316.4 474.3l2.6 6.5"/>
<path d="M302.4 474.5l7 .6 2.6 6.4-7-.8zM295.4 472.7l7 1.8 2.6 6.2-7-2.2zM288.4 469.5l7 3.2 2.6 5.8-7-3.6z"/>
<path class="l" d="M295.4 472.7l2.6 5.8"/>
<path d="M281.4 465.3l7 4.2 2.6 5.4-7-4.7zM274.4 460.2l7 5.1 2.6 4.9-7-5.5zM267.4 454.6l7 5.6 2.6 4.5-7-6z"/>
<path class="l" d="M274.4 460.2l2.6 4.5"/>
<path d="M260.4 448.7l7 5.9 2.6 4.1-7-6.2zM438 412.7l7-.5 2.6 2.1-7 .3z"/>
<path class="l" d="M445 412.2l2.6 2.1"/>
<path d="M253.4 442.8l7 5.9 2.6 3.8-7-6.1zM431 413.7l7-1 2.6 1.9-7 1zM424 415.2l7-1.5 2.6 1.9-7 1.6zM249.8 439.9l3.6 2.9 2.6 3.6-3.6-3.1z"/>
<path class="l" d="M253.4 442.8l2.6 3.6"/>
<path d="M417 417.3l7-2.1 2.6 2-7 2.2z"/>
<path class="l" d="M424 415.2l2.6 2"/>
<path d="M246.2 437.2l3.6 2.7 2.6 3.4-3.6-2.9zM410 419.9l7-2.6 2.6 2.1-7 2.8zM242.5 434.7l3.7 2.5 2.6 3.2-3.7-2.7z"/>
<path class="l" d="M242.5 434.7l2.6 3"/>
<path d="M403 423.1l7-3.2 2.6 2.3-7 3.3zM396 426.9l7-3.8 2.6 2.4-7 3.9z"/>
<path class="l" d="M403 423.1l2.6 2.4"/>
<path d="M389 431.1l7-4.2 2.6 2.5-7 4.4zM382 435.7l7-4.6 2.6 2.7-7 4.8zM375 440.6l7-4.9 2.6 2.9-7 5.2z"/>
<path class="l" d="M382 435.7l2.6 2.9"/>
<path d="M368 445.9l7-5.3 2.6 3.2-7 5.6zM361 451.8l7-5.9 2.6 3.5-7 6.1zM354 458.1l7-6.3 2.6 3.7-7 6.7z"/>
<path class="l" d="M361 451.8l2.6 3.7"/>
<path d="M347 464.4l7-6.3 2.6 4.1-7 6.8zM340 470.2l7-5.8 2.6 4.6-7 6.2zM333 475l7-4.8 2.6 5-7 5.1z"/>
<path class="l" d="M340 470.2l2.6 5"/>
<path d="M326 478.6l7-3.6 2.6 5.3-7 3.8zM319 480.8l7-2.2 2.6 5.5-7 2.3zM312 481.5l7-.7 2.6 5.6-7 .7z"/>
<path class="l" d="M319 480.8l2.6 5.6"/>
<path d="M305 480.7l7 .8 2.6 5.6-7-1zM298 478.5l7 2.2 2.6 5.4-7-2.5zM291 474.9l7 3.6 2.6 5.1-7-3.9z"/>
<path class="l" d="M298 478.5l2.6 5.1"/>
<path d="M284 470.2l7 4.7 2.6 4.8-7-5zM277 464.7l7 5.5 2.6 4.5-7-5.8zM270 458.7l7 6 2.6 4.2-7-6.3z"/>
<path class="l" d="M277 464.7l2.6 4.2"/>
<path d="M263 452.5l7 6.2 2.6 3.9-7-6.5zM440.6 414.6l7-.3 2.6 2-7 .4z"/>
<path class="l" d="M447.6 414.3l2.6 2M440.6 414.6l7-.3"/>
<path d="M256 446.4l7 6.1 2.6 3.6-7-6.4zM433.6 415.6l7-1 2.6 2.1-7 1.1z"/>
<path class="l" d="M433.6 415.6l7-1"/>
<path d="M426.6 417.2l7-1.6 2.6 2.2-7 1.6z"/>
<path class="l" d="M426.6 417.2l7-1.6"/>
<path d="M252.4 443.3l3.6 3.1 2.6 3.3-3.6-3.2z"/>
<path class="l" d="M256 446.4l2.6 3.3"/>
<path d="M419.6 419.4l7-2.2 2.6 2.2-7 2.2z"/>
<path class="l" d="M426.6 417.2l2.6 2.2M419.6 419.4l7-2.2"/>
<path d="M248.8 440.4l3.6 2.9 2.6 3.2-3.6-3zM412.6 422.2l7-2.8 2.6 2.2-7 2.8z"/>
<path class="l" d="M412.6 422.2l7-2.8"/>
<path d="M245.1 437.7l3.7 2.7 2.6 3.1-3.7-2.9z"/>
<path class="l" d="M245.1 437.7l2.6 2.9"/>
<path d="M405.6 425.5l7-3.3 2.6 2.2-7 3.3z"/>
<path class="l" d="M405.6 425.5l7-3.3"/>
<path d="M398.6 429.4l7-3.9 2.6 2.2-7 4z"/>
<path class="l" d="M405.6 425.5l2.6 2.2M398.6 429.4l7-3.9"/>
<path d="M391.6 433.8l7-4.4 2.6 2.3-7 4.5z"/>
<path class="l" d="M391.6 433.8l7-4.4"/>
<path d="M384.6 438.6l7-4.8 2.6 2.4-7 5z"/>
<path class="l" d="M384.6 438.6l7-4.8"/>
<path d="M377.6 443.8l7-5.2 2.6 2.6-7 5.7z"/>
<path class="l" d="M384.6 438.6l2.6 2.6M377.6 443.8l7-5.2"/>
<path d="M370.6 449.4l7-5.6 2.6 3.1-7 6.1z"/>
<path class="l" d="M370.6 449.4l7-5.6"/>
<path d="M363.6 455.5l7-6.1 2.6 3.6-7 6.5z"/>
<path class="l" d="M363.6 455.5l7-6.1"/>
<path d="M356.6 462.2l7-6.7 2.6 4-7 6.9z"/>
<path class="l" d="M363.6 455.5l2.6 4M356.6 462.2l7-6.7"/>
<path d="M349.6 469l7-6.8 2.6 4.2-7 6.8z"/>
<path class="l" d="M349.6 469l7-6.8"/>
<path d="M342.6 475.2l7-6.2 2.6 4.2-7 6.3z"/>
<path class="l" d="M342.6 475.2l7-6.2"/>
<path d="M335.6 480.3l7-5.1 2.6 4.3-7 5.3z"/>
<path class="l" d="M342.6 475.2l2.6 4.3M335.6 480.3l7-5.1"/>
<path d="M328.6 484.1l7-3.8 2.6 4.5-7 4z"/>
<path class="l" d="M328.6 484.1l7-3.8"/>
<path d="M321.6 486.4l7-2.3 2.6 4.7-7 2.5z"/>
<path class="l" d="M321.6 486.4l7-2.3"/>
<path d="M314.6 487.1l7-.7 2.6 4.9-7 .7z"/>
<path class="l" d="M321.6 486.4l2.6 4.9M314.6 487.1l7-.7"/>
<path d="M307.6 486.1l7 1 2.6 4.9-7-1.1z"/>
<path class="l" d="M307.6 486.1l7 1"/>
<path d="M300.6 483.6l7 2.5 2.6 4.8-7-2.6z"/>
<path class="l" d="M300.6 483.6l7 2.5"/>
<path d="M293.6 479.7l7 3.9 2.6 4.7-7-4.1z"/>
<path class="l" d="M300.6 483.6l2.6 4.7M293.6 479.7l7 3.9"/>
<path d="M286.6 474.7l7 5 2.6 4.5-7-5.3z"/>
<path class="l" d="M286.6 474.7l7 5"/>
<path d="M279.6 468.9l7 5.8 2.6 4.2-7-6z"/>
<path class="l" d="M279.6 468.9l7 5.8"/>
<path d="M272.6 462.6l7 6.3 2.6 4-7-6.6z"/>
<path class="l" d="M279.6 468.9l2.6 4M272.6 462.6l7 6.3"/>
<path d="M265.6 456.1l7 6.5 2.6 3.7-7-6.7z"/>
<path class="l" d="M265.6 456.1l7 6.5"/>
<path d="M443.2 416.7l7-.4 2.6 1.9-7 .7z"/>
<path class="l" d="M450.2 416.3l2.6 1.9"/>
<path d="M258.6 449.7l7 6.4 2.6 3.5-7-6.6z"/>
<path class="l" d="M258.6 449.7l7 6.4"/>
<path d="M436.2 417.8l7-1.1 2.6 2.2-7 1.2zM429.2 419.4l7-1.6 2.6 2.3-7 1.6zM255 446.5l3.6 3.2 2.6 3.3-3.6-3.3z"/>
<path class="l" d="M258.6 449.7l2.6 3.3M255 446.5l3.6 3.2"/>
<path d="M422.2 421.6l7-2.2 2.6 2.3-7 2.1z"/>
<path class="l" d="M429.2 419.4l2.6 2.3"/>
<path d="M251.4 443.5l3.6 3 2.6 3.2-3.6-3.2z"/>
<path class="l" d="M251.4 443.5l3.6 3"/>
<path d="M415.2 424.4l7-2.8 2.6 2.2-7 2.7zM247.7 440.6l3.7 2.9 2.6 3-3.7-3.1z"/>
<path class="l" d="M247.7 440.6l2.6 2.8M247.7 440.6l3.7 2.9"/>
<path d="M408.2 427.7l7-3.3 2.6 2.1-7 3.2zM401.2 431.7l7-4 2.6 2-7 3.9z"/>
<path class="l" d="M408.2 427.7l2.6 2"/>
<path d="M394.2 436.2l7-4.5 2.6 1.9-7 4.6zM387.2 441.2l7-5 2.6 2-7 5.4zM380.2 446.9l7-5.7 2.6 2.4-7 6.1z"/>
<path class="l" d="M387.2 441.2l2.6 2.4"/>
<path d="M373.2 453l7-6.1 2.6 2.8-7 6.7zM366.2 459.5l7-6.5 2.6 3.4-7 6.9zM359.2 466.4l7-6.9 2.6 3.8-7 7z"/>
<path class="l" d="M366.2 459.5l2.6 3.8"/>
<path d="M352.2 473.2l7-6.8 2.6 3.9-7 6.6zM345.2 479.5l7-6.3 2.6 3.7-7 6.1zM338.2 484.8l7-5.3 2.6 3.5-7 5.4z"/>
<path class="l" d="M345.2 479.5l2.6 3.5"/>
<path d="M331.2 488.8l7-4 2.6 3.6-7 4.2zM324.2 491.3l7-2.5 2.6 3.8-7 2.6zM317.2 492l7-.7 2.6 3.9-7 .8z"/>
<path class="l" d="M324.2 491.3l2.6 3.9"/>
<path d="M310.2 490.9l7 1.1 2.6 4-7-1.1zM303.2 488.3l7 2.6 2.6 4-7-2.7zM296.2 484.2l7 4.1 2.6 3.9-7-4.2z"/>
<path class="l" d="M303.2 488.3l2.6 3.9"/>
<path d="M289.2 478.9l7 5.3 2.6 3.8-7-5.3zM282.2 472.9l7 6 2.6 3.8-7-6.2zM275.2 466.3l7 6.6 2.6 3.6-7-6.7z"/>
<path class="l" d="M282.2 472.9l2.6 3.6"/>
<path d="M268.2 459.6l7 6.7 2.6 3.5-7-7zM445.8 418.9l7-.7 2.6 1.8-7 1z"/>
<path class="l" d="M452.8 418.2l2.6 1.8"/>
<path d="M261.2 453l7 6.6 2.6 3.2-7-6.8zM438.8 420.1l7-1.2 2.6 2.1-7 1.3zM257.6 449.7l3.6 3.3 2.6 3-3.6-3.4z"/>
<path class="l" d="M261.2 453l2.6 3"/>
<path d="M431.8 421.7l7-1.6 2.6 2.2-7 1.6zM254 446.5l3.6 3.2 2.6 2.9-3.6-3.3zM424.8 423.8l7-2.1 2.6 2.2-7 2z"/>
<path class="l" d="M431.8 421.7l2.6 2.2"/>
<path d="M417.8 426.5l7-2.7 2.6 2.1-7 2.5zM250.3 443.4l3.7 3.1 2.6 2.8-3.7-3.1z"/>
<path class="l" d="M250.3 443.4l2.6 2.8"/>
<path d="M410.8 429.7l7-3.2 2.6 1.9-7 3.1zM403.8 433.6l7-3.9 2.6 1.8-7 3.8z"/>
<path class="l" d="M410.8 429.7l2.6 1.8"/>
<path d="M396.8 438.2l7-4.6 2.6 1.7-7 4.6zM389.8 443.6l7-5.4 2.6 1.7-7 5.6zM382.8 449.7l7-6.1 2.6 1.9-7 6.5z"/>
<path class="l" d="M389.8 443.6l2.6 1.9"/>
<path d="M375.8 456.4l7-6.7 2.6 2.3-7 7.2zM368.8 463.3l7-6.9 2.6 2.8-7 7.2zM361.8 470.3l7-7 2.6 3.1-7 7z"/>
<path class="l" d="M368.8 463.3l2.6 3.1"/>
<path d="M354.8 476.9l7-6.6 2.6 3.1-7 6.5zM347.8 483l7-6.1 2.6 3-7 6zM340.8 488.4l7-5.4 2.6 2.9-7 5.3z"/>
<path class="l" d="M347.8 483l2.6 2.9"/>
<path d="M333.8 492.6l7-4.2 2.6 2.8-7 4.2zM326.8 495.2l7-2.6 2.6 2.8-7 2.7zM319.8 496l7-.8 2.6 2.9-7 .8z"/>
<path class="l" d="M326.8 495.2l2.6 2.9"/>
<path d="M312.8 494.9l7 1.1 2.6 2.9-7-1zM305.8 492.2l7 2.7 2.6 3-7-2.8zM298.8 488l7 4.2 2.6 2.9-7-4.2z"/>
<path class="l" d="M305.8 492.2l2.6 2.9"/>
<path d="M291.8 482.7l7 5.3 2.6 2.9-7-5.4zM284.8 476.5l7 6.2 2.6 2.8-7-6.3zM277.8 469.8l7 6.7 2.6 2.7-7-6.8z"/>
<path class="l" d="M284.8 476.5l2.6 2.7"/>
<path d="M270.8 462.8l7 7 2.6 2.6-7-7zM448.4 421l7-1 2.6 1.7-7 1.1z"/>
<path class="l" d="M455.4 420l2.6 1.7M448.4 421l7-1"/>
<path d="M263.8 456l7 6.8 2.6 2.6-7-6.9zM441.4 422.3l7-1.3 2.6 1.8-7 1.3z"/>
<path class="l" d="M441.4 422.3l7-1.3"/>
<path d="M260.2 452.6l3.6 3.4 2.6 2.5-3.6-3.5z"/>
<path class="l" d="M263.8 456l2.6 2.5"/>
<path d="M434.4 423.9l7-1.6 2.6 1.8-7 1.6z"/>
<path class="l" d="M434.4 423.9l7-1.6"/>
<path d="M256.6 449.3l3.6 3.3 2.6 2.4-3.6-3.3zM427.4 425.9l7-2 2.6 1.8-7 1.9z"/>
<path class="l" d="M434.4 423.9l2.6 1.8M427.4 425.9l7-2"/>
<path d="M420.4 428.4l7-2.5 2.6 1.7-7 2.5z"/>
<path class="l" d="M420.4 428.4l7-2.5"/>
<path d="M252.9 446.2l3.7 3.1 2.6 2.4-3.7-3.2z"/>
<path class="l" d="M252.9 446.2l2.6 2.3"/>
<path d="M413.4 431.5l7-3.1 2.6 1.7-7 3z"/>
<path class="l" d="M413.4 431.5l7-3.1"/>
<path d="M406.4 435.3l7-3.8 2.6 1.6-7 3.8z"/>
<path class="l" d="M413.4 431.5l2.6 1.6M406.4 435.3l7-3.8"/>
<path d="M399.4 439.9l7-4.6 2.6 1.6-7 4.5z"/>
<path class="l" d="M399.4 439.9l7-4.6"/>
<path d="M392.4 445.5l7-5.6 2.6 1.5-7 5.7z"/>
<path class="l" d="M392.4 445.5l7-5.6"/>
<path d="M385.4 452l7-6.5 2.6 1.6-7 6.6z"/>
<path class="l" d="M392.4 445.5l2.6 1.6M385.4 452l7-6.5"/>
<path d="M378.4 459.2l7-7.2 2.6 1.7-7 7.3z"/>
<path class="l" d="M378.4 459.2l7-7.2"/>
<path d="M371.4 466.4l7-7.2 2.6 1.8-7 7.4z"/>
<path class="l" d="M371.4 466.4l7-7.2"/>
<path d="M364.4 473.4l7-7 2.6 2-7 7z"/>
<path class="l" d="M371.4 466.4l2.6 2M364.4 473.4l7-7"/>
<path d="M357.4 479.9l7-6.5 2.6 2-7 6.6z"/>
<path class="l" d="M357.4 479.9l7-6.5"/>
<path d="M350.4 485.9l7-6 2.6 2.1-7 6z"/>
<path class="l" d="M350.4 485.9l7-6"/>
<path d="M343.4 491.2l7-5.3 2.6 2.1-7 5.2z"/>
<path class="l" d="M350.4 485.9l2.6 2.1M343.4 491.2l7-5.3"/>
<path d="M336.4 495.4l7-4.2 2.6 2-7 4.2z"/>
<path class="l" d="M336.4 495.4l7-4.2"/>
<path d="M329.4 498.1l7-2.7 2.6 2-7 2.5z"/>
<path class="l" d="M329.4 498.1l7-2.7"/>
<path d="M322.4 498.9l7-.8 2.6 1.8-7 .8z"/>
<path class="l" d="M329.4 498.1l2.6 1.8M322.4 498.9l7-.8"/>
<path d="M315.4 497.9l7 1 2.6 1.8-7-1.1z"/>
<path class="l" d="M315.4 497.9l7 1"/>
<path d="M308.4 495.1l7 2.8 2.6 1.7-7-2.8z"/>
<path class="l" d="M308.4 495.1l7 2.8"/>
<path d="M301.4 490.9l7 4.2 2.6 1.7-7-4.2z"/>
<path class="l" d="M308.4 495.1l2.6 1.7M301.4 490.9l7 4.2"/>
<path d="M294.4 485.5l7 5.4 2.6 1.7-7-5.4z"/>
<path class="l" d="M294.4 485.5l7 5.4"/>
<path d="M287.4 479.2l7 6.3 2.6 1.7-7-6.3z"/>
<path class="l" d="M287.4 479.2l7 6.3"/>
<path d="M280.4 472.4l7 6.8 2.6 1.7-7-6.8z"/>
<path class="l" d="M287.4 479.2l2.6 1.7M280.4 472.4l7 6.8"/>
<path d="M273.4 465.4l7 7 2.6 1.7-7-7z"/>
<path class="l" d="M273.4 465.4l7 7"/>
<path d="M451 422.8l7-1.1 2.6 1.7-7 1.1z"/>
<path class="l" d="M458 421.7l2.6 1.7"/>
<path d="M266.4 458.5l7 6.9 2.6 1.7-7-6.9z"/>
<path class="l" d="M266.4 458.5l7 6.9"/>
<path d="M444 424.1l7-1.3 2.6 1.7-7 1.2zM262.8 455l3.6 3.5 2.6 1.7-3.6-3.4z"/>
<path class="l" d="M266.4 458.5l2.6 1.7M262.8 455l3.6 3.5"/>
<path d="M437 425.7l7-1.6 2.6 1.6-7 1.5zM259.2 451.7l3.6 3.3 2.6 1.8-3.6-3.3z"/>
<path class="l" d="M259.2 451.7l3.6 3.3"/>
<path d="M430 427.6l7-1.9 2.6 1.5-7 2z"/>
<path class="l" d="M437 425.7l2.6 1.5"/>
<path d="M255.5 448.5l3.7 3.2 2.6 1.8-3.7-3.2z"/>
<path class="l" d="M255.5 448.5l2.6 1.8M255.5 448.5l3.7 3.2"/>
<path d="M423 430.1l7-2.5 2.6 1.6-7 2.4zM416 433.1l7-3 2.6 1.5-7 3zM409 436.9l7-3.8 2.6 1.5-7 3.7z"/>
<path class="l" d="M416 433.1l2.6 1.5"/>
<path d="M402 441.4l7-4.5 2.6 1.4-7 4.5zM395 447.1l7-5.7 2.6 1.4-7 5.5zM388 453.7l7-6.6 2.6 1.2-7 6.5z"/>
<path class="l" d="M395 447.1l2.6 1.2"/>
<path d="M381 461l7-7.3 2.6 1.1-7 7.2zM374 468.4l7-7.4 2.6 1-7 7.4zM367 475.4l7-7 2.6 1-7 7.2z"/>
<path class="l" d="M374 468.4l2.6 1"/>
<path d="M360 482l7-6.6 2.6 1.2-7 6.7zM353 488l7-6 2.6 1.3-7 6.1zM346 493.2l7-5.2 2.6 1.4-7 5.1z"/>
<path class="l" d="M353 488l2.6 1.4"/>
<path d="M339 497.4l7-4.2 2.6 1.3-7 3.9zM332 499.9l7-2.5 2.6 1-7 2.4zM325 500.7l7-.8 2.6 .9-7 .6z"/>
<path class="l" d="M332 499.9l2.6 .9"/>
<path d="M318 499.6l7 1.1 2.6 .7-7-1.1zM311 496.8l7 2.8 2.6 .7-7-2.8zM304 492.6l7 4.2 2.6 .7-7-4.2z"/>
<path class="l" d="M311 496.8l2.6 .7"/>
<path d="M297 487.2l7 5.4 2.6 .7-7-5.4zM290 480.9l7 6.3 2.6 .7-7-6.2zM283 474.1l7 6.8 2.6 .8-7-6.7z"/>
<path class="l" d="M290 480.9l2.6 .8"/>
<path d="M276 467.1l7 7 2.6 .9-7-6.8zM453.6 424.5l7-1.1 2.6 1.8-7 .9z"/>
<path class="l" d="M460.6 423.4l2.6 1.8"/>
<path d="M269 460.2l7 6.9 2.6 1.1-7-6.8zM446.6 425.7l7-1.2 2.6 1.6-7 1.1zM265.4 456.8l3.6 3.4 2.6 1.2-3.6-3.3z"/>
<path class="l" d="M269 460.2l2.6 1.2"/>
<path d="M439.6 427.2l7-1.5 2.6 1.5-7 1.5zM261.8 453.5l3.6 3.3 2.6 1.3-3.6-3.3zM432.6 429.2l7-2 2.6 1.5-7 1.9z"/>
<path class="l" d="M439.6 427.2l2.6 1.5"/>
<path d="M258.1 450.3l3.7 3.2 2.6 1.3-3.7-3z"/>
<path class="l" d="M258.1 450.3l2.6 1.5"/>
<path d="M425.6 431.6l7-2.4 2.6 1.4-7 2.4zM418.6 434.6l7-3 2.6 1.4-7 3zM411.6 438.3l7-3.7 2.6 1.4-7 3.7z"/>
<path class="l" d="M418.6 434.6l2.6 1.4"/>
<path d="M404.6 442.8l7-4.5 2.6 1.4-7 4.4zM397.6 448.3l7-5.5 2.6 1.3-7 5.3zM390.6 454.8l7-6.5 2.6 1.1-7 6.3z"/>
<path class="l" d="M397.6 448.3l2.6 1.1"/>
<path d="M383.6 462l7-7.2 2.6 .9-7 6.9zM376.6 469.4l7-7.4 2.6 .6-7 7.2zM369.6 476.6l7-7.2 2.6 .4-7 7.2z"/>
<path class="l" d="M376.6 469.4l2.6 .4"/>
<path d="M362.6 483.3l7-6.7 2.6 .4-7 6.9zM355.6 489.4l7-6.1 2.6 .6-7 6.1zM348.6 494.5l7-5.1 2.6 .6-7 5.1z"/>
<path class="l" d="M355.6 489.4l2.6 .6"/>
<path d="M341.6 498.4l7-3.9 2.6 .6-7 3.7zM334.6 500.8l7-2.4 2.6 .4-7 2.2zM327.6 501.4l7-.6 2.6 .2-7 .5z"/>
<path class="l" d="M334.6 500.8l2.6 .2"/>
<path d="M320.6 500.3l7 1.1 2.6 .1-7-1.2zM313.6 497.5l7 2.8 2.6 0-7-2.7zM306.6 493.3l7 4.2 2.6 .1-7-4.2z"/>
<path class="l" d="M313.6 497.5l2.6 .1"/>
<path d="M299.6 487.9l7 5.4 2.6 .1-7-5.3zM292.6 481.7l7 6.2 2.6 .2-7-6.1zM285.6 475l7 6.7 2.6 .3-7-6.4z"/>
<path class="l" d="M292.6 481.7l2.6 .3"/>
<path d="M278.6 468.2l7 6.8 2.6 .6-7-6.7zM456.2 426.1l7-.9 2.6 1.8-7 .7z"/>
<path class="l" d="M463.2 425.2l2.6 1.8M456.2 426.1l7-.9"/>
<path d="M271.6 461.4l7 6.8 2.6 .7-7-6.5zM449.2 427.2l7-1.1 2.6 1.6-7 1z"/>
<path class="l" d="M449.2 427.2l7-1.1"/>
<path d="M268 458.1l3.6 3.3 2.6 1-3.6-3.3z"/>
<path class="l" d="M271.6 461.4l2.6 1"/>
<path d="M442.2 428.7l7-1.5 2.6 1.5-7 1.4z"/>
<path class="l" d="M442.2 428.7l7-1.5"/>
<path d="M264.4 454.8l3.6 3.3 2.6 1-3.6-3.1zM435.2 430.6l7-1.9 2.6 1.4-7 1.9z"/>
<path class="l" d="M442.2 428.7l2.6 1.4M435.2 430.6l7-1.9"/>
<path d="M260.7 451.8l3.7 3 2.6 1.2-3.7-3z"/>
<path class="l" d="M260.7 451.8l2.6 1.2"/>
<path d="M428.2 433l7-2.4 2.6 1.4-7 2.4z"/>
<path class="l" d="M428.2 433l7-2.4"/>
<path d="M421.2 436l7-3 2.6 1.4-7 3z"/>
<path class="l" d="M421.2 436l7-3"/>
<path d="M414.2 439.7l7-3.7 2.6 1.4-7 3.7z"/>
<path class="l" d="M421.2 436l2.6 1.4M414.2 439.7l7-3.7"/>
<path d="M407.2 444.1l7-4.4 2.6 1.4-7 4.3z"/>
<path class="l" d="M407.2 444.1l7-4.4"/>
<path d="M400.2 449.4l7-5.3 2.6 1.3-7 5.1z"/>
<path class="l" d="M400.2 449.4l7-5.3"/>
<path d="M393.2 455.7l7-6.3 2.6 1.1-7 5.9z"/>
<path class="l" d="M400.2 449.4l2.6 1.1M393.2 455.7l7-6.3"/>
<path d="M386.2 462.6l7-6.9 2.6 .7-7 6.5z"/>
<path class="l" d="M386.2 462.6l7-6.9"/>
<path d="M379.2 469.8l7-7.2 2.6 .3-7 6.9z"/>
<path class="l" d="M379.2 469.8l7-7.2"/>
<path d="M372.2 477l7-7.2 2.6 0-7 7.1z"/>
<path class="l" d="M379.2 469.8l2.6 0M372.2 477l7-7.2"/>
<path d="M365.2 483.9l7-6.9 2.6-.1-7 6.9z"/>
<path class="l" d="M365.2 483.9l7-6.9"/>
<path d="M358.2 490l7-6.1 2.6-.1-7 6.1z"/>
<path class="l" d="M358.2 490l7-6.1"/>
<path d="M351.2 495.1l7-5.1 2.6-.1-7 5z"/>
<path class="l" d="M358.2 490l2.6-.1M351.2 495.1l7-5.1"/>
<path d="M344.2 498.8l7-3.7 2.6-.2-7 3.7z"/>
<path class="l" d="M344.2 498.8l7-3.7"/>
<path d="M337.2 501l7-2.2 2.6-.2-7 2.2z"/>
<path class="l" d="M337.2 501l7-2.2"/>
<path d="M330.2 501.5l7-.5 2.6-.2-7 .4z"/>
<path class="l" d="M337.2 501l2.6-.2M330.2 501.5l7-.5"/>
<path d="M323.2 500.3l7 1.2 2.6-.3-7-1.1z"/>
<path class="l" d="M323.2 500.3l7 1.2"/>
<path d="M316.2 497.6l7 2.7 2.6-.2-7-2.6z"/>
<path class="l" d="M316.2 497.6l7 2.7"/>
<path d="M309.2 493.4l7 4.2 2.6-.1-7-4.1z"/>
<path class="l" d="M316.2 497.6l2.6-.1M309.2 493.4l7 4.2"/>
<path d="M302.2 488.1l7 5.3 2.6 0-7-5.1z"/>
<path class="l" d="M302.2 488.1l7 5.3"/>
<path d="M295.2 482l7 6.1 2.6 .2-7-5.9z"/>
<path class="l" d="M295.2 482l7 6.1"/>
<path d="M288.2 475.6l7 6.4 2.6 .4-7-6.3z"/>
<path class="l" d="M295.2 482l2.6 .4M288.2 475.6l7 6.4"/>
<path d="M281.2 468.9l7 6.7 2.6 .5-7-6.4z"/>
<path class="l" d="M281.2 468.9l7 6.7"/>
<path d="M458.8 427.7l7-.7 2.6 2.1-7 .4z"/>
<path class="l" d="M465.8 427l2.6 2.1"/>
<path d="M274.2 462.4l7 6.5 2.6 .8-7-6.4z"/>
<path class="l" d="M274.2 462.4l7 6.5"/>
<path d="M451.8 428.7l7-1 2.6 1.8-7 .9zM270.6 459.1l3.6 3.3 2.6 .9-3.6-3.2z"/>
<path class="l" d="M274.2 462.4l2.6 .9M270.6 459.1l3.6 3.3"/>
<path d="M444.8 430.1l7-1.4 2.6 1.7-7 1.4zM267 456l3.6 3.1 2.6 1-3.6-3z"/>
<path class="l" d="M267 456l3.6 3.1"/>
<path d="M437.8 432l7-1.9 2.6 1.7-7 1.8z"/>
<path class="l" d="M444.8 430.1l2.6 1.7"/>
<path d="M430.8 434.4l7-2.4 2.6 1.6-7 2.4zM263.3 453l3.7 3 2.6 1.1-3.7-2.9z"/>
<path class="l" d="M263.3 453l2.6 1.2M263.3 453l3.7 3"/>
<path d="M423.8 437.4l7-3 2.6 1.6-7 3zM416.8 441.1l7-3.7 2.6 1.6-7 3.6z"/>
<path class="l" d="M423.8 437.4l2.6 1.6"/>
<path d="M409.8 445.4l7-4.3 2.6 1.5-7 4.2zM402.8 450.5l7-5.1 2.6 1.4-7 4.9zM395.8 456.4l7-5.9 2.6 1.2-7 5.6z"/>
<path class="l" d="M402.8 450.5l2.6 1.2"/>
<path d="M388.8 462.9l7-6.5 2.6 .9-7 6.1zM381.8 469.8l7-6.9 2.6 .5-7 6.5zM374.8 476.9l7-7.1 2.6 .1-7 6.6z"/>
<path class="l" d="M381.8 469.8l2.6 .1"/>
<path d="M367.8 483.8l7-6.9 2.6-.4-7 6.6zM360.8 489.9l7-6.1 2.6-.7-7 5.9zM353.8 494.9l7-5 2.6-.9-7 5.1z"/>
<path class="l" d="M360.8 489.9l2.6-.9"/>
<path d="M346.8 498.6l7-3.7 2.6-.8-7 3.8zM339.8 500.8l7-2.2 2.6-.7-7 2.4zM332.8 501.2l7-.4 2.6-.5-7 .6z"/>
<path class="l" d="M339.8 500.8l2.6-.5"/>
<path d="M325.8 500.1l7 1.1 2.6-.3-7-1zM318.8 497.5l7 2.6 2.6-.2-7-2.4zM311.8 493.4l7 4.1 2.6 0-7-3.9z"/>
<path class="l" d="M318.8 497.5l2.6 0"/>
<path d="M304.8 488.3l7 5.1 2.6 .2-7-4.8zM297.8 482.4l7 5.9 2.6 .5-7-5.7zM290.8 476.1l7 6.3 2.6 .7-7-6.1z"/>
<path class="l" d="M297.8 482.4l2.6 .7"/>
<path d="M283.8 469.7l7 6.4 2.6 .9-7-6.3zM461.4 429.5l7-.4 2.6 2.2-7 .4z"/>
<path class="l" d="M468.4 429.1l2.6 2.2M464 431.7l7-.4"/>
<path d="M276.8 463.3l7 6.4 2.6 1-7-6.2zM454.4 430.4l7-.9 2.6 2.2-7 .7z"/>
<path class="l" d="M457 432.4l7-.7"/>
<path d="M273.2 460.1l3.6 3.2 2.6 1.2-3.6-3.1z"/>
<path class="l" d="M276.8 463.3l2.6 1.2"/>
<path d="M447.4 431.8l7-1.4 2.6 2-7 1.3z"/>
<path class="l" d="M450 433.7l7-1.3"/>
<path d="M269.6 457.1l3.6 3 2.6 1.3-3.6-3zM440.4 433.6l7-1.8 2.6 1.9-7 1.8z"/>
<path class="l" d="M447.4 431.8l2.6 1.9M443 435.5l7-1.8"/>
<path d="M433.4 436l7-2.4 2.6 1.9-7 2.3z"/>
<path class="l" d="M436 437.8l7-2.3"/>
<path d="M265.9 454.2l3.7 2.9 2.6 1.3-3.7-2.8z"/>
<path class="l" d="M265.9 454.2l2.6 1.4"/>
<path d="M426.4 439l7-3 2.6 1.8-7 2.9z"/>
<path class="l" d="M429 440.7l7-2.9"/>
<path d="M419.4 442.6l7-3.6 2.6 1.7-7 3.5z"/>
<path class="l" d="M426.4 439l2.6 1.7M422 444.2l7-3.5"/>
<path d="M412.4 446.8l7-4.2 2.6 1.6-7 4.1z"/>
<path class="l" d="M415 448.3l7-4.1"/>
<path d="M405.4 451.7l7-4.9 2.6 1.5-7 4.8z"/>
<path class="l" d="M408 453.1l7-4.8"/>
<path d="M398.4 457.3l7-5.6 2.6 1.4-7 5.4z"/>
<path class="l" d="M405.4 451.7l2.6 1.4M401 458.5l7-5.4"/>
<path d="M391.4 463.4l7-6.1 2.6 1.2-7 5.8z"/>
<path class="l" d="M394 464.3l7-5.8"/>
<path d="M384.4 469.9l7-6.5 2.6 .9-7 5.9z"/>
<path class="l" d="M387 470.2l7-5.9"/>
<path d="M377.4 476.5l7-6.6 2.6 .3-7 5.9z"/>
<path class="l" d="M384.4 469.9l2.6 .3M380 476.1l7-5.9"/>
<path d="M370.4 483.1l7-6.6 2.6-.4-7 5.8z"/>
<path class="l" d="M373 481.9l7-5.8"/>
<path d="M363.4 489l7-5.9 2.6-1.2-7 5.5z"/>
<path class="l" d="M366 487.4l7-5.5"/>
<path d="M356.4 494.1l7-5.1 2.6-1.6-7 5.2z"/>
<path class="l" d="M363.4 489l2.6-1.6M359 492.6l7-5.2"/>
<path d="M349.4 497.9l7-3.8 2.6-1.5-7 4.3z"/>
<path class="l" d="M352 496.9l7-4.3"/>
<path d="M342.4 500.3l7-2.4 2.6-1-7 2.9z"/>
<path class="l" d="M345 499.8l7-2.9"/>
<path d="M335.4 500.9l7-.6 2.6-.5-7 1.1z"/>
<path class="l" d="M342.4 500.3l2.6-.5M338 500.9l7-1.1"/>
<path d="M328.4 499.9l7 1 2.6 0-7-.7z"/>
<path class="l" d="M331 500.2l7 .7"/>
<path d="M321.4 497.5l7 2.4 2.6 .3-7-2.2z"/>
<path class="l" d="M324 498l7 2.2"/>
<path d="M314.4 493.6l7 3.9 2.6 .5-7-3.5z"/>
<path class="l" d="M321.4 497.5l2.6 .5M317 494.5l7 3.5"/>
<path d="M307.4 488.8l7 4.8 2.6 .9-7-4.5z"/>
<path class="l" d="M310 490l7 4.5"/>
<path d="M300.4 483.1l7 5.7 2.6 1.2-7-5.4z"/>
<path class="l" d="M303 484.6l7 5.4"/>
<path d="M293.4 477l7 6.1 2.6 1.5-7-5.9z"/>
<path class="l" d="M300.4 483.1l2.6 1.5M296 478.7l7 5.9"/>
<path d="M286.4 470.7l7 6.3 2.6 1.7-7-6.2z"/>
<path class="l" d="M289 472.5l7 6.2"/>
<path d="M279.4 464.5l7 6.2 2.6 1.8-7-6.2z"/>
<path class="l" d="M282 466.3l7 6.2"/>
<path d="M275.8 461.4l3.6 3.1 2.6 1.8-3.6-3.1z"/>
<path class="l" d="M279.4 464.5l2.6 1.8M278.4 463.2l3.6 3.1"/>
<path d="M272.2 458.4l3.6 3 2.6 1.8-3.6-3z"/>
<path class="l" d="M274.8 460.2l3.6 3"/>
<path d="M268.5 455.6l3.7 2.8 2.6 1.8-3.7-2.8z"/>
<path class="l" d="M268.5 455.6l2.6 1.8M271.1 457.4l3.7 2.8"/></g>
<path d="M197.5 562.7L197.5 288L730.1 280.9L730.1 555.8ZM730.1 280.9L804.9 333.1L804.9 608L730.1 555.8M197.5 562.7L273 616.2L804.9 608M804.9 608l11.2 7.8M698.5 609.6l11.2 7.8M592.1 611.3l11.2 7.8M485.8 612.9l11.2 7.8M379.4 614.6l11.2 7.8M273 616.2l11.2 7.8" fill="none" stroke="#777" stroke-width="1" opacity="0.35"/>
<path d="M713 567.4L772.2 609.8" stroke="#6e6e6e" stroke-width="2.9" stroke-dasharray="2.9 2.88" fill="none"/>
<circle cx="329" cy="488.5" r="8.5" fill="#000"/>
<circle cx="595.6" cy="401.9" r="9" fill="#000"/>
<path d="M698.2 559.1C697.2 560.4 694.4 564.6 692.4 567.2C690.4 569.8 688.5 572.3 686.5 574.5C684.5 576.7 682.8 578.6 680.7 580.3C678.6 582 676.3 583.5 674.1 584.7C671.9 585.9 669.3 586.7 667.5 587.6C665.7 588.4 663.8 589.4 663.1 589.8" stroke="#ff00ff" stroke-width="1.8" fill="none" stroke-linecap="round"/>
<path d="M603.8 406.9C605.2 407.5 609 408.9 612 410.5C615 412.2 618.2 414.2 622 416.8C625.8 419.4 631.1 423.4 635 426.4C638.9 429.4 641.6 431.6 645.4 434.7C649.2 437.8 654.8 442.4 658 445.2C661.2 448 661.9 449.2 664.7 451.4C667.5 453.6 671.3 455.9 674.7 458.2C678.1 460.5 681.6 463.1 685 465C688.4 467 690.6 468.2 695.1 469.9C699.6 471.7 706.8 473.9 711.8 475.5C716.8 477.1 721.1 478.3 725 479.4C728.9 480.5 731.9 481.1 735.4 482C738.9 482.9 742.8 484 745.9 484.7C749 485.4 752 485.5 754.2 486.2C756.5 486.9 758.1 487.8 759.4 488.8C760.7 489.8 761.6 490.9 761.8 492C762 493.1 761.6 494.3 760.5 495.6C759.4 496.9 757.3 498.3 755.3 499.8C753.3 501.3 750.7 503 748.5 504.5C746.3 506.1 744.2 507.6 742.2 509.1C740.2 510.6 738.3 511.8 736.3 513.3C734.3 514.8 732.5 516.1 730.3 518.2C728.1 520.4 725.2 523.7 723 526.2C720.8 528.8 719 531.1 717.2 533.5C715.5 535.9 713.7 538.6 712.5 540.3C711.3 542 711.3 542 709.9 543.8C708.5 545.6 706 548.5 704.1 551.1C702.2 553.6 700.2 556.4 698.2 559.1C696.2 561.8 693.4 565.9 692.4 567.2" stroke="#ff00ff" stroke-width="2.4" fill="none" stroke-linecap="round"/>
<polygon fill="#ff00ff" points="657.6,445.7 644.1,444.8 651.2,441.9 650.5,434.2"/>
<polygon fill="#ff00ff" points="665.1,451.9 651.6,451.3 658.7,448.2 657.8,440.5"/>
<polygon fill="#ff00ff" points="755.3,485.8 741,489 747,484.5 742.7,478.3"/>
<polygon fill="#ff00ff" points="720.2,533 725.1,519.7 725.8,527.2 733.3,527.6"/>
<polygon fill="#ff00ff" points="712.1,540.8 717.3,527.2 717.9,534.8 725.5,535.1"/>
<text y="321.5" font-size="23.1"><tspan x="471.8">(e) </tspan><tspan x="506.2">rate-induced </tspan><tspan x="641.2">tipping</tspan></text>
<text transform="translate(173.9 465.1) rotate(-90)" font-size="23" textLength="90" lengthAdjust="spacingAndGlyphs">Potential</text>
<text transform="translate(125 550.7) rotate(35.6)" font-size="23" textLength="158" lengthAdjust="spacingAndGlyphs">State variable 2</text>
<text y="671.9" font-size="23.1"><tspan x="543.4">State </tspan><tspan x="604.2">variable </tspan><tspan x="688.3">1</tspan></text>
</g>
</svg></body></html>
